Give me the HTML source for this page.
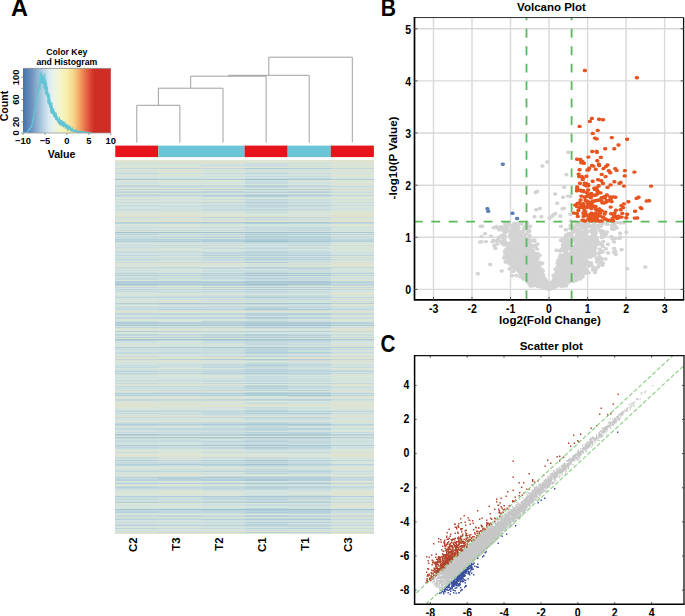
<!DOCTYPE html>
<html><head><meta charset="utf-8"><title>Figure</title>
<style>html,body{margin:0;padding:0;background:#fff;}body{width:685px;height:616px;overflow:hidden;font-family:"Liberation Sans",sans-serif;}svg{display:block;}</style>
</head><body>
<svg width="685" height="616" viewBox="0 0 685 616"><text x="10.9" y="15.9" font-size="23.5" font-weight="bold" font-family="Liberation Sans, sans-serif">A</text>
<text x="66.8" y="55" font-size="8.7" font-weight="bold" text-anchor="middle" font-family="Liberation Sans, sans-serif">Color Key</text>
<text x="66.8" y="64.6" font-size="8.7" font-weight="bold" text-anchor="middle" font-family="Liberation Sans, sans-serif">and Histogram</text>
<defs><linearGradient id="ck" x1="0" x2="1" y1="0" y2="0"><stop offset="0.000" stop-color="#4672ac"/><stop offset="0.100" stop-color="#6d93bf"/><stop offset="0.175" stop-color="#97b8d5"/><stop offset="0.250" stop-color="#c2d9e8"/><stop offset="0.300" stop-color="#dcebf2"/><stop offset="0.350" stop-color="#e9f3ea"/><stop offset="0.425" stop-color="#f4f5c8"/><stop offset="0.500" stop-color="#f8eeac"/><stop offset="0.575" stop-color="#f7d58b"/><stop offset="0.625" stop-color="#f4b26e"/><stop offset="0.675" stop-color="#ee8a56"/><stop offset="0.725" stop-color="#e46443"/><stop offset="0.775" stop-color="#d8412f"/><stop offset="0.815" stop-color="#cf2e27"/><stop offset="1.000" stop-color="#cf2e27"/></linearGradient></defs>
<rect x="23.0" y="68.4" width="87.8" height="64.6" fill="url(#ck)"/>
<polyline points="23.00,133.00 23.23,132.91 23.46,132.94 23.69,132.98 23.92,132.88 24.15,132.92 24.37,132.70 24.60,132.43 24.83,132.70 25.06,132.68 25.29,132.42 25.52,132.40 25.75,132.40 25.98,132.57 26.21,132.33 26.44,132.12 26.66,132.53 26.89,132.28 27.12,132.58 27.35,132.27 27.58,132.17 27.81,131.43 28.04,131.49 28.27,130.68 28.50,130.42 28.73,130.26 28.96,130.94 29.18,129.84 29.41,129.34 29.64,128.98 29.87,129.47 30.10,128.68 30.33,128.65 30.56,128.29 30.79,127.01 31.02,127.73 31.25,127.01 31.47,126.20 31.70,126.76 31.93,125.56 32.16,124.18 32.39,122.97 32.62,122.71 32.85,120.48 33.08,118.17 33.31,119.42 33.54,116.05 33.77,115.49 33.99,114.99 34.22,111.11 34.45,111.10 34.68,111.93 34.91,109.33 35.14,107.53 35.37,107.16 35.60,104.90 35.83,104.55 36.06,102.35 36.28,100.03 36.51,101.37 36.74,98.90 36.97,98.45 37.20,96.33 37.43,96.81 37.66,94.65 37.89,92.78 38.12,89.86 38.35,88.14 38.57,90.48 38.80,88.74 39.03,85.61 39.26,88.74 39.49,85.45 39.72,84.17 39.95,77.86 40.18,79.15 40.41,82.30 40.64,81.55 40.87,80.14 41.09,71.84 41.32,79.12 41.55,78.98 41.78,76.64 42.01,78.99 42.24,79.69 42.47,83.85 42.70,79.70 42.93,81.85 43.16,75.68 43.38,78.17 43.61,81.30 43.84,78.90 44.07,83.34 44.30,78.16 44.53,82.78 44.76,81.19 44.99,89.45 45.22,83.95 45.45,92.68 45.68,94.83 45.90,89.13 46.13,92.24 46.36,89.18 46.59,82.48 46.82,94.59 47.05,94.71 47.28,92.65 47.51,92.55 47.74,95.78 47.97,96.77 48.19,94.60 48.42,96.13 48.65,102.16 48.88,99.92 49.11,100.44 49.34,104.78 49.57,101.54 49.80,105.88 50.03,101.16 50.26,104.01 50.49,104.81 50.71,107.30 50.94,106.39 51.17,112.32 51.40,110.27 51.63,106.48 51.86,113.99 52.09,106.12 52.32,113.79 52.55,107.39 52.78,112.23 53.00,108.35 53.23,110.57 53.46,115.43 53.69,108.66 53.92,108.69 54.15,113.03 54.38,114.04 54.61,114.23 54.84,116.70 55.07,112.17 55.30,116.59 55.52,115.91 55.75,118.11 55.98,118.19 56.21,120.11 56.44,114.96 56.67,118.56 56.90,116.65 57.13,119.17 57.36,121.12 57.59,120.83 57.81,121.46 58.04,120.47 58.27,121.39 58.50,121.39 58.73,123.66 58.96,122.67 59.19,118.04 59.42,122.70 59.65,123.58 59.88,121.06 60.11,119.20 60.33,124.74 60.56,122.55 60.79,123.49 61.02,125.71 61.25,121.28 61.48,122.82 61.71,122.80 61.94,124.42 62.17,122.42 62.40,124.33 62.62,123.78 62.85,125.61 63.08,125.93 63.31,121.71 63.54,125.00 63.77,123.81 64.00,124.51 64.23,125.33 64.46,125.58 64.69,123.89 64.91,125.54 65.14,125.45 65.37,125.33 65.60,123.68 65.83,124.62 66.06,125.24 66.29,126.83 66.52,128.19 66.75,124.87 66.98,125.01 67.21,126.79 67.43,125.96 67.66,125.78 67.89,125.88 68.12,125.92 68.35,127.96 68.58,125.44 68.81,129.27 69.04,126.60 69.27,127.21 69.50,126.86 69.72,125.72 69.95,126.37 70.18,129.78 70.41,130.55 70.64,127.62 70.87,129.94 71.10,128.87 71.33,128.01 71.56,130.99 71.79,131.61 72.02,129.07 72.24,129.43 72.47,129.87 72.70,129.69 72.93,130.75 73.16,131.52 73.39,130.27 73.62,131.18 73.85,131.93 74.08,130.01 74.31,130.66 74.53,130.37 74.76,131.72 74.99,131.54 75.22,131.86 75.45,131.80 75.68,130.93 75.91,131.77 76.14,130.88 76.37,130.93 76.60,129.62 76.83,132.38 77.05,130.61 77.28,131.41 77.51,131.39 77.74,132.52 77.97,131.80 78.20,130.92 78.43,131.58 78.66,131.49 78.89,131.80 79.12,130.79 79.34,131.67 79.57,133.00 79.80,132.21 80.03,133.00 80.26,133.00 80.49,132.19 80.72,130.98 80.95,131.87 81.18,132.70 81.41,132.58 81.64,131.30 81.86,131.95 82.09,132.05 82.32,132.15 82.55,132.13 82.78,131.71 83.01,131.90 83.24,132.13 83.47,132.87 83.70,132.05 83.93,132.73 84.15,131.82 84.38,133.00 84.61,132.53 84.84,132.48 85.07,133.00 85.30,131.66 85.53,131.82 85.76,132.77 85.99,132.20 86.22,132.41 86.45,133.00 86.67,132.50 86.90,132.66 87.13,132.62 87.36,133.00 87.59,132.81 87.82,132.78 88.05,132.23 88.28,132.61 88.51,132.77 88.74,132.18 88.96,133.00 89.19,132.97 89.42,133.00 89.65,132.28 89.88,132.53 90.11,132.57 90.34,132.68 90.57,132.89 90.80,132.88 91.03,133.00 91.25,133.00 91.48,132.98" fill="none" stroke="#62c4d4" stroke-width="0.85" stroke-opacity="0.85"/>
<polyline points="23.00,132.82 23.23,132.88 23.46,132.91 23.69,132.94 23.92,132.90 24.15,132.50 24.37,132.62 24.60,132.65 24.83,132.68 25.06,132.77 25.29,132.53 25.52,132.29 25.75,132.50 25.98,132.42 26.21,132.37 26.44,132.25 26.66,132.59 26.89,132.23 27.12,132.33 27.35,131.70 27.58,131.86 27.81,131.17 28.04,130.55 28.27,130.88 28.50,130.71 28.73,130.12 28.96,129.90 29.18,130.04 29.41,129.11 29.64,128.10 29.87,128.86 30.10,128.55 30.33,128.69 30.56,127.70 30.79,128.24 31.02,127.89 31.25,126.28 31.47,127.22 31.70,125.78 31.93,124.54 32.16,124.08 32.39,122.62 32.62,120.30 32.85,120.70 33.08,119.80 33.31,119.25 33.54,116.80 33.77,114.21 33.99,113.43 34.22,114.07 34.45,112.77 34.68,111.19 34.91,109.10 35.14,108.41 35.37,106.70 35.60,105.36 35.83,104.83 36.06,103.22 36.28,101.58 36.51,100.61 36.74,98.51 36.97,95.34 37.20,95.70 37.43,95.09 37.66,96.20 37.89,91.94 38.12,93.99 38.35,91.91 38.57,87.22 38.80,86.47 39.03,86.83 39.26,88.31 39.49,85.31 39.72,86.46 39.95,80.32 40.18,72.86 40.41,80.10 40.64,83.22 40.87,83.93 41.09,78.40 41.32,78.07 41.55,82.52 41.78,77.62 42.01,83.26 42.24,74.29 42.47,74.90 42.70,75.21 42.93,81.98 43.16,78.34 43.38,81.35 43.61,82.77 43.84,82.96 44.07,87.19 44.30,88.13 44.53,79.59 44.76,84.25 44.99,83.55 45.22,81.41 45.45,92.85 45.68,90.07 45.90,87.33 46.13,87.42 46.36,91.18 46.59,86.92 46.82,90.82 47.05,96.81 47.28,96.67 47.51,91.46 47.74,93.57 47.97,102.55 48.19,92.42 48.42,95.87 48.65,94.34 48.88,100.90 49.11,101.50 49.34,105.01 49.57,94.46 49.80,103.79 50.03,99.30 50.26,106.52 50.49,104.58 50.71,110.48 50.94,107.16 51.17,103.68 51.40,110.61 51.63,104.46 51.86,107.04 52.09,111.39 52.32,110.35 52.55,110.71 52.78,110.08 53.00,111.86 53.23,113.11 53.46,112.20 53.69,114.55 53.92,115.68 54.15,112.99 54.38,111.15 54.61,117.61 54.84,114.32 55.07,116.38 55.30,117.62 55.52,113.79 55.75,117.47 55.98,113.35 56.21,119.00 56.44,116.88 56.67,118.72 56.90,120.32 57.13,117.96 57.36,120.01 57.59,118.95 57.81,120.43 58.04,122.66 58.27,120.84 58.50,120.69 58.73,119.06 58.96,122.87 59.19,121.33 59.42,124.72 59.65,120.31 59.88,123.77 60.11,125.28 60.33,122.12 60.56,120.10 60.79,125.14 61.02,124.47 61.25,123.98 61.48,124.82 61.71,122.24 61.94,124.52 62.17,124.51 62.40,122.36 62.62,124.86 62.85,122.94 63.08,125.51 63.31,126.06 63.54,127.25 63.77,121.17 64.00,124.98 64.23,124.20 64.46,124.80 64.69,124.65 64.91,124.98 65.14,122.18 65.37,127.00 65.60,127.94 65.83,127.23 66.06,127.86 66.29,124.84 66.52,124.90 66.75,127.70 66.98,128.47 67.21,127.10 67.43,124.74 67.66,130.88 67.89,126.30 68.12,128.68 68.35,125.93 68.58,128.94 68.81,127.99 69.04,129.72 69.27,129.13 69.50,126.20 69.72,127.06 69.95,128.74 70.18,129.44 70.41,130.80 70.64,129.08 70.87,128.77 71.10,128.96 71.33,129.09 71.56,130.39 71.79,129.31 72.02,129.40 72.24,128.07 72.47,127.60 72.70,129.88 72.93,130.65 73.16,130.05 73.39,130.71 73.62,130.96 73.85,130.41 74.08,131.46 74.31,130.05 74.53,130.82 74.76,130.64 74.99,131.13 75.22,131.64 75.45,131.85 75.68,131.29 75.91,131.58 76.14,130.98 76.37,131.20 76.60,132.33 76.83,131.22 77.05,132.36 77.28,131.82 77.51,131.60 77.74,133.00 77.97,131.38 78.20,131.37 78.43,131.63 78.66,131.86 78.89,131.86 79.12,132.33 79.34,131.85 79.57,132.08 79.80,131.66 80.03,132.59 80.26,131.64 80.49,131.74 80.72,131.96 80.95,132.19 81.18,131.58 81.41,133.00 81.64,131.72 81.86,131.89 82.09,131.91 82.32,131.88 82.55,132.54 82.78,132.34 83.01,131.85 83.24,132.01 83.47,132.18 83.70,133.00 83.93,132.07 84.15,131.78 84.38,131.91 84.61,132.34 84.84,133.00 85.07,132.02 85.30,132.58 85.53,133.00 85.76,132.37 85.99,133.00 86.22,133.00 86.45,132.89 86.67,132.04 86.90,132.80 87.13,132.54 87.36,131.91 87.59,132.01 87.82,132.75 88.05,132.83 88.28,133.00 88.51,133.00 88.74,132.61 88.96,132.65 89.19,132.78 89.42,132.47 89.65,133.00 89.88,132.89 90.11,132.64 90.34,132.71 90.57,132.57 90.80,132.82 91.03,133.00 91.25,132.87 91.48,133.00" fill="none" stroke="#62c4d4" stroke-width="0.85" stroke-opacity="0.85"/>
<polyline points="23.00,133.00 23.23,132.88 23.46,132.91 23.69,132.81 23.92,133.00 24.15,132.82 24.37,132.81 24.60,132.81 24.83,133.00 25.06,132.63 25.29,132.34 25.52,132.39 25.75,132.54 25.98,132.37 26.21,132.16 26.44,132.89 26.66,132.25 26.89,132.05 27.12,131.96 27.35,131.49 27.58,131.32 27.81,131.26 28.04,130.96 28.27,130.49 28.50,130.68 28.73,130.21 28.96,129.53 29.18,128.77 29.41,129.39 29.64,129.05 29.87,128.64 30.10,127.79 30.33,128.17 30.56,127.10 30.79,128.09 31.02,127.39 31.25,127.11 31.47,126.25 31.70,125.80 31.93,126.43 32.16,124.87 32.39,122.78 32.62,122.28 32.85,121.76 33.08,118.44 33.31,117.64 33.54,116.39 33.77,116.05 33.99,113.36 34.22,113.37 34.45,110.75 34.68,111.62 34.91,110.35 35.14,107.95 35.37,107.75 35.60,104.91 35.83,104.16 36.06,104.30 36.28,101.74 36.51,100.95 36.74,97.97 36.97,98.68 37.20,97.10 37.43,93.49 37.66,90.68 37.89,89.64 38.12,91.07 38.35,89.51 38.57,86.20 38.80,87.73 39.03,88.10 39.26,85.49 39.49,84.02 39.72,87.06 39.95,89.40 40.18,87.68 40.41,78.29 40.64,83.14 40.87,79.69 41.09,77.28 41.32,74.74 41.55,79.11 41.78,76.03 42.01,82.18 42.24,80.37 42.47,83.48 42.70,75.01 42.93,80.15 43.16,83.44 43.38,82.24 43.61,82.10 43.84,78.77 44.07,88.38 44.30,86.51 44.53,84.26 44.76,73.50 44.99,80.66 45.22,85.73 45.45,83.46 45.68,79.26 45.90,88.87 46.13,90.25 46.36,85.31 46.59,88.88 46.82,89.15 47.05,94.29 47.28,86.57 47.51,88.30 47.74,93.21 47.97,93.73 48.19,103.80 48.42,95.74 48.65,99.40 48.88,98.25 49.11,98.37 49.34,102.53 49.57,107.61 49.80,102.12 50.03,106.34 50.26,105.57 50.49,106.87 50.71,106.56 50.94,112.79 51.17,103.01 51.40,106.29 51.63,104.35 51.86,102.42 52.09,108.42 52.32,113.94 52.55,111.90 52.78,113.21 53.00,111.77 53.23,110.71 53.46,116.65 53.69,111.00 53.92,116.24 54.15,112.11 54.38,113.63 54.61,114.61 54.84,114.50 55.07,116.11 55.30,116.75 55.52,119.73 55.75,116.34 55.98,112.56 56.21,112.81 56.44,114.82 56.67,116.69 56.90,120.16 57.13,116.17 57.36,119.80 57.59,120.31 57.81,120.92 58.04,120.30 58.27,121.51 58.50,120.96 58.73,123.08 58.96,121.83 59.19,116.82 59.42,121.54 59.65,122.01 59.88,120.69 60.11,120.52 60.33,124.10 60.56,122.55 60.79,120.61 61.02,121.97 61.25,122.40 61.48,119.95 61.71,124.15 61.94,122.93 62.17,124.15 62.40,120.76 62.62,126.95 62.85,124.85 63.08,124.75 63.31,122.86 63.54,123.12 63.77,121.96 64.00,127.07 64.23,123.36 64.46,125.23 64.69,125.98 64.91,124.19 65.14,126.67 65.37,128.63 65.60,126.09 65.83,127.98 66.06,126.81 66.29,125.41 66.52,125.66 66.75,123.93 66.98,126.72 67.21,128.80 67.43,127.82 67.66,128.19 67.89,128.74 68.12,126.59 68.35,128.22 68.58,130.15 68.81,126.68 69.04,127.88 69.27,127.39 69.50,127.85 69.72,127.30 69.95,128.19 70.18,126.82 70.41,127.96 70.64,128.13 70.87,128.24 71.10,130.57 71.33,129.17 71.56,129.40 71.79,129.00 72.02,130.86 72.24,127.70 72.47,129.49 72.70,131.01 72.93,131.63 73.16,130.27 73.39,130.19 73.62,130.93 73.85,130.27 74.08,131.08 74.31,130.10 74.53,131.38 74.76,130.89 74.99,130.15 75.22,128.86 75.45,131.90 75.68,131.48 75.91,131.82 76.14,130.53 76.37,132.13 76.60,131.62 76.83,131.30 77.05,132.08 77.28,132.09 77.51,131.74 77.74,133.00 77.97,132.54 78.20,131.79 78.43,131.41 78.66,131.69 78.89,132.88 79.12,131.96 79.34,131.09 79.57,131.30 79.80,131.78 80.03,132.37 80.26,131.37 80.49,132.22 80.72,132.65 80.95,132.43 81.18,131.00 81.41,131.83 81.64,131.28 81.86,132.34 82.09,131.50 82.32,132.48 82.55,132.24 82.78,130.73 83.01,131.78 83.24,132.54 83.47,132.34 83.70,132.15 83.93,131.71 84.15,132.65 84.38,133.00 84.61,132.60 84.84,132.47 85.07,132.44 85.30,131.86 85.53,132.37 85.76,132.16 85.99,133.00 86.22,132.18 86.45,131.63 86.67,132.27 86.90,132.52 87.13,132.59 87.36,131.89 87.59,133.00 87.82,132.76 88.05,132.54 88.28,132.44 88.51,132.94 88.74,132.66 88.96,132.91 89.19,132.77 89.42,132.89 89.65,133.00 89.88,132.88 90.11,132.59 90.34,133.00 90.57,133.00 90.80,132.73 91.03,133.00 91.25,132.93 91.48,133.00" fill="none" stroke="#62c4d4" stroke-width="0.85" stroke-opacity="0.85"/>
<line x1="23.0" y1="68.4" x2="110.8" y2="68.4" stroke="#888" stroke-width="0.8"/>
<line x1="23.0" y1="133.0" x2="110.8" y2="133.0" stroke="#999" stroke-width="0.8"/>
<line x1="21.0" y1="133.0" x2="23.0" y2="133.0" stroke="#888" stroke-width="0.8"/>
<line x1="21.0" y1="121.9" x2="23.0" y2="121.9" stroke="#888" stroke-width="0.8"/>
<line x1="21.0" y1="110.7" x2="23.0" y2="110.7" stroke="#888" stroke-width="0.8"/>
<line x1="21.0" y1="99.6" x2="23.0" y2="99.6" stroke="#888" stroke-width="0.8"/>
<line x1="21.0" y1="88.4" x2="23.0" y2="88.4" stroke="#888" stroke-width="0.8"/>
<line x1="21.0" y1="77.3" x2="23.0" y2="77.3" stroke="#888" stroke-width="0.8"/>
<text transform="translate(19.3 133.0) rotate(-90)" font-size="9.4" font-weight="bold" text-anchor="middle" font-family="Liberation Sans, sans-serif">0</text>
<text transform="translate(19.3 121.9) rotate(-90)" font-size="9.4" font-weight="bold" text-anchor="middle" font-family="Liberation Sans, sans-serif">20</text>
<text transform="translate(19.3 99.6) rotate(-90)" font-size="9.4" font-weight="bold" text-anchor="middle" font-family="Liberation Sans, sans-serif">60</text>
<text transform="translate(19.3 77.3) rotate(-90)" font-size="9.4" font-weight="bold" text-anchor="middle" font-family="Liberation Sans, sans-serif">100</text>
<text transform="translate(7.8 106) rotate(-90)" font-size="10.6" font-weight="bold" text-anchor="middle" font-family="Liberation Sans, sans-serif">Count</text>
<line x1="23.0" y1="133.0" x2="23.0" y2="135.0" stroke="#888" stroke-width="0.8"/>
<text x="23.0" y="144.2" font-size="9.4" font-weight="bold" text-anchor="middle" font-family="Liberation Sans, sans-serif">−10</text>
<line x1="45.0" y1="133.0" x2="45.0" y2="135.0" stroke="#888" stroke-width="0.8"/>
<text x="45.0" y="144.2" font-size="9.4" font-weight="bold" text-anchor="middle" font-family="Liberation Sans, sans-serif">−5</text>
<line x1="66.9" y1="133.0" x2="66.9" y2="135.0" stroke="#888" stroke-width="0.8"/>
<text x="66.9" y="144.2" font-size="9.4" font-weight="bold" text-anchor="middle" font-family="Liberation Sans, sans-serif">0</text>
<line x1="88.8" y1="133.0" x2="88.8" y2="135.0" stroke="#888" stroke-width="0.8"/>
<text x="88.8" y="144.2" font-size="9.4" font-weight="bold" text-anchor="middle" font-family="Liberation Sans, sans-serif">5</text>
<line x1="110.8" y1="133.0" x2="110.8" y2="135.0" stroke="#888" stroke-width="0.8"/>
<text x="110.8" y="144.2" font-size="9.4" font-weight="bold" text-anchor="middle" font-family="Liberation Sans, sans-serif">10</text>
<text x="61.5" y="157.6" font-size="10.6" font-weight="bold" text-anchor="middle" font-family="Liberation Sans, sans-serif">Value</text>
<path d="M136.8 142.5V105.3M179.9 142.5V105.3M136.8 105.3H179.9M158.4 105.3V88.2M223.0 142.5V88.2M158.4 88.2H223.0M190.7 88.2V76.2M266.1 142.5V76.2M190.7 76.2H266.1M228.4 76.2V75.3M309.2 142.5V75.3M228.4 75.3H309.2M268.8 75.3V57.2M352.3 142.5V57.2M268.8 57.2H352.3" stroke="#a0a0a0" stroke-width="1" fill="none"/>
<rect x="115.25" y="145.6" width="43.11" height="11.5" fill="#e8141b"/>
<rect x="158.36" y="145.6" width="86.22" height="11.5" fill="#6cc5d6"/>
<rect x="244.57" y="145.6" width="43.11" height="11.5" fill="#e8141b"/>
<rect x="287.68" y="145.6" width="43.11" height="11.5" fill="#6cc5d6"/>
<rect x="330.79" y="145.6" width="43.11" height="11.5" fill="#e8141b"/>
<filter id="hb" x="0" y="0" width="1" height="1"><feGaussianBlur stdDeviation="0.2 0.35"/></filter><g filter="url(#hb)" shape-rendering="crispEdges">
<path fill="#dde5d3" d="M115.2 160.10h43.1v1.02h-43.1zM115.2 221.05h43.1v1.02h-43.1zM115.2 231.04h43.1v1.02h-43.1zM115.2 381.92h43.1v1.02h-43.1zM115.2 396.91h43.1v1.02h-43.1zM115.2 450.87h43.1v1.02h-43.1zM115.2 455.86h43.1v1.02h-43.1zM115.2 467.85h43.1v1.02h-43.1zM158.4 190.08h43.1v1.02h-43.1zM158.4 249.03h43.1v1.02h-43.1zM158.4 266.01h43.1v1.02h-43.1zM158.4 276.01h43.1v1.02h-43.1zM158.4 299.99h43.1v1.02h-43.1zM158.4 367.93h43.1v1.02h-43.1zM158.4 420.89h43.1v1.02h-43.1zM158.4 453.86h43.1v1.02h-43.1zM158.4 484.84h43.1v1.02h-43.1zM158.4 490.83h43.1v1.02h-43.1zM158.4 491.83h43.1v1.02h-43.1zM158.4 493.83h43.1v1.02h-43.1zM158.4 502.82h43.1v1.02h-43.1zM201.5 188.08h43.1v1.02h-43.1zM201.5 246.03h43.1v1.02h-43.1zM201.5 328.96h43.1v1.02h-43.1zM201.5 337.96h43.1v1.02h-43.1zM201.5 420.89h43.1v1.02h-43.1zM201.5 435.88h43.1v1.02h-43.1zM201.5 453.86h43.1v1.02h-43.1zM201.5 474.85h43.1v1.02h-43.1zM244.6 221.05h43.1v1.02h-43.1zM244.6 474.85h43.1v1.02h-43.1zM287.7 167.09h43.1v1.02h-43.1zM287.7 286.00h43.1v1.02h-43.1zM287.7 390.91h43.1v1.02h-43.1zM330.8 181.08h43.1v1.02h-43.1zM330.8 280.00h43.1v1.02h-43.1zM330.8 319.97h43.1v1.02h-43.1zM330.8 325.97h43.1v1.02h-43.1zM330.8 332.96h43.1v1.02h-43.1zM330.8 408.90h43.1v1.02h-43.1zM330.8 490.83h43.1v1.02h-43.1z"/>
<path fill="#e2e1cd" d="M115.2 161.10h43.1v1.02h-43.1zM115.2 310.98h43.1v1.02h-43.1zM115.2 357.94h43.1v1.02h-43.1zM115.2 404.90h43.1v1.02h-43.1zM115.2 415.89h43.1v1.02h-43.1zM115.2 530.80h43.1v1.02h-43.1zM158.4 161.10h43.1v1.02h-43.1zM158.4 167.09h43.1v1.02h-43.1zM158.4 216.06h43.1v1.02h-43.1zM158.4 220.05h43.1v1.02h-43.1zM158.4 310.98h43.1v1.02h-43.1zM158.4 328.96h43.1v1.02h-43.1zM158.4 360.94h43.1v1.02h-43.1zM158.4 404.90h43.1v1.02h-43.1zM158.4 415.89h43.1v1.02h-43.1zM158.4 530.80h43.1v1.02h-43.1zM201.5 161.10h43.1v1.02h-43.1zM201.5 216.06h43.1v1.02h-43.1zM201.5 263.02h43.1v1.02h-43.1zM201.5 310.98h43.1v1.02h-43.1zM201.5 357.94h43.1v1.02h-43.1zM201.5 360.94h43.1v1.02h-43.1zM201.5 400.91h43.1v1.02h-43.1zM201.5 404.90h43.1v1.02h-43.1zM201.5 415.89h43.1v1.02h-43.1zM201.5 530.80h43.1v1.02h-43.1zM244.6 216.06h43.1v1.02h-43.1zM244.6 530.80h43.1v1.02h-43.1zM287.7 404.90h43.1v1.02h-43.1zM287.7 530.80h43.1v1.02h-43.1zM330.8 161.10h43.1v1.02h-43.1zM330.8 162.10h43.1v1.02h-43.1zM330.8 216.06h43.1v1.02h-43.1zM330.8 220.05h43.1v1.02h-43.1zM330.8 221.05h43.1v1.02h-43.1zM330.8 263.02h43.1v1.02h-43.1zM330.8 265.02h43.1v1.02h-43.1zM330.8 286.00h43.1v1.02h-43.1zM330.8 293.99h43.1v1.02h-43.1zM330.8 301.99h43.1v1.02h-43.1zM330.8 310.98h43.1v1.02h-43.1zM330.8 328.96h43.1v1.02h-43.1zM330.8 357.94h43.1v1.02h-43.1zM330.8 360.94h43.1v1.02h-43.1zM330.8 383.92h43.1v1.02h-43.1zM330.8 400.91h43.1v1.02h-43.1zM330.8 404.90h43.1v1.02h-43.1zM330.8 415.89h43.1v1.02h-43.1zM330.8 435.88h43.1v1.02h-43.1zM330.8 453.86h43.1v1.02h-43.1zM330.8 455.86h43.1v1.02h-43.1zM330.8 516.81h43.1v1.02h-43.1zM330.8 530.80h43.1v1.02h-43.1z"/>
<path fill="#e1e2ce" d="M115.2 162.10h43.1v1.02h-43.1zM115.2 216.06h43.1v1.02h-43.1zM115.2 220.05h43.1v1.02h-43.1zM115.2 360.94h43.1v1.02h-43.1zM115.2 400.91h43.1v1.02h-43.1zM158.4 162.10h43.1v1.02h-43.1zM158.4 214.06h43.1v1.02h-43.1zM158.4 221.05h43.1v1.02h-43.1zM158.4 357.94h43.1v1.02h-43.1zM158.4 474.85h43.1v1.02h-43.1zM287.7 310.98h43.1v1.02h-43.1zM287.7 360.94h43.1v1.02h-43.1zM330.8 215.06h43.1v1.02h-43.1zM330.8 337.96h43.1v1.02h-43.1zM330.8 420.89h43.1v1.02h-43.1z"/>
<path fill="#ccdfdf" d="M115.2 163.10h43.1v1.02h-43.1zM115.2 178.09h43.1v1.02h-43.1zM115.2 199.07h43.1v1.02h-43.1zM115.2 206.06h43.1v1.02h-43.1zM115.2 238.04h43.1v1.02h-43.1zM115.2 242.03h43.1v1.02h-43.1zM115.2 268.01h43.1v1.02h-43.1zM115.2 277.01h43.1v1.02h-43.1zM115.2 295.99h43.1v1.02h-43.1zM115.2 368.93h43.1v1.02h-43.1zM115.2 379.92h43.1v1.02h-43.1zM115.2 429.88h43.1v1.02h-43.1zM115.2 481.84h43.1v1.02h-43.1zM158.4 178.09h43.1v1.02h-43.1zM158.4 196.07h43.1v1.02h-43.1zM158.4 257.02h43.1v1.02h-43.1zM158.4 291.99h43.1v1.02h-43.1zM158.4 298.99h43.1v1.02h-43.1zM158.4 307.98h43.1v1.02h-43.1zM158.4 350.95h43.1v1.02h-43.1zM158.4 355.94h43.1v1.02h-43.1zM158.4 364.94h43.1v1.02h-43.1zM158.4 368.93h43.1v1.02h-43.1zM158.4 369.93h43.1v1.02h-43.1zM158.4 386.92h43.1v1.02h-43.1zM158.4 447.87h43.1v1.02h-43.1zM158.4 457.86h43.1v1.02h-43.1zM158.4 485.84h43.1v1.02h-43.1zM201.5 170.09h43.1v1.02h-43.1zM201.5 187.08h43.1v1.02h-43.1zM201.5 207.06h43.1v1.02h-43.1zM201.5 208.06h43.1v1.02h-43.1zM201.5 247.03h43.1v1.02h-43.1zM201.5 251.03h43.1v1.02h-43.1zM201.5 270.01h43.1v1.02h-43.1zM201.5 274.01h43.1v1.02h-43.1zM201.5 291.99h43.1v1.02h-43.1zM201.5 294.99h43.1v1.02h-43.1zM201.5 347.95h43.1v1.02h-43.1zM201.5 349.95h43.1v1.02h-43.1zM201.5 426.89h43.1v1.02h-43.1zM201.5 460.86h43.1v1.02h-43.1zM201.5 504.82h43.1v1.02h-43.1zM201.5 517.81h43.1v1.02h-43.1zM201.5 525.81h43.1v1.02h-43.1zM244.6 180.08h43.1v1.02h-43.1zM244.6 201.07h43.1v1.02h-43.1zM244.6 208.06h43.1v1.02h-43.1zM244.6 226.05h43.1v1.02h-43.1zM244.6 233.04h43.1v1.02h-43.1zM244.6 235.04h43.1v1.02h-43.1zM244.6 280.00h43.1v1.02h-43.1zM244.6 292.99h43.1v1.02h-43.1zM244.6 309.98h43.1v1.02h-43.1zM244.6 318.97h43.1v1.02h-43.1zM244.6 327.97h43.1v1.02h-43.1zM244.6 407.90h43.1v1.02h-43.1zM244.6 408.90h43.1v1.02h-43.1zM244.6 413.90h43.1v1.02h-43.1zM244.6 467.85h43.1v1.02h-43.1zM244.6 471.85h43.1v1.02h-43.1zM244.6 481.84h43.1v1.02h-43.1zM244.6 483.84h43.1v1.02h-43.1zM244.6 522.81h43.1v1.02h-43.1zM287.7 163.10h43.1v1.02h-43.1zM287.7 166.10h43.1v1.02h-43.1zM287.7 170.09h43.1v1.02h-43.1zM287.7 187.08h43.1v1.02h-43.1zM287.7 199.07h43.1v1.02h-43.1zM287.7 204.06h43.1v1.02h-43.1zM287.7 208.06h43.1v1.02h-43.1zM287.7 258.02h43.1v1.02h-43.1zM287.7 260.02h43.1v1.02h-43.1zM287.7 261.02h43.1v1.02h-43.1zM287.7 264.02h43.1v1.02h-43.1zM287.7 269.01h43.1v1.02h-43.1zM287.7 270.01h43.1v1.02h-43.1zM287.7 271.01h43.1v1.02h-43.1zM287.7 272.01h43.1v1.02h-43.1zM287.7 274.01h43.1v1.02h-43.1zM287.7 300.99h43.1v1.02h-43.1zM287.7 309.98h43.1v1.02h-43.1zM287.7 349.95h43.1v1.02h-43.1zM287.7 350.95h43.1v1.02h-43.1zM287.7 365.93h43.1v1.02h-43.1zM287.7 377.93h43.1v1.02h-43.1zM287.7 378.92h43.1v1.02h-43.1zM287.7 411.90h43.1v1.02h-43.1zM287.7 429.88h43.1v1.02h-43.1zM287.7 456.86h43.1v1.02h-43.1zM287.7 483.84h43.1v1.02h-43.1zM287.7 489.84h43.1v1.02h-43.1zM287.7 505.82h43.1v1.02h-43.1zM287.7 507.82h43.1v1.02h-43.1zM287.7 519.81h43.1v1.02h-43.1zM287.7 529.80h43.1v1.02h-43.1zM330.8 205.06h43.1v1.02h-43.1zM330.8 217.05h43.1v1.02h-43.1zM330.8 227.05h43.1v1.02h-43.1zM330.8 238.04h43.1v1.02h-43.1zM330.8 245.03h43.1v1.02h-43.1zM330.8 257.02h43.1v1.02h-43.1zM330.8 277.01h43.1v1.02h-43.1zM330.8 306.98h43.1v1.02h-43.1zM330.8 307.98h43.1v1.02h-43.1zM330.8 323.97h43.1v1.02h-43.1zM330.8 333.96h43.1v1.02h-43.1zM330.8 334.96h43.1v1.02h-43.1zM330.8 386.92h43.1v1.02h-43.1zM330.8 409.90h43.1v1.02h-43.1zM330.8 446.87h43.1v1.02h-43.1zM330.8 487.84h43.1v1.02h-43.1zM330.8 523.81h43.1v1.02h-43.1z"/>
<path fill="#d9e5d9" d="M115.2 164.10h43.1v1.02h-43.1zM115.2 175.09h43.1v1.02h-43.1zM115.2 224.05h43.1v1.02h-43.1zM115.2 226.05h43.1v1.02h-43.1zM115.2 304.98h43.1v1.02h-43.1zM115.2 315.97h43.1v1.02h-43.1zM115.2 318.97h43.1v1.02h-43.1zM115.2 329.96h43.1v1.02h-43.1zM115.2 402.91h43.1v1.02h-43.1zM115.2 452.86h43.1v1.02h-43.1zM115.2 505.82h43.1v1.02h-43.1zM158.4 175.09h43.1v1.02h-43.1zM158.4 181.08h43.1v1.02h-43.1zM158.4 200.07h43.1v1.02h-43.1zM158.4 203.07h43.1v1.02h-43.1zM158.4 211.06h43.1v1.02h-43.1zM158.4 224.05h43.1v1.02h-43.1zM158.4 235.04h43.1v1.02h-43.1zM158.4 331.96h43.1v1.02h-43.1zM158.4 408.90h43.1v1.02h-43.1zM158.4 425.89h43.1v1.02h-43.1zM158.4 467.85h43.1v1.02h-43.1zM158.4 471.85h43.1v1.02h-43.1zM158.4 489.84h43.1v1.02h-43.1zM158.4 492.83h43.1v1.02h-43.1zM158.4 505.82h43.1v1.02h-43.1zM201.5 177.09h43.1v1.02h-43.1zM201.5 315.97h43.1v1.02h-43.1zM201.5 329.96h43.1v1.02h-43.1zM201.5 345.95h43.1v1.02h-43.1zM201.5 375.93h43.1v1.02h-43.1zM201.5 408.90h43.1v1.02h-43.1zM201.5 419.89h43.1v1.02h-43.1zM201.5 491.83h43.1v1.02h-43.1zM244.6 169.09h43.1v1.02h-43.1zM244.6 286.00h43.1v1.02h-43.1zM244.6 390.91h43.1v1.02h-43.1zM244.6 396.91h43.1v1.02h-43.1zM244.6 403.90h43.1v1.02h-43.1zM244.6 532.80h43.1v1.02h-43.1zM287.7 160.10h43.1v1.02h-43.1zM287.7 188.08h43.1v1.02h-43.1zM287.7 246.03h43.1v1.02h-43.1zM287.7 311.98h43.1v1.02h-43.1zM287.7 419.89h43.1v1.02h-43.1zM287.7 454.86h43.1v1.02h-43.1zM287.7 467.85h43.1v1.02h-43.1zM287.7 493.83h43.1v1.02h-43.1zM287.7 532.80h43.1v1.02h-43.1zM330.8 231.04h43.1v1.02h-43.1zM330.8 233.04h43.1v1.02h-43.1zM330.8 260.02h43.1v1.02h-43.1zM330.8 269.01h43.1v1.02h-43.1zM330.8 297.99h43.1v1.02h-43.1zM330.8 331.96h43.1v1.02h-43.1zM330.8 349.95h43.1v1.02h-43.1zM330.8 365.93h43.1v1.02h-43.1zM330.8 388.92h43.1v1.02h-43.1zM330.8 397.91h43.1v1.02h-43.1zM330.8 411.90h43.1v1.02h-43.1zM330.8 414.90h43.1v1.02h-43.1zM330.8 419.89h43.1v1.02h-43.1zM330.8 458.86h43.1v1.02h-43.1z"/>
<path fill="#d5e4de" d="M115.2 165.10h43.1v1.02h-43.1zM115.2 200.07h43.1v1.02h-43.1zM115.2 235.04h43.1v1.02h-43.1zM115.2 243.03h43.1v1.02h-43.1zM115.2 244.03h43.1v1.02h-43.1zM115.2 294.99h43.1v1.02h-43.1zM115.2 343.95h43.1v1.02h-43.1zM115.2 388.92h43.1v1.02h-43.1zM115.2 395.91h43.1v1.02h-43.1zM115.2 401.91h43.1v1.02h-43.1zM115.2 407.90h43.1v1.02h-43.1zM115.2 499.83h43.1v1.02h-43.1zM115.2 507.82h43.1v1.02h-43.1zM158.4 177.09h43.1v1.02h-43.1zM158.4 201.07h43.1v1.02h-43.1zM158.4 207.06h43.1v1.02h-43.1zM158.4 212.06h43.1v1.02h-43.1zM158.4 264.02h43.1v1.02h-43.1zM158.4 271.01h43.1v1.02h-43.1zM158.4 274.01h43.1v1.02h-43.1zM158.4 280.00h43.1v1.02h-43.1zM158.4 292.99h43.1v1.02h-43.1zM158.4 340.95h43.1v1.02h-43.1zM158.4 371.93h43.1v1.02h-43.1zM158.4 377.93h43.1v1.02h-43.1zM158.4 407.90h43.1v1.02h-43.1zM158.4 411.90h43.1v1.02h-43.1zM158.4 417.89h43.1v1.02h-43.1zM158.4 460.86h43.1v1.02h-43.1zM158.4 481.84h43.1v1.02h-43.1zM158.4 494.83h43.1v1.02h-43.1zM158.4 503.82h43.1v1.02h-43.1zM201.5 174.09h43.1v1.02h-43.1zM201.5 175.09h43.1v1.02h-43.1zM201.5 183.08h43.1v1.02h-43.1zM201.5 233.04h43.1v1.02h-43.1zM201.5 261.02h43.1v1.02h-43.1zM201.5 264.02h43.1v1.02h-43.1zM201.5 269.01h43.1v1.02h-43.1zM201.5 309.98h43.1v1.02h-43.1zM201.5 327.97h43.1v1.02h-43.1zM201.5 343.95h43.1v1.02h-43.1zM201.5 376.93h43.1v1.02h-43.1zM201.5 448.87h43.1v1.02h-43.1zM201.5 526.81h43.1v1.02h-43.1zM201.5 528.80h43.1v1.02h-43.1zM244.6 193.07h43.1v1.02h-43.1zM244.6 311.98h43.1v1.02h-43.1zM244.6 332.96h43.1v1.02h-43.1zM244.6 450.87h43.1v1.02h-43.1zM244.6 452.86h43.1v1.02h-43.1zM287.7 172.09h43.1v1.02h-43.1zM287.7 201.07h43.1v1.02h-43.1zM287.7 215.06h43.1v1.02h-43.1zM287.7 218.05h43.1v1.02h-43.1zM287.7 249.03h43.1v1.02h-43.1zM287.7 250.03h43.1v1.02h-43.1zM287.7 288.00h43.1v1.02h-43.1zM287.7 315.97h43.1v1.02h-43.1zM287.7 318.97h43.1v1.02h-43.1zM287.7 319.97h43.1v1.02h-43.1zM287.7 408.90h43.1v1.02h-43.1zM287.7 430.88h43.1v1.02h-43.1zM287.7 466.85h43.1v1.02h-43.1zM287.7 491.83h43.1v1.02h-43.1zM287.7 522.81h43.1v1.02h-43.1zM330.8 163.10h43.1v1.02h-43.1zM330.8 170.09h43.1v1.02h-43.1zM330.8 176.09h43.1v1.02h-43.1zM330.8 219.05h43.1v1.02h-43.1zM330.8 228.05h43.1v1.02h-43.1zM330.8 243.03h43.1v1.02h-43.1zM330.8 278.01h43.1v1.02h-43.1zM330.8 290.00h43.1v1.02h-43.1zM330.8 342.95h43.1v1.02h-43.1zM330.8 359.94h43.1v1.02h-43.1zM330.8 371.93h43.1v1.02h-43.1zM330.8 380.92h43.1v1.02h-43.1zM330.8 417.89h43.1v1.02h-43.1zM330.8 418.89h43.1v1.02h-43.1zM330.8 432.88h43.1v1.02h-43.1zM330.8 461.86h43.1v1.02h-43.1zM330.8 465.85h43.1v1.02h-43.1zM330.8 471.85h43.1v1.02h-43.1zM330.8 507.82h43.1v1.02h-43.1zM330.8 529.80h43.1v1.02h-43.1z"/>
<path fill="#d8e5db" d="M115.2 166.10h43.1v1.02h-43.1zM115.2 184.08h43.1v1.02h-43.1zM115.2 197.07h43.1v1.02h-43.1zM115.2 203.07h43.1v1.02h-43.1zM115.2 280.00h43.1v1.02h-43.1zM115.2 299.99h43.1v1.02h-43.1zM115.2 325.97h43.1v1.02h-43.1zM115.2 408.90h43.1v1.02h-43.1zM115.2 419.89h43.1v1.02h-43.1zM115.2 425.89h43.1v1.02h-43.1zM115.2 458.86h43.1v1.02h-43.1zM115.2 490.83h43.1v1.02h-43.1zM115.2 526.81h43.1v1.02h-43.1zM115.2 528.80h43.1v1.02h-43.1zM158.4 225.05h43.1v1.02h-43.1zM158.4 231.04h43.1v1.02h-43.1zM158.4 256.02h43.1v1.02h-43.1zM158.4 269.01h43.1v1.02h-43.1zM158.4 315.97h43.1v1.02h-43.1zM158.4 325.97h43.1v1.02h-43.1zM158.4 329.96h43.1v1.02h-43.1zM158.4 342.95h43.1v1.02h-43.1zM158.4 359.94h43.1v1.02h-43.1zM158.4 384.92h43.1v1.02h-43.1zM158.4 395.91h43.1v1.02h-43.1zM158.4 414.90h43.1v1.02h-43.1zM158.4 449.87h43.1v1.02h-43.1zM158.4 483.84h43.1v1.02h-43.1zM158.4 513.82h43.1v1.02h-43.1zM158.4 520.81h43.1v1.02h-43.1zM201.5 193.07h43.1v1.02h-43.1zM201.5 213.06h43.1v1.02h-43.1zM201.5 215.06h43.1v1.02h-43.1zM201.5 218.05h43.1v1.02h-43.1zM201.5 225.05h43.1v1.02h-43.1zM201.5 226.05h43.1v1.02h-43.1zM201.5 231.04h43.1v1.02h-43.1zM201.5 250.03h43.1v1.02h-43.1zM201.5 304.98h43.1v1.02h-43.1zM201.5 367.93h43.1v1.02h-43.1zM201.5 418.89h43.1v1.02h-43.1zM201.5 452.86h43.1v1.02h-43.1zM201.5 466.85h43.1v1.02h-43.1zM201.5 471.85h43.1v1.02h-43.1zM201.5 490.83h43.1v1.02h-43.1zM201.5 502.82h43.1v1.02h-43.1zM201.5 522.81h43.1v1.02h-43.1zM244.6 265.02h43.1v1.02h-43.1zM244.6 299.99h43.1v1.02h-43.1zM244.6 345.95h43.1v1.02h-43.1zM244.6 420.89h43.1v1.02h-43.1zM244.6 454.86h43.1v1.02h-43.1zM244.6 513.82h43.1v1.02h-43.1zM287.7 169.09h43.1v1.02h-43.1zM287.7 180.08h43.1v1.02h-43.1zM287.7 184.08h43.1v1.02h-43.1zM287.7 193.07h43.1v1.02h-43.1zM287.7 276.01h43.1v1.02h-43.1zM287.7 293.99h43.1v1.02h-43.1zM287.7 374.93h43.1v1.02h-43.1zM287.7 452.86h43.1v1.02h-43.1zM287.7 453.86h43.1v1.02h-43.1zM287.7 480.84h43.1v1.02h-43.1zM287.7 492.83h43.1v1.02h-43.1zM330.8 172.09h43.1v1.02h-43.1zM330.8 183.08h43.1v1.02h-43.1zM330.8 249.03h43.1v1.02h-43.1zM330.8 258.02h43.1v1.02h-43.1zM330.8 274.01h43.1v1.02h-43.1zM330.8 291.99h43.1v1.02h-43.1zM330.8 335.96h43.1v1.02h-43.1zM330.8 347.95h43.1v1.02h-43.1zM330.8 354.94h43.1v1.02h-43.1zM330.8 375.93h43.1v1.02h-43.1zM330.8 376.93h43.1v1.02h-43.1zM330.8 402.91h43.1v1.02h-43.1zM330.8 406.90h43.1v1.02h-43.1zM330.8 407.90h43.1v1.02h-43.1zM330.8 426.89h43.1v1.02h-43.1zM330.8 448.87h43.1v1.02h-43.1zM330.8 475.85h43.1v1.02h-43.1zM330.8 489.84h43.1v1.02h-43.1z"/>
<path fill="#dee5d2" d="M115.2 167.09h43.1v1.02h-43.1zM115.2 169.09h43.1v1.02h-43.1zM115.2 193.07h43.1v1.02h-43.1zM115.2 211.06h43.1v1.02h-43.1zM115.2 311.98h43.1v1.02h-43.1zM115.2 345.95h43.1v1.02h-43.1zM115.2 420.89h43.1v1.02h-43.1zM115.2 435.88h43.1v1.02h-43.1zM115.2 513.82h43.1v1.02h-43.1zM158.4 286.00h43.1v1.02h-43.1zM158.4 381.92h43.1v1.02h-43.1zM158.4 458.86h43.1v1.02h-43.1zM158.4 473.85h43.1v1.02h-43.1zM158.4 532.80h43.1v1.02h-43.1zM201.5 167.09h43.1v1.02h-43.1zM201.5 171.09h43.1v1.02h-43.1zM201.5 214.06h43.1v1.02h-43.1zM201.5 381.92h43.1v1.02h-43.1zM201.5 532.80h43.1v1.02h-43.1zM244.6 356.94h43.1v1.02h-43.1zM244.6 360.94h43.1v1.02h-43.1zM287.7 396.91h43.1v1.02h-43.1zM287.7 435.88h43.1v1.02h-43.1zM330.8 175.09h43.1v1.02h-43.1zM330.8 197.07h43.1v1.02h-43.1zM330.8 218.05h43.1v1.02h-43.1zM330.8 256.02h43.1v1.02h-43.1zM330.8 315.97h43.1v1.02h-43.1zM330.8 367.93h43.1v1.02h-43.1zM330.8 381.92h43.1v1.02h-43.1zM330.8 425.89h43.1v1.02h-43.1zM330.8 452.86h43.1v1.02h-43.1zM330.8 466.85h43.1v1.02h-43.1zM330.8 502.82h43.1v1.02h-43.1z"/>
<path fill="#c2d8de" d="M115.2 168.09h43.1v1.02h-43.1zM115.2 173.09h43.1v1.02h-43.1zM115.2 185.08h43.1v1.02h-43.1zM115.2 237.04h43.1v1.02h-43.1zM115.2 287.00h43.1v1.02h-43.1zM115.2 308.98h43.1v1.02h-43.1zM115.2 317.97h43.1v1.02h-43.1zM115.2 352.95h43.1v1.02h-43.1zM115.2 366.93h43.1v1.02h-43.1zM115.2 382.92h43.1v1.02h-43.1zM115.2 385.92h43.1v1.02h-43.1zM115.2 412.90h43.1v1.02h-43.1zM115.2 446.87h43.1v1.02h-43.1zM115.2 461.86h43.1v1.02h-43.1zM115.2 487.84h43.1v1.02h-43.1zM115.2 509.82h43.1v1.02h-43.1zM115.2 523.81h43.1v1.02h-43.1zM158.4 223.05h43.1v1.02h-43.1zM158.4 259.02h43.1v1.02h-43.1zM158.4 277.01h43.1v1.02h-43.1zM158.4 323.97h43.1v1.02h-43.1zM158.4 348.95h43.1v1.02h-43.1zM158.4 351.95h43.1v1.02h-43.1zM158.4 398.91h43.1v1.02h-43.1zM158.4 427.89h43.1v1.02h-43.1zM158.4 510.82h43.1v1.02h-43.1zM201.5 245.03h43.1v1.02h-43.1zM201.5 252.03h43.1v1.02h-43.1zM201.5 262.02h43.1v1.02h-43.1zM201.5 268.01h43.1v1.02h-43.1zM201.5 290.99h43.1v1.02h-43.1zM201.5 333.96h43.1v1.02h-43.1zM201.5 355.94h43.1v1.02h-43.1zM201.5 364.94h43.1v1.02h-43.1zM201.5 389.92h43.1v1.02h-43.1zM201.5 412.90h43.1v1.02h-43.1zM201.5 416.89h43.1v1.02h-43.1zM201.5 447.87h43.1v1.02h-43.1zM201.5 477.84h43.1v1.02h-43.1zM201.5 496.83h43.1v1.02h-43.1zM201.5 510.82h43.1v1.02h-43.1zM201.5 524.81h43.1v1.02h-43.1zM244.6 206.06h43.1v1.02h-43.1zM244.6 254.02h43.1v1.02h-43.1zM244.6 268.01h43.1v1.02h-43.1zM244.6 272.01h43.1v1.02h-43.1zM244.6 277.01h43.1v1.02h-43.1zM244.6 279.00h43.1v1.02h-43.1zM244.6 294.99h43.1v1.02h-43.1zM244.6 295.99h43.1v1.02h-43.1zM244.6 380.92h43.1v1.02h-43.1zM244.6 384.92h43.1v1.02h-43.1zM244.6 386.92h43.1v1.02h-43.1zM244.6 437.88h43.1v1.02h-43.1zM244.6 457.86h43.1v1.02h-43.1zM244.6 469.85h43.1v1.02h-43.1zM244.6 488.84h43.1v1.02h-43.1zM287.7 185.08h43.1v1.02h-43.1zM287.7 186.08h43.1v1.02h-43.1zM287.7 196.07h43.1v1.02h-43.1zM287.7 202.07h43.1v1.02h-43.1zM287.7 230.04h43.1v1.02h-43.1zM287.7 238.04h43.1v1.02h-43.1zM287.7 253.03h43.1v1.02h-43.1zM287.7 305.98h43.1v1.02h-43.1zM287.7 333.96h43.1v1.02h-43.1zM287.7 387.92h43.1v1.02h-43.1zM287.7 451.87h43.1v1.02h-43.1zM287.7 475.85h43.1v1.02h-43.1zM287.7 487.84h43.1v1.02h-43.1zM287.7 496.83h43.1v1.02h-43.1zM287.7 498.83h43.1v1.02h-43.1zM287.7 512.82h43.1v1.02h-43.1zM330.8 168.09h43.1v1.02h-43.1zM330.8 223.05h43.1v1.02h-43.1zM330.8 285.00h43.1v1.02h-43.1zM330.8 296.99h43.1v1.02h-43.1zM330.8 382.92h43.1v1.02h-43.1zM330.8 424.89h43.1v1.02h-43.1zM330.8 478.84h43.1v1.02h-43.1zM330.8 501.83h43.1v1.02h-43.1zM330.8 515.81h43.1v1.02h-43.1zM330.8 518.81h43.1v1.02h-43.1z"/>
<path fill="#cee0e0" d="M115.2 170.09h43.1v1.02h-43.1zM115.2 187.08h43.1v1.02h-43.1zM115.2 253.03h43.1v1.02h-43.1zM115.2 314.98h43.1v1.02h-43.1zM115.2 341.95h43.1v1.02h-43.1zM115.2 369.93h43.1v1.02h-43.1zM115.2 376.93h43.1v1.02h-43.1zM115.2 386.92h43.1v1.02h-43.1zM115.2 391.91h43.1v1.02h-43.1zM115.2 418.89h43.1v1.02h-43.1zM115.2 421.89h43.1v1.02h-43.1zM115.2 441.87h43.1v1.02h-43.1zM115.2 442.87h43.1v1.02h-43.1zM115.2 468.85h43.1v1.02h-43.1zM115.2 469.85h43.1v1.02h-43.1zM115.2 472.85h43.1v1.02h-43.1zM115.2 497.83h43.1v1.02h-43.1zM115.2 504.82h43.1v1.02h-43.1zM115.2 531.80h43.1v1.02h-43.1zM158.4 163.10h43.1v1.02h-43.1zM158.4 199.07h43.1v1.02h-43.1zM158.4 208.06h43.1v1.02h-43.1zM158.4 253.03h43.1v1.02h-43.1zM158.4 279.00h43.1v1.02h-43.1zM158.4 305.98h43.1v1.02h-43.1zM158.4 314.98h43.1v1.02h-43.1zM158.4 366.93h43.1v1.02h-43.1zM158.4 378.92h43.1v1.02h-43.1zM158.4 393.91h43.1v1.02h-43.1zM158.4 413.90h43.1v1.02h-43.1zM158.4 418.89h43.1v1.02h-43.1zM158.4 443.87h43.1v1.02h-43.1zM158.4 445.87h43.1v1.02h-43.1zM158.4 469.85h43.1v1.02h-43.1zM158.4 475.85h43.1v1.02h-43.1zM201.5 163.10h43.1v1.02h-43.1zM201.5 204.06h43.1v1.02h-43.1zM201.5 212.06h43.1v1.02h-43.1zM201.5 307.98h43.1v1.02h-43.1zM201.5 344.95h43.1v1.02h-43.1zM201.5 354.94h43.1v1.02h-43.1zM201.5 391.91h43.1v1.02h-43.1zM201.5 414.90h43.1v1.02h-43.1zM201.5 430.88h43.1v1.02h-43.1zM201.5 442.87h43.1v1.02h-43.1zM201.5 445.87h43.1v1.02h-43.1zM201.5 468.85h43.1v1.02h-43.1zM201.5 469.85h43.1v1.02h-43.1zM201.5 489.84h43.1v1.02h-43.1zM201.5 503.82h43.1v1.02h-43.1zM244.6 164.10h43.1v1.02h-43.1zM244.6 166.10h43.1v1.02h-43.1zM244.6 181.08h43.1v1.02h-43.1zM244.6 264.02h43.1v1.02h-43.1zM244.6 290.00h43.1v1.02h-43.1zM244.6 297.99h43.1v1.02h-43.1zM244.6 325.97h43.1v1.02h-43.1zM244.6 361.94h43.1v1.02h-43.1zM244.6 367.93h43.1v1.02h-43.1zM244.6 401.91h43.1v1.02h-43.1zM244.6 492.83h43.1v1.02h-43.1zM244.6 494.83h43.1v1.02h-43.1zM244.6 520.81h43.1v1.02h-43.1zM287.7 183.08h43.1v1.02h-43.1zM287.7 207.06h43.1v1.02h-43.1zM287.7 233.04h43.1v1.02h-43.1zM287.7 244.03h43.1v1.02h-43.1zM287.7 325.97h43.1v1.02h-43.1zM287.7 354.94h43.1v1.02h-43.1zM287.7 384.92h43.1v1.02h-43.1zM287.7 406.90h43.1v1.02h-43.1zM287.7 407.90h43.1v1.02h-43.1zM287.7 443.87h43.1v1.02h-43.1zM287.7 448.87h43.1v1.02h-43.1zM287.7 460.86h43.1v1.02h-43.1zM287.7 503.82h43.1v1.02h-43.1zM330.8 185.08h43.1v1.02h-43.1zM330.8 204.06h43.1v1.02h-43.1zM330.8 230.04h43.1v1.02h-43.1zM330.8 272.01h43.1v1.02h-43.1zM330.8 298.99h43.1v1.02h-43.1zM330.8 305.98h43.1v1.02h-43.1zM330.8 387.92h43.1v1.02h-43.1zM330.8 389.92h43.1v1.02h-43.1zM330.8 399.91h43.1v1.02h-43.1zM330.8 437.88h43.1v1.02h-43.1zM330.8 451.87h43.1v1.02h-43.1zM330.8 472.85h43.1v1.02h-43.1zM330.8 496.83h43.1v1.02h-43.1z"/>
<path fill="#e0e3d0" d="M115.2 171.09h43.1v1.02h-43.1zM115.2 263.02h43.1v1.02h-43.1zM115.2 383.92h43.1v1.02h-43.1zM115.2 516.81h43.1v1.02h-43.1zM158.4 171.09h43.1v1.02h-43.1zM158.4 193.07h43.1v1.02h-43.1zM158.4 265.02h43.1v1.02h-43.1zM158.4 301.99h43.1v1.02h-43.1zM158.4 337.96h43.1v1.02h-43.1zM158.4 383.92h43.1v1.02h-43.1zM158.4 454.86h43.1v1.02h-43.1zM158.4 516.81h43.1v1.02h-43.1zM201.5 356.94h43.1v1.02h-43.1zM201.5 390.91h43.1v1.02h-43.1zM201.5 455.86h43.1v1.02h-43.1zM287.7 161.10h43.1v1.02h-43.1zM287.7 220.05h43.1v1.02h-43.1zM287.7 356.94h43.1v1.02h-43.1zM287.7 415.89h43.1v1.02h-43.1zM330.8 184.08h43.1v1.02h-43.1zM330.8 214.06h43.1v1.02h-43.1zM330.8 246.03h43.1v1.02h-43.1zM330.8 311.98h43.1v1.02h-43.1zM330.8 345.95h43.1v1.02h-43.1zM330.8 356.94h43.1v1.02h-43.1zM330.8 374.93h43.1v1.02h-43.1zM330.8 390.91h43.1v1.02h-43.1zM330.8 405.90h43.1v1.02h-43.1zM330.8 454.86h43.1v1.02h-43.1zM330.8 474.85h43.1v1.02h-43.1zM330.8 492.83h43.1v1.02h-43.1zM330.8 522.81h43.1v1.02h-43.1zM330.8 532.80h43.1v1.02h-43.1z"/>
<path fill="#d0e2e0" d="M115.2 172.09h43.1v1.02h-43.1zM115.2 182.08h43.1v1.02h-43.1zM115.2 183.08h43.1v1.02h-43.1zM115.2 212.06h43.1v1.02h-43.1zM115.2 229.04h43.1v1.02h-43.1zM115.2 233.04h43.1v1.02h-43.1zM115.2 248.03h43.1v1.02h-43.1zM115.2 260.02h43.1v1.02h-43.1zM115.2 272.01h43.1v1.02h-43.1zM115.2 290.00h43.1v1.02h-43.1zM115.2 298.99h43.1v1.02h-43.1zM115.2 300.99h43.1v1.02h-43.1zM115.2 305.98h43.1v1.02h-43.1zM115.2 340.95h43.1v1.02h-43.1zM115.2 347.95h43.1v1.02h-43.1zM115.2 362.94h43.1v1.02h-43.1zM115.2 365.93h43.1v1.02h-43.1zM115.2 371.93h43.1v1.02h-43.1zM115.2 414.90h43.1v1.02h-43.1zM115.2 432.88h43.1v1.02h-43.1zM115.2 438.88h43.1v1.02h-43.1zM115.2 443.87h43.1v1.02h-43.1zM115.2 465.85h43.1v1.02h-43.1zM115.2 475.85h43.1v1.02h-43.1zM115.2 488.84h43.1v1.02h-43.1zM115.2 489.84h43.1v1.02h-43.1zM115.2 520.81h43.1v1.02h-43.1zM115.2 529.80h43.1v1.02h-43.1zM158.4 205.06h43.1v1.02h-43.1zM158.4 219.05h43.1v1.02h-43.1zM158.4 254.02h43.1v1.02h-43.1zM158.4 258.02h43.1v1.02h-43.1zM158.4 278.01h43.1v1.02h-43.1zM158.4 294.99h43.1v1.02h-43.1zM158.4 300.99h43.1v1.02h-43.1zM158.4 335.96h43.1v1.02h-43.1zM158.4 344.95h43.1v1.02h-43.1zM158.4 362.94h43.1v1.02h-43.1zM158.4 429.88h43.1v1.02h-43.1zM158.4 430.88h43.1v1.02h-43.1zM158.4 432.88h43.1v1.02h-43.1zM158.4 438.88h43.1v1.02h-43.1zM158.4 441.87h43.1v1.02h-43.1zM158.4 472.85h43.1v1.02h-43.1zM158.4 507.82h43.1v1.02h-43.1zM201.5 176.09h43.1v1.02h-43.1zM201.5 178.09h43.1v1.02h-43.1zM201.5 258.02h43.1v1.02h-43.1zM201.5 314.98h43.1v1.02h-43.1zM201.5 340.95h43.1v1.02h-43.1zM201.5 362.94h43.1v1.02h-43.1zM201.5 377.93h43.1v1.02h-43.1zM201.5 378.92h43.1v1.02h-43.1zM201.5 388.92h43.1v1.02h-43.1zM201.5 395.91h43.1v1.02h-43.1zM201.5 406.90h43.1v1.02h-43.1zM201.5 457.86h43.1v1.02h-43.1zM201.5 507.82h43.1v1.02h-43.1zM201.5 519.81h43.1v1.02h-43.1zM244.6 197.07h43.1v1.02h-43.1zM244.6 249.03h43.1v1.02h-43.1zM244.6 256.02h43.1v1.02h-43.1zM244.6 261.02h43.1v1.02h-43.1zM244.6 276.01h43.1v1.02h-43.1zM244.6 319.97h43.1v1.02h-43.1zM244.6 331.96h43.1v1.02h-43.1zM244.6 353.94h43.1v1.02h-43.1zM244.6 419.89h43.1v1.02h-43.1zM244.6 449.87h43.1v1.02h-43.1zM244.6 458.86h43.1v1.02h-43.1zM244.6 528.80h43.1v1.02h-43.1zM287.7 182.08h43.1v1.02h-43.1zM287.7 203.07h43.1v1.02h-43.1zM287.7 212.06h43.1v1.02h-43.1zM287.7 235.04h43.1v1.02h-43.1zM287.7 292.99h43.1v1.02h-43.1zM287.7 297.99h43.1v1.02h-43.1zM287.7 327.97h43.1v1.02h-43.1zM287.7 342.95h43.1v1.02h-43.1zM287.7 401.91h43.1v1.02h-43.1zM287.7 402.91h43.1v1.02h-43.1zM330.8 187.08h43.1v1.02h-43.1zM330.8 191.08h43.1v1.02h-43.1zM330.8 199.07h43.1v1.02h-43.1zM330.8 209.06h43.1v1.02h-43.1zM330.8 252.03h43.1v1.02h-43.1zM330.8 253.03h43.1v1.02h-43.1zM330.8 344.95h43.1v1.02h-43.1zM330.8 352.95h43.1v1.02h-43.1zM330.8 385.92h43.1v1.02h-43.1zM330.8 416.89h43.1v1.02h-43.1zM330.8 439.88h43.1v1.02h-43.1zM330.8 442.87h43.1v1.02h-43.1zM330.8 517.81h43.1v1.02h-43.1z"/>
<path fill="#d2e3e0" d="M115.2 174.09h43.1v1.02h-43.1zM115.2 176.09h43.1v1.02h-43.1zM115.2 207.06h43.1v1.02h-43.1zM115.2 208.06h43.1v1.02h-43.1zM115.2 291.99h43.1v1.02h-43.1zM115.2 335.96h43.1v1.02h-43.1zM115.2 344.95h43.1v1.02h-43.1zM115.2 349.95h43.1v1.02h-43.1zM115.2 350.95h43.1v1.02h-43.1zM115.2 354.94h43.1v1.02h-43.1zM115.2 359.94h43.1v1.02h-43.1zM115.2 378.92h43.1v1.02h-43.1zM115.2 426.89h43.1v1.02h-43.1zM115.2 460.86h43.1v1.02h-43.1zM115.2 494.83h43.1v1.02h-43.1zM115.2 512.82h43.1v1.02h-43.1zM115.2 525.81h43.1v1.02h-43.1zM158.4 183.08h43.1v1.02h-43.1zM158.4 204.06h43.1v1.02h-43.1zM158.4 238.04h43.1v1.02h-43.1zM158.4 248.03h43.1v1.02h-43.1zM158.4 341.95h43.1v1.02h-43.1zM158.4 343.95h43.1v1.02h-43.1zM158.4 349.95h43.1v1.02h-43.1zM158.4 354.94h43.1v1.02h-43.1zM158.4 373.93h43.1v1.02h-43.1zM158.4 451.87h43.1v1.02h-43.1zM158.4 456.86h43.1v1.02h-43.1zM158.4 497.83h43.1v1.02h-43.1zM158.4 512.82h43.1v1.02h-43.1zM158.4 529.80h43.1v1.02h-43.1zM201.5 166.10h43.1v1.02h-43.1zM201.5 229.04h43.1v1.02h-43.1zM201.5 238.04h43.1v1.02h-43.1zM201.5 272.01h43.1v1.02h-43.1zM201.5 276.01h43.1v1.02h-43.1zM201.5 290.00h43.1v1.02h-43.1zM201.5 292.99h43.1v1.02h-43.1zM201.5 342.95h43.1v1.02h-43.1zM201.5 359.94h43.1v1.02h-43.1zM201.5 384.92h43.1v1.02h-43.1zM201.5 407.90h43.1v1.02h-43.1zM201.5 417.89h43.1v1.02h-43.1zM201.5 425.89h43.1v1.02h-43.1zM201.5 465.85h43.1v1.02h-43.1zM201.5 483.84h43.1v1.02h-43.1zM201.5 499.83h43.1v1.02h-43.1zM201.5 520.81h43.1v1.02h-43.1zM201.5 529.80h43.1v1.02h-43.1zM244.6 174.09h43.1v1.02h-43.1zM244.6 175.09h43.1v1.02h-43.1zM244.6 211.06h43.1v1.02h-43.1zM244.6 224.05h43.1v1.02h-43.1zM244.6 244.03h43.1v1.02h-43.1zM244.6 269.01h43.1v1.02h-43.1zM244.6 304.98h43.1v1.02h-43.1zM244.6 315.97h43.1v1.02h-43.1zM244.6 374.93h43.1v1.02h-43.1zM244.6 473.85h43.1v1.02h-43.1zM244.6 480.84h43.1v1.02h-43.1zM244.6 491.83h43.1v1.02h-43.1zM244.6 506.82h43.1v1.02h-43.1zM287.7 225.05h43.1v1.02h-43.1zM287.7 256.02h43.1v1.02h-43.1zM287.7 332.96h43.1v1.02h-43.1zM287.7 426.89h43.1v1.02h-43.1zM287.7 449.87h43.1v1.02h-43.1zM287.7 484.84h43.1v1.02h-43.1zM287.7 502.82h43.1v1.02h-43.1zM287.7 520.81h43.1v1.02h-43.1zM287.7 526.81h43.1v1.02h-43.1zM330.8 173.09h43.1v1.02h-43.1zM330.8 178.09h43.1v1.02h-43.1zM330.8 194.07h43.1v1.02h-43.1zM330.8 196.07h43.1v1.02h-43.1zM330.8 251.03h43.1v1.02h-43.1zM330.8 262.02h43.1v1.02h-43.1zM330.8 268.01h43.1v1.02h-43.1zM330.8 279.00h43.1v1.02h-43.1zM330.8 309.98h43.1v1.02h-43.1zM330.8 340.95h43.1v1.02h-43.1zM330.8 350.95h43.1v1.02h-43.1zM330.8 363.94h43.1v1.02h-43.1zM330.8 377.93h43.1v1.02h-43.1zM330.8 379.92h43.1v1.02h-43.1zM330.8 391.91h43.1v1.02h-43.1zM330.8 393.91h43.1v1.02h-43.1zM330.8 421.89h43.1v1.02h-43.1zM330.8 422.89h43.1v1.02h-43.1zM330.8 428.88h43.1v1.02h-43.1zM330.8 438.88h43.1v1.02h-43.1zM330.8 443.87h43.1v1.02h-43.1zM330.8 447.87h43.1v1.02h-43.1zM330.8 457.86h43.1v1.02h-43.1zM330.8 500.83h43.1v1.02h-43.1zM330.8 512.82h43.1v1.02h-43.1z"/>
<path fill="#d6e5dc" d="M115.2 177.09h43.1v1.02h-43.1zM115.2 181.08h43.1v1.02h-43.1zM115.2 246.03h43.1v1.02h-43.1zM115.2 256.02h43.1v1.02h-43.1zM115.2 258.02h43.1v1.02h-43.1zM115.2 261.02h43.1v1.02h-43.1zM115.2 269.01h43.1v1.02h-43.1zM115.2 276.01h43.1v1.02h-43.1zM115.2 292.99h43.1v1.02h-43.1zM115.2 297.99h43.1v1.02h-43.1zM115.2 319.97h43.1v1.02h-43.1zM115.2 327.97h43.1v1.02h-43.1zM115.2 342.95h43.1v1.02h-43.1zM115.2 361.94h43.1v1.02h-43.1zM115.2 377.93h43.1v1.02h-43.1zM115.2 384.92h43.1v1.02h-43.1zM115.2 411.90h43.1v1.02h-43.1zM115.2 413.90h43.1v1.02h-43.1zM115.2 417.89h43.1v1.02h-43.1zM115.2 483.84h43.1v1.02h-43.1zM115.2 503.82h43.1v1.02h-43.1zM115.2 506.82h43.1v1.02h-43.1zM158.4 228.05h43.1v1.02h-43.1zM158.4 229.04h43.1v1.02h-43.1zM158.4 233.04h43.1v1.02h-43.1zM158.4 243.03h43.1v1.02h-43.1zM158.4 260.02h43.1v1.02h-43.1zM158.4 261.02h43.1v1.02h-43.1zM158.4 304.98h43.1v1.02h-43.1zM158.4 318.97h43.1v1.02h-43.1zM158.4 353.94h43.1v1.02h-43.1zM158.4 376.93h43.1v1.02h-43.1zM158.4 401.91h43.1v1.02h-43.1zM158.4 402.91h43.1v1.02h-43.1zM158.4 448.87h43.1v1.02h-43.1zM201.5 200.07h43.1v1.02h-43.1zM201.5 203.07h43.1v1.02h-43.1zM201.5 224.05h43.1v1.02h-43.1zM201.5 235.04h43.1v1.02h-43.1zM201.5 244.03h43.1v1.02h-43.1zM201.5 249.03h43.1v1.02h-43.1zM201.5 256.02h43.1v1.02h-43.1zM201.5 297.99h43.1v1.02h-43.1zM201.5 318.97h43.1v1.02h-43.1zM201.5 319.97h43.1v1.02h-43.1zM201.5 331.96h43.1v1.02h-43.1zM201.5 332.96h43.1v1.02h-43.1zM201.5 353.94h43.1v1.02h-43.1zM201.5 401.91h43.1v1.02h-43.1zM201.5 438.88h43.1v1.02h-43.1zM201.5 505.82h43.1v1.02h-43.1zM201.5 506.82h43.1v1.02h-43.1zM244.6 184.08h43.1v1.02h-43.1zM244.6 188.08h43.1v1.02h-43.1zM244.6 190.08h43.1v1.02h-43.1zM244.6 213.06h43.1v1.02h-43.1zM244.6 337.96h43.1v1.02h-43.1zM244.6 381.92h43.1v1.02h-43.1zM244.6 466.85h43.1v1.02h-43.1zM244.6 526.81h43.1v1.02h-43.1zM287.7 164.10h43.1v1.02h-43.1zM287.7 165.10h43.1v1.02h-43.1zM287.7 175.09h43.1v1.02h-43.1zM287.7 197.07h43.1v1.02h-43.1zM287.7 226.05h43.1v1.02h-43.1zM287.7 231.04h43.1v1.02h-43.1zM287.7 381.92h43.1v1.02h-43.1zM287.7 450.87h43.1v1.02h-43.1zM287.7 490.83h43.1v1.02h-43.1zM287.7 499.83h43.1v1.02h-43.1zM287.7 506.82h43.1v1.02h-43.1zM287.7 513.82h43.1v1.02h-43.1zM330.8 166.10h43.1v1.02h-43.1zM330.8 200.07h43.1v1.02h-43.1zM330.8 206.06h43.1v1.02h-43.1zM330.8 207.06h43.1v1.02h-43.1zM330.8 210.06h43.1v1.02h-43.1zM330.8 229.04h43.1v1.02h-43.1zM330.8 247.03h43.1v1.02h-43.1zM330.8 248.03h43.1v1.02h-43.1zM330.8 261.02h43.1v1.02h-43.1zM330.8 270.01h43.1v1.02h-43.1zM330.8 271.01h43.1v1.02h-43.1zM330.8 294.99h43.1v1.02h-43.1zM330.8 378.92h43.1v1.02h-43.1zM330.8 413.90h43.1v1.02h-43.1zM330.8 429.88h43.1v1.02h-43.1zM330.8 469.85h43.1v1.02h-43.1zM330.8 473.85h43.1v1.02h-43.1zM330.8 488.84h43.1v1.02h-43.1zM330.8 497.83h43.1v1.02h-43.1z"/>
<path fill="#a6c5d2" d="M115.2 179.08h43.1v1.02h-43.1zM115.2 284.00h43.1v1.02h-43.1zM115.2 324.97h43.1v1.02h-43.1zM115.2 338.96h43.1v1.02h-43.1zM115.2 433.88h43.1v1.02h-43.1zM115.2 508.82h43.1v1.02h-43.1zM244.6 322.97h43.1v1.02h-43.1zM244.6 433.88h43.1v1.02h-43.1zM287.7 273.01h43.1v1.02h-43.1zM287.7 275.01h43.1v1.02h-43.1zM287.7 444.87h43.1v1.02h-43.1zM330.8 508.82h43.1v1.02h-43.1z"/>
<path fill="#dce6d4" d="M115.2 180.08h43.1v1.02h-43.1zM115.2 198.07h43.1v1.02h-43.1zM115.2 213.06h43.1v1.02h-43.1zM115.2 218.05h43.1v1.02h-43.1zM115.2 293.99h43.1v1.02h-43.1zM115.2 466.85h43.1v1.02h-43.1zM115.2 480.84h43.1v1.02h-43.1zM115.2 502.82h43.1v1.02h-43.1zM158.4 160.10h43.1v1.02h-43.1zM158.4 164.10h43.1v1.02h-43.1zM158.4 311.98h43.1v1.02h-43.1zM158.4 405.90h43.1v1.02h-43.1zM201.5 160.10h43.1v1.02h-43.1zM201.5 184.08h43.1v1.02h-43.1zM201.5 198.07h43.1v1.02h-43.1zM201.5 311.98h43.1v1.02h-43.1zM201.5 484.84h43.1v1.02h-43.1zM201.5 513.82h43.1v1.02h-43.1zM244.6 171.09h43.1v1.02h-43.1zM244.6 214.06h43.1v1.02h-43.1zM244.6 263.02h43.1v1.02h-43.1zM244.6 293.99h43.1v1.02h-43.1zM244.6 301.99h43.1v1.02h-43.1zM244.6 453.86h43.1v1.02h-43.1zM244.6 502.82h43.1v1.02h-43.1zM244.6 516.81h43.1v1.02h-43.1zM287.7 171.09h43.1v1.02h-43.1zM287.7 198.07h43.1v1.02h-43.1zM287.7 214.06h43.1v1.02h-43.1zM287.7 337.96h43.1v1.02h-43.1zM287.7 400.91h43.1v1.02h-43.1zM330.8 180.08h43.1v1.02h-43.1zM330.8 224.05h43.1v1.02h-43.1zM330.8 225.05h43.1v1.02h-43.1zM330.8 244.03h43.1v1.02h-43.1zM330.8 299.99h43.1v1.02h-43.1zM330.8 449.87h43.1v1.02h-43.1zM330.8 494.83h43.1v1.02h-43.1zM330.8 505.82h43.1v1.02h-43.1zM330.8 526.81h43.1v1.02h-43.1zM330.8 528.80h43.1v1.02h-43.1z"/>
<path fill="#bfd6dd" d="M115.2 186.08h43.1v1.02h-43.1zM115.2 240.04h43.1v1.02h-43.1zM115.2 334.96h43.1v1.02h-43.1zM115.2 358.94h43.1v1.02h-43.1zM115.2 372.93h43.1v1.02h-43.1zM115.2 398.91h43.1v1.02h-43.1zM115.2 410.90h43.1v1.02h-43.1zM115.2 416.89h43.1v1.02h-43.1zM115.2 422.89h43.1v1.02h-43.1zM115.2 427.89h43.1v1.02h-43.1zM115.2 464.86h43.1v1.02h-43.1zM115.2 470.85h43.1v1.02h-43.1zM115.2 515.81h43.1v1.02h-43.1zM158.4 168.09h43.1v1.02h-43.1zM158.4 195.07h43.1v1.02h-43.1zM158.4 240.04h43.1v1.02h-43.1zM158.4 267.01h43.1v1.02h-43.1zM158.4 306.98h43.1v1.02h-43.1zM158.4 313.98h43.1v1.02h-43.1zM158.4 370.93h43.1v1.02h-43.1zM158.4 470.85h43.1v1.02h-43.1zM158.4 524.81h43.1v1.02h-43.1zM201.5 168.09h43.1v1.02h-43.1zM201.5 277.01h43.1v1.02h-43.1zM201.5 312.98h43.1v1.02h-43.1zM201.5 313.98h43.1v1.02h-43.1zM201.5 323.97h43.1v1.02h-43.1zM201.5 326.97h43.1v1.02h-43.1zM201.5 382.92h43.1v1.02h-43.1zM201.5 398.91h43.1v1.02h-43.1zM201.5 422.89h43.1v1.02h-43.1zM201.5 437.88h43.1v1.02h-43.1zM201.5 487.84h43.1v1.02h-43.1zM201.5 498.83h43.1v1.02h-43.1zM201.5 500.83h43.1v1.02h-43.1zM201.5 511.82h43.1v1.02h-43.1zM201.5 515.81h43.1v1.02h-43.1zM244.6 199.07h43.1v1.02h-43.1zM244.6 209.06h43.1v1.02h-43.1zM244.6 210.06h43.1v1.02h-43.1zM244.6 219.05h43.1v1.02h-43.1zM244.6 248.03h43.1v1.02h-43.1zM244.6 253.03h43.1v1.02h-43.1zM244.6 365.93h43.1v1.02h-43.1zM244.6 421.89h43.1v1.02h-43.1zM244.6 424.89h43.1v1.02h-43.1zM244.6 443.87h43.1v1.02h-43.1zM244.6 464.86h43.1v1.02h-43.1zM244.6 500.83h43.1v1.02h-43.1zM244.6 507.82h43.1v1.02h-43.1zM287.7 178.09h43.1v1.02h-43.1zM287.7 191.08h43.1v1.02h-43.1zM287.7 194.07h43.1v1.02h-43.1zM287.7 205.06h43.1v1.02h-43.1zM287.7 227.05h43.1v1.02h-43.1zM287.7 245.03h43.1v1.02h-43.1zM287.7 267.01h43.1v1.02h-43.1zM287.7 277.01h43.1v1.02h-43.1zM287.7 285.00h43.1v1.02h-43.1zM287.7 298.99h43.1v1.02h-43.1zM287.7 340.95h43.1v1.02h-43.1zM287.7 352.95h43.1v1.02h-43.1zM287.7 355.94h43.1v1.02h-43.1zM287.7 369.93h43.1v1.02h-43.1zM287.7 422.89h43.1v1.02h-43.1zM287.7 437.88h43.1v1.02h-43.1zM287.7 440.87h43.1v1.02h-43.1zM287.7 445.87h43.1v1.02h-43.1zM287.7 447.87h43.1v1.02h-43.1zM287.7 464.86h43.1v1.02h-43.1zM287.7 485.84h43.1v1.02h-43.1zM287.7 517.81h43.1v1.02h-43.1zM330.8 195.07h43.1v1.02h-43.1zM330.8 239.04h43.1v1.02h-43.1zM330.8 267.01h43.1v1.02h-43.1zM330.8 281.00h43.1v1.02h-43.1zM330.8 289.00h43.1v1.02h-43.1zM330.8 312.98h43.1v1.02h-43.1zM330.8 358.94h43.1v1.02h-43.1zM330.8 410.90h43.1v1.02h-43.1zM330.8 459.86h43.1v1.02h-43.1z"/>
<path fill="#dee4d1" d="M115.2 188.08h43.1v1.02h-43.1zM115.2 214.06h43.1v1.02h-43.1zM115.2 250.03h43.1v1.02h-43.1zM115.2 265.02h43.1v1.02h-43.1zM115.2 286.00h43.1v1.02h-43.1zM115.2 301.99h43.1v1.02h-43.1zM115.2 390.91h43.1v1.02h-43.1zM115.2 405.90h43.1v1.02h-43.1zM115.2 532.80h43.1v1.02h-43.1zM158.4 169.09h43.1v1.02h-43.1zM158.4 180.08h43.1v1.02h-43.1zM158.4 188.08h43.1v1.02h-43.1zM158.4 218.05h43.1v1.02h-43.1zM158.4 396.91h43.1v1.02h-43.1zM158.4 403.90h43.1v1.02h-43.1zM158.4 435.88h43.1v1.02h-43.1zM158.4 480.84h43.1v1.02h-43.1zM201.5 221.05h43.1v1.02h-43.1zM201.5 265.02h43.1v1.02h-43.1zM201.5 286.00h43.1v1.02h-43.1zM201.5 301.99h43.1v1.02h-43.1zM201.5 383.92h43.1v1.02h-43.1zM201.5 516.81h43.1v1.02h-43.1zM244.6 161.10h43.1v1.02h-43.1zM244.6 162.10h43.1v1.02h-43.1zM244.6 415.89h43.1v1.02h-43.1zM287.7 190.08h43.1v1.02h-43.1zM287.7 263.02h43.1v1.02h-43.1zM287.7 474.85h43.1v1.02h-43.1zM330.8 213.06h43.1v1.02h-43.1zM330.8 266.01h43.1v1.02h-43.1zM330.8 292.99h43.1v1.02h-43.1zM330.8 304.98h43.1v1.02h-43.1zM330.8 403.90h43.1v1.02h-43.1zM330.8 450.87h43.1v1.02h-43.1zM330.8 480.84h43.1v1.02h-43.1zM330.8 484.84h43.1v1.02h-43.1zM330.8 506.82h43.1v1.02h-43.1z"/>
<path fill="#bbd4dc" d="M115.2 189.08h43.1v1.02h-43.1zM115.2 192.07h43.1v1.02h-43.1zM115.2 195.07h43.1v1.02h-43.1zM115.2 285.00h43.1v1.02h-43.1zM115.2 478.84h43.1v1.02h-43.1zM115.2 527.80h43.1v1.02h-43.1zM158.4 189.08h43.1v1.02h-43.1zM158.4 237.04h43.1v1.02h-43.1zM158.4 289.00h43.1v1.02h-43.1zM158.4 330.96h43.1v1.02h-43.1zM158.4 372.93h43.1v1.02h-43.1zM158.4 428.88h43.1v1.02h-43.1zM158.4 459.86h43.1v1.02h-43.1zM158.4 479.84h43.1v1.02h-43.1zM158.4 501.83h43.1v1.02h-43.1zM158.4 515.81h43.1v1.02h-43.1zM201.5 191.08h43.1v1.02h-43.1zM201.5 217.05h43.1v1.02h-43.1zM201.5 281.00h43.1v1.02h-43.1zM201.5 283.00h43.1v1.02h-43.1zM201.5 321.97h43.1v1.02h-43.1zM201.5 330.96h43.1v1.02h-43.1zM201.5 334.96h43.1v1.02h-43.1zM201.5 434.88h43.1v1.02h-43.1zM244.6 185.08h43.1v1.02h-43.1zM244.6 205.06h43.1v1.02h-43.1zM244.6 306.98h43.1v1.02h-43.1zM244.6 307.98h43.1v1.02h-43.1zM244.6 320.97h43.1v1.02h-43.1zM244.6 352.95h43.1v1.02h-43.1zM244.6 428.88h43.1v1.02h-43.1zM244.6 461.86h43.1v1.02h-43.1zM244.6 470.85h43.1v1.02h-43.1zM244.6 472.85h43.1v1.02h-43.1zM244.6 477.84h43.1v1.02h-43.1zM244.6 510.82h43.1v1.02h-43.1zM244.6 514.82h43.1v1.02h-43.1zM244.6 527.80h43.1v1.02h-43.1zM287.7 223.05h43.1v1.02h-43.1zM287.7 236.04h43.1v1.02h-43.1zM287.7 317.97h43.1v1.02h-43.1zM287.7 348.95h43.1v1.02h-43.1zM287.7 364.94h43.1v1.02h-43.1zM287.7 393.91h43.1v1.02h-43.1zM287.7 431.88h43.1v1.02h-43.1zM287.7 524.81h43.1v1.02h-43.1zM287.7 531.80h43.1v1.02h-43.1zM330.8 234.04h43.1v1.02h-43.1zM330.8 240.04h43.1v1.02h-43.1zM330.8 284.00h43.1v1.02h-43.1zM330.8 370.93h43.1v1.02h-43.1zM330.8 423.89h43.1v1.02h-43.1zM330.8 463.86h43.1v1.02h-43.1zM330.8 476.85h43.1v1.02h-43.1zM330.8 482.84h43.1v1.02h-43.1z"/>
<path fill="#dbe6d6" d="M115.2 190.08h43.1v1.02h-43.1zM115.2 266.01h43.1v1.02h-43.1zM115.2 332.96h43.1v1.02h-43.1zM115.2 353.94h43.1v1.02h-43.1zM115.2 374.93h43.1v1.02h-43.1zM115.2 492.83h43.1v1.02h-43.1zM115.2 493.83h43.1v1.02h-43.1zM115.2 522.81h43.1v1.02h-43.1zM158.4 174.09h43.1v1.02h-43.1zM158.4 213.06h43.1v1.02h-43.1zM158.4 226.05h43.1v1.02h-43.1zM158.4 288.00h43.1v1.02h-43.1zM158.4 319.97h43.1v1.02h-43.1zM158.4 345.95h43.1v1.02h-43.1zM158.4 374.93h43.1v1.02h-43.1zM158.4 397.91h43.1v1.02h-43.1zM158.4 419.89h43.1v1.02h-43.1zM158.4 452.86h43.1v1.02h-43.1zM158.4 466.85h43.1v1.02h-43.1zM158.4 506.82h43.1v1.02h-43.1zM201.5 169.09h43.1v1.02h-43.1zM201.5 180.08h43.1v1.02h-43.1zM201.5 181.08h43.1v1.02h-43.1zM201.5 190.08h43.1v1.02h-43.1zM201.5 211.06h43.1v1.02h-43.1zM201.5 266.01h43.1v1.02h-43.1zM201.5 288.00h43.1v1.02h-43.1zM201.5 374.93h43.1v1.02h-43.1zM201.5 397.91h43.1v1.02h-43.1zM201.5 493.83h43.1v1.02h-43.1zM244.6 160.10h43.1v1.02h-43.1zM244.6 328.96h43.1v1.02h-43.1zM244.6 357.94h43.1v1.02h-43.1zM244.6 383.92h43.1v1.02h-43.1zM244.6 400.91h43.1v1.02h-43.1zM244.6 405.90h43.1v1.02h-43.1zM244.6 435.88h43.1v1.02h-43.1zM287.7 211.06h43.1v1.02h-43.1zM287.7 213.06h43.1v1.02h-43.1zM287.7 301.99h43.1v1.02h-43.1zM287.7 328.96h43.1v1.02h-43.1zM287.7 405.90h43.1v1.02h-43.1zM287.7 455.86h43.1v1.02h-43.1zM330.8 177.09h43.1v1.02h-43.1zM330.8 182.08h43.1v1.02h-43.1zM330.8 201.07h43.1v1.02h-43.1zM330.8 203.07h43.1v1.02h-43.1zM330.8 212.06h43.1v1.02h-43.1zM330.8 226.05h43.1v1.02h-43.1zM330.8 250.03h43.1v1.02h-43.1zM330.8 264.02h43.1v1.02h-43.1zM330.8 276.01h43.1v1.02h-43.1zM330.8 318.97h43.1v1.02h-43.1zM330.8 327.97h43.1v1.02h-43.1zM330.8 343.95h43.1v1.02h-43.1zM330.8 395.91h43.1v1.02h-43.1zM330.8 430.88h43.1v1.02h-43.1z"/>
<path fill="#c4dade" d="M115.2 191.08h43.1v1.02h-43.1zM115.2 194.07h43.1v1.02h-43.1zM115.2 267.01h43.1v1.02h-43.1zM115.2 278.01h43.1v1.02h-43.1zM115.2 306.98h43.1v1.02h-43.1zM115.2 348.95h43.1v1.02h-43.1zM115.2 399.91h43.1v1.02h-43.1zM115.2 437.88h43.1v1.02h-43.1zM115.2 439.88h43.1v1.02h-43.1zM115.2 440.87h43.1v1.02h-43.1zM115.2 462.86h43.1v1.02h-43.1zM158.4 185.08h43.1v1.02h-43.1zM158.4 191.08h43.1v1.02h-43.1zM158.4 255.02h43.1v1.02h-43.1zM158.4 262.02h43.1v1.02h-43.1zM158.4 285.00h43.1v1.02h-43.1zM158.4 326.97h43.1v1.02h-43.1zM158.4 333.96h43.1v1.02h-43.1zM158.4 334.96h43.1v1.02h-43.1zM158.4 339.96h43.1v1.02h-43.1zM158.4 385.92h43.1v1.02h-43.1zM158.4 412.90h43.1v1.02h-43.1zM158.4 416.89h43.1v1.02h-43.1zM158.4 422.89h43.1v1.02h-43.1zM158.4 446.87h43.1v1.02h-43.1zM158.4 462.86h43.1v1.02h-43.1zM158.4 498.83h43.1v1.02h-43.1zM158.4 514.82h43.1v1.02h-43.1zM158.4 517.81h43.1v1.02h-43.1zM158.4 521.81h43.1v1.02h-43.1zM201.5 173.09h43.1v1.02h-43.1zM201.5 185.08h43.1v1.02h-43.1zM201.5 186.08h43.1v1.02h-43.1zM201.5 209.06h43.1v1.02h-43.1zM201.5 248.03h43.1v1.02h-43.1zM201.5 259.02h43.1v1.02h-43.1zM201.5 267.01h43.1v1.02h-43.1zM201.5 278.01h43.1v1.02h-43.1zM201.5 317.97h43.1v1.02h-43.1zM201.5 341.95h43.1v1.02h-43.1zM201.5 348.95h43.1v1.02h-43.1zM201.5 351.95h43.1v1.02h-43.1zM201.5 380.92h43.1v1.02h-43.1zM201.5 421.89h43.1v1.02h-43.1zM201.5 428.88h43.1v1.02h-43.1zM201.5 431.88h43.1v1.02h-43.1zM201.5 443.87h43.1v1.02h-43.1zM201.5 475.85h43.1v1.02h-43.1zM201.5 485.84h43.1v1.02h-43.1zM201.5 497.83h43.1v1.02h-43.1zM201.5 521.81h43.1v1.02h-43.1zM201.5 523.81h43.1v1.02h-43.1zM244.6 163.10h43.1v1.02h-43.1zM244.6 182.08h43.1v1.02h-43.1zM244.6 187.08h43.1v1.02h-43.1zM244.6 204.06h43.1v1.02h-43.1zM244.6 207.06h43.1v1.02h-43.1zM244.6 230.04h43.1v1.02h-43.1zM244.6 298.99h43.1v1.02h-43.1zM244.6 303.98h43.1v1.02h-43.1zM244.6 305.98h43.1v1.02h-43.1zM244.6 340.95h43.1v1.02h-43.1zM244.6 341.95h43.1v1.02h-43.1zM244.6 342.95h43.1v1.02h-43.1zM244.6 366.93h43.1v1.02h-43.1zM244.6 371.93h43.1v1.02h-43.1zM244.6 399.91h43.1v1.02h-43.1zM244.6 417.89h43.1v1.02h-43.1zM244.6 445.87h43.1v1.02h-43.1zM244.6 451.87h43.1v1.02h-43.1zM244.6 465.85h43.1v1.02h-43.1zM244.6 504.82h43.1v1.02h-43.1zM287.7 173.09h43.1v1.02h-43.1zM287.7 242.03h43.1v1.02h-43.1zM287.7 248.03h43.1v1.02h-43.1zM287.7 252.03h43.1v1.02h-43.1zM287.7 279.00h43.1v1.02h-43.1zM287.7 295.99h43.1v1.02h-43.1zM287.7 347.95h43.1v1.02h-43.1zM287.7 363.94h43.1v1.02h-43.1zM287.7 368.93h43.1v1.02h-43.1zM287.7 373.93h43.1v1.02h-43.1zM287.7 386.92h43.1v1.02h-43.1zM287.7 421.89h43.1v1.02h-43.1zM287.7 442.87h43.1v1.02h-43.1zM287.7 461.86h43.1v1.02h-43.1zM287.7 462.86h43.1v1.02h-43.1zM287.7 525.81h43.1v1.02h-43.1zM330.8 259.02h43.1v1.02h-43.1zM330.8 330.96h43.1v1.02h-43.1zM330.8 372.93h43.1v1.02h-43.1zM330.8 398.91h43.1v1.02h-43.1zM330.8 431.88h43.1v1.02h-43.1zM330.8 486.84h43.1v1.02h-43.1zM330.8 509.82h43.1v1.02h-43.1z"/>
<path fill="#c6dbdf" d="M115.2 196.07h43.1v1.02h-43.1zM115.2 202.07h43.1v1.02h-43.1zM115.2 205.06h43.1v1.02h-43.1zM115.2 209.06h43.1v1.02h-43.1zM115.2 217.05h43.1v1.02h-43.1zM115.2 230.04h43.1v1.02h-43.1zM115.2 251.03h43.1v1.02h-43.1zM115.2 252.03h43.1v1.02h-43.1zM115.2 257.02h43.1v1.02h-43.1zM115.2 279.00h43.1v1.02h-43.1zM115.2 290.99h43.1v1.02h-43.1zM115.2 313.98h43.1v1.02h-43.1zM115.2 351.95h43.1v1.02h-43.1zM115.2 355.94h43.1v1.02h-43.1zM115.2 364.94h43.1v1.02h-43.1zM115.2 431.88h43.1v1.02h-43.1zM115.2 445.87h43.1v1.02h-43.1zM115.2 451.87h43.1v1.02h-43.1zM115.2 485.84h43.1v1.02h-43.1zM115.2 496.83h43.1v1.02h-43.1zM115.2 514.82h43.1v1.02h-43.1zM115.2 517.81h43.1v1.02h-43.1zM115.2 521.81h43.1v1.02h-43.1zM158.4 186.08h43.1v1.02h-43.1zM158.4 202.07h43.1v1.02h-43.1zM158.4 206.06h43.1v1.02h-43.1zM158.4 227.05h43.1v1.02h-43.1zM158.4 352.95h43.1v1.02h-43.1zM158.4 389.92h43.1v1.02h-43.1zM158.4 424.89h43.1v1.02h-43.1zM158.4 431.88h43.1v1.02h-43.1zM158.4 439.88h43.1v1.02h-43.1zM158.4 440.87h43.1v1.02h-43.1zM158.4 464.86h43.1v1.02h-43.1zM158.4 487.84h43.1v1.02h-43.1zM158.4 509.82h43.1v1.02h-43.1zM158.4 523.81h43.1v1.02h-43.1zM158.4 527.80h43.1v1.02h-43.1zM158.4 531.80h43.1v1.02h-43.1zM201.5 199.07h43.1v1.02h-43.1zM201.5 205.06h43.1v1.02h-43.1zM201.5 210.06h43.1v1.02h-43.1zM201.5 227.05h43.1v1.02h-43.1zM201.5 230.04h43.1v1.02h-43.1zM201.5 236.04h43.1v1.02h-43.1zM201.5 298.99h43.1v1.02h-43.1zM201.5 303.98h43.1v1.02h-43.1zM201.5 305.98h43.1v1.02h-43.1zM201.5 306.98h43.1v1.02h-43.1zM201.5 352.95h43.1v1.02h-43.1zM201.5 369.93h43.1v1.02h-43.1zM201.5 371.93h43.1v1.02h-43.1zM201.5 399.91h43.1v1.02h-43.1zM201.5 429.88h43.1v1.02h-43.1zM201.5 441.87h43.1v1.02h-43.1zM201.5 451.87h43.1v1.02h-43.1zM201.5 488.84h43.1v1.02h-43.1zM201.5 527.80h43.1v1.02h-43.1zM244.6 176.09h43.1v1.02h-43.1zM244.6 178.09h43.1v1.02h-43.1zM244.6 183.08h43.1v1.02h-43.1zM244.6 191.08h43.1v1.02h-43.1zM244.6 203.07h43.1v1.02h-43.1zM244.6 212.06h43.1v1.02h-43.1zM244.6 227.05h43.1v1.02h-43.1zM244.6 245.03h43.1v1.02h-43.1zM244.6 247.03h43.1v1.02h-43.1zM244.6 260.02h43.1v1.02h-43.1zM244.6 271.01h43.1v1.02h-43.1zM244.6 335.96h43.1v1.02h-43.1zM244.6 343.95h43.1v1.02h-43.1zM244.6 347.95h43.1v1.02h-43.1zM244.6 359.94h43.1v1.02h-43.1zM244.6 362.94h43.1v1.02h-43.1zM244.6 373.93h43.1v1.02h-43.1zM244.6 375.93h43.1v1.02h-43.1zM244.6 379.92h43.1v1.02h-43.1zM244.6 411.90h43.1v1.02h-43.1zM244.6 425.89h43.1v1.02h-43.1zM244.6 448.87h43.1v1.02h-43.1zM244.6 462.86h43.1v1.02h-43.1zM244.6 468.85h43.1v1.02h-43.1zM244.6 475.85h43.1v1.02h-43.1zM244.6 497.83h43.1v1.02h-43.1zM287.7 176.09h43.1v1.02h-43.1zM287.7 228.05h43.1v1.02h-43.1zM287.7 251.03h43.1v1.02h-43.1zM287.7 262.02h43.1v1.02h-43.1zM287.7 278.01h43.1v1.02h-43.1zM287.7 290.99h43.1v1.02h-43.1zM287.7 294.99h43.1v1.02h-43.1zM287.7 303.98h43.1v1.02h-43.1zM287.7 314.98h43.1v1.02h-43.1zM287.7 320.97h43.1v1.02h-43.1zM287.7 335.96h43.1v1.02h-43.1zM287.7 341.95h43.1v1.02h-43.1zM287.7 413.90h43.1v1.02h-43.1zM287.7 457.86h43.1v1.02h-43.1zM287.7 469.85h43.1v1.02h-43.1zM287.7 472.85h43.1v1.02h-43.1zM287.7 504.82h43.1v1.02h-43.1zM287.7 514.82h43.1v1.02h-43.1zM287.7 523.81h43.1v1.02h-43.1zM330.8 237.04h43.1v1.02h-43.1zM330.8 287.00h43.1v1.02h-43.1zM330.8 317.97h43.1v1.02h-43.1zM330.8 336.96h43.1v1.02h-43.1zM330.8 348.95h43.1v1.02h-43.1zM330.8 366.93h43.1v1.02h-43.1zM330.8 369.93h43.1v1.02h-43.1zM330.8 412.90h43.1v1.02h-43.1zM330.8 470.85h43.1v1.02h-43.1zM330.8 485.84h43.1v1.02h-43.1zM330.8 521.81h43.1v1.02h-43.1zM330.8 524.81h43.1v1.02h-43.1z"/>
<path fill="#dae5d7" d="M115.2 201.07h43.1v1.02h-43.1zM115.2 215.06h43.1v1.02h-43.1zM115.2 367.93h43.1v1.02h-43.1zM115.2 397.91h43.1v1.02h-43.1zM115.2 406.90h43.1v1.02h-43.1zM115.2 449.87h43.1v1.02h-43.1zM115.2 471.85h43.1v1.02h-43.1zM115.2 491.83h43.1v1.02h-43.1zM158.4 172.09h43.1v1.02h-43.1zM158.4 184.08h43.1v1.02h-43.1zM158.4 197.07h43.1v1.02h-43.1zM158.4 198.07h43.1v1.02h-43.1zM158.4 215.06h43.1v1.02h-43.1zM158.4 244.03h43.1v1.02h-43.1zM158.4 246.03h43.1v1.02h-43.1zM158.4 250.03h43.1v1.02h-43.1zM158.4 332.96h43.1v1.02h-43.1zM158.4 361.94h43.1v1.02h-43.1zM158.4 450.87h43.1v1.02h-43.1zM158.4 499.83h43.1v1.02h-43.1zM158.4 522.81h43.1v1.02h-43.1zM158.4 526.81h43.1v1.02h-43.1zM201.5 164.10h43.1v1.02h-43.1zM201.5 197.07h43.1v1.02h-43.1zM201.5 201.07h43.1v1.02h-43.1zM201.5 299.99h43.1v1.02h-43.1zM201.5 325.97h43.1v1.02h-43.1zM201.5 403.90h43.1v1.02h-43.1zM201.5 450.87h43.1v1.02h-43.1zM201.5 454.86h43.1v1.02h-43.1zM201.5 467.85h43.1v1.02h-43.1zM201.5 480.84h43.1v1.02h-43.1zM201.5 492.83h43.1v1.02h-43.1zM244.6 167.09h43.1v1.02h-43.1zM244.6 266.01h43.1v1.02h-43.1zM287.7 181.08h43.1v1.02h-43.1zM287.7 221.05h43.1v1.02h-43.1zM287.7 266.01h43.1v1.02h-43.1zM287.7 345.95h43.1v1.02h-43.1zM287.7 383.92h43.1v1.02h-43.1zM287.7 403.90h43.1v1.02h-43.1zM330.8 165.10h43.1v1.02h-43.1zM330.8 174.09h43.1v1.02h-43.1zM330.8 235.04h43.1v1.02h-43.1zM330.8 303.98h43.1v1.02h-43.1zM330.8 353.94h43.1v1.02h-43.1zM330.8 361.94h43.1v1.02h-43.1zM330.8 384.92h43.1v1.02h-43.1zM330.8 401.91h43.1v1.02h-43.1zM330.8 460.86h43.1v1.02h-43.1zM330.8 481.84h43.1v1.02h-43.1zM330.8 483.84h43.1v1.02h-43.1zM330.8 499.83h43.1v1.02h-43.1zM330.8 503.82h43.1v1.02h-43.1zM330.8 504.82h43.1v1.02h-43.1zM330.8 520.81h43.1v1.02h-43.1z"/>
<path fill="#d4e4e0" d="M115.2 204.06h43.1v1.02h-43.1zM115.2 225.05h43.1v1.02h-43.1zM115.2 228.05h43.1v1.02h-43.1zM115.2 249.03h43.1v1.02h-43.1zM115.2 254.02h43.1v1.02h-43.1zM115.2 264.02h43.1v1.02h-43.1zM115.2 271.01h43.1v1.02h-43.1zM115.2 274.01h43.1v1.02h-43.1zM115.2 288.00h43.1v1.02h-43.1zM115.2 309.98h43.1v1.02h-43.1zM115.2 331.96h43.1v1.02h-43.1zM115.2 363.94h43.1v1.02h-43.1zM115.2 375.93h43.1v1.02h-43.1zM115.2 430.88h43.1v1.02h-43.1zM115.2 448.87h43.1v1.02h-43.1zM115.2 473.85h43.1v1.02h-43.1zM115.2 519.81h43.1v1.02h-43.1zM158.4 165.10h43.1v1.02h-43.1zM158.4 166.10h43.1v1.02h-43.1zM158.4 170.09h43.1v1.02h-43.1zM158.4 176.09h43.1v1.02h-43.1zM158.4 182.08h43.1v1.02h-43.1zM158.4 209.06h43.1v1.02h-43.1zM158.4 270.01h43.1v1.02h-43.1zM158.4 272.01h43.1v1.02h-43.1zM158.4 290.00h43.1v1.02h-43.1zM158.4 297.99h43.1v1.02h-43.1zM158.4 309.98h43.1v1.02h-43.1zM158.4 320.97h43.1v1.02h-43.1zM158.4 327.97h43.1v1.02h-43.1zM158.4 347.95h43.1v1.02h-43.1zM158.4 375.93h43.1v1.02h-43.1zM158.4 388.92h43.1v1.02h-43.1zM158.4 406.90h43.1v1.02h-43.1zM158.4 426.89h43.1v1.02h-43.1zM158.4 442.87h43.1v1.02h-43.1zM158.4 465.85h43.1v1.02h-43.1zM158.4 504.82h43.1v1.02h-43.1zM158.4 519.81h43.1v1.02h-43.1zM158.4 525.81h43.1v1.02h-43.1zM158.4 528.80h43.1v1.02h-43.1zM201.5 172.09h43.1v1.02h-43.1zM201.5 182.08h43.1v1.02h-43.1zM201.5 228.05h43.1v1.02h-43.1zM201.5 280.00h43.1v1.02h-43.1zM201.5 361.94h43.1v1.02h-43.1zM201.5 402.91h43.1v1.02h-43.1zM201.5 449.87h43.1v1.02h-43.1zM201.5 458.86h43.1v1.02h-43.1zM201.5 473.85h43.1v1.02h-43.1zM201.5 481.84h43.1v1.02h-43.1zM201.5 494.83h43.1v1.02h-43.1zM244.6 177.09h43.1v1.02h-43.1zM244.6 198.07h43.1v1.02h-43.1zM244.6 215.06h43.1v1.02h-43.1zM244.6 218.05h43.1v1.02h-43.1zM244.6 225.05h43.1v1.02h-43.1zM244.6 231.04h43.1v1.02h-43.1zM244.6 246.03h43.1v1.02h-43.1zM244.6 250.03h43.1v1.02h-43.1zM244.6 288.00h43.1v1.02h-43.1zM244.6 329.96h43.1v1.02h-43.1zM244.6 395.91h43.1v1.02h-43.1zM244.6 397.91h43.1v1.02h-43.1zM244.6 430.88h43.1v1.02h-43.1zM244.6 484.84h43.1v1.02h-43.1zM244.6 489.84h43.1v1.02h-43.1zM244.6 490.83h43.1v1.02h-43.1zM244.6 493.83h43.1v1.02h-43.1zM244.6 505.82h43.1v1.02h-43.1zM287.7 174.09h43.1v1.02h-43.1zM287.7 177.09h43.1v1.02h-43.1zM287.7 224.05h43.1v1.02h-43.1zM287.7 290.00h43.1v1.02h-43.1zM287.7 299.99h43.1v1.02h-43.1zM287.7 304.98h43.1v1.02h-43.1zM287.7 329.96h43.1v1.02h-43.1zM287.7 331.96h43.1v1.02h-43.1zM287.7 353.94h43.1v1.02h-43.1zM287.7 361.94h43.1v1.02h-43.1zM287.7 367.93h43.1v1.02h-43.1zM287.7 376.93h43.1v1.02h-43.1zM287.7 388.92h43.1v1.02h-43.1zM287.7 397.91h43.1v1.02h-43.1zM287.7 414.90h43.1v1.02h-43.1zM287.7 420.89h43.1v1.02h-43.1zM287.7 425.89h43.1v1.02h-43.1zM287.7 458.86h43.1v1.02h-43.1zM287.7 473.85h43.1v1.02h-43.1zM287.7 528.80h43.1v1.02h-43.1zM330.8 208.06h43.1v1.02h-43.1zM330.8 242.03h43.1v1.02h-43.1zM330.8 254.02h43.1v1.02h-43.1zM330.8 290.99h43.1v1.02h-43.1zM330.8 295.99h43.1v1.02h-43.1zM330.8 314.98h43.1v1.02h-43.1zM330.8 320.97h43.1v1.02h-43.1zM330.8 341.95h43.1v1.02h-43.1zM330.8 362.94h43.1v1.02h-43.1zM330.8 368.93h43.1v1.02h-43.1zM330.8 373.93h43.1v1.02h-43.1zM330.8 441.87h43.1v1.02h-43.1zM330.8 445.87h43.1v1.02h-43.1zM330.8 456.86h43.1v1.02h-43.1zM330.8 462.86h43.1v1.02h-43.1zM330.8 468.85h43.1v1.02h-43.1zM330.8 519.81h43.1v1.02h-43.1zM330.8 525.81h43.1v1.02h-43.1z"/>
<path fill="#cadedf" d="M115.2 210.06h43.1v1.02h-43.1zM115.2 219.05h43.1v1.02h-43.1zM115.2 227.05h43.1v1.02h-43.1zM115.2 236.04h43.1v1.02h-43.1zM115.2 270.01h43.1v1.02h-43.1zM115.2 303.98h43.1v1.02h-43.1zM115.2 307.98h43.1v1.02h-43.1zM115.2 320.97h43.1v1.02h-43.1zM115.2 393.91h43.1v1.02h-43.1zM158.4 173.09h43.1v1.02h-43.1zM158.4 210.06h43.1v1.02h-43.1zM158.4 217.05h43.1v1.02h-43.1zM158.4 236.04h43.1v1.02h-43.1zM158.4 242.03h43.1v1.02h-43.1zM158.4 252.03h43.1v1.02h-43.1zM158.4 268.01h43.1v1.02h-43.1zM158.4 290.99h43.1v1.02h-43.1zM158.4 295.99h43.1v1.02h-43.1zM158.4 363.94h43.1v1.02h-43.1zM158.4 365.93h43.1v1.02h-43.1zM158.4 379.92h43.1v1.02h-43.1zM158.4 380.92h43.1v1.02h-43.1zM158.4 382.92h43.1v1.02h-43.1zM158.4 387.92h43.1v1.02h-43.1zM158.4 391.91h43.1v1.02h-43.1zM158.4 468.85h43.1v1.02h-43.1zM158.4 488.84h43.1v1.02h-43.1zM158.4 496.83h43.1v1.02h-43.1zM201.5 194.07h43.1v1.02h-43.1zM201.5 219.05h43.1v1.02h-43.1zM201.5 243.03h43.1v1.02h-43.1zM201.5 254.02h43.1v1.02h-43.1zM201.5 279.00h43.1v1.02h-43.1zM201.5 300.99h43.1v1.02h-43.1zM201.5 350.95h43.1v1.02h-43.1zM201.5 365.93h43.1v1.02h-43.1zM201.5 368.93h43.1v1.02h-43.1zM201.5 373.93h43.1v1.02h-43.1zM201.5 385.92h43.1v1.02h-43.1zM201.5 387.92h43.1v1.02h-43.1zM201.5 409.90h43.1v1.02h-43.1zM201.5 439.88h43.1v1.02h-43.1zM201.5 472.85h43.1v1.02h-43.1zM201.5 512.82h43.1v1.02h-43.1zM244.6 170.09h43.1v1.02h-43.1zM244.6 229.04h43.1v1.02h-43.1zM244.6 258.02h43.1v1.02h-43.1zM244.6 270.01h43.1v1.02h-43.1zM244.6 274.01h43.1v1.02h-43.1zM244.6 344.95h43.1v1.02h-43.1zM244.6 376.93h43.1v1.02h-43.1zM244.6 377.93h43.1v1.02h-43.1zM244.6 388.92h43.1v1.02h-43.1zM244.6 414.90h43.1v1.02h-43.1zM244.6 499.83h43.1v1.02h-43.1zM244.6 519.81h43.1v1.02h-43.1zM244.6 529.80h43.1v1.02h-43.1zM287.7 200.07h43.1v1.02h-43.1zM287.7 247.03h43.1v1.02h-43.1zM287.7 254.02h43.1v1.02h-43.1zM287.7 280.00h43.1v1.02h-43.1zM287.7 291.99h43.1v1.02h-43.1zM287.7 307.98h43.1v1.02h-43.1zM287.7 343.95h43.1v1.02h-43.1zM287.7 375.93h43.1v1.02h-43.1zM287.7 380.92h43.1v1.02h-43.1zM287.7 417.89h43.1v1.02h-43.1zM287.7 438.88h43.1v1.02h-43.1zM287.7 465.85h43.1v1.02h-43.1zM287.7 468.85h43.1v1.02h-43.1zM287.7 488.84h43.1v1.02h-43.1zM287.7 494.83h43.1v1.02h-43.1zM330.8 186.08h43.1v1.02h-43.1zM330.8 236.04h43.1v1.02h-43.1zM330.8 300.99h43.1v1.02h-43.1zM330.8 316.97h43.1v1.02h-43.1zM330.8 326.97h43.1v1.02h-43.1zM330.8 364.94h43.1v1.02h-43.1zM330.8 427.89h43.1v1.02h-43.1zM330.8 440.87h43.1v1.02h-43.1zM330.8 464.86h43.1v1.02h-43.1zM330.8 477.84h43.1v1.02h-43.1zM330.8 498.83h43.1v1.02h-43.1zM330.8 510.82h43.1v1.02h-43.1zM330.8 511.82h43.1v1.02h-43.1zM330.8 531.80h43.1v1.02h-43.1z"/>
<path fill="#b2ced9" d="M115.2 222.05h43.1v1.02h-43.1zM115.2 239.04h43.1v1.02h-43.1zM115.2 241.04h43.1v1.02h-43.1zM115.2 330.96h43.1v1.02h-43.1zM115.2 394.91h43.1v1.02h-43.1zM115.2 482.84h43.1v1.02h-43.1zM115.2 495.83h43.1v1.02h-43.1zM158.4 179.08h43.1v1.02h-43.1zM158.4 433.88h43.1v1.02h-43.1zM158.4 476.85h43.1v1.02h-43.1zM158.4 495.83h43.1v1.02h-43.1zM201.5 241.04h43.1v1.02h-43.1zM201.5 336.96h43.1v1.02h-43.1zM201.5 394.91h43.1v1.02h-43.1zM201.5 463.86h43.1v1.02h-43.1zM201.5 478.84h43.1v1.02h-43.1zM201.5 479.84h43.1v1.02h-43.1zM244.6 223.05h43.1v1.02h-43.1zM244.6 255.02h43.1v1.02h-43.1zM244.6 283.00h43.1v1.02h-43.1zM244.6 321.97h43.1v1.02h-43.1zM244.6 334.96h43.1v1.02h-43.1zM244.6 339.96h43.1v1.02h-43.1zM244.6 370.93h43.1v1.02h-43.1zM244.6 385.92h43.1v1.02h-43.1zM244.6 410.90h43.1v1.02h-43.1zM244.6 446.87h43.1v1.02h-43.1zM287.7 168.09h43.1v1.02h-43.1zM287.7 237.04h43.1v1.02h-43.1zM287.7 239.04h43.1v1.02h-43.1zM287.7 321.97h43.1v1.02h-43.1zM287.7 330.96h43.1v1.02h-43.1zM287.7 336.96h43.1v1.02h-43.1zM287.7 459.86h43.1v1.02h-43.1zM287.7 463.86h43.1v1.02h-43.1zM287.7 476.85h43.1v1.02h-43.1zM287.7 501.83h43.1v1.02h-43.1zM330.8 179.08h43.1v1.02h-43.1zM330.8 322.97h43.1v1.02h-43.1z"/>
<path fill="#bdd5dc" d="M115.2 223.05h43.1v1.02h-43.1zM115.2 255.02h43.1v1.02h-43.1zM115.2 259.02h43.1v1.02h-43.1zM115.2 289.00h43.1v1.02h-43.1zM115.2 296.99h43.1v1.02h-43.1zM115.2 316.97h43.1v1.02h-43.1zM115.2 323.97h43.1v1.02h-43.1zM115.2 326.97h43.1v1.02h-43.1zM115.2 333.96h43.1v1.02h-43.1zM115.2 424.89h43.1v1.02h-43.1zM115.2 498.83h43.1v1.02h-43.1zM115.2 510.82h43.1v1.02h-43.1zM158.4 234.04h43.1v1.02h-43.1zM158.4 245.03h43.1v1.02h-43.1zM158.4 283.00h43.1v1.02h-43.1zM158.4 296.99h43.1v1.02h-43.1zM158.4 312.98h43.1v1.02h-43.1zM158.4 316.97h43.1v1.02h-43.1zM158.4 317.97h43.1v1.02h-43.1zM158.4 410.90h43.1v1.02h-43.1zM158.4 486.84h43.1v1.02h-43.1zM158.4 511.82h43.1v1.02h-43.1zM158.4 518.81h43.1v1.02h-43.1zM201.5 196.07h43.1v1.02h-43.1zM201.5 202.07h43.1v1.02h-43.1zM201.5 223.05h43.1v1.02h-43.1zM201.5 253.03h43.1v1.02h-43.1zM201.5 296.99h43.1v1.02h-43.1zM201.5 366.93h43.1v1.02h-43.1zM201.5 370.93h43.1v1.02h-43.1zM201.5 410.90h43.1v1.02h-43.1zM201.5 424.89h43.1v1.02h-43.1zM201.5 427.89h43.1v1.02h-43.1zM201.5 440.87h43.1v1.02h-43.1zM201.5 446.87h43.1v1.02h-43.1zM201.5 461.86h43.1v1.02h-43.1zM201.5 486.84h43.1v1.02h-43.1zM244.6 173.09h43.1v1.02h-43.1zM244.6 194.07h43.1v1.02h-43.1zM244.6 238.04h43.1v1.02h-43.1zM244.6 242.03h43.1v1.02h-43.1zM244.6 252.03h43.1v1.02h-43.1zM244.6 290.99h43.1v1.02h-43.1zM244.6 314.98h43.1v1.02h-43.1zM244.6 349.95h43.1v1.02h-43.1zM244.6 350.95h43.1v1.02h-43.1zM244.6 363.94h43.1v1.02h-43.1zM244.6 369.93h43.1v1.02h-43.1zM244.6 389.92h43.1v1.02h-43.1zM244.6 391.91h43.1v1.02h-43.1zM244.6 416.89h43.1v1.02h-43.1zM244.6 429.88h43.1v1.02h-43.1zM244.6 439.88h43.1v1.02h-43.1zM244.6 496.83h43.1v1.02h-43.1zM244.6 517.81h43.1v1.02h-43.1zM287.7 217.05h43.1v1.02h-43.1zM287.7 306.98h43.1v1.02h-43.1zM287.7 339.96h43.1v1.02h-43.1zM287.7 382.92h43.1v1.02h-43.1zM287.7 385.92h43.1v1.02h-43.1zM287.7 391.91h43.1v1.02h-43.1zM287.7 399.91h43.1v1.02h-43.1zM287.7 428.88h43.1v1.02h-43.1zM287.7 441.87h43.1v1.02h-43.1zM287.7 500.83h43.1v1.02h-43.1zM330.8 255.02h43.1v1.02h-43.1zM330.8 275.01h43.1v1.02h-43.1zM330.8 308.98h43.1v1.02h-43.1zM330.8 321.97h43.1v1.02h-43.1zM330.8 434.88h43.1v1.02h-43.1z"/>
<path fill="#a0c1cf" d="M115.2 232.04h43.1v1.02h-43.1zM158.4 338.96h43.1v1.02h-43.1zM158.4 508.82h43.1v1.02h-43.1zM201.5 338.96h43.1v1.02h-43.1zM201.5 508.82h43.1v1.02h-43.1zM244.6 179.08h43.1v1.02h-43.1zM244.6 232.04h43.1v1.02h-43.1zM244.6 241.04h43.1v1.02h-43.1zM244.6 275.01h43.1v1.02h-43.1zM244.6 284.00h43.1v1.02h-43.1zM244.6 324.97h43.1v1.02h-43.1zM244.6 338.96h43.1v1.02h-43.1zM244.6 346.95h43.1v1.02h-43.1zM244.6 436.88h43.1v1.02h-43.1zM244.6 463.86h43.1v1.02h-43.1zM244.6 508.82h43.1v1.02h-43.1zM287.7 324.97h43.1v1.02h-43.1zM287.7 338.96h43.1v1.02h-43.1zM287.7 508.82h43.1v1.02h-43.1z"/>
<path fill="#b6d0db" d="M115.2 234.04h43.1v1.02h-43.1zM115.2 283.00h43.1v1.02h-43.1zM115.2 339.96h43.1v1.02h-43.1zM115.2 370.93h43.1v1.02h-43.1zM115.2 476.85h43.1v1.02h-43.1zM115.2 486.84h43.1v1.02h-43.1zM158.4 273.01h43.1v1.02h-43.1zM158.4 281.00h43.1v1.02h-43.1zM158.4 308.98h43.1v1.02h-43.1zM158.4 321.97h43.1v1.02h-43.1zM158.4 322.97h43.1v1.02h-43.1zM158.4 336.96h43.1v1.02h-43.1zM158.4 482.84h43.1v1.02h-43.1zM201.5 189.08h43.1v1.02h-43.1zM201.5 239.04h43.1v1.02h-43.1zM201.5 255.02h43.1v1.02h-43.1zM201.5 372.93h43.1v1.02h-43.1zM201.5 459.86h43.1v1.02h-43.1zM201.5 501.83h43.1v1.02h-43.1zM201.5 518.81h43.1v1.02h-43.1zM244.6 186.08h43.1v1.02h-43.1zM244.6 192.07h43.1v1.02h-43.1zM244.6 257.02h43.1v1.02h-43.1zM244.6 312.98h43.1v1.02h-43.1zM244.6 330.96h43.1v1.02h-43.1zM244.6 333.96h43.1v1.02h-43.1zM244.6 348.95h43.1v1.02h-43.1zM244.6 355.94h43.1v1.02h-43.1zM244.6 368.93h43.1v1.02h-43.1zM244.6 387.92h43.1v1.02h-43.1zM244.6 398.91h43.1v1.02h-43.1zM244.6 422.89h43.1v1.02h-43.1zM244.6 431.88h43.1v1.02h-43.1zM244.6 498.83h43.1v1.02h-43.1zM244.6 521.81h43.1v1.02h-43.1zM244.6 523.81h43.1v1.02h-43.1zM244.6 524.81h43.1v1.02h-43.1zM244.6 531.80h43.1v1.02h-43.1zM287.7 192.07h43.1v1.02h-43.1zM287.7 257.02h43.1v1.02h-43.1zM287.7 259.02h43.1v1.02h-43.1zM287.7 296.99h43.1v1.02h-43.1zM287.7 326.97h43.1v1.02h-43.1zM287.7 334.96h43.1v1.02h-43.1zM287.7 412.90h43.1v1.02h-43.1zM287.7 427.89h43.1v1.02h-43.1zM287.7 470.85h43.1v1.02h-43.1zM287.7 477.84h43.1v1.02h-43.1zM287.7 509.82h43.1v1.02h-43.1zM287.7 511.82h43.1v1.02h-43.1zM287.7 521.81h43.1v1.02h-43.1zM287.7 527.80h43.1v1.02h-43.1zM330.8 222.05h43.1v1.02h-43.1zM330.8 302.99h43.1v1.02h-43.1zM330.8 495.83h43.1v1.02h-43.1z"/>
<path fill="#c8dcdf" d="M115.2 245.03h43.1v1.02h-43.1zM115.2 247.03h43.1v1.02h-43.1zM115.2 262.02h43.1v1.02h-43.1zM115.2 373.93h43.1v1.02h-43.1zM115.2 380.92h43.1v1.02h-43.1zM115.2 387.92h43.1v1.02h-43.1zM115.2 389.92h43.1v1.02h-43.1zM115.2 409.90h43.1v1.02h-43.1zM115.2 428.88h43.1v1.02h-43.1zM115.2 447.87h43.1v1.02h-43.1zM115.2 456.86h43.1v1.02h-43.1zM115.2 457.86h43.1v1.02h-43.1zM115.2 477.84h43.1v1.02h-43.1zM115.2 500.83h43.1v1.02h-43.1zM158.4 187.08h43.1v1.02h-43.1zM158.4 194.07h43.1v1.02h-43.1zM158.4 230.04h43.1v1.02h-43.1zM158.4 247.03h43.1v1.02h-43.1zM158.4 251.03h43.1v1.02h-43.1zM158.4 287.00h43.1v1.02h-43.1zM158.4 303.98h43.1v1.02h-43.1zM158.4 399.91h43.1v1.02h-43.1zM158.4 409.90h43.1v1.02h-43.1zM158.4 421.89h43.1v1.02h-43.1zM158.4 437.88h43.1v1.02h-43.1zM158.4 461.86h43.1v1.02h-43.1zM158.4 500.83h43.1v1.02h-43.1zM201.5 165.10h43.1v1.02h-43.1zM201.5 206.06h43.1v1.02h-43.1zM201.5 242.03h43.1v1.02h-43.1zM201.5 260.02h43.1v1.02h-43.1zM201.5 271.01h43.1v1.02h-43.1zM201.5 295.99h43.1v1.02h-43.1zM201.5 335.96h43.1v1.02h-43.1zM201.5 363.94h43.1v1.02h-43.1zM201.5 379.92h43.1v1.02h-43.1zM201.5 386.92h43.1v1.02h-43.1zM201.5 393.91h43.1v1.02h-43.1zM201.5 411.90h43.1v1.02h-43.1zM201.5 413.90h43.1v1.02h-43.1zM201.5 432.88h43.1v1.02h-43.1zM201.5 456.86h43.1v1.02h-43.1zM201.5 462.86h43.1v1.02h-43.1zM201.5 514.82h43.1v1.02h-43.1zM201.5 531.80h43.1v1.02h-43.1zM244.6 165.10h43.1v1.02h-43.1zM244.6 172.09h43.1v1.02h-43.1zM244.6 200.07h43.1v1.02h-43.1zM244.6 228.05h43.1v1.02h-43.1zM244.6 243.03h43.1v1.02h-43.1zM244.6 291.99h43.1v1.02h-43.1zM244.6 300.99h43.1v1.02h-43.1zM244.6 354.94h43.1v1.02h-43.1zM244.6 378.92h43.1v1.02h-43.1zM244.6 402.91h43.1v1.02h-43.1zM244.6 406.90h43.1v1.02h-43.1zM244.6 418.89h43.1v1.02h-43.1zM244.6 426.89h43.1v1.02h-43.1zM244.6 432.88h43.1v1.02h-43.1zM244.6 438.88h43.1v1.02h-43.1zM244.6 441.87h43.1v1.02h-43.1zM244.6 442.87h43.1v1.02h-43.1zM244.6 456.86h43.1v1.02h-43.1zM244.6 460.86h43.1v1.02h-43.1zM244.6 503.82h43.1v1.02h-43.1zM244.6 512.82h43.1v1.02h-43.1zM244.6 525.81h43.1v1.02h-43.1zM287.7 206.06h43.1v1.02h-43.1zM287.7 209.06h43.1v1.02h-43.1zM287.7 210.06h43.1v1.02h-43.1zM287.7 219.05h43.1v1.02h-43.1zM287.7 229.04h43.1v1.02h-43.1zM287.7 243.03h43.1v1.02h-43.1zM287.7 344.95h43.1v1.02h-43.1zM287.7 359.94h43.1v1.02h-43.1zM287.7 362.94h43.1v1.02h-43.1zM287.7 366.93h43.1v1.02h-43.1zM287.7 371.93h43.1v1.02h-43.1zM287.7 379.92h43.1v1.02h-43.1zM287.7 395.91h43.1v1.02h-43.1zM287.7 409.90h43.1v1.02h-43.1zM287.7 418.89h43.1v1.02h-43.1zM287.7 439.88h43.1v1.02h-43.1zM287.7 471.85h43.1v1.02h-43.1zM287.7 481.84h43.1v1.02h-43.1zM287.7 497.83h43.1v1.02h-43.1zM330.8 189.08h43.1v1.02h-43.1zM330.8 192.07h43.1v1.02h-43.1zM330.8 202.07h43.1v1.02h-43.1zM330.8 283.00h43.1v1.02h-43.1zM330.8 313.98h43.1v1.02h-43.1zM330.8 339.96h43.1v1.02h-43.1zM330.8 351.95h43.1v1.02h-43.1zM330.8 355.94h43.1v1.02h-43.1zM330.8 479.84h43.1v1.02h-43.1zM330.8 514.82h43.1v1.02h-43.1zM330.8 527.80h43.1v1.02h-43.1z"/>
<path fill="#b4cfda" d="M115.2 273.01h43.1v1.02h-43.1zM115.2 281.00h43.1v1.02h-43.1zM115.2 302.99h43.1v1.02h-43.1zM115.2 423.89h43.1v1.02h-43.1zM115.2 463.86h43.1v1.02h-43.1zM115.2 501.83h43.1v1.02h-43.1zM115.2 511.82h43.1v1.02h-43.1zM158.4 239.04h43.1v1.02h-43.1zM158.4 275.01h43.1v1.02h-43.1zM158.4 358.94h43.1v1.02h-43.1zM158.4 394.91h43.1v1.02h-43.1zM158.4 423.89h43.1v1.02h-43.1zM158.4 477.84h43.1v1.02h-43.1zM158.4 478.84h43.1v1.02h-43.1zM201.5 195.07h43.1v1.02h-43.1zM201.5 308.98h43.1v1.02h-43.1zM201.5 339.96h43.1v1.02h-43.1zM244.6 196.07h43.1v1.02h-43.1zM244.6 202.07h43.1v1.02h-43.1zM244.6 237.04h43.1v1.02h-43.1zM244.6 285.00h43.1v1.02h-43.1zM244.6 313.98h43.1v1.02h-43.1zM244.6 323.97h43.1v1.02h-43.1zM244.6 364.94h43.1v1.02h-43.1zM244.6 382.92h43.1v1.02h-43.1zM244.6 393.91h43.1v1.02h-43.1zM244.6 440.87h43.1v1.02h-43.1zM244.6 486.84h43.1v1.02h-43.1zM244.6 509.82h43.1v1.02h-43.1zM287.7 189.08h43.1v1.02h-43.1zM287.7 195.07h43.1v1.02h-43.1zM287.7 240.04h43.1v1.02h-43.1zM287.7 287.00h43.1v1.02h-43.1zM287.7 312.98h43.1v1.02h-43.1zM287.7 351.95h43.1v1.02h-43.1zM287.7 479.84h43.1v1.02h-43.1zM287.7 515.81h43.1v1.02h-43.1zM330.8 241.04h43.1v1.02h-43.1zM330.8 282.00h43.1v1.02h-43.1zM330.8 433.88h43.1v1.02h-43.1zM330.8 436.88h43.1v1.02h-43.1z"/>
<path fill="#aecbd7" d="M115.2 275.01h43.1v1.02h-43.1zM115.2 322.97h43.1v1.02h-43.1zM115.2 444.87h43.1v1.02h-43.1zM158.4 392.91h43.1v1.02h-43.1zM158.4 463.86h43.1v1.02h-43.1zM201.5 179.08h43.1v1.02h-43.1zM201.5 240.04h43.1v1.02h-43.1zM201.5 275.01h43.1v1.02h-43.1zM201.5 302.99h43.1v1.02h-43.1zM201.5 358.94h43.1v1.02h-43.1zM201.5 423.89h43.1v1.02h-43.1zM201.5 482.84h43.1v1.02h-43.1zM201.5 495.83h43.1v1.02h-43.1zM244.6 189.08h43.1v1.02h-43.1zM244.6 267.01h43.1v1.02h-43.1zM244.6 336.96h43.1v1.02h-43.1zM244.6 372.93h43.1v1.02h-43.1zM244.6 434.88h43.1v1.02h-43.1zM244.6 476.85h43.1v1.02h-43.1zM244.6 511.82h43.1v1.02h-43.1zM287.7 392.91h43.1v1.02h-43.1zM287.7 433.88h43.1v1.02h-43.1zM330.8 338.96h43.1v1.02h-43.1zM330.8 346.95h43.1v1.02h-43.1z"/>
<path fill="#b0ccd8" d="M115.2 282.00h43.1v1.02h-43.1zM115.2 321.97h43.1v1.02h-43.1zM115.2 346.95h43.1v1.02h-43.1zM115.2 392.91h43.1v1.02h-43.1zM115.2 459.86h43.1v1.02h-43.1zM158.4 222.05h43.1v1.02h-43.1zM158.4 241.04h43.1v1.02h-43.1zM158.4 444.87h43.1v1.02h-43.1zM201.5 222.05h43.1v1.02h-43.1zM201.5 273.01h43.1v1.02h-43.1zM201.5 322.97h43.1v1.02h-43.1zM201.5 392.91h43.1v1.02h-43.1zM201.5 433.88h43.1v1.02h-43.1zM244.6 236.04h43.1v1.02h-43.1zM244.6 239.04h43.1v1.02h-43.1zM244.6 262.02h43.1v1.02h-43.1zM244.6 287.00h43.1v1.02h-43.1zM244.6 326.97h43.1v1.02h-43.1zM244.6 351.95h43.1v1.02h-43.1zM244.6 412.90h43.1v1.02h-43.1zM244.6 501.83h43.1v1.02h-43.1zM244.6 515.81h43.1v1.02h-43.1zM244.6 518.81h43.1v1.02h-43.1zM287.7 255.02h43.1v1.02h-43.1zM287.7 283.00h43.1v1.02h-43.1zM287.7 289.00h43.1v1.02h-43.1zM287.7 346.95h43.1v1.02h-43.1zM287.7 358.94h43.1v1.02h-43.1zM287.7 434.88h43.1v1.02h-43.1zM287.7 478.84h43.1v1.02h-43.1zM330.8 444.87h43.1v1.02h-43.1z"/>
<path fill="#b8d2db" d="M115.2 312.98h43.1v1.02h-43.1zM115.2 336.96h43.1v1.02h-43.1zM115.2 434.88h43.1v1.02h-43.1zM115.2 479.84h43.1v1.02h-43.1zM115.2 518.81h43.1v1.02h-43.1zM115.2 524.81h43.1v1.02h-43.1zM158.4 192.07h43.1v1.02h-43.1zM158.4 434.88h43.1v1.02h-43.1zM201.5 192.07h43.1v1.02h-43.1zM201.5 234.04h43.1v1.02h-43.1zM201.5 237.04h43.1v1.02h-43.1zM201.5 257.02h43.1v1.02h-43.1zM201.5 285.00h43.1v1.02h-43.1zM201.5 287.00h43.1v1.02h-43.1zM201.5 289.00h43.1v1.02h-43.1zM201.5 316.97h43.1v1.02h-43.1zM201.5 320.97h43.1v1.02h-43.1zM201.5 464.86h43.1v1.02h-43.1zM201.5 470.85h43.1v1.02h-43.1zM201.5 509.82h43.1v1.02h-43.1zM244.6 217.05h43.1v1.02h-43.1zM244.6 251.03h43.1v1.02h-43.1zM244.6 278.01h43.1v1.02h-43.1zM244.6 317.97h43.1v1.02h-43.1zM244.6 409.90h43.1v1.02h-43.1zM244.6 427.89h43.1v1.02h-43.1zM244.6 447.87h43.1v1.02h-43.1zM244.6 485.84h43.1v1.02h-43.1zM244.6 487.84h43.1v1.02h-43.1zM287.7 268.01h43.1v1.02h-43.1zM287.7 313.98h43.1v1.02h-43.1zM287.7 316.97h43.1v1.02h-43.1zM287.7 323.97h43.1v1.02h-43.1zM287.7 370.93h43.1v1.02h-43.1zM287.7 372.93h43.1v1.02h-43.1zM287.7 389.92h43.1v1.02h-43.1zM287.7 398.91h43.1v1.02h-43.1zM287.7 410.90h43.1v1.02h-43.1zM287.7 416.89h43.1v1.02h-43.1zM287.7 424.89h43.1v1.02h-43.1zM287.7 432.88h43.1v1.02h-43.1zM287.7 446.87h43.1v1.02h-43.1zM287.7 486.84h43.1v1.02h-43.1zM287.7 510.82h43.1v1.02h-43.1zM330.8 273.01h43.1v1.02h-43.1zM330.8 392.91h43.1v1.02h-43.1zM330.8 394.91h43.1v1.02h-43.1z"/>
<path fill="#dfe4d0" d="M115.2 328.96h43.1v1.02h-43.1zM115.2 403.90h43.1v1.02h-43.1zM115.2 453.86h43.1v1.02h-43.1zM115.2 454.86h43.1v1.02h-43.1zM115.2 474.85h43.1v1.02h-43.1zM115.2 484.84h43.1v1.02h-43.1zM158.4 293.99h43.1v1.02h-43.1zM158.4 356.94h43.1v1.02h-43.1zM158.4 390.91h43.1v1.02h-43.1zM201.5 293.99h43.1v1.02h-43.1zM201.5 396.91h43.1v1.02h-43.1zM244.6 220.05h43.1v1.02h-43.1zM244.6 455.86h43.1v1.02h-43.1zM287.7 265.02h43.1v1.02h-43.1zM287.7 516.81h43.1v1.02h-43.1zM330.8 160.10h43.1v1.02h-43.1zM330.8 164.10h43.1v1.02h-43.1zM330.8 167.09h43.1v1.02h-43.1zM330.8 169.09h43.1v1.02h-43.1zM330.8 188.08h43.1v1.02h-43.1zM330.8 193.07h43.1v1.02h-43.1zM330.8 198.07h43.1v1.02h-43.1zM330.8 211.06h43.1v1.02h-43.1zM330.8 288.00h43.1v1.02h-43.1zM330.8 329.96h43.1v1.02h-43.1zM330.8 467.85h43.1v1.02h-43.1zM330.8 491.83h43.1v1.02h-43.1zM330.8 493.83h43.1v1.02h-43.1z"/>
<path fill="#e0e2cf" d="M115.2 337.96h43.1v1.02h-43.1zM115.2 356.94h43.1v1.02h-43.1zM158.4 263.02h43.1v1.02h-43.1zM158.4 400.91h43.1v1.02h-43.1zM158.4 455.86h43.1v1.02h-43.1zM201.5 162.10h43.1v1.02h-43.1zM201.5 220.05h43.1v1.02h-43.1zM201.5 405.90h43.1v1.02h-43.1zM244.6 310.98h43.1v1.02h-43.1zM244.6 404.90h43.1v1.02h-43.1zM287.7 162.10h43.1v1.02h-43.1zM287.7 216.06h43.1v1.02h-43.1zM287.7 357.94h43.1v1.02h-43.1zM330.8 171.09h43.1v1.02h-43.1zM330.8 190.08h43.1v1.02h-43.1zM330.8 396.91h43.1v1.02h-43.1zM330.8 513.82h43.1v1.02h-43.1z"/>
<path fill="#aac8d4" d="M115.2 436.88h43.1v1.02h-43.1zM158.4 284.00h43.1v1.02h-43.1zM158.4 302.99h43.1v1.02h-43.1zM158.4 436.88h43.1v1.02h-43.1zM244.6 195.07h43.1v1.02h-43.1zM244.6 240.04h43.1v1.02h-43.1zM244.6 308.98h43.1v1.02h-43.1zM244.6 358.94h43.1v1.02h-43.1zM244.6 423.89h43.1v1.02h-43.1zM244.6 478.84h43.1v1.02h-43.1zM244.6 479.84h43.1v1.02h-43.1zM244.6 482.84h43.1v1.02h-43.1zM287.7 284.00h43.1v1.02h-43.1zM287.7 308.98h43.1v1.02h-43.1zM287.7 322.97h43.1v1.02h-43.1zM287.7 423.89h43.1v1.02h-43.1zM287.7 495.83h43.1v1.02h-43.1zM330.8 232.04h43.1v1.02h-43.1zM330.8 324.97h43.1v1.02h-43.1z"/>
<path fill="#a4c4d1" d="M158.4 232.04h43.1v1.02h-43.1zM158.4 324.97h43.1v1.02h-43.1zM244.6 222.05h43.1v1.02h-43.1zM244.6 273.01h43.1v1.02h-43.1zM244.6 302.99h43.1v1.02h-43.1zM287.7 302.99h43.1v1.02h-43.1zM287.7 482.84h43.1v1.02h-43.1z"/>
<path fill="#acc9d6" d="M158.4 282.00h43.1v1.02h-43.1zM158.4 346.95h43.1v1.02h-43.1zM201.5 282.00h43.1v1.02h-43.1zM201.5 284.00h43.1v1.02h-43.1zM201.5 476.85h43.1v1.02h-43.1zM244.6 168.09h43.1v1.02h-43.1zM244.6 259.02h43.1v1.02h-43.1zM244.6 282.00h43.1v1.02h-43.1zM244.6 289.00h43.1v1.02h-43.1zM244.6 296.99h43.1v1.02h-43.1zM244.6 316.97h43.1v1.02h-43.1zM244.6 392.91h43.1v1.02h-43.1zM244.6 394.91h43.1v1.02h-43.1zM287.7 179.08h43.1v1.02h-43.1zM287.7 234.04h43.1v1.02h-43.1zM287.7 281.00h43.1v1.02h-43.1zM287.7 518.81h43.1v1.02h-43.1z"/>
<path fill="#a2c2d0" d="M201.5 232.04h43.1v1.02h-43.1zM244.6 444.87h43.1v1.02h-43.1zM244.6 459.86h43.1v1.02h-43.1zM287.7 232.04h43.1v1.02h-43.1zM287.7 436.88h43.1v1.02h-43.1z"/>
<path fill="#a8c7d3" d="M201.5 324.97h43.1v1.02h-43.1zM201.5 346.95h43.1v1.02h-43.1zM201.5 436.88h43.1v1.02h-43.1zM201.5 444.87h43.1v1.02h-43.1zM244.6 234.04h43.1v1.02h-43.1zM244.6 281.00h43.1v1.02h-43.1zM244.6 495.83h43.1v1.02h-43.1zM287.7 222.05h43.1v1.02h-43.1zM287.7 241.04h43.1v1.02h-43.1zM287.7 282.00h43.1v1.02h-43.1zM287.7 394.91h43.1v1.02h-43.1z"/>
</g>
<text transform="translate(136.9 537.5) rotate(-90)" font-size="11.4" font-weight="bold" text-anchor="end" font-family="Liberation Sans, sans-serif">C2</text>
<text transform="translate(180.0 537.5) rotate(-90)" font-size="11.4" font-weight="bold" text-anchor="end" font-family="Liberation Sans, sans-serif">T3</text>
<text transform="translate(223.1 537.5) rotate(-90)" font-size="11.4" font-weight="bold" text-anchor="end" font-family="Liberation Sans, sans-serif">T2</text>
<text transform="translate(266.2 537.5) rotate(-90)" font-size="11.4" font-weight="bold" text-anchor="end" font-family="Liberation Sans, sans-serif">C1</text>
<text transform="translate(309.3 537.5) rotate(-90)" font-size="11.4" font-weight="bold" text-anchor="end" font-family="Liberation Sans, sans-serif">T1</text>
<text transform="translate(352.4 537.5) rotate(-90)" font-size="11.4" font-weight="bold" text-anchor="end" font-family="Liberation Sans, sans-serif">C3</text>
<text transform="translate(380.65 15.9) scale(0.9 1)" font-size="23.5" font-weight="bold" font-family="Liberation Sans, sans-serif">B</text>
<text x="551.5" y="11" font-size="11.5" font-weight="bold" text-anchor="middle" font-family="Liberation Sans, sans-serif">Volcano Plot</text>
<path d="M433.5 17.55V299.9M472.0 17.55V299.9M510.5 17.55V299.9M549.0 17.55V299.9M587.6 17.55V299.9M626.1 17.55V299.9M664.6 17.55V299.9M414.5 289.4H683.6M414.5 237.3H683.6M414.5 185.2H683.6M414.5 133.0H683.6M414.5 80.9H683.6M414.5 28.8H683.6" stroke="#d9d9d9" stroke-width="1.4" fill="none"/>
<path d="M573.9 266.5h1.0M526.0 250.6h1.0M508.5 253.0h1.0M555.2 278.6h1.0M522.4 241.6h1.0M537.3 277.5h1.0M565.9 250.8h1.0M529.3 267.0h1.0M565.2 274.6h1.0M532.2 255.6h1.0M578.2 265.2h1.0M574.7 248.4h1.0M536.6 279.4h1.0M542.1 283.6h1.0M529.0 261.3h1.0M550.9 286.7h1.0M571.0 233.2h1.0M516.0 234.6h1.0M566.1 260.9h1.0M518.6 271.8h1.0M528.4 274.6h1.0M591.2 250.6h1.0M547.9 288.8h1.0M551.8 285.8h1.0M532.3 274.6h1.0M569.2 272.5h1.0M547.2 288.0h1.0M593.4 235.9h1.0M538.5 273.0h1.0M547.0 288.1h1.0M560.9 275.6h1.0M529.4 259.2h1.0M547.1 287.6h1.0M567.0 271.0h1.0M550.7 288.0h1.0M554.5 284.3h1.0M539.2 275.2h1.0M553.3 286.1h1.0M547.8 288.8h1.0M577.5 262.1h1.0M562.0 280.7h1.0M541.5 278.8h1.0M561.8 270.5h1.0M562.6 266.3h1.0M527.2 279.3h1.0M504.3 251.4h1.0M566.2 272.8h1.0M524.1 251.6h1.0M536.9 281.9h1.0M551.3 286.9h1.0M572.6 258.2h1.0M546.2 287.4h1.0M544.5 286.1h1.0M535.0 274.8h1.0M581.2 244.6h1.0M569.2 263.6h1.0M544.6 286.4h1.0M517.0 226.9h1.0M529.9 267.9h1.0M558.9 278.0h1.0M531.3 265.0h1.0M565.5 275.7h1.0M554.3 279.5h1.0M552.8 284.6h1.0M560.5 270.6h1.0M557.2 282.4h1.0M528.5 260.5h1.0M539.7 280.5h1.0M596.2 237.4h1.0M521.0 224.0h1.0M536.6 278.9h1.0M569.2 255.5h1.0M543.2 283.7h1.0M529.4 266.1h1.0M518.6 263.6h1.0M558.0 282.4h1.0M568.2 279.2h1.0M576.3 258.0h1.0M547.8 288.5h1.0M568.8 259.8h1.0M524.7 268.3h1.0M550.2 288.6h1.0M532.3 273.7h1.0M550.3 287.4h1.0M562.5 275.9h1.0M569.3 267.8h1.0M525.7 262.6h1.0M573.5 247.7h1.0M536.6 249.0h1.0M524.9 253.4h1.0M543.0 285.9h1.0M515.6 251.9h1.0M546.7 285.2h1.0M552.8 285.4h1.0M542.4 275.6h1.0M558.0 285.3h1.0M540.0 281.3h1.0M546.7 286.7h1.0M516.1 261.0h1.0M547.5 288.1h1.0M528.6 271.5h1.0M537.1 277.3h1.0M544.6 283.3h1.0M550.7 287.9h1.0M513.5 265.2h1.0M540.2 281.2h1.0M556.7 276.4h1.0M554.3 277.0h1.0M565.5 280.1h1.0M574.2 273.4h1.0M557.1 274.0h1.0M546.2 288.3h1.0M524.8 263.0h1.0M526.6 260.7h1.0M536.7 276.3h1.0M552.3 285.4h1.0M551.3 288.0h1.0M546.7 287.8h1.0M543.4 278.2h1.0M560.0 284.5h1.0M551.0 287.8h1.0M552.9 282.7h1.0M553.2 284.3h1.0M535.1 267.1h1.0M524.8 261.6h1.0M557.0 282.1h1.0M555.5 283.2h1.0M542.0 280.9h1.0M537.8 273.2h1.0M594.9 247.8h1.0M530.5 267.8h1.0M542.0 286.9h1.0M552.2 284.5h1.0M522.2 267.0h1.0M549.1 288.9h1.0M584.7 227.4h1.0M566.4 278.4h1.0M560.0 277.9h1.0M559.2 272.7h1.0M549.0 289.0h1.0M566.9 276.1h1.0M543.3 280.8h1.0M537.7 283.1h1.0M548.8 289.2h1.0M565.8 267.1h1.0M553.6 286.6h1.0M560.9 283.3h1.0M503.7 244.9h1.0M571.9 263.6h1.0M596.2 261.9h1.0M574.9 273.2h1.0M539.9 276.0h1.0M528.6 264.0h1.0M552.5 285.3h1.0M525.7 256.7h1.0M562.0 260.3h1.0M535.5 280.0h1.0M567.0 269.1h1.0M575.5 258.0h1.0M503.6 258.1h1.0M552.8 284.2h1.0M531.8 270.0h1.0M516.8 254.3h1.0M533.5 269.1h1.0M542.0 282.6h1.0M568.5 273.1h1.0M514.4 246.4h1.0M568.9 276.5h1.0M559.3 279.1h1.0M558.2 270.3h1.0M546.3 287.3h1.0M521.7 244.9h1.0M558.0 284.1h1.0M554.8 285.0h1.0M562.1 277.7h1.0M601.0 258.8h1.0M562.0 281.7h1.0M555.6 284.2h1.0M579.7 237.5h1.0M522.4 257.3h1.0M538.7 277.3h1.0M532.7 265.6h1.0M561.3 273.6h1.0M539.9 270.6h1.0M583.5 267.0h1.0M578.8 228.9h1.0M562.9 267.8h1.0M538.4 281.2h1.0M559.7 264.5h1.0M563.8 278.3h1.0M524.0 270.3h1.0M554.0 283.3h1.0M561.6 266.2h1.0M551.2 286.4h1.0M572.3 274.4h1.0M529.1 267.5h1.0M549.3 288.5h1.0M528.9 254.9h1.0M558.9 281.0h1.0M528.3 277.6h1.0M566.2 253.4h1.0M554.8 281.4h1.0M567.2 242.1h1.0M543.6 285.8h1.0M515.8 251.2h1.0M584.0 273.4h1.0M543.0 283.7h1.0M575.8 249.0h1.0M555.7 279.5h1.0M560.9 280.4h1.0M553.8 285.7h1.0M576.3 259.1h1.0M515.2 237.6h1.0M565.1 261.1h1.0M541.5 285.0h1.0M543.8 287.3h1.0M546.8 287.5h1.0M554.0 285.2h1.0M581.7 270.7h1.0M547.6 288.4h1.0M531.4 255.4h1.0M571.3 260.4h1.0M537.7 277.5h1.0M556.3 280.0h1.0M538.2 274.2h1.0M560.8 262.1h1.0M568.1 247.5h1.0M538.2 272.4h1.0M547.7 288.8h1.0M516.5 239.7h1.0M553.1 283.1h1.0M564.8 276.0h1.0M534.9 277.9h1.0M570.4 253.1h1.0M507.4 250.1h1.0M517.2 256.4h1.0M536.4 270.1h1.0M547.0 288.1h1.0M545.0 286.0h1.0M545.2 287.4h1.0M562.0 267.5h1.0M536.6 280.9h1.0M519.9 260.4h1.0M520.3 235.6h1.0M591.4 255.0h1.0M496.8 244.1h1.0M542.9 279.5h1.0M577.5 275.2h1.0M556.9 275.1h1.0M529.0 254.9h1.0M546.7 287.4h1.0M564.9 276.5h1.0M572.2 267.8h1.0M527.6 263.7h1.0M562.7 281.1h1.0M552.0 286.7h1.0M570.0 276.2h1.0M576.1 280.3h1.0M539.4 280.7h1.0M555.0 281.6h1.0M561.1 276.4h1.0M551.5 286.8h1.0M524.6 241.2h1.0M565.8 267.3h1.0M534.5 272.6h1.0M547.7 287.1h1.0M548.5 289.4h1.0M578.7 252.6h1.0M526.8 263.6h1.0M535.3 276.8h1.0M556.9 280.6h1.0M536.9 281.7h1.0M555.6 285.1h1.0M523.9 265.5h1.0M539.0 278.2h1.0M568.6 255.1h1.0M542.9 286.3h1.0M559.9 280.0h1.0M557.8 277.8h1.0M539.1 262.4h1.0M513.6 226.0h1.0M567.5 236.6h1.0M550.2 288.5h1.0M567.5 269.5h1.0M511.6 236.8h1.0M501.2 271.0h1.0M528.0 276.0h1.0M568.7 245.6h1.0M558.6 278.2h1.0M545.9 285.2h1.0M549.4 287.8h1.0M562.7 275.0h1.0M540.2 286.5h1.0M555.0 286.2h1.0M549.6 288.5h1.0M538.5 279.8h1.0M575.4 269.4h1.0M538.2 267.7h1.0M543.6 278.1h1.0M533.8 282.6h1.0M536.4 277.9h1.0M570.4 277.4h1.0M540.9 282.5h1.0M525.0 275.5h1.0M534.5 277.2h1.0M505.0 262.1h1.0M508.0 257.0h1.0M563.5 268.8h1.0M561.6 280.1h1.0M564.7 253.6h1.0M556.4 283.2h1.0M530.0 278.5h1.0M562.2 279.5h1.0M521.1 267.3h1.0M516.1 260.0h1.0M523.1 251.2h1.0M565.2 229.7h1.0M518.4 266.4h1.0M522.2 268.5h1.0M526.5 268.9h1.0M550.8 285.0h1.0M539.4 270.2h1.0M564.9 278.1h1.0M531.6 276.3h1.0M519.3 260.9h1.0M535.9 274.1h1.0M547.4 288.5h1.0M526.8 256.2h1.0M552.4 285.2h1.0M585.0 223.0h1.0M534.2 275.4h1.0M547.4 288.2h1.0M575.1 269.0h1.0M532.7 276.9h1.0M528.4 254.8h1.0M523.2 276.8h1.0M554.8 279.0h1.0M557.2 282.2h1.0M543.2 286.2h1.0M547.2 288.7h1.0M564.6 278.3h1.0M516.5 267.2h1.0M546.0 288.1h1.0M548.4 289.1h1.0M561.4 270.1h1.0M541.4 281.9h1.0M532.4 266.9h1.0M536.4 282.5h1.0M545.5 287.7h1.0M533.4 276.6h1.0M555.9 274.6h1.0M524.3 243.0h1.0M536.8 273.6h1.0M525.2 262.9h1.0M523.4 270.7h1.0M560.8 275.1h1.0M536.1 280.7h1.0M555.3 275.2h1.0M547.9 288.8h1.0M510.1 249.9h1.0M535.7 272.8h1.0M535.2 265.5h1.0M558.1 281.3h1.0M549.6 289.0h1.0M542.1 282.7h1.0M563.5 265.7h1.0M549.8 287.8h1.0M557.1 285.8h1.0M562.0 274.5h1.0M544.3 286.3h1.0M539.5 284.1h1.0M552.6 287.0h1.0M536.9 269.9h1.0M553.9 286.0h1.0M569.1 273.5h1.0M563.8 276.1h1.0M537.6 282.2h1.0M518.5 241.3h1.0M544.5 285.4h1.0M543.0 282.5h1.0M569.1 272.9h1.0M537.6 273.5h1.0M541.2 283.3h1.0M561.2 266.1h1.0M535.5 274.4h1.0M542.3 282.1h1.0M581.9 245.5h1.0M577.1 256.4h1.0M558.9 277.5h1.0M551.3 286.6h1.0M557.4 284.0h1.0M546.9 287.4h1.0M550.3 287.6h1.0M534.7 266.6h1.0M545.4 287.5h1.0M541.7 279.0h1.0M552.3 286.6h1.0M575.8 270.7h1.0M553.3 287.2h1.0M510.6 261.9h1.0M525.1 268.7h1.0M528.8 277.2h1.0M557.4 284.2h1.0M554.1 285.7h1.0M532.9 277.6h1.0M551.2 287.0h1.0M529.6 261.4h1.0M515.6 264.9h1.0M515.9 267.3h1.0M527.4 248.8h1.0M575.6 268.3h1.0M517.3 254.9h1.0M571.9 271.4h1.0M573.7 263.0h1.0M541.7 285.3h1.0M544.5 287.0h1.0M532.6 277.9h1.0M545.1 283.3h1.0M559.5 281.6h1.0M545.8 286.9h1.0M566.6 253.9h1.0M570.6 271.0h1.0M552.8 281.9h1.0M552.5 286.9h1.0M544.2 287.5h1.0M552.9 284.3h1.0M522.0 268.9h1.0M554.1 285.0h1.0M549.9 288.5h1.0M527.3 242.6h1.0M591.0 248.6h1.0M525.0 263.2h1.0M527.2 272.0h1.0M551.4 286.8h1.0M504.6 255.6h1.0M528.8 269.5h1.0M513.3 257.4h1.0M525.1 275.1h1.0M542.7 284.2h1.0M552.3 287.2h1.0M568.8 268.5h1.0M562.5 277.6h1.0M570.5 256.4h1.0M557.9 282.7h1.0M535.6 281.6h1.0M569.1 264.8h1.0M535.2 279.6h1.0M532.5 275.0h1.0M577.8 231.2h1.0M562.1 277.1h1.0M550.1 288.6h1.0M561.4 272.1h1.0M564.1 249.5h1.0M516.6 253.8h1.0M543.5 282.9h1.0M520.5 275.8h1.0M548.0 289.0h1.0M531.3 270.0h1.0M574.2 248.4h1.0M556.4 282.4h1.0M528.3 258.9h1.0M545.1 284.6h1.0M519.8 253.6h1.0M546.3 286.5h1.0M557.0 284.7h1.0M551.0 285.7h1.0M504.6 232.6h1.0M538.3 274.9h1.0M556.2 274.9h1.0M551.9 287.9h1.0M570.0 225.5h1.0M518.2 270.9h1.0M556.5 274.0h1.0M531.6 271.4h1.0M549.6 289.1h1.0M554.0 275.4h1.0M560.0 266.4h1.0M533.2 280.4h1.0M549.3 288.8h1.0M520.7 246.3h1.0M515.5 248.2h1.0M557.2 275.8h1.0M544.3 285.6h1.0M511.1 266.2h1.0M527.4 260.1h1.0M545.8 287.0h1.0M578.3 269.0h1.0M567.5 281.0h1.0M562.3 269.8h1.0M507.6 244.5h1.0M543.3 283.0h1.0M555.5 280.2h1.0M553.7 283.5h1.0M554.2 282.2h1.0M540.5 271.1h1.0M576.7 242.2h1.0M543.4 284.8h1.0M524.6 273.7h1.0M588.9 226.5h1.0M533.7 271.9h1.0M570.7 270.6h1.0M585.8 256.4h1.0M525.4 260.8h1.0M551.5 286.6h1.0M538.0 284.8h1.0M556.3 280.4h1.0M552.2 285.2h1.0M557.9 281.6h1.0M545.2 285.9h1.0M569.2 279.8h1.0M539.6 278.9h1.0M537.6 281.6h1.0M592.8 252.7h1.0M528.0 278.6h1.0M535.0 262.2h1.0M546.3 288.4h1.0M523.0 259.2h1.0M500.7 226.8h1.0M567.7 264.1h1.0M528.8 262.1h1.0M533.9 270.7h1.0M537.5 254.5h1.0M524.6 267.3h1.0M522.6 259.4h1.0M548.8 289.1h1.0M596.2 228.1h1.0M561.0 284.8h1.0M561.2 278.2h1.0M513.5 238.0h1.0M544.9 287.8h1.0M520.3 240.6h1.0M561.7 274.3h1.0M540.5 279.1h1.0M546.2 287.0h1.0M543.5 285.9h1.0M533.0 276.5h1.0M513.1 229.5h1.0M557.7 279.6h1.0M516.1 251.1h1.0M520.4 248.4h1.0M539.1 279.6h1.0M530.4 260.6h1.0M550.9 286.4h1.0M566.8 269.3h1.0M550.6 286.4h1.0M549.6 288.7h1.0M545.9 286.7h1.0M563.6 264.0h1.0M553.2 284.0h1.0M525.6 260.4h1.0M519.3 255.7h1.0M545.5 286.3h1.0M537.2 271.4h1.0M557.7 284.5h1.0M568.7 274.4h1.0M496.1 226.5h1.0M543.8 286.5h1.0M586.9 248.0h1.0M563.8 270.6h1.0M576.0 257.6h1.0M547.5 289.1h1.0M515.0 263.3h1.0M521.5 269.6h1.0M560.5 274.3h1.0M565.7 275.0h1.0M529.9 282.0h1.0M539.7 282.0h1.0M550.9 288.0h1.0M508.3 260.9h1.0M538.0 281.3h1.0M579.7 271.3h1.0M591.7 240.3h1.0M543.1 285.2h1.0M584.2 231.6h1.0M534.3 284.8h1.0M528.2 269.2h1.0M498.0 228.6h1.0M565.7 279.5h1.0M537.5 274.9h1.0M595.0 230.9h1.0M552.4 284.3h1.0M549.4 288.7h1.0M507.1 228.4h1.0M577.2 262.5h1.0M537.7 277.4h1.0M542.0 281.0h1.0M565.0 270.0h1.0M566.3 263.9h1.0M532.6 278.0h1.0M547.4 288.6h1.0M553.7 284.8h1.0M565.8 255.5h1.0M547.6 288.7h1.0M540.3 281.8h1.0M532.6 272.1h1.0M535.5 271.0h1.0M528.3 257.2h1.0M566.8 281.5h1.0M551.0 286.8h1.0M528.1 263.4h1.0M552.9 286.7h1.0M502.7 241.0h1.0M539.4 283.6h1.0M556.6 275.2h1.0M560.2 268.8h1.0M529.1 284.6h1.0M564.8 271.0h1.0M585.1 237.9h1.0M536.4 277.5h1.0M561.2 280.9h1.0M503.9 239.5h1.0M558.5 279.1h1.0M546.4 287.9h1.0M549.7 288.4h1.0M533.1 267.6h1.0M539.3 275.3h1.0M562.7 242.0h1.0M581.9 263.1h1.0M540.9 274.5h1.0M510.5 233.1h1.0M572.5 276.4h1.0M558.3 277.3h1.0M560.0 280.4h1.0M549.4 288.6h1.0M594.8 246.2h1.0M547.1 288.1h1.0M556.4 279.5h1.0M506.3 260.3h1.0M533.3 270.4h1.0M531.0 252.5h1.0M544.9 285.5h1.0M552.9 286.1h1.0M529.7 253.3h1.0M582.2 260.3h1.0M523.0 268.1h1.0M536.0 284.3h1.0M550.6 287.0h1.0M519.0 262.9h1.0M557.6 269.3h1.0M559.0 276.3h1.0M539.3 280.5h1.0M586.0 250.3h1.0M547.3 288.2h1.0M551.5 286.6h1.0M525.2 252.9h1.0M510.0 231.4h1.0M532.2 273.6h1.0M538.7 281.6h1.0M535.9 279.4h1.0M561.8 280.4h1.0M494.9 248.4h1.0M506.8 224.7h1.0M574.0 256.7h1.0M533.6 267.2h1.0M534.6 280.1h1.0M522.2 267.1h1.0M564.6 270.7h1.0M536.8 277.7h1.0M550.3 288.5h1.0M570.4 259.9h1.0M553.9 285.9h1.0M557.3 282.3h1.0M571.8 275.4h1.0M541.5 283.5h1.0M542.0 284.8h1.0M560.8 272.7h1.0M554.6 280.4h1.0M540.4 281.2h1.0M546.5 283.6h1.0M534.9 277.2h1.0M560.7 281.1h1.0M565.4 271.3h1.0M545.7 286.5h1.0M585.4 261.3h1.0M512.9 244.3h1.0M540.6 284.3h1.0M581.9 274.5h1.0M536.6 280.4h1.0M511.6 259.2h1.0M575.2 263.9h1.0M557.2 281.6h1.0M520.3 259.2h1.0M562.1 275.3h1.0M523.9 271.8h1.0M542.4 282.6h1.0M535.4 279.0h1.0M522.3 243.5h1.0M537.8 277.7h1.0M524.3 249.9h1.0M546.9 288.2h1.0M545.1 287.2h1.0M561.4 282.3h1.0M536.0 278.8h1.0M517.3 237.1h1.0M517.6 255.6h1.0M540.4 283.1h1.0M578.2 270.6h1.0M563.6 245.0h1.0M532.0 273.9h1.0M565.6 245.2h1.0M521.0 265.5h1.0M567.1 272.3h1.0M537.5 280.2h1.0M562.0 279.8h1.0M558.8 280.5h1.0M539.7 277.4h1.0M552.6 286.1h1.0M523.0 271.9h1.0M544.1 284.9h1.0M568.6 266.6h1.0M560.6 281.9h1.0M547.5 288.3h1.0M524.1 248.8h1.0M568.1 261.8h1.0M528.6 263.6h1.0M553.2 286.8h1.0M520.0 265.4h1.0M578.4 270.6h1.0M568.9 277.7h1.0M533.6 264.5h1.0M533.8 276.6h1.0M517.6 270.5h1.0M515.9 275.5h1.0M555.1 277.4h1.0M558.9 268.7h1.0M553.1 285.9h1.0M551.3 286.5h1.0M533.7 263.6h1.0M553.3 285.6h1.0M514.4 230.4h1.0M545.8 282.7h1.0M577.0 254.5h1.0M573.8 261.0h1.0M535.8 279.2h1.0M538.5 282.6h1.0M574.9 260.3h1.0M583.7 241.1h1.0M513.8 232.3h1.0M536.6 262.1h1.0M550.6 287.1h1.0M571.6 272.4h1.0M527.8 271.7h1.0M559.3 284.9h1.0M539.3 279.2h1.0M554.8 285.1h1.0M542.8 285.8h1.0M538.5 271.7h1.0M568.1 242.7h1.0M560.1 278.1h1.0M522.6 267.1h1.0M550.3 286.9h1.0M517.2 244.6h1.0M529.6 258.3h1.0M518.1 227.8h1.0M531.1 270.9h1.0M524.8 256.0h1.0M556.9 278.0h1.0M562.6 239.1h1.0M540.6 285.7h1.0M521.9 240.5h1.0M562.8 272.9h1.0M504.6 242.0h1.0M561.1 262.2h1.0M559.6 278.3h1.0M566.4 267.3h1.0M541.1 284.4h1.0M518.8 231.1h1.0M534.8 269.3h1.0M557.7 278.9h1.0M529.4 281.0h1.0M530.7 249.6h1.0M516.0 254.0h1.0M520.9 244.4h1.0M563.6 275.0h1.0M555.3 284.4h1.0M521.0 258.0h1.0M522.7 261.8h1.0M533.7 275.1h1.0M557.3 277.7h1.0M520.8 252.2h1.0M542.1 275.9h1.0M518.9 238.5h1.0M554.6 282.7h1.0M564.8 276.5h1.0M521.1 261.4h1.0M529.2 271.5h1.0M562.7 280.1h1.0M537.4 253.8h1.0M534.2 276.5h1.0M556.7 281.0h1.0M549.9 288.2h1.0M569.3 245.5h1.0M562.6 277.5h1.0M533.4 279.6h1.0M543.2 286.0h1.0M544.4 285.3h1.0M516.8 260.0h1.0M525.0 271.2h1.0M566.4 280.7h1.0M511.9 262.9h1.0M566.9 269.8h1.0M551.8 286.5h1.0M542.8 284.1h1.0M557.2 281.5h1.0M555.8 280.3h1.0M571.4 270.5h1.0M537.2 272.8h1.0M540.9 278.3h1.0M540.5 282.4h1.0M585.8 229.9h1.0M565.8 267.4h1.0M526.1 223.9h1.0M538.6 282.2h1.0M530.7 269.0h1.0M546.0 286.9h1.0M550.3 288.1h1.0M594.5 235.8h1.0M567.6 280.7h1.0M555.0 281.6h1.0M530.8 276.6h1.0M542.6 286.7h1.0M535.2 270.1h1.0M546.8 287.9h1.0M567.2 258.1h1.0M513.5 262.1h1.0M573.7 254.1h1.0M537.9 270.7h1.0M577.7 269.9h1.0M554.6 285.4h1.0M572.0 247.5h1.0M557.9 283.7h1.0M568.9 267.8h1.0M547.0 288.9h1.0M528.2 278.7h1.0M560.1 273.5h1.0M561.0 274.3h1.0M503.3 234.9h1.0M541.7 282.7h1.0M568.4 273.0h1.0M519.3 254.7h1.0M541.1 274.7h1.0M576.0 272.0h1.0M527.2 274.8h1.0M576.2 253.0h1.0M571.1 261.0h1.0M562.4 273.0h1.0M554.0 284.1h1.0M551.0 284.8h1.0M527.5 273.1h1.0M535.0 269.3h1.0M561.5 276.3h1.0M549.0 288.4h1.0M585.2 247.6h1.0M538.9 283.9h1.0M538.9 284.3h1.0M551.9 286.8h1.0M554.1 281.9h1.0M547.4 287.5h1.0M528.6 275.9h1.0M577.7 257.5h1.0M531.9 275.2h1.0M561.1 274.0h1.0M539.9 276.7h1.0M520.6 266.5h1.0M576.0 238.3h1.0M492.8 240.2h1.0M528.0 238.4h1.0M555.2 279.3h1.0M538.5 268.8h1.0M562.0 281.4h1.0M544.0 279.9h1.0M536.5 267.4h1.0M591.9 247.8h1.0M541.4 283.0h1.0M542.8 287.2h1.0M523.2 276.4h1.0M530.3 273.7h1.0M559.9 280.6h1.0M558.1 266.3h1.0M546.2 286.2h1.0M531.3 266.6h1.0M560.7 275.2h1.0M538.9 274.1h1.0M540.8 278.0h1.0M528.3 275.0h1.0M549.5 288.7h1.0M532.1 267.7h1.0M529.2 263.9h1.0M584.5 249.6h1.0M562.0 269.1h1.0M571.7 258.2h1.0M547.4 287.3h1.0M566.8 274.2h1.0M562.9 279.3h1.0M572.0 265.7h1.0M596.5 239.2h1.0M541.6 283.5h1.0M551.9 288.1h1.0M545.3 286.6h1.0M516.8 227.9h1.0M546.8 288.2h1.0M559.9 282.0h1.0M534.2 278.4h1.0M570.5 271.9h1.0M573.7 261.6h1.0M537.7 266.5h1.0M576.7 242.2h1.0M556.3 280.0h1.0M525.7 239.3h1.0M577.6 255.1h1.0M543.1 283.6h1.0M538.6 263.5h1.0M549.0 289.1h1.0M535.2 279.1h1.0M569.3 243.6h1.0M563.1 274.4h1.0M572.4 268.9h1.0M558.9 277.0h1.0M529.8 274.9h1.0M543.2 284.6h1.0M565.2 278.0h1.0M538.0 279.2h1.0M541.5 283.8h1.0M534.2 278.4h1.0M571.0 265.7h1.0M562.5 270.5h1.0M546.0 286.1h1.0M541.7 281.4h1.0M555.7 280.2h1.0M564.3 273.3h1.0M562.8 274.9h1.0M540.2 280.6h1.0M555.8 282.1h1.0M564.5 272.8h1.0M562.8 281.7h1.0M481.2 236.6h1.0M527.8 257.3h1.0M530.2 272.0h1.0M541.7 281.5h1.0M550.4 287.6h1.0M566.1 266.8h1.0M559.7 273.5h1.0M543.9 281.2h1.0M547.1 285.7h1.0M583.9 248.5h1.0M533.6 279.8h1.0M553.1 282.9h1.0M579.8 258.4h1.0M554.0 283.1h1.0M503.3 237.8h1.0M554.6 280.8h1.0M538.4 277.5h1.0M544.2 285.0h1.0M556.6 282.0h1.0M541.0 281.3h1.0M565.5 229.9h1.0M555.8 283.9h1.0M548.9 289.1h1.0M553.0 285.5h1.0M552.0 286.6h1.0M539.4 277.9h1.0M536.9 268.6h1.0M547.2 287.9h1.0M526.4 257.1h1.0M520.0 276.9h1.0M574.2 276.3h1.0M541.5 280.6h1.0M546.1 286.7h1.0M543.8 285.4h1.0M547.1 288.4h1.0M547.1 287.6h1.0M548.0 288.7h1.0M529.6 280.5h1.0M566.4 276.9h1.0M532.0 250.2h1.0M568.5 236.8h1.0M524.1 262.6h1.0M567.6 272.2h1.0M543.5 283.6h1.0M532.4 250.2h1.0M554.6 284.0h1.0M524.5 267.4h1.0M548.3 289.1h1.0M537.0 279.9h1.0M532.9 271.1h1.0M558.1 272.5h1.0M565.2 271.2h1.0M528.5 246.3h1.0M580.7 263.4h1.0M534.1 276.4h1.0M496.2 227.6h1.0M579.2 268.0h1.0M544.8 279.9h1.0M532.9 270.5h1.0M530.8 279.9h1.0M523.5 228.5h1.0M575.3 253.7h1.0M544.8 282.7h1.0M584.6 242.1h1.0M542.4 270.7h1.0M564.5 265.9h1.0M538.8 279.8h1.0M541.6 283.5h1.0M579.8 257.0h1.0M541.0 284.8h1.0M571.2 269.8h1.0M546.5 288.0h1.0M530.7 256.5h1.0M557.4 279.5h1.0M533.9 285.6h1.0M572.6 279.4h1.0M567.0 275.0h1.0M548.0 289.0h1.0M559.5 282.0h1.0M558.6 276.6h1.0M540.8 286.1h1.0M565.6 265.9h1.0M541.8 282.4h1.0M559.7 285.0h1.0M526.5 222.7h1.0M548.8 289.2h1.0M555.4 273.8h1.0M529.9 259.7h1.0M537.8 277.5h1.0M535.4 272.2h1.0M562.1 275.6h1.0M531.4 260.9h1.0M556.0 281.5h1.0M579.0 225.4h1.0M554.3 282.6h1.0M549.4 288.8h1.0M568.8 245.4h1.0M540.7 283.5h1.0M570.3 257.7h1.0M559.9 275.3h1.0M555.7 285.2h1.0M541.2 282.3h1.0M535.9 255.1h1.0M541.4 283.6h1.0M548.1 288.1h1.0M557.9 280.8h1.0M555.7 280.6h1.0M540.5 273.2h1.0M548.2 289.1h1.0M555.1 281.9h1.0M512.4 271.6h1.0M530.6 263.6h1.0M529.9 280.8h1.0M542.6 286.2h1.0M541.0 279.2h1.0M541.4 278.8h1.0M528.4 276.8h1.0M561.2 274.7h1.0M552.8 285.6h1.0M512.1 237.3h1.0M547.2 287.3h1.0M523.1 252.1h1.0M583.0 223.4h1.0M537.3 264.0h1.0M538.6 277.3h1.0M548.7 289.3h1.0M542.7 286.6h1.0M545.7 286.7h1.0M579.7 252.5h1.0M551.8 287.0h1.0M564.7 279.9h1.0M570.9 266.4h1.0M526.3 255.9h1.0M582.8 237.6h1.0M561.6 281.1h1.0M567.3 283.1h1.0M528.7 257.7h1.0M564.3 241.9h1.0M555.8 284.4h1.0M535.6 274.7h1.0M595.4 232.5h1.0M559.0 283.2h1.0M541.9 283.0h1.0M551.1 285.1h1.0M566.3 237.6h1.0M571.0 261.8h1.0M559.3 269.2h1.0M572.8 263.7h1.0M578.2 224.5h1.0M520.9 248.9h1.0M536.7 263.2h1.0M527.1 258.9h1.0M549.1 288.8h1.0M577.6 262.1h1.0M560.9 282.3h1.0M524.9 258.1h1.0M540.8 277.5h1.0M568.8 280.1h1.0M535.8 277.7h1.0M545.0 286.8h1.0M553.5 285.7h1.0M508.5 263.3h1.0M563.6 279.0h1.0M554.3 285.2h1.0M559.1 281.6h1.0M526.3 249.2h1.0M530.8 261.8h1.0M534.4 272.8h1.0M552.4 285.9h1.0M548.5 289.4h1.0M549.8 288.4h1.0M585.0 243.5h1.0M574.7 250.1h1.0M531.8 247.6h1.0M533.2 277.9h1.0M583.4 255.7h1.0M540.3 276.6h1.0M576.3 262.4h1.0M580.9 255.5h1.0M535.6 275.6h1.0M541.3 271.8h1.0M548.8 289.0h1.0M528.7 258.2h1.0M526.3 277.3h1.0M538.5 273.4h1.0M565.1 267.0h1.0M537.6 269.2h1.0M542.7 282.1h1.0M537.2 279.0h1.0M497.4 239.8h1.0M533.2 272.4h1.0M558.9 274.7h1.0M517.5 264.9h1.0M559.9 281.7h1.0M528.8 264.2h1.0M551.5 287.7h1.0M523.5 247.5h1.0M557.8 278.2h1.0M548.9 289.2h1.0M551.6 286.2h1.0M576.0 231.1h1.0M557.0 277.3h1.0M575.6 228.8h1.0M560.5 279.5h1.0M552.6 286.9h1.0M557.4 269.0h1.0M516.4 249.7h1.0M575.3 225.8h1.0M548.5 289.3h1.0M554.8 285.5h1.0M528.0 275.4h1.0M548.6 289.4h1.0M553.4 284.5h1.0M540.1 281.1h1.0M548.7 289.2h1.0M502.1 243.7h1.0M575.9 248.6h1.0M523.4 271.5h1.0M500.8 235.9h1.0M526.7 274.5h1.0M529.3 271.6h1.0M558.5 281.7h1.0M527.7 254.1h1.0M553.0 284.1h1.0M526.7 241.3h1.0M593.8 223.6h1.0M558.6 277.9h1.0M588.5 254.5h1.0M525.5 239.3h1.0M561.1 286.4h1.0M526.7 261.7h1.0M559.3 283.1h1.0M561.4 280.9h1.0M522.9 253.8h1.0M522.3 273.7h1.0M531.5 275.9h1.0M526.6 248.8h1.0M516.3 239.2h1.0M549.0 289.0h1.0M558.5 263.3h1.0M519.1 255.9h1.0M535.1 269.1h1.0M547.1 287.6h1.0M542.0 284.6h1.0M532.1 285.8h1.0M564.1 274.6h1.0M564.8 275.2h1.0M561.3 275.1h1.0M542.5 280.9h1.0M589.0 243.1h1.0M583.8 267.7h1.0M538.4 279.5h1.0M544.3 286.7h1.0M572.0 257.7h1.0M529.9 282.9h1.0M555.3 274.5h1.0M547.8 288.9h1.0M532.0 274.8h1.0M541.9 283.5h1.0M535.3 264.0h1.0M504.6 226.8h1.0M595.1 231.8h1.0M578.7 224.7h1.0M572.9 240.6h1.0M553.2 285.9h1.0M568.0 275.6h1.0M573.8 249.1h1.0M568.3 256.6h1.0M566.2 260.1h1.0M527.5 281.8h1.0M555.9 283.5h1.0M535.4 274.5h1.0M521.8 269.1h1.0M522.6 278.9h1.0M555.8 285.1h1.0M569.1 241.5h1.0M517.8 249.0h1.0M583.7 235.6h1.0M577.9 246.3h1.0M538.7 270.5h1.0M536.9 274.1h1.0M545.2 284.1h1.0M567.5 270.6h1.0M538.6 279.1h1.0M523.3 230.1h1.0M554.0 277.4h1.0M549.7 288.6h1.0M571.2 267.9h1.0M553.1 284.8h1.0M557.1 278.1h1.0M562.1 267.8h1.0M549.7 288.2h1.0M529.1 248.0h1.0M541.9 281.1h1.0M545.1 284.9h1.0M573.3 281.3h1.0M581.1 259.8h1.0M555.5 281.6h1.0M530.7 268.1h1.0M531.2 268.0h1.0M542.7 284.0h1.0M576.0 247.9h1.0M553.7 284.3h1.0M545.5 287.5h1.0M530.4 275.3h1.0M565.3 272.8h1.0M552.8 287.1h1.0M545.5 286.8h1.0M548.8 289.0h1.0M543.2 282.1h1.0M582.4 245.0h1.0M572.9 264.8h1.0M547.7 288.9h1.0M565.3 263.7h1.0M544.0 283.0h1.0M529.1 273.6h1.0M540.9 284.9h1.0M527.4 257.5h1.0M557.5 281.5h1.0M546.9 288.6h1.0M558.7 280.2h1.0M564.1 271.2h1.0M553.2 286.9h1.0M508.5 250.8h1.0M550.2 288.0h1.0M528.0 258.7h1.0M548.8 289.0h1.0M575.6 254.2h1.0M510.4 238.0h1.0M550.7 288.2h1.0M545.0 283.4h1.0M506.5 261.6h1.0M560.4 276.8h1.0M547.3 288.7h1.0M535.8 266.9h1.0M531.3 272.6h1.0M614.7 238.4h1.0M538.3 279.0h1.0M526.9 258.8h1.0M538.9 281.4h1.0M538.5 268.2h1.0M545.0 282.7h1.0M524.4 263.1h1.0M558.1 273.4h1.0M536.4 279.8h1.0M517.8 224.2h1.0M529.3 235.6h1.0M538.5 273.8h1.0M564.6 280.5h1.0M556.9 276.3h1.0M539.5 279.8h1.0M547.0 288.1h1.0M551.2 285.6h1.0M589.8 257.2h1.0M533.5 273.8h1.0M556.5 282.7h1.0M562.0 255.4h1.0M526.4 229.6h1.0M550.6 282.7h1.0M550.1 287.9h1.0M536.7 274.9h1.0M558.6 281.8h1.0M568.4 278.0h1.0M570.6 259.4h1.0M542.6 282.6h1.0M550.6 287.8h1.0M596.4 258.5h1.0M523.2 243.6h1.0M551.3 287.4h1.0M565.5 267.4h1.0M549.8 288.1h1.0M560.5 280.6h1.0M550.3 287.1h1.0M562.6 262.9h1.0M573.8 267.0h1.0M541.9 282.7h1.0M550.8 287.0h1.0M545.5 286.3h1.0M538.1 280.6h1.0M546.2 286.8h1.0M522.6 267.4h1.0M562.4 276.8h1.0M582.7 268.0h1.0M582.7 265.6h1.0M573.7 269.1h1.0M526.2 259.7h1.0M578.8 253.4h1.0M531.5 263.1h1.0M545.5 288.6h1.0M585.7 236.8h1.0M523.9 266.4h1.0M564.4 280.0h1.0M552.6 282.1h1.0M543.4 282.0h1.0M528.1 259.9h1.0M555.6 278.0h1.0M536.8 265.7h1.0M568.8 258.6h1.0M572.6 273.9h1.0M517.4 261.6h1.0M535.9 275.8h1.0M539.9 280.5h1.0M522.9 267.0h1.0M548.5 289.4h1.0M542.2 278.8h1.0M511.6 246.4h1.0M535.2 273.2h1.0M557.6 277.3h1.0M521.1 235.8h1.0M527.1 253.8h1.0M580.3 228.6h1.0M574.5 263.8h1.0M512.3 250.2h1.0M518.0 256.4h1.0M554.6 282.8h1.0M521.4 248.6h1.0M541.3 286.5h1.0M537.1 258.6h1.0M558.5 283.4h1.0M493.1 227.8h1.0M500.0 228.6h1.0M520.6 245.4h1.0M568.1 263.8h1.0M543.4 280.5h1.0M557.1 280.1h1.0M561.6 257.1h1.0M541.4 284.5h1.0M539.6 283.9h1.0M555.9 250.2h1.0M572.2 230.8h1.0M549.9 288.3h1.0M557.9 280.5h1.0M545.6 286.8h1.0M538.5 280.8h1.0M527.2 271.8h1.0M552.1 287.1h1.0M540.3 285.7h1.0M541.5 282.3h1.0M566.3 275.9h1.0M557.0 270.4h1.0M565.1 269.3h1.0M558.5 284.0h1.0M534.1 284.1h1.0M529.5 272.3h1.0M528.6 245.6h1.0M572.3 259.0h1.0M564.2 272.0h1.0M531.4 271.6h1.0M522.5 270.6h1.0M546.9 288.4h1.0M536.9 244.3h1.0M581.8 267.6h1.0M515.7 237.4h1.0M507.9 223.4h1.0M541.2 285.5h1.0M546.9 287.6h1.0M549.4 288.0h1.0M562.6 259.6h1.0M590.5 236.8h1.0M539.4 283.2h1.0M535.1 282.2h1.0M509.4 235.3h1.0M551.8 285.6h1.0M564.7 281.0h1.0M541.1 280.0h1.0M571.6 275.8h1.0M547.3 288.3h1.0M578.7 255.7h1.0M553.7 283.8h1.0M524.2 263.8h1.0M533.1 267.6h1.0M514.1 230.6h1.0M509.8 236.8h1.0M552.3 284.6h1.0M565.0 273.2h1.0M588.0 240.7h1.0M545.5 286.1h1.0M541.6 281.7h1.0M523.1 254.7h1.0M567.5 279.9h1.0M554.9 283.1h1.0M534.0 267.7h1.0M561.2 273.4h1.0M558.5 281.7h1.0M507.0 231.3h1.0M562.4 273.0h1.0M549.5 288.4h1.0M538.3 279.4h1.0M537.8 279.9h1.0M583.7 253.1h1.0M532.8 277.3h1.0M565.8 277.8h1.0M521.0 271.3h1.0M531.4 271.0h1.0M508.4 259.2h1.0M585.9 241.0h1.0M569.1 263.6h1.0M556.3 272.7h1.0M551.3 285.8h1.0M537.8 274.1h1.0M538.2 282.3h1.0M559.7 283.9h1.0M531.5 264.9h1.0M572.6 265.0h1.0M536.2 277.6h1.0M528.1 254.3h1.0M574.1 221.9h1.0M543.6 282.5h1.0M558.4 268.6h1.0M537.8 276.1h1.0M558.2 278.3h1.0M518.1 248.1h1.0M569.6 269.7h1.0M513.8 223.4h1.0M507.1 253.9h1.0M553.1 279.7h1.0M555.6 282.4h1.0M548.9 289.1h1.0M520.9 240.1h1.0M565.4 247.7h1.0M515.6 258.6h1.0M536.8 271.8h1.0M529.9 274.6h1.0M538.6 282.1h1.0M564.7 271.0h1.0M533.2 272.1h1.0M558.6 282.7h1.0M561.3 277.7h1.0M521.9 259.1h1.0M538.5 281.2h1.0M534.1 274.8h1.0M553.1 285.3h1.0M505.7 230.7h1.0M561.9 273.8h1.0M562.4 265.1h1.0M543.1 278.8h1.0M517.3 266.5h1.0M546.7 287.2h1.0M535.2 276.2h1.0M558.6 267.3h1.0M544.8 286.1h1.0M562.1 267.1h1.0M537.4 286.4h1.0M577.2 233.0h1.0M525.1 271.5h1.0M557.0 284.2h1.0M562.2 276.0h1.0M520.8 266.9h1.0M548.6 289.3h1.0M527.2 271.2h1.0M537.3 273.8h1.0M550.3 286.9h1.0M544.4 284.7h1.0M538.5 276.2h1.0M546.8 288.8h1.0M526.1 255.8h1.0M566.3 259.9h1.0M564.0 277.8h1.0M572.5 259.2h1.0M584.5 265.0h1.0M526.7 259.7h1.0M569.1 268.9h1.0M570.8 263.9h1.0M546.6 287.7h1.0M551.8 286.0h1.0M534.5 282.3h1.0M584.5 227.9h1.0M508.8 225.1h1.0M535.3 272.1h1.0M552.7 286.3h1.0M558.8 280.4h1.0M581.2 262.9h1.0M547.5 288.6h1.0M564.8 269.2h1.0M518.8 246.9h1.0M545.8 287.0h1.0M574.5 261.4h1.0M558.1 280.1h1.0M543.9 284.6h1.0M554.8 286.3h1.0M540.1 278.9h1.0M545.2 287.0h1.0M542.1 279.9h1.0M526.1 247.7h1.0M551.8 285.8h1.0M539.9 284.5h1.0M540.1 283.4h1.0M544.8 284.4h1.0M563.0 279.4h1.0M551.7 286.3h1.0M521.2 242.8h1.0M543.8 285.6h1.0M556.7 276.5h1.0M536.7 262.0h1.0M571.0 275.0h1.0M563.1 250.3h1.0M525.6 268.1h1.0M553.4 279.9h1.0M588.7 237.3h1.0M579.7 246.5h1.0M545.4 285.8h1.0M565.6 234.9h1.0M538.1 277.7h1.0M520.8 254.4h1.0M565.6 259.3h1.0M558.7 278.3h1.0M564.7 278.0h1.0M552.6 284.0h1.0M560.5 278.0h1.0M541.7 277.6h1.0M563.7 275.2h1.0M571.8 268.8h1.0M551.9 288.3h1.0M571.4 271.7h1.0M513.6 253.0h1.0M535.6 282.1h1.0M592.5 254.4h1.0M558.8 275.4h1.0M550.9 286.6h1.0M524.8 272.5h1.0M561.3 276.9h1.0M570.6 275.5h1.0M565.7 272.2h1.0M564.1 266.7h1.0M563.0 271.0h1.0M528.0 231.2h1.0M565.3 277.2h1.0M519.7 256.9h1.0M556.2 274.7h1.0M527.2 251.1h1.0M583.2 266.6h1.0M579.0 249.6h1.0M538.6 277.2h1.0M602.4 233.1h1.0M530.7 269.0h1.0M560.2 278.2h1.0M579.6 262.0h1.0M502.4 238.0h1.0M575.5 267.6h1.0M551.7 284.3h1.0M552.8 285.4h1.0M529.1 262.5h1.0M560.6 277.1h1.0M528.4 265.3h1.0M531.5 263.1h1.0M543.2 283.2h1.0M525.8 272.1h1.0M588.3 225.6h1.0M523.5 235.9h1.0M536.3 279.4h1.0M546.1 287.9h1.0M553.3 284.3h1.0M570.9 264.4h1.0M571.5 248.9h1.0M546.4 287.2h1.0M544.6 287.1h1.0M554.0 285.7h1.0M571.5 263.8h1.0M568.8 262.5h1.0M541.6 274.6h1.0M507.2 243.5h1.0M601.1 234.0h1.0M574.4 270.4h1.0M559.1 285.0h1.0M560.8 278.4h1.0M541.5 284.8h1.0M530.8 254.9h1.0M545.7 287.8h1.0M548.2 289.2h1.0M539.2 284.2h1.0M520.6 264.5h1.0M546.2 287.6h1.0M566.1 279.5h1.0M542.1 280.8h1.0M553.7 285.7h1.0M506.9 256.9h1.0M548.5 289.4h1.0M550.4 286.6h1.0M525.8 267.4h1.0M514.5 249.2h1.0M562.4 278.1h1.0M535.1 278.6h1.0M564.1 264.5h1.0M543.8 285.5h1.0M567.1 277.0h1.0M545.6 286.2h1.0M519.5 248.8h1.0M551.2 285.3h1.0M545.8 287.6h1.0M567.9 280.6h1.0M543.1 279.6h1.0M544.4 286.6h1.0M572.4 271.0h1.0M579.2 240.8h1.0M570.1 259.2h1.0M576.4 235.5h1.0M563.3 265.8h1.0M570.4 265.7h1.0M572.8 268.2h1.0M562.2 275.4h1.0M554.6 285.4h1.0M556.3 282.3h1.0M553.5 286.9h1.0M547.9 289.0h1.0M545.0 284.9h1.0M552.4 287.7h1.0M558.6 281.0h1.0M527.9 266.9h1.0M508.9 268.9h1.0M559.8 251.0h1.0M559.0 281.6h1.0M556.3 280.7h1.0M578.9 232.9h1.0M590.5 262.8h1.0M561.4 278.5h1.0M540.8 275.4h1.0M526.9 255.0h1.0M535.5 280.0h1.0M554.1 287.0h1.0M554.9 283.9h1.0M552.9 284.5h1.0M567.6 240.7h1.0M545.7 286.6h1.0M555.5 275.1h1.0M536.7 273.3h1.0M542.8 286.7h1.0M513.6 255.1h1.0M555.9 284.3h1.0M587.8 251.9h1.0M556.8 282.4h1.0M561.3 280.7h1.0M531.2 255.7h1.0M585.1 236.2h1.0M536.0 280.5h1.0M571.1 252.4h1.0M555.6 281.0h1.0M531.7 278.8h1.0M576.1 273.4h1.0M553.5 283.2h1.0M557.2 276.7h1.0M563.3 277.3h1.0M552.7 286.0h1.0M544.7 284.6h1.0M563.6 277.0h1.0M544.1 286.1h1.0M554.6 283.7h1.0M538.3 286.6h1.0M519.9 271.3h1.0M538.1 282.0h1.0M542.1 285.4h1.0M553.5 288.1h1.0M579.6 266.8h1.0M515.4 233.8h1.0M556.0 283.0h1.0M503.8 235.1h1.0M529.8 261.7h1.0M541.8 283.6h1.0M502.8 238.0h1.0M511.7 242.6h1.0M556.6 279.4h1.0M554.9 285.1h1.0M550.6 285.7h1.0M535.2 279.7h1.0M601.3 223.8h1.0M549.6 288.6h1.0M533.9 241.2h1.0M590.7 265.1h1.0M566.9 243.1h1.0M544.9 284.4h1.0M579.8 261.2h1.0M556.7 278.7h1.0M567.5 263.3h1.0M558.4 260.3h1.0M530.2 264.0h1.0M574.9 261.1h1.0M556.8 283.4h1.0M530.6 266.4h1.0M536.1 277.6h1.0M574.5 264.4h1.0M544.9 284.9h1.0M554.2 281.8h1.0M567.8 280.8h1.0M556.0 278.5h1.0M519.1 269.6h1.0M567.4 268.8h1.0M574.1 274.4h1.0M572.5 251.5h1.0M589.3 249.1h1.0M561.3 277.9h1.0M570.5 261.1h1.0M588.7 245.9h1.0M546.7 287.1h1.0M592.0 233.4h1.0M591.9 225.6h1.0M570.7 271.6h1.0M594.3 230.1h1.0M572.2 237.1h1.0M533.5 269.9h1.0M578.6 251.4h1.0M560.5 270.2h1.0M562.4 281.5h1.0M556.6 282.7h1.0M583.5 260.3h1.0M565.5 262.3h1.0M537.6 275.8h1.0M564.0 278.9h1.0M569.5 242.7h1.0M537.0 279.2h1.0M543.5 284.8h1.0M544.6 284.8h1.0M539.6 280.8h1.0M561.0 267.5h1.0M575.9 260.0h1.0M579.9 223.4h1.0M576.0 272.6h1.0M578.7 239.3h1.0M544.8 287.1h1.0M568.7 256.3h1.0M560.4 226.4h1.0M550.3 287.8h1.0M543.0 285.9h1.0M541.9 283.9h1.0M547.2 288.8h1.0M525.6 261.0h1.0M564.8 276.0h1.0M552.7 283.4h1.0M555.5 283.1h1.0M560.7 283.1h1.0M569.4 270.7h1.0M540.0 281.4h1.0M550.8 284.6h1.0M517.2 244.2h1.0M509.8 255.7h1.0M587.5 223.6h1.0M512.4 251.5h1.0M563.7 262.7h1.0M586.2 270.2h1.0M542.9 280.2h1.0M589.6 241.3h1.0M594.4 272.5h1.0M574.3 261.9h1.0M567.1 273.9h1.0M536.9 281.8h1.0M564.9 277.6h1.0M543.3 277.1h1.0M524.1 263.5h1.0M604.9 259.0h1.0M541.2 282.4h1.0M552.8 284.6h1.0M538.5 281.9h1.0M556.4 283.2h1.0M548.0 288.6h1.0M544.2 287.4h1.0M526.3 260.5h1.0M536.8 283.0h1.0M560.0 283.6h1.0M599.8 252.5h1.0M577.0 263.1h1.0M564.3 278.4h1.0M551.6 288.2h1.0M523.9 269.9h1.0M553.6 287.1h1.0M546.8 288.4h1.0M589.9 255.8h1.0M560.9 262.7h1.0M545.1 285.0h1.0M522.9 260.2h1.0M542.9 285.0h1.0M544.8 285.5h1.0M580.6 249.3h1.0M597.8 225.2h1.0M537.1 278.0h1.0M545.6 287.4h1.0M550.4 288.0h1.0M545.9 286.9h1.0M525.9 266.3h1.0M555.8 280.7h1.0M561.8 279.8h1.0M562.3 270.6h1.0M526.8 278.1h1.0M551.2 287.0h1.0M514.9 253.2h1.0M574.2 246.3h1.0M531.0 266.3h1.0M547.6 288.6h1.0M543.7 284.9h1.0M540.7 279.1h1.0M530.1 253.4h1.0M514.3 248.3h1.0M592.5 238.2h1.0M559.5 280.7h1.0M559.8 283.0h1.0M551.6 282.6h1.0M566.2 268.4h1.0M554.3 276.4h1.0M580.4 221.9h1.0M565.1 278.4h1.0M560.9 279.5h1.0M548.2 289.0h1.0M560.1 273.1h1.0M579.9 249.9h1.0M551.0 287.6h1.0M544.5 285.1h1.0M547.2 288.8h1.0M570.2 274.1h1.0M535.0 269.4h1.0M548.8 289.2h1.0M542.6 280.5h1.0M516.6 262.0h1.0M543.9 284.1h1.0M512.8 226.6h1.0M532.8 271.0h1.0M546.9 288.2h1.0M553.8 285.3h1.0M555.1 286.3h1.0M550.8 288.0h1.0M563.6 269.6h1.0M526.6 226.7h1.0M540.2 279.5h1.0M539.2 282.4h1.0M549.9 287.2h1.0M540.4 275.3h1.0M534.8 275.8h1.0M590.8 230.2h1.0M554.9 286.4h1.0M546.4 287.7h1.0M548.3 289.2h1.0M549.1 289.2h1.0M585.0 233.5h1.0M564.6 271.9h1.0M579.0 232.1h1.0M561.2 281.3h1.0M577.6 271.5h1.0M598.0 227.0h1.0M554.6 281.4h1.0M515.6 233.0h1.0M567.1 248.9h1.0M540.6 282.0h1.0M513.9 267.3h1.0M540.1 263.2h1.0M580.8 269.5h1.0M570.1 237.1h1.0M530.6 272.4h1.0M527.9 273.4h1.0M552.2 287.0h1.0M521.7 260.1h1.0M583.4 260.6h1.0M564.0 273.1h1.0M573.8 266.9h1.0M556.0 286.2h1.0M552.5 287.2h1.0M557.9 276.5h1.0M511.8 225.8h1.0M576.2 252.6h1.0M574.5 255.4h1.0M545.3 286.5h1.0M553.8 282.9h1.0M560.8 280.1h1.0M589.2 240.2h1.0M563.7 275.7h1.0M555.0 283.2h1.0M542.7 285.2h1.0M520.5 232.1h1.0M540.8 285.7h1.0M555.7 283.5h1.0M548.5 289.4h1.0M555.8 284.1h1.0M570.8 274.4h1.0M563.9 277.9h1.0M560.3 278.6h1.0M568.8 264.4h1.0M558.3 267.6h1.0M553.5 285.2h1.0M564.7 269.0h1.0M515.6 243.4h1.0M582.2 276.7h1.0M525.4 227.1h1.0M572.9 261.9h1.0M554.5 286.1h1.0M579.0 266.5h1.0M555.0 285.9h1.0M533.1 258.7h1.0M578.2 234.7h1.0M558.4 282.0h1.0M556.9 280.0h1.0M556.1 286.1h1.0M576.7 259.7h1.0M572.6 264.2h1.0M559.4 280.4h1.0M519.7 250.5h1.0M545.3 286.6h1.0M556.7 278.5h1.0M594.4 232.1h1.0M562.9 270.1h1.0M552.3 286.4h1.0M551.9 283.5h1.0M553.7 285.5h1.0M557.9 281.1h1.0M520.9 238.7h1.0M575.8 253.8h1.0M563.9 262.0h1.0M548.1 289.2h1.0M528.9 243.2h1.0M559.2 284.6h1.0M585.7 225.1h1.0M540.1 282.6h1.0M530.7 267.2h1.0M563.8 269.8h1.0M518.7 266.9h1.0M504.8 252.4h1.0M544.5 285.2h1.0M539.0 274.7h1.0M548.2 289.3h1.0M542.1 286.2h1.0M561.9 276.4h1.0M549.5 288.5h1.0M541.1 283.1h1.0M544.2 285.6h1.0M568.6 277.0h1.0M575.9 239.4h1.0M574.7 259.3h1.0M570.0 254.0h1.0M480.8 241.7h1.0M532.1 281.9h1.0M547.4 288.4h1.0M559.1 281.2h1.0M518.3 271.3h1.0M586.3 237.1h1.0M561.3 268.7h1.0M540.6 284.6h1.0M558.2 281.9h1.0M546.8 287.7h1.0M537.5 283.8h1.0M565.8 272.7h1.0M544.4 280.7h1.0M523.0 264.4h1.0M540.3 281.2h1.0M552.0 288.0h1.0M530.4 269.4h1.0M582.7 244.3h1.0M530.2 273.1h1.0M593.8 239.6h1.0M574.5 231.9h1.0M533.5 274.4h1.0M557.5 279.2h1.0M581.0 269.8h1.0M550.3 288.9h1.0M527.9 249.9h1.0M557.1 276.2h1.0M521.3 246.1h1.0M567.0 261.0h1.0M554.8 283.6h1.0M552.0 287.5h1.0M545.9 285.2h1.0M547.5 287.7h1.0M568.0 276.9h1.0M532.4 280.3h1.0M525.7 234.0h1.0M569.5 267.4h1.0M558.8 283.3h1.0M581.5 265.2h1.0M562.7 275.9h1.0M578.3 264.1h1.0M554.2 284.9h1.0M576.5 247.0h1.0M562.4 283.5h1.0M602.8 223.2h1.0M539.2 273.6h1.0M581.4 240.7h1.0M565.1 251.6h1.0M558.7 279.3h1.0M542.1 285.7h1.0M564.8 257.1h1.0M521.9 271.5h1.0M524.2 279.3h1.0M570.7 268.6h1.0M520.1 232.7h1.0M586.9 222.5h1.0M548.7 289.3h1.0M560.4 266.8h1.0M556.5 275.4h1.0M564.2 270.4h1.0M548.6 289.4h1.0M546.6 288.1h1.0M552.0 284.0h1.0M578.3 275.3h1.0M580.2 266.9h1.0M583.3 262.1h1.0M563.0 268.5h1.0M550.4 288.6h1.0M517.3 245.9h1.0M569.2 279.8h1.0M573.6 272.3h1.0M545.9 285.8h1.0M572.9 254.7h1.0M583.7 272.3h1.0M557.0 284.2h1.0M578.5 251.3h1.0M561.8 277.0h1.0M516.1 254.2h1.0M544.3 283.9h1.0M545.7 286.6h1.0M566.7 262.0h1.0M535.6 272.9h1.0M545.1 286.9h1.0M533.4 263.7h1.0M554.0 285.7h1.0M556.4 282.2h1.0M576.7 266.7h1.0M572.7 271.5h1.0M558.6 283.8h1.0M560.3 280.6h1.0M557.3 283.2h1.0M557.4 279.9h1.0M589.4 251.0h1.0M551.0 287.0h1.0M561.9 279.7h1.0M580.1 250.9h1.0M530.4 273.5h1.0M562.6 264.6h1.0M574.2 274.3h1.0M544.9 285.2h1.0M512.2 253.0h1.0M546.9 287.9h1.0M528.1 274.9h1.0M569.4 261.2h1.0M535.9 268.1h1.0M558.1 278.5h1.0M536.9 268.2h1.0M543.6 285.8h1.0M530.5 279.6h1.0M563.6 242.8h1.0M550.1 288.2h1.0M575.6 272.2h1.0M533.8 276.0h1.0M561.8 277.7h1.0M606.4 232.3h1.0M523.5 267.6h1.0M582.4 271.1h1.0M581.1 260.4h1.0M522.8 252.1h1.0M533.1 274.6h1.0M576.5 241.5h1.0M545.3 286.1h1.0M551.2 286.5h1.0M570.7 254.3h1.0M557.5 283.0h1.0M559.9 275.5h1.0M547.7 288.2h1.0M580.0 237.5h1.0M537.5 278.4h1.0M592.3 269.8h1.0M547.3 288.4h1.0M537.0 283.6h1.0M569.3 271.2h1.0M564.9 240.0h1.0M510.6 250.8h1.0M559.8 272.1h1.0M524.7 237.9h1.0M536.3 268.1h1.0M572.4 278.0h1.0M535.6 260.2h1.0M562.8 269.1h1.0M546.3 288.2h1.0M598.0 244.2h1.0M552.7 281.1h1.0M528.5 265.9h1.0M530.1 263.3h1.0M534.5 273.2h1.0M557.6 283.1h1.0M554.7 281.8h1.0M576.4 251.4h1.0M558.5 284.4h1.0M557.6 267.5h1.0M561.9 272.7h1.0M551.8 287.0h1.0M561.2 265.3h1.0M572.2 252.8h1.0M572.2 239.2h1.0M542.5 284.1h1.0M515.2 236.3h1.0M536.6 281.0h1.0M560.9 281.6h1.0M499.0 229.9h1.0M544.0 284.4h1.0M564.6 274.2h1.0M542.0 283.3h1.0M529.6 251.6h1.0M593.8 255.6h1.0M585.5 249.1h1.0M548.8 289.3h1.0M583.5 261.7h1.0M529.3 281.7h1.0M614.4 227.3h1.0M533.6 257.0h1.0M548.6 289.3h1.0M530.0 268.4h1.0M556.2 282.7h1.0M525.1 259.3h1.0M554.3 285.1h1.0M578.6 245.1h1.0M559.2 279.8h1.0M548.5 289.4h1.0M588.9 242.3h1.0M534.4 280.2h1.0M576.0 248.8h1.0M547.6 288.8h1.0M559.2 272.9h1.0M555.1 282.0h1.0M557.2 279.9h1.0M553.1 287.0h1.0M536.8 272.0h1.0M541.6 285.6h1.0M564.2 255.1h1.0M551.9 286.2h1.0M528.3 275.0h1.0M538.5 282.2h1.0M538.8 273.4h1.0M553.0 282.2h1.0M558.2 283.1h1.0M556.2 275.8h1.0M539.6 282.7h1.0M554.5 282.2h1.0M523.6 260.3h1.0M489.7 264.4h1.0M552.9 287.4h1.0M517.1 264.5h1.0M532.9 256.4h1.0M527.1 268.7h1.0M568.1 268.3h1.0M527.0 263.8h1.0M560.1 283.2h1.0M543.0 277.7h1.0M526.3 267.8h1.0M518.7 256.1h1.0M564.2 265.1h1.0M562.5 283.0h1.0M571.1 242.3h1.0M594.7 233.4h1.0M559.8 278.3h1.0M560.0 255.0h1.0M550.9 285.3h1.0M556.0 277.9h1.0M545.8 287.7h1.0M533.7 279.4h1.0M598.2 242.4h1.0M512.0 249.7h1.0M559.2 257.4h1.0M563.4 275.1h1.0M556.9 278.9h1.0M532.0 279.3h1.0M549.2 289.1h1.0M543.2 287.6h1.0M529.4 274.5h1.0M552.4 287.0h1.0M544.3 283.1h1.0M541.0 282.4h1.0M568.6 248.5h1.0M529.7 276.0h1.0M563.1 261.4h1.0M539.6 279.6h1.0M562.8 266.8h1.0M554.8 282.0h1.0M558.6 281.3h1.0M531.3 264.5h1.0M535.9 277.6h1.0M534.0 264.1h1.0M557.0 285.1h1.0M569.8 256.4h1.0M577.2 268.8h1.0M541.9 287.0h1.0M555.0 269.4h1.0M517.0 230.0h1.0M503.6 228.9h1.0M533.7 280.5h1.0M538.2 276.1h1.0M518.4 259.4h1.0M513.3 230.1h1.0M564.9 276.0h1.0M535.0 263.4h1.0M515.5 262.8h1.0M556.7 269.2h1.0M545.8 288.3h1.0M567.9 269.5h1.0M535.9 268.8h1.0M588.2 272.8h1.0M518.5 268.0h1.0M523.6 272.9h1.0M549.7 288.2h1.0M535.7 279.5h1.0M584.1 255.4h1.0M536.4 280.0h1.0M557.9 279.1h1.0M565.1 279.8h1.0M574.9 273.2h1.0M560.2 272.9h1.0M542.0 283.6h1.0M556.4 283.8h1.0M571.6 257.0h1.0M545.4 286.4h1.0M545.9 287.6h1.0M542.1 284.3h1.0M538.1 283.3h1.0M527.3 267.9h1.0M540.0 276.4h1.0M560.8 280.8h1.0M516.9 244.8h1.0M590.1 231.2h1.0M547.6 288.4h1.0M539.2 255.4h1.0M579.5 244.4h1.0M556.3 277.8h1.0M564.7 282.3h1.0M536.2 279.1h1.0M575.9 253.5h1.0M534.4 275.5h1.0M554.5 285.3h1.0M513.6 229.6h1.0M537.6 276.8h1.0M563.3 270.6h1.0M542.1 287.4h1.0M542.2 283.5h1.0M569.7 228.6h1.0M550.5 288.2h1.0M579.7 279.0h1.0M564.7 286.1h1.0M563.3 273.1h1.0M517.7 266.8h1.0M523.2 250.2h1.0M571.6 259.0h1.0M528.3 247.5h1.0M537.9 270.9h1.0M565.3 237.1h1.0M544.6 287.3h1.0M562.6 262.7h1.0M532.7 275.1h1.0M558.6 280.7h1.0M576.1 244.8h1.0M559.2 278.8h1.0M503.2 230.8h1.0M566.5 263.9h1.0M553.3 285.1h1.0M531.8 271.6h1.0M583.0 223.2h1.0M537.9 279.2h1.0M587.0 265.3h1.0M551.0 288.3h1.0M522.4 263.0h1.0M554.1 286.0h1.0M559.4 279.0h1.0M564.0 279.7h1.0M575.6 259.4h1.0M532.0 274.6h1.0M562.9 271.7h1.0M568.4 267.0h1.0M545.9 288.4h1.0M531.1 254.3h1.0M530.7 269.6h1.0M568.6 258.8h1.0M569.7 274.5h1.0M533.5 282.8h1.0M522.2 253.1h1.0M517.4 261.6h1.0M555.5 284.4h1.0M534.0 253.1h1.0M512.9 240.5h1.0M554.7 283.3h1.0M547.7 287.3h1.0M583.9 258.2h1.0M602.5 234.1h1.0M547.7 288.8h1.0M574.7 238.0h1.0M575.2 244.8h1.0M540.3 278.2h1.0M532.7 275.8h1.0M543.8 287.1h1.0M551.4 287.3h1.0M545.5 281.5h1.0M549.0 289.2h1.0M538.5 279.9h1.0M568.6 259.4h1.0M579.8 253.3h1.0M543.6 278.2h1.0M521.2 259.8h1.0M553.0 275.5h1.0M518.8 231.6h1.0M537.7 283.6h1.0M579.3 269.7h1.0M560.3 269.5h1.0M528.2 275.0h1.0M569.3 265.1h1.0M502.0 236.6h1.0M536.5 280.2h1.0M568.5 274.3h1.0M514.9 269.6h1.0M570.9 234.0h1.0M550.9 286.6h1.0M538.7 275.4h1.0M561.1 280.2h1.0M539.2 282.8h1.0M509.2 248.2h1.0M569.9 270.8h1.0M537.5 280.4h1.0M529.6 267.2h1.0M557.5 260.6h1.0M534.0 240.0h1.0M565.8 269.7h1.0M546.0 286.8h1.0M575.9 254.2h1.0M543.3 284.9h1.0M537.4 276.4h1.0M527.5 238.7h1.0M567.9 233.7h1.0M619.8 237.1h1.0M524.1 271.2h1.0M528.9 245.3h1.0M559.4 276.5h1.0M562.5 277.4h1.0M536.9 283.8h1.0M553.7 282.9h1.0M516.2 253.0h1.0M545.3 287.6h1.0M572.0 226.6h1.0M548.2 289.1h1.0M546.2 286.4h1.0M562.0 284.3h1.0M576.6 267.7h1.0M562.8 275.5h1.0M535.3 266.2h1.0M559.9 281.7h1.0M573.5 268.0h1.0M536.1 272.3h1.0M522.3 250.4h1.0M563.3 255.7h1.0M560.1 276.8h1.0M573.4 270.4h1.0M553.9 286.2h1.0M537.6 280.9h1.0M542.3 285.3h1.0M529.1 259.5h1.0M530.9 264.3h1.0M539.5 284.3h1.0M541.2 283.6h1.0M576.8 239.4h1.0M524.7 267.6h1.0M550.9 287.9h1.0M538.9 282.4h1.0M585.1 246.2h1.0M557.9 277.1h1.0M543.7 285.6h1.0M570.1 278.8h1.0M553.5 285.0h1.0M541.5 279.7h1.0M586.2 249.5h1.0M567.9 248.5h1.0M590.5 242.0h1.0M577.8 248.2h1.0M569.3 274.7h1.0M555.0 283.4h1.0M528.0 275.5h1.0M567.9 282.4h1.0M553.7 283.9h1.0M567.1 257.2h1.0M552.0 286.8h1.0M536.8 276.5h1.0M529.8 269.6h1.0M567.7 259.7h1.0M580.9 259.2h1.0M545.8 286.9h1.0M562.3 245.5h1.0M582.9 241.7h1.0M533.7 275.6h1.0M544.6 287.3h1.0M527.3 256.4h1.0M578.4 236.1h1.0M558.0 283.9h1.0M542.0 280.7h1.0M515.5 250.5h1.0M548.2 289.2h1.0M574.4 268.1h1.0M545.7 286.8h1.0M542.8 279.9h1.0M566.5 277.3h1.0M524.9 254.6h1.0M553.4 283.4h1.0M565.5 282.4h1.0M535.0 280.0h1.0M533.9 261.9h1.0M557.8 277.4h1.0M550.1 287.9h1.0M547.1 287.5h1.0M556.9 267.3h1.0M557.2 283.4h1.0M531.8 276.7h1.0M537.5 279.2h1.0M562.3 271.2h1.0M577.2 258.0h1.0M582.4 258.7h1.0M533.6 261.4h1.0M576.6 249.3h1.0M569.2 257.7h1.0M551.7 287.3h1.0M563.2 275.4h1.0M570.8 240.3h1.0M529.0 280.2h1.0M565.7 257.9h1.0M549.3 288.8h1.0M547.8 288.5h1.0M577.8 270.3h1.0M570.5 262.8h1.0M529.9 262.9h1.0M546.2 285.6h1.0M557.5 279.2h1.0M521.1 267.5h1.0M571.6 270.1h1.0M550.8 285.7h1.0M556.0 285.8h1.0M559.9 275.9h1.0M553.3 285.2h1.0M544.6 284.4h1.0M541.4 279.7h1.0M540.9 281.4h1.0M521.8 248.1h1.0M558.5 281.4h1.0M562.9 268.9h1.0M556.2 285.1h1.0M549.5 288.7h1.0M535.1 278.7h1.0M535.2 276.3h1.0M562.1 281.7h1.0M555.2 281.7h1.0M535.7 277.8h1.0M541.8 263.3h1.0M530.0 263.8h1.0M583.0 250.6h1.0M525.3 255.4h1.0M569.6 276.4h1.0M584.3 257.5h1.0M549.4 288.6h1.0M568.6 261.0h1.0M505.5 257.0h1.0M544.0 283.4h1.0M515.9 240.1h1.0M556.4 283.9h1.0M552.8 286.4h1.0M535.6 284.2h1.0M573.4 256.2h1.0M560.4 256.8h1.0M541.0 283.9h1.0M541.2 285.4h1.0M520.1 251.7h1.0M548.5 289.4h1.0M599.4 261.5h1.0M536.9 272.1h1.0M561.9 271.0h1.0M540.5 274.2h1.0M570.3 269.9h1.0M562.3 278.9h1.0M547.4 288.6h1.0M541.3 278.8h1.0M547.2 286.9h1.0M566.5 249.4h1.0M542.0 275.3h1.0M511.4 238.5h1.0M562.0 277.5h1.0M559.7 280.8h1.0M539.8 280.4h1.0M544.4 284.1h1.0M559.0 278.4h1.0M539.5 282.4h1.0M560.3 274.9h1.0M548.1 289.0h1.0M549.4 288.4h1.0M539.5 280.2h1.0M534.2 261.6h1.0M561.5 281.0h1.0M541.9 275.1h1.0M564.6 275.2h1.0M576.8 224.7h1.0M555.8 285.8h1.0M518.5 265.3h1.0M536.5 270.0h1.0M572.8 253.0h1.0M547.0 287.0h1.0M534.9 274.0h1.0M550.7 287.8h1.0M563.8 284.5h1.0M558.4 269.1h1.0M566.9 278.1h1.0M534.5 268.7h1.0M546.6 287.8h1.0M547.1 288.5h1.0M552.2 286.7h1.0M506.4 245.3h1.0M547.5 288.4h1.0M523.1 258.5h1.0M583.4 248.7h1.0M587.1 262.1h1.0M570.6 256.1h1.0M542.0 277.5h1.0M573.9 240.7h1.0M548.3 289.1h1.0M566.2 277.8h1.0M532.8 283.3h1.0M539.8 284.7h1.0M563.0 260.4h1.0M591.9 236.1h1.0M552.2 283.5h1.0M602.5 232.7h1.0M613.6 241.9h1.0M524.5 267.9h1.0M552.2 287.1h1.0M531.8 269.0h1.0M549.7 286.9h1.0M541.0 269.1h1.0M551.3 286.7h1.0M574.1 266.2h1.0M573.5 273.5h1.0M558.5 277.0h1.0M552.9 285.4h1.0M555.4 283.3h1.0M555.6 285.1h1.0M565.5 269.5h1.0M552.9 282.4h1.0M563.9 279.4h1.0M523.9 265.3h1.0M570.3 268.2h1.0M556.9 280.9h1.0M545.6 286.3h1.0M548.0 289.0h1.0M566.2 279.6h1.0M561.3 275.3h1.0M580.3 273.2h1.0M566.6 261.7h1.0M555.6 284.5h1.0M528.3 267.2h1.0M556.8 279.6h1.0M567.8 264.6h1.0M530.2 273.7h1.0M539.4 265.1h1.0M563.3 274.0h1.0M509.9 243.0h1.0M547.8 288.8h1.0M558.5 277.0h1.0M542.3 282.0h1.0M553.4 285.8h1.0M523.5 247.5h1.0M567.3 272.1h1.0M550.7 285.7h1.0M558.7 283.9h1.0M567.1 254.0h1.0M541.3 285.2h1.0M571.2 255.8h1.0M580.4 259.0h1.0M561.7 274.1h1.0M582.3 259.0h1.0M539.0 279.6h1.0M573.2 273.7h1.0M558.9 281.6h1.0M531.1 275.3h1.0M551.2 288.2h1.0M541.2 279.0h1.0M540.7 285.1h1.0M554.8 283.4h1.0M576.4 222.6h1.0M545.9 287.4h1.0M555.7 281.6h1.0M520.4 274.6h1.0M555.3 280.9h1.0M578.4 253.3h1.0M570.8 265.9h1.0M563.4 247.1h1.0M541.3 283.7h1.0M531.4 257.3h1.0M550.8 288.3h1.0M523.3 276.2h1.0M525.6 262.0h1.0M573.8 225.9h1.0M532.6 273.1h1.0M592.6 237.5h1.0M521.3 266.2h1.0M562.4 271.8h1.0M527.0 244.1h1.0M556.8 280.4h1.0M529.9 255.4h1.0M553.8 287.1h1.0M549.5 288.3h1.0M542.9 281.9h1.0M564.2 271.4h1.0M539.8 278.3h1.0M572.5 258.7h1.0M554.8 281.6h1.0M552.3 285.5h1.0M601.4 250.9h1.0M504.9 243.8h1.0M537.9 267.4h1.0M512.9 234.8h1.0M546.0 287.7h1.0M547.8 288.6h1.0M560.6 276.3h1.0M592.6 245.3h1.0M581.6 244.4h1.0M543.2 283.8h1.0M563.5 263.9h1.0M589.9 244.9h1.0M556.7 276.3h1.0M557.5 285.3h1.0M564.0 272.0h1.0M519.6 249.7h1.0M534.9 279.3h1.0M560.4 276.2h1.0M565.0 271.7h1.0M532.6 271.0h1.0M545.7 285.8h1.0M550.2 287.2h1.0M549.5 288.2h1.0M568.2 276.4h1.0M555.2 280.4h1.0M556.6 279.5h1.0M521.6 248.5h1.0M529.6 274.0h1.0M560.0 284.7h1.0M517.6 230.7h1.0M558.8 281.2h1.0M538.2 279.2h1.0M534.9 272.0h1.0M567.2 272.8h1.0M537.9 268.2h1.0M533.8 278.6h1.0M537.9 279.3h1.0M554.1 280.7h1.0M613.7 248.4h1.0M505.8 252.8h1.0M552.4 287.3h1.0M547.4 287.5h1.0M573.9 254.4h1.0M544.6 284.6h1.0M498.0 240.5h1.0M582.1 267.8h1.0M528.6 231.7h1.0M551.4 286.8h1.0M522.4 255.6h1.0M528.4 275.2h1.0M541.7 282.4h1.0M571.7 238.7h1.0M571.4 259.5h1.0M539.4 273.7h1.0M563.8 264.3h1.0M544.4 285.5h1.0M555.1 281.2h1.0M556.1 282.8h1.0M566.4 246.4h1.0M539.0 286.1h1.0M549.7 288.8h1.0M557.4 282.9h1.0M554.6 278.3h1.0M534.9 246.1h1.0M542.4 282.6h1.0M569.4 281.3h1.0M557.1 284.7h1.0M579.7 240.0h1.0M504.1 257.2h1.0M598.1 253.3h1.0M547.8 288.8h1.0M525.2 274.3h1.0M555.4 283.6h1.0M563.8 259.0h1.0M525.2 259.8h1.0M542.3 285.5h1.0M548.5 289.4h1.0M546.0 281.0h1.0M600.6 260.9h1.0M546.0 286.6h1.0M581.7 260.4h1.0M537.5 284.6h1.0M534.7 258.0h1.0M574.8 237.1h1.0M566.3 282.7h1.0M514.1 240.2h1.0M566.7 267.3h1.0M566.8 270.8h1.0M538.9 283.3h1.0M557.4 284.6h1.0M558.5 279.6h1.0M541.7 281.4h1.0M539.5 279.9h1.0M537.6 279.4h1.0M546.4 288.3h1.0M523.0 260.5h1.0M551.5 288.2h1.0M519.3 235.6h1.0M554.1 285.2h1.0M550.6 288.5h1.0M529.5 277.8h1.0M571.4 266.4h1.0M581.8 231.9h1.0M522.1 254.7h1.0M580.7 254.9h1.0M557.3 279.3h1.0M551.3 284.5h1.0M539.2 275.6h1.0M552.3 286.6h1.0M583.2 260.3h1.0M564.5 253.6h1.0M543.2 283.3h1.0M537.6 262.7h1.0M543.2 282.6h1.0M565.4 285.9h1.0M593.8 233.4h1.0M529.0 262.4h1.0M552.4 284.7h1.0M543.9 281.5h1.0M535.7 254.4h1.0M561.2 275.4h1.0M564.6 268.7h1.0M521.0 273.3h1.0M529.5 240.6h1.0M578.9 259.0h1.0M559.4 283.4h1.0M564.0 244.4h1.0M541.3 284.1h1.0M544.0 280.0h1.0M562.6 277.5h1.0M541.4 285.8h1.0M527.8 265.1h1.0M552.4 286.2h1.0M572.5 249.3h1.0M529.6 270.5h1.0M575.8 270.5h1.0M567.9 264.8h1.0M533.3 271.2h1.0M552.6 286.2h1.0M551.5 287.5h1.0M566.4 243.9h1.0M567.2 268.6h1.0M523.6 247.5h1.0M522.6 264.8h1.0M575.2 270.1h1.0M554.9 284.0h1.0M561.6 281.8h1.0M559.8 269.9h1.0M586.3 232.2h1.0M525.7 245.5h1.0M576.5 256.1h1.0M534.3 274.5h1.0M568.5 263.8h1.0M521.8 255.6h1.0M561.3 272.2h1.0M546.3 287.8h1.0M546.0 286.7h1.0M553.4 286.7h1.0M529.2 269.4h1.0M531.1 240.4h1.0M566.9 266.4h1.0M571.1 236.5h1.0M539.9 283.8h1.0M520.3 272.4h1.0M576.7 261.7h1.0M560.4 263.5h1.0M529.7 226.3h1.0M539.5 277.3h1.0M557.8 278.6h1.0M531.2 247.9h1.0M587.8 241.7h1.0M555.4 283.5h1.0M561.1 279.6h1.0M529.7 279.4h1.0M532.4 277.3h1.0M535.0 271.7h1.0M558.5 279.6h1.0M546.6 288.0h1.0M546.0 285.7h1.0M559.4 283.4h1.0M557.4 283.5h1.0M585.1 238.3h1.0M548.1 288.8h1.0M530.1 286.0h1.0M552.2 287.1h1.0M584.6 260.5h1.0M540.2 285.8h1.0M553.5 286.4h1.0M544.5 286.0h1.0M561.3 279.7h1.0M558.1 274.0h1.0M534.6 278.7h1.0M547.4 287.4h1.0M573.1 265.5h1.0M576.5 263.5h1.0M572.7 229.4h1.0M571.4 279.0h1.0M545.1 283.9h1.0M544.4 287.0h1.0M572.9 251.7h1.0M526.7 267.4h1.0M551.2 286.2h1.0M511.6 275.8h1.0M544.1 286.8h1.0M536.9 284.2h1.0M526.0 271.4h1.0M565.2 276.2h1.0M536.3 277.2h1.0M544.4 285.0h1.0M546.8 288.2h1.0M536.3 277.3h1.0M583.7 242.4h1.0M541.6 276.0h1.0M556.8 279.8h1.0M523.8 267.5h1.0M542.1 281.4h1.0M545.3 286.9h1.0M545.7 286.6h1.0M539.6 274.3h1.0M555.6 278.6h1.0M586.7 223.4h1.0M549.5 288.4h1.0M549.4 288.6h1.0M543.9 286.7h1.0M564.7 276.7h1.0M567.9 261.6h1.0M536.9 276.4h1.0M549.1 289.2h1.0M557.1 285.1h1.0M555.1 284.6h1.0M533.7 279.2h1.0M535.4 276.1h1.0M563.8 279.0h1.0M559.3 274.2h1.0M554.5 282.2h1.0M580.3 271.6h1.0M538.3 284.4h1.0M557.7 276.8h1.0M520.6 270.5h1.0M570.7 261.4h1.0M528.0 275.6h1.0M525.0 257.0h1.0M545.5 287.6h1.0M539.1 278.3h1.0M524.8 261.1h1.0M562.6 275.4h1.0M557.5 277.4h1.0M524.7 277.4h1.0M517.6 243.8h1.0M545.6 283.1h1.0M560.8 249.4h1.0M560.3 240.2h1.0M576.3 244.7h1.0M519.8 271.7h1.0M534.4 254.9h1.0M549.6 288.3h1.0M570.9 227.6h1.0M562.9 280.4h1.0M543.3 285.1h1.0M530.1 271.8h1.0M571.8 275.6h1.0M573.3 276.6h1.0M611.9 238.7h1.0M548.6 289.3h1.0M526.0 245.7h1.0M540.6 270.6h1.0M537.7 284.7h1.0M542.4 282.8h1.0M533.3 273.8h1.0M540.6 282.2h1.0M551.3 288.4h1.0M542.7 282.0h1.0M567.0 277.9h1.0M550.7 287.7h1.0M552.5 285.5h1.0M559.4 282.2h1.0M555.9 279.0h1.0M552.1 285.4h1.0M553.9 284.8h1.0M565.1 272.0h1.0M535.0 281.1h1.0M577.6 241.2h1.0M586.9 245.3h1.0M577.8 258.6h1.0M541.8 282.9h1.0M517.7 262.5h1.0M543.0 283.4h1.0M555.9 285.3h1.0M570.6 253.0h1.0M548.5 289.4h1.0M545.9 286.9h1.0M585.8 263.4h1.0M537.9 275.2h1.0M575.8 245.2h1.0M572.3 256.3h1.0M523.4 262.0h1.0M558.6 278.2h1.0M540.3 282.4h1.0M531.8 245.9h1.0M512.0 267.8h1.0M518.2 261.8h1.0M561.6 268.0h1.0M544.0 287.1h1.0M558.5 281.3h1.0M529.3 278.9h1.0M545.5 284.6h1.0M546.6 288.6h1.0M518.7 254.1h1.0M562.2 279.4h1.0M555.7 281.2h1.0M532.1 259.2h1.0M550.3 287.7h1.0M567.0 236.0h1.0M592.6 247.3h1.0M533.1 270.6h1.0M566.0 267.1h1.0M598.9 256.7h1.0M554.0 284.3h1.0M584.6 229.4h1.0M584.2 244.1h1.0M552.3 287.3h1.0M511.4 229.7h1.0M569.6 249.0h1.0M575.5 269.1h1.0M579.0 253.5h1.0M578.8 252.3h1.0M551.9 288.2h1.0M536.1 265.3h1.0M542.4 284.0h1.0M551.8 282.6h1.0M561.4 273.6h1.0M542.0 284.6h1.0M553.6 286.6h1.0M571.7 239.4h1.0M559.6 281.8h1.0M602.8 241.4h1.0M599.8 222.0h1.0M527.4 282.2h1.0M540.1 280.9h1.0M523.8 244.7h1.0M527.0 269.3h1.0M564.5 245.4h1.0M530.8 280.3h1.0M529.6 276.4h1.0M546.6 287.3h1.0M570.1 271.2h1.0M544.7 286.6h1.0M544.7 287.9h1.0M572.7 251.0h1.0M562.9 259.8h1.0M562.5 248.0h1.0M573.3 255.6h1.0M530.3 245.0h1.0M557.2 279.9h1.0M538.6 281.1h1.0M575.0 250.2h1.0M570.4 249.1h1.0M529.6 277.6h1.0M581.9 244.5h1.0M526.9 267.1h1.0M578.2 267.1h1.0M557.0 273.2h1.0M533.4 263.1h1.0M528.0 282.6h1.0M545.8 286.7h1.0M552.0 284.3h1.0M536.9 275.6h1.0M564.9 265.4h1.0M521.8 232.4h1.0M552.4 285.1h1.0M552.5 285.7h1.0M511.4 243.1h1.0M559.3 280.9h1.0M524.8 226.5h1.0M539.0 282.8h1.0M547.5 288.3h1.0M572.4 274.2h1.0M541.8 283.7h1.0M584.1 255.5h1.0M576.5 235.2h1.0M581.6 253.6h1.0M560.2 282.7h1.0M540.3 286.3h1.0M566.8 268.2h1.0M573.8 268.4h1.0M557.8 281.4h1.0M547.1 288.5h1.0M567.4 263.5h1.0M560.2 278.8h1.0M523.8 266.4h1.0M554.7 280.9h1.0M568.4 274.5h1.0M550.1 288.6h1.0M569.8 265.8h1.0M569.1 263.0h1.0M520.0 248.5h1.0M545.9 287.1h1.0M563.2 280.6h1.0M572.7 276.0h1.0M583.6 235.8h1.0M551.0 286.2h1.0M568.3 275.7h1.0M579.5 255.6h1.0M589.7 244.7h1.0M531.9 274.9h1.0M544.3 286.0h1.0M529.3 266.1h1.0M570.5 247.0h1.0M523.3 249.0h1.0M578.6 255.1h1.0M573.1 265.6h1.0M563.2 270.2h1.0M504.6 223.8h1.0M537.5 283.5h1.0M569.0 259.8h1.0M521.2 260.1h1.0M547.2 288.0h1.0M550.2 287.3h1.0M572.1 232.7h1.0M558.7 275.8h1.0M558.5 274.1h1.0M542.8 285.7h1.0M552.6 282.9h1.0M549.5 288.4h1.0M568.6 273.0h1.0M548.5 289.4h1.0M575.3 264.4h1.0M515.0 262.0h1.0M548.7 289.2h1.0M577.4 235.0h1.0M554.3 286.4h1.0M571.3 261.3h1.0M585.4 253.3h1.0M540.2 285.7h1.0M554.2 283.0h1.0M548.7 289.3h1.0M557.1 282.4h1.0M516.7 245.3h1.0M548.7 289.3h1.0M547.0 288.4h1.0M535.1 280.6h1.0M548.2 289.1h1.0M518.4 246.4h1.0M583.3 239.0h1.0M562.3 271.7h1.0M533.2 275.4h1.0M526.7 272.5h1.0M558.7 279.0h1.0M515.6 238.7h1.0M557.4 280.6h1.0M536.9 278.5h1.0M545.0 286.6h1.0M558.0 285.3h1.0M553.4 282.5h1.0M593.5 241.6h1.0M566.4 275.3h1.0M523.9 261.4h1.0M574.0 255.5h1.0M522.8 239.8h1.0M554.3 282.1h1.0M524.9 269.8h1.0M534.1 281.7h1.0M581.4 235.1h1.0M540.1 282.6h1.0M538.2 281.1h1.0M540.0 284.1h1.0M545.5 286.9h1.0M584.2 253.7h1.0M526.3 272.9h1.0M525.1 241.4h1.0M565.1 271.5h1.0M544.3 279.2h1.0M577.3 238.5h1.0M552.3 282.2h1.0M541.7 284.1h1.0M536.6 281.7h1.0M532.1 268.2h1.0M539.2 279.3h1.0M555.3 282.1h1.0M579.7 246.4h1.0M573.6 261.7h1.0M539.8 281.9h1.0M536.1 272.8h1.0M567.6 257.7h1.0M512.1 232.5h1.0M542.5 285.4h1.0M545.0 285.4h1.0M527.6 277.6h1.0M530.2 266.1h1.0M559.8 283.3h1.0M531.9 263.4h1.0M537.8 280.5h1.0M553.8 285.4h1.0M521.8 254.8h1.0M576.0 277.3h1.0M545.2 286.4h1.0M546.2 287.5h1.0M543.9 283.7h1.0M537.1 283.9h1.0M530.3 275.9h1.0M577.2 261.1h1.0M556.3 272.3h1.0M549.4 288.7h1.0M573.8 251.9h1.0M536.1 278.5h1.0M565.7 277.2h1.0M552.3 284.6h1.0M532.1 273.1h1.0M568.5 274.6h1.0M518.8 255.9h1.0M566.0 266.4h1.0M532.2 259.0h1.0M560.7 271.6h1.0M564.1 278.8h1.0M538.4 279.4h1.0M551.0 285.6h1.0M543.5 284.6h1.0M525.7 240.3h1.0M552.5 287.2h1.0M563.3 280.3h1.0M549.9 287.8h1.0M562.6 275.7h1.0M553.8 283.4h1.0M529.4 256.3h1.0M574.2 250.4h1.0M524.6 257.7h1.0M565.6 264.4h1.0M586.5 246.4h1.0M506.5 231.1h1.0M557.0 277.2h1.0M558.2 279.7h1.0M556.3 272.4h1.0M534.4 281.8h1.0M544.4 280.7h1.0M520.5 254.2h1.0M554.1 284.8h1.0M563.0 276.6h1.0M536.6 278.3h1.0M530.9 278.7h1.0M540.8 276.2h1.0M551.0 287.1h1.0M552.5 286.0h1.0M548.9 289.1h1.0M552.6 284.4h1.0M522.4 272.7h1.0M564.6 266.9h1.0M582.3 242.1h1.0M520.0 251.1h1.0M536.5 277.6h1.0M557.7 279.2h1.0M572.0 266.4h1.0M565.3 272.0h1.0M579.1 259.7h1.0M549.9 288.7h1.0M560.1 271.1h1.0M560.1 283.8h1.0M541.6 280.9h1.0M577.4 264.0h1.0M564.7 272.9h1.0M572.5 256.8h1.0M542.5 274.4h1.0M573.6 275.8h1.0M527.9 255.0h1.0M559.6 272.5h1.0M493.8 245.8h1.0M528.9 267.7h1.0M567.1 281.0h1.0M541.1 286.0h1.0M554.8 285.0h1.0M515.5 253.1h1.0M584.8 257.7h1.0M564.0 257.1h1.0M550.4 287.9h1.0M560.1 278.1h1.0M558.1 277.1h1.0M581.9 252.7h1.0M555.6 275.4h1.0M518.8 265.8h1.0M545.4 287.7h1.0M579.0 223.5h1.0M563.4 274.3h1.0M541.7 286.1h1.0M564.3 275.2h1.0M553.5 281.8h1.0M564.3 261.3h1.0M516.3 262.9h1.0M531.3 281.4h1.0M565.5 257.2h1.0M546.1 287.2h1.0M558.6 274.3h1.0M593.7 225.3h1.0M544.1 285.8h1.0M556.2 281.6h1.0M538.8 275.4h1.0M537.3 285.0h1.0M549.3 288.7h1.0M519.2 250.4h1.0M505.0 256.2h1.0M580.8 249.9h1.0M548.7 289.3h1.0M575.5 268.9h1.0M553.6 281.6h1.0M554.2 285.5h1.0M565.6 277.8h1.0M566.6 274.6h1.0M524.7 258.6h1.0M577.3 254.2h1.0M529.8 241.2h1.0M555.4 282.2h1.0M606.8 224.4h1.0M552.7 286.7h1.0M587.3 243.7h1.0M543.4 283.5h1.0M564.4 263.1h1.0M552.1 286.0h1.0M560.1 278.0h1.0M532.3 279.3h1.0M530.9 269.6h1.0M558.3 276.7h1.0M516.9 248.3h1.0M532.5 266.9h1.0M565.0 268.9h1.0M537.5 256.0h1.0M531.6 248.6h1.0M526.8 244.8h1.0M554.2 285.0h1.0M543.0 283.9h1.0M554.2 284.2h1.0M546.9 288.5h1.0M541.5 285.2h1.0M508.3 246.7h1.0M553.5 282.8h1.0M551.0 288.2h1.0M554.4 278.4h1.0M516.0 223.8h1.0M575.7 253.2h1.0M550.3 288.1h1.0M550.0 287.9h1.0M561.3 273.6h1.0M549.6 288.5h1.0M580.4 277.8h1.0M541.9 285.9h1.0M524.1 261.9h1.0M553.8 281.1h1.0M531.1 272.7h1.0M560.0 268.2h1.0M527.4 267.1h1.0M548.2 289.1h1.0M546.1 286.7h1.0M550.2 288.0h1.0M539.8 279.0h1.0M533.3 267.3h1.0M549.7 288.9h1.0M538.4 281.4h1.0M554.3 283.0h1.0M545.1 284.8h1.0M502.2 235.0h1.0M549.6 288.6h1.0M581.1 262.4h1.0M557.6 284.7h1.0M564.0 275.7h1.0M560.9 266.9h1.0M540.8 286.3h1.0M522.1 271.1h1.0M568.5 274.0h1.0M573.8 273.5h1.0M563.3 256.3h1.0M560.2 274.7h1.0M559.5 274.7h1.0M550.4 288.4h1.0M556.9 274.6h1.0M551.2 286.5h1.0M558.0 284.5h1.0M530.6 274.5h1.0M537.4 275.3h1.0M563.3 282.7h1.0M543.7 280.8h1.0M498.8 237.3h1.0M553.7 283.9h1.0M501.7 241.7h1.0M592.2 227.4h1.0M566.5 258.9h1.0M565.5 272.2h1.0M536.7 265.7h1.0M526.7 269.6h1.0M546.5 287.2h1.0M551.5 287.6h1.0M534.5 270.3h1.0M554.5 281.6h1.0M565.8 273.3h1.0M564.0 279.9h1.0M528.7 230.3h1.0M504.6 236.5h1.0M551.2 287.6h1.0M536.9 265.0h1.0M560.7 269.6h1.0M586.3 254.0h1.0M586.3 222.2h1.0M557.3 277.4h1.0M574.9 275.5h1.0M552.1 284.4h1.0M557.0 263.5h1.0M569.4 248.5h1.0M550.4 286.5h1.0M540.5 285.7h1.0M535.2 281.2h1.0M551.4 284.8h1.0M537.9 284.9h1.0M568.3 273.7h1.0M544.1 284.9h1.0M582.6 260.3h1.0M577.2 260.2h1.0M524.8 248.9h1.0M574.4 221.7h1.0M542.7 280.8h1.0M580.6 249.5h1.0M562.3 271.6h1.0M550.4 287.1h1.0M565.7 277.2h1.0M539.5 274.1h1.0M558.4 282.6h1.0M559.7 274.7h1.0M548.3 289.2h1.0M559.7 269.2h1.0M530.2 268.3h1.0M563.4 265.5h1.0M525.7 229.7h1.0M564.8 271.0h1.0M561.6 275.0h1.0M566.7 275.6h1.0M539.7 281.5h1.0M546.8 287.3h1.0M554.9 269.3h1.0M535.6 265.4h1.0M582.1 266.7h1.0M541.7 286.0h1.0M572.9 269.3h1.0M531.7 273.0h1.0M558.4 281.7h1.0M543.9 285.8h1.0M571.6 229.4h1.0M545.6 285.4h1.0M533.5 279.9h1.0M561.5 281.4h1.0M526.5 266.3h1.0M531.6 267.2h1.0M568.2 262.0h1.0M512.2 231.6h1.0M568.1 254.3h1.0M543.5 277.5h1.0M532.6 272.8h1.0M557.2 278.5h1.0M565.4 268.3h1.0M539.7 285.2h1.0M548.3 289.2h1.0M569.0 256.0h1.0M568.0 272.4h1.0M551.0 285.0h1.0M535.8 281.1h1.0M532.1 273.2h1.0M539.6 279.3h1.0M566.6 273.8h1.0M564.4 280.6h1.0M558.6 276.3h1.0M581.7 226.1h1.0M545.9 288.4h1.0M544.3 285.3h1.0M544.2 287.2h1.0M508.9 247.0h1.0M558.5 275.4h1.0M561.8 278.8h1.0M553.7 283.8h1.0M577.1 272.8h1.0M568.7 269.5h1.0M533.5 245.6h1.0M563.0 271.6h1.0M544.7 283.9h1.0M553.5 281.2h1.0M556.8 278.4h1.0M542.4 281.9h1.0M565.9 270.0h1.0M586.9 221.8h1.0M557.2 278.0h1.0M512.0 258.8h1.0M575.5 228.8h1.0M575.4 265.2h1.0M548.6 289.3h1.0M542.7 282.3h1.0M554.9 213.7h1.0M567.6 196.1h1.0M562.0 208.8h1.0M552.9 214.6h1.0M569.9 196.6h1.0M540.9 216.8h1.0M534.0 216.8h1.0M569.9 214.4h1.0M559.9 216.0h1.0M570.2 220.9h1.0M563.7 187.2h1.0M562.6 197.2h1.0M556.7 203.3h1.0M554.6 194.0h1.0M563.5 208.4h1.0M549.1 218.2h1.0M535.8 209.8h1.0M546.8 162.0h1.0M551.7 216.2h1.0M539.3 208.5h1.0M541.9 166.0h1.0M535.2 192.5h1.0M574.5 270.6h1.0M575.7 266.2h1.0M481.7 226.3h1.0M599.2 249.1h1.0M568.8 269.0h1.0M479.6 242.1h1.0M517.3 257.1h1.0M507.2 260.9h1.0M490.4 236.3h1.0M529.5 275.3h1.0M564.3 275.9h1.0M597.2 241.6h1.0M601.3 237.6h1.0M496.2 240.9h1.0M613.0 229.4h1.0M505.9 249.0h1.0M601.5 236.2h1.0M501.1 242.4h1.0M507.9 256.3h1.0M485.4 241.6h1.0M531.1 275.1h1.0M565.6 277.4h1.0M562.1 278.6h1.0M625.9 232.2h1.0M492.1 241.9h1.0M526.5 272.8h1.0M592.9 248.8h1.0M582.0 266.4h1.0M518.4 258.9h1.0M582.6 266.1h1.0M588.6 252.1h1.0M600.9 243.5h1.0M595.4 244.1h1.0M575.5 264.8h1.0M522.3 270.2h1.0M594.5 253.8h1.0M582.3 261.2h1.0M567.4 273.9h1.0M596.0 241.3h1.0M601.9 245.2h1.0M590.8 255.3h1.0M590.9 256.2h1.0M586.9 261.7h1.0M621.1 249.8h1.0M605.3 234.5h1.0M588.3 266.3h1.0M596.9 244.3h1.0M588.6 246.2h1.0M612.1 222.7h1.0M593.4 249.8h1.0M619.6 233.3h1.0M607.4 244.3h1.0M614.6 226.1h1.0M615.1 222.7h1.0M616.2 227.9h1.0M594.0 250.4h1.0M623.3 222.7h1.0M588.4 249.6h1.0M584.2 271.6h1.0M599.0 264.7h1.0M610.8 236.8h1.0M599.5 230.5h1.0M598.3 258.4h1.0M595.3 269.5h1.0M613.8 225.9h1.0M600.8 230.6h1.0M597.2 260.5h1.0M584.6 269.1h1.0M602.3 252.0h1.0M602.0 265.2h1.0M584.3 253.6h1.0M600.8 232.1h1.0M619.1 238.4h1.0M602.6 231.1h1.0M588.9 244.4h1.0M598.8 258.0h1.0M603.1 236.2h1.0M618.7 222.7h1.0M584.7 269.5h1.0M597.5 266.9h1.0M602.2 246.3h1.0M605.4 248.8h1.0M593.3 248.0h1.0M585.6 273.1h1.0M614.8 251.4h1.0M590.0 263.6h1.0M607.6 253.0h1.0M611.3 228.6h1.0M600.3 226.2h1.0M615.2 254.2h1.0M592.9 267.1h1.0M613.4 252.2h1.0M602.4 263.2h1.0M620.4 222.7h1.0M611.4 225.3h1.0M598.6 260.8h1.0M584.0 262.2h1.0M477.3 273.8h1.0M626.7 268.6h1.0M644.8 267.0h1.0M536.6 191.4h1.0M567.8 152.3h1.0M565.9 174.7h1.0M480.0 226.3h1.0M484.6 233.6h1.0" stroke="#d3d3d3" stroke-width="3.4" stroke-linecap="round" fill="none"/>
<path d="M526.5 17.55V299.9M571.6 17.55V299.9" stroke="#5cb85c" stroke-width="1.8" stroke-dasharray="8.9 8.55" stroke-dashoffset="6.2" fill="none"/>
<path d="M414.5 221.6H683.6" stroke="#5cb85c" stroke-width="1.8" stroke-dasharray="8.9 8.55" stroke-dashoffset="0.7" fill="none"/>
<path d="M591.5 165.5h1.0M613.5 216.5h1.0M603.6 203.1h1.0M595.2 169.2h1.0M612.1 218.5h1.0M587.8 194.3h1.0M602.5 119.8h1.0M595.6 200.5h1.0M590.6 216.3h1.0M582.7 203.7h1.0M582.1 220.3h1.0M605.1 176.6h1.0M585.2 200.5h1.0M578.8 203.0h1.0M584.0 215.6h1.0M624.2 175.9h1.0M590.8 220.9h1.0M587.8 185.8h1.0M610.7 213.8h1.0M593.7 219.2h1.0M626.6 214.2h1.0M596.9 191.0h1.0M586.9 170.0h1.0M596.0 188.0h1.0M574.7 205.1h1.0M587.0 206.0h1.0M595.2 195.0h1.0M604.8 212.1h1.0M595.1 213.1h1.0M606.4 194.9h1.0M587.7 190.0h1.0M587.2 202.9h1.0M577.9 210.5h1.0M646.2 201.0h1.0M618.0 145.0h1.0M598.6 119.2h1.0M596.2 189.8h1.0M583.4 163.3h1.0M581.4 176.8h1.0M601.2 221.0h1.0M590.9 196.1h1.0M595.1 206.5h1.0M598.8 209.0h1.0M579.1 169.7h1.0M610.2 207.1h1.0M588.8 220.0h1.0M622.7 207.6h1.0M585.3 215.5h1.0M616.7 218.4h1.0M613.9 181.7h1.0M592.9 206.3h1.0M587.9 157.1h1.0M601.1 197.6h1.0M596.2 138.9h1.0M594.0 213.9h1.0M584.7 213.3h1.0M576.4 213.6h1.0M580.9 204.2h1.0M581.9 161.5h1.0M590.3 194.2h1.0M593.5 218.7h1.0M604.8 196.6h1.0M596.7 220.9h1.0M588.4 206.7h1.0M591.0 213.3h1.0M626.6 139.2h1.0M607.0 187.4h1.0M598.6 165.5h1.0M627.9 201.7h1.0M601.2 174.4h1.0M615.4 210.3h1.0M600.0 192.9h1.0M612.8 196.9h1.0M609.8 196.9h1.0M577.0 203.5h1.0M618.1 216.3h1.0M582.8 190.7h1.0M591.1 205.0h1.0M634.6 211.2h1.0M586.5 201.3h1.0M600.8 180.8h1.0M610.2 199.1h1.0M583.1 206.4h1.0M578.6 176.5h1.0M604.8 219.0h1.0M576.6 188.4h1.0M596.9 210.3h1.0M605.7 202.0h1.0M600.9 200.7h1.0M592.3 133.4h1.0M584.4 221.1h1.0M592.2 181.2h1.0M594.3 189.4h1.0M603.9 196.8h1.0M601.2 210.6h1.0M608.3 200.7h1.0M594.4 138.1h1.0M596.9 220.1h1.0M596.1 151.4h1.0M587.9 170.0h1.0M587.6 184.5h1.0M579.4 183.3h1.0M581.0 162.9h1.0M579.7 207.4h1.0M597.6 191.7h1.0M577.3 216.4h1.0M596.5 194.1h1.0M579.1 126.4h1.0M582.8 203.9h1.0M593.8 188.2h1.0M592.9 218.4h1.0M605.3 166.6h1.0M598.3 185.8h1.0M586.4 192.7h1.0M590.9 215.7h1.0M606.2 200.6h1.0M594.3 220.2h1.0M611.3 137.6h1.0M584.0 210.5h1.0M584.5 212.0h1.0M580.1 200.0h1.0M610.1 184.9h1.0M625.8 217.7h1.0M587.8 219.2h1.0M586.3 196.4h1.0M580.8 191.0h1.0M613.8 148.7h1.0M589.9 195.2h1.0M597.6 179.7h1.0M595.4 209.3h1.0M578.4 207.1h1.0M576.7 187.0h1.0M623.4 186.1h1.0M616.1 170.4h1.0M612.0 220.0h1.0M591.3 213.4h1.0M584.0 184.9h1.0M594.1 201.0h1.0M582.9 220.1h1.0M598.8 221.0h1.0M591.6 215.2h1.0M588.2 215.3h1.0M598.4 164.3h1.0M590.3 197.7h1.0M582.5 178.6h1.0M584.1 212.8h1.0M592.6 215.0h1.0M589.6 203.2h1.0M607.0 165.0h1.0M597.2 130.4h1.0M599.0 211.1h1.0M579.8 159.5h1.0M590.7 193.5h1.0M579.7 206.8h1.0M586.6 207.2h1.0M602.5 183.5h1.0M585.8 183.6h1.0M588.7 168.2h1.0M596.8 160.7h1.0M588.3 216.3h1.0M614.1 213.1h1.0M587.1 184.7h1.0M590.7 214.5h1.0M620.1 182.4h1.0M596.3 218.1h1.0M591.7 151.5h1.0M633.9 172.1h1.0M598.3 199.9h1.0M620.1 209.7h1.0M604.3 197.9h1.0M605.4 219.2h1.0M621.8 213.4h1.0M602.9 168.6h1.0M589.4 207.1h1.0M592.8 166.1h1.0M594.1 195.2h1.0M617.9 217.7h1.0M612.7 220.8h1.0M598.5 200.2h1.0M595.4 213.4h1.0M598.2 209.3h1.0M636.1 198.4h1.0M599.5 213.1h1.0M583.3 208.1h1.0M580.8 196.1h1.0M583.1 216.3h1.0M636.7 218.0h1.0M580.7 161.7h1.0M589.2 195.3h1.0M596.4 152.2h1.0M584.4 212.6h1.0M596.7 214.3h1.0M573.4 213.1h1.0M602.7 217.4h1.0M599.9 216.1h1.0M614.9 197.3h1.0M638.1 197.3h1.0M576.4 206.6h1.0M640.1 207.6h1.0M614.7 168.6h1.0M585.9 176.2h1.0M618.9 183.4h1.0M600.4 157.4h1.0M583.0 191.5h1.0M588.7 202.2h1.0M580.0 190.2h1.0M608.3 170.7h1.0M591.4 118.4h1.0M623.3 203.9h1.0M591.9 202.3h1.0M590.9 217.8h1.0M582.9 213.0h1.0M634.3 218.1h1.0M590.9 208.5h1.0M620.9 205.8h1.0M624.4 170.6h1.0M601.8 202.8h1.0M597.4 210.0h1.0M590.3 214.0h1.0M595.4 217.6h1.0M604.7 148.8h1.0M609.8 172.7h1.0M621.1 217.1h1.0M611.1 201.6h1.0M596.4 215.7h1.0M584.1 197.2h1.0M585.7 185.7h1.0M591.3 207.6h1.0M608.4 220.2h1.0M614.3 216.0h1.0M587.0 215.4h1.0M589.4 121.4h1.0M576.6 159.2h1.0M576.4 190.7h1.0M604.1 214.0h1.0M584.5 214.4h1.0M584.2 183.2h1.0M582.2 179.4h1.0M595.1 218.7h1.0M578.2 174.1h1.0M650.6 186.1h1.0M592.4 201.3h1.0M584.4 70.5h1.0M636.4 77.8h1.0M648.7 200.8h1.0M641.0 208.6h1.0" stroke="#e8541f" stroke-width="3.4" stroke-linecap="round" fill="none"/>
<path d="M502.3 164.3h1.0M486.9 208.6h1.0M487.7 211.2h1.0M512.0 213.3h1.0M516.6 218.5h1.0" stroke="#5a7fb5" stroke-width="3.4" stroke-linecap="round" fill="none"/>
<path d="M414.5 17.55H683.6" stroke="#333" stroke-width="1" fill="none"/>
<path d="M683.6 17.55V299.9" stroke="#111" stroke-width="1.3" fill="none"/>
<path d="M414.5 17.05V299.9H684.2" stroke="#000" stroke-width="1.7" fill="none"/>
<path d="M414.5 289.4h3M683.6 289.4h-3M414.5 237.3h3M683.6 237.3h-3M414.5 185.2h3M683.6 185.2h-3M414.5 133.0h3M683.6 133.0h-3M414.5 80.9h3M683.6 80.9h-3M414.5 28.8h3M683.6 28.8h-3M433.5 299.9v-3M472.0 299.9v-3M510.5 299.9v-3M549.0 299.9v-3M587.6 299.9v-3M626.1 299.9v-3M664.6 299.9v-3" stroke="#555" stroke-width="1" fill="none"/>
<text transform="translate(411.2 294.3) scale(0.88 1)" font-size="12" font-weight="bold" text-anchor="end" font-family="Liberation Sans, sans-serif">0</text>
<text transform="translate(411.2 242.2) scale(0.88 1)" font-size="12" font-weight="bold" text-anchor="end" font-family="Liberation Sans, sans-serif">1</text>
<text transform="translate(411.2 190.1) scale(0.88 1)" font-size="12" font-weight="bold" text-anchor="end" font-family="Liberation Sans, sans-serif">2</text>
<text transform="translate(411.2 137.9) scale(0.88 1)" font-size="12" font-weight="bold" text-anchor="end" font-family="Liberation Sans, sans-serif">3</text>
<text transform="translate(411.2 85.8) scale(0.88 1)" font-size="12" font-weight="bold" text-anchor="end" font-family="Liberation Sans, sans-serif">4</text>
<text transform="translate(411.2 33.7) scale(0.88 1)" font-size="12" font-weight="bold" text-anchor="end" font-family="Liberation Sans, sans-serif">5</text>
<text transform="translate(433.7 312.6) scale(0.88 1)" font-size="12" font-weight="bold" text-anchor="middle" font-family="Liberation Sans, sans-serif">-3</text>
<text transform="translate(472.2 312.6) scale(0.88 1)" font-size="12" font-weight="bold" text-anchor="middle" font-family="Liberation Sans, sans-serif">-2</text>
<text transform="translate(510.7 312.6) scale(0.88 1)" font-size="12" font-weight="bold" text-anchor="middle" font-family="Liberation Sans, sans-serif">-1</text>
<text transform="translate(549.0 312.6) scale(0.88 1)" font-size="12" font-weight="bold" text-anchor="middle" font-family="Liberation Sans, sans-serif">0</text>
<text transform="translate(587.6 312.6) scale(0.88 1)" font-size="12" font-weight="bold" text-anchor="middle" font-family="Liberation Sans, sans-serif">1</text>
<text transform="translate(626.1 312.6) scale(0.88 1)" font-size="12" font-weight="bold" text-anchor="middle" font-family="Liberation Sans, sans-serif">2</text>
<text transform="translate(664.6 312.6) scale(0.88 1)" font-size="12" font-weight="bold" text-anchor="middle" font-family="Liberation Sans, sans-serif">3</text>
<text x="550" y="323.6" font-size="11.6" font-weight="bold" text-anchor="middle" font-family="Liberation Sans, sans-serif">log2(Fold Change)</text>
<text transform="translate(396.5 158) rotate(-90)" font-size="11.6" font-weight="bold" text-anchor="middle" font-family="Liberation Sans, sans-serif">-log10(P Value)</text>
<text transform="translate(380.4 352.0) scale(0.88 1)" font-size="23.5" font-weight="bold" font-family="Liberation Sans, sans-serif">C</text>
<text x="551.3" y="350" font-size="11.5" font-weight="bold" text-anchor="middle" font-family="Liberation Sans, sans-serif">Scatter plot</text>
<path d="M469 562.5h1.3v1.3h-1.3zM472.5 555.5h1.3v1.3h-1.3zM458.5 563.5h1.3v1.3h-1.3zM465.5 561.5h1.3v1.3h-1.3zM499.5 531.5h1.3v1.3h-1.3zM486 545.5h1.3v1.3h-1.3zM459 563.5h1.3v1.3h-1.3zM453 559.5h1.3v1.3h-1.3zM469 564h1.3v1.3h-1.3zM495.5 531.5h1.3v1.3h-1.3zM466.5 556.5h1.3v1.3h-1.3zM481.5 547h1.3v1.3h-1.3zM445 575.5h1.3v1.3h-1.3zM487 547h1.3v1.3h-1.3zM461.5 559.5h1.3v1.3h-1.3zM456.5 573.5h1.3v1.3h-1.3zM451 566h1.3v1.3h-1.3zM454 568h1.3v1.3h-1.3zM451 563.5h1.3v1.3h-1.3zM445.5 583h1.3v1.3h-1.3zM479.5 543h1.3v1.3h-1.3zM463.5 549.5h1.3v1.3h-1.3zM478 547.5h1.3v1.3h-1.3zM462.5 567.5h1.3v1.3h-1.3zM469.5 556h1.3v1.3h-1.3zM465 556.5h1.3v1.3h-1.3zM481 545h1.3v1.3h-1.3zM473.5 547.5h1.3v1.3h-1.3zM465 551.5h1.3v1.3h-1.3zM457.5 570.5h1.3v1.3h-1.3zM451.5 580h1.3v1.3h-1.3zM455.5 573h1.3v1.3h-1.3zM459.5 572.5h1.3v1.3h-1.3zM459 569h1.3v1.3h-1.3zM447 576.5h1.3v1.3h-1.3zM492 542.5h1.3v1.3h-1.3zM467.5 556h1.3v1.3h-1.3zM435.5 586h1.3v1.3h-1.3zM453.5 578.5h1.3v1.3h-1.3zM446.5 578.5h1.3v1.3h-1.3zM472 561h1.3v1.3h-1.3zM477 544h1.3v1.3h-1.3zM451 573.5h1.3v1.3h-1.3zM471 550.5h1.3v1.3h-1.3zM455 559h1.3v1.3h-1.3zM478 543h1.3v1.3h-1.3zM483 542h1.3v1.3h-1.3zM467.5 555h1.3v1.3h-1.3zM475.5 552h1.3v1.3h-1.3zM464 560h1.3v1.3h-1.3zM450 577h1.3v1.3h-1.3zM469 556h1.3v1.3h-1.3zM462 560h1.3v1.3h-1.3zM457.5 564h1.3v1.3h-1.3zM460.5 558.5h1.3v1.3h-1.3zM465.5 566h1.3v1.3h-1.3zM451.5 575h1.3v1.3h-1.3zM457 567h1.3v1.3h-1.3zM479 544h1.3v1.3h-1.3zM458.5 561h1.3v1.3h-1.3zM482.5 540.5h1.3v1.3h-1.3zM447.5 574.5h1.3v1.3h-1.3zM448.5 580.5h1.3v1.3h-1.3zM469.5 562h1.3v1.3h-1.3zM478.5 553h1.3v1.3h-1.3zM452 566h1.3v1.3h-1.3zM468 547h1.3v1.3h-1.3zM479.5 550h1.3v1.3h-1.3zM483 550h1.3v1.3h-1.3zM464 562.5h1.3v1.3h-1.3zM462.5 560h1.3v1.3h-1.3zM443 583.5h1.3v1.3h-1.3zM465 560.5h1.3v1.3h-1.3zM466 554.5h1.3v1.3h-1.3zM483 540.5h1.3v1.3h-1.3zM448 578h1.3v1.3h-1.3zM457 575h1.3v1.3h-1.3zM450.5 573.5h1.3v1.3h-1.3zM473.5 545.5h1.3v1.3h-1.3zM453.5 578h1.3v1.3h-1.3zM489 529.5h1.3v1.3h-1.3zM472.5 551h1.3v1.3h-1.3zM440 572h1.3v1.3h-1.3zM465.5 563h1.3v1.3h-1.3zM478.5 551h1.3v1.3h-1.3zM476 557h1.3v1.3h-1.3zM460 562h1.3v1.3h-1.3zM452.5 570h1.3v1.3h-1.3zM476.5 549.5h1.3v1.3h-1.3zM463.5 560h1.3v1.3h-1.3zM474 548h1.3v1.3h-1.3zM472 557h1.3v1.3h-1.3zM454.5 563h1.3v1.3h-1.3zM488.5 545.5h1.3v1.3h-1.3zM458.5 568h1.3v1.3h-1.3zM469 553.5h1.3v1.3h-1.3zM456 569h1.3v1.3h-1.3zM460.5 562.5h1.3v1.3h-1.3zM465 567.5h1.3v1.3h-1.3zM456 569.5h1.3v1.3h-1.3zM467.5 557h1.3v1.3h-1.3zM486.5 547h1.3v1.3h-1.3zM488.5 534.5h1.3v1.3h-1.3zM487.5 544.5h1.3v1.3h-1.3zM464.5 565h1.3v1.3h-1.3zM488 544.5h1.3v1.3h-1.3zM469.5 554h1.3v1.3h-1.3zM491 538.5h1.3v1.3h-1.3zM444.5 574.5h1.3v1.3h-1.3zM482.5 538.5h1.3v1.3h-1.3zM457 569h1.3v1.3h-1.3zM478.5 543.5h1.3v1.3h-1.3zM452 560.5h1.3v1.3h-1.3zM481.5 552.5h1.3v1.3h-1.3zM464.5 568h1.3v1.3h-1.3zM432 579h1.3v1.3h-1.3zM454 575.5h1.3v1.3h-1.3zM455 557.5h1.3v1.3h-1.3zM461.5 557h1.3v1.3h-1.3zM452 579.5h1.3v1.3h-1.3zM451 566.5h1.3v1.3h-1.3zM461.5 563h1.3v1.3h-1.3zM467 557h1.3v1.3h-1.3zM449.5 568h1.3v1.3h-1.3zM445 581.5h1.3v1.3h-1.3zM469.5 557h1.3v1.3h-1.3zM459 564h1.3v1.3h-1.3zM481 552.5h1.3v1.3h-1.3zM457.5 567.5h1.3v1.3h-1.3zM472 551h1.3v1.3h-1.3zM451.5 571.5h1.3v1.3h-1.3zM465.5 559h1.3v1.3h-1.3zM475 558.5h1.3v1.3h-1.3zM454 575h1.3v1.3h-1.3zM467 565.5h1.3v1.3h-1.3zM451 570h1.3v1.3h-1.3zM458.5 559h1.3v1.3h-1.3zM472 551.5h1.3v1.3h-1.3zM510 525.5h1.3v1.3h-1.3zM465.5 560.5h1.3v1.3h-1.3zM471.5 548.5h1.3v1.3h-1.3zM464 557h1.3v1.3h-1.3zM477.5 543h1.3v1.3h-1.3zM467.5 551.5h1.3v1.3h-1.3zM481.5 549.5h1.3v1.3h-1.3zM468 554.5h1.3v1.3h-1.3zM496.5 528h1.3v1.3h-1.3zM486 544.5h1.3v1.3h-1.3zM442.5 584h1.3v1.3h-1.3zM468.5 556.5h1.3v1.3h-1.3zM459.5 553.5h1.3v1.3h-1.3zM448.5 567.5h1.3v1.3h-1.3zM457.5 565.5h1.3v1.3h-1.3zM453.5 569h1.3v1.3h-1.3zM470.5 562.5h1.3v1.3h-1.3zM439 582.5h1.3v1.3h-1.3zM471 547h1.3v1.3h-1.3zM476 551h1.3v1.3h-1.3zM467 553.5h1.3v1.3h-1.3zM454.5 559.5h1.3v1.3h-1.3zM462 570h1.3v1.3h-1.3zM480 545h1.3v1.3h-1.3zM471.5 553.5h1.3v1.3h-1.3zM486 529h1.3v1.3h-1.3zM459 564.5h1.3v1.3h-1.3zM484.5 541.5h1.3v1.3h-1.3zM452.5 564h1.3v1.3h-1.3zM464 564h1.3v1.3h-1.3zM450.5 574h1.3v1.3h-1.3zM463.5 561h1.3v1.3h-1.3zM471.5 550.5h1.3v1.3h-1.3zM484 540h1.3v1.3h-1.3zM468 565h1.3v1.3h-1.3zM465.5 551.5h1.3v1.3h-1.3zM478 549.5h1.3v1.3h-1.3zM461 558.5h1.3v1.3h-1.3zM456 566.5h1.3v1.3h-1.3zM467 553h1.3v1.3h-1.3zM466.5 549.5h1.3v1.3h-1.3zM475.5 550h1.3v1.3h-1.3zM477 550h1.3v1.3h-1.3zM453.5 567h1.3v1.3h-1.3zM470.5 554h1.3v1.3h-1.3zM475.5 539h1.3v1.3h-1.3zM458 566.5h1.3v1.3h-1.3zM471 556.5h1.3v1.3h-1.3zM450 562.5h1.3v1.3h-1.3zM468.5 559.5h1.3v1.3h-1.3zM486 535.5h1.3v1.3h-1.3zM468 559h1.3v1.3h-1.3zM448 570h1.3v1.3h-1.3zM463.5 550.5h1.3v1.3h-1.3zM462.5 552.5h1.3v1.3h-1.3zM480.5 546.5h1.3v1.3h-1.3zM443 575.5h1.3v1.3h-1.3zM447 567.5h1.3v1.3h-1.3zM437 574.5h1.3v1.3h-1.3zM475 540.5h1.3v1.3h-1.3zM430.5 580.5h1.3v1.3h-1.3zM452 570h1.3v1.3h-1.3zM442 577h1.3v1.3h-1.3zM459 572h1.3v1.3h-1.3zM477.5 551.5h1.3v1.3h-1.3zM470 550h1.3v1.3h-1.3zM478.5 549.5h1.3v1.3h-1.3zM439.5 589h1.3v1.3h-1.3zM470 557.5h1.3v1.3h-1.3zM442.5 587.5h1.3v1.3h-1.3zM455.5 565h1.3v1.3h-1.3zM461 567h1.3v1.3h-1.3zM455.5 566h1.3v1.3h-1.3zM468.5 551.5h1.3v1.3h-1.3zM453.5 571h1.3v1.3h-1.3zM487.5 537h1.3v1.3h-1.3zM466.5 547h1.3v1.3h-1.3zM478.5 542.5h1.3v1.3h-1.3zM469 545h1.3v1.3h-1.3zM471.5 543.5h1.3v1.3h-1.3zM460 557h1.3v1.3h-1.3zM489.5 533h1.3v1.3h-1.3zM454 577.5h1.3v1.3h-1.3zM468.5 552h1.3v1.3h-1.3zM467 562.5h1.3v1.3h-1.3zM465 566.5h1.3v1.3h-1.3zM468.5 555.5h1.3v1.3h-1.3zM449.5 565.5h1.3v1.3h-1.3zM474 546.5h1.3v1.3h-1.3zM472.5 547h1.3v1.3h-1.3zM462.5 555.5h1.3v1.3h-1.3zM471.5 547.5h1.3v1.3h-1.3zM453 576h1.3v1.3h-1.3zM442.5 586.5h1.3v1.3h-1.3zM455.5 566.5h1.3v1.3h-1.3zM457 559h1.3v1.3h-1.3zM498.5 527.5h1.3v1.3h-1.3zM463 564.5h1.3v1.3h-1.3zM479.5 547.5h1.3v1.3h-1.3zM494.5 534h1.3v1.3h-1.3zM469 561h1.3v1.3h-1.3zM467.5 546.5h1.3v1.3h-1.3zM460.5 561.5h1.3v1.3h-1.3zM449 571.5h1.3v1.3h-1.3zM451 567.5h1.3v1.3h-1.3zM481 539h1.3v1.3h-1.3zM471 559h1.3v1.3h-1.3zM466.5 566h1.3v1.3h-1.3zM458.5 554.5h1.3v1.3h-1.3zM460.5 571h1.3v1.3h-1.3zM468 564h1.3v1.3h-1.3zM462.5 559.5h1.3v1.3h-1.3zM469 548h1.3v1.3h-1.3zM473.5 545h1.3v1.3h-1.3zM444 583h1.3v1.3h-1.3zM467 556.5h1.3v1.3h-1.3zM485 543.5h1.3v1.3h-1.3zM449.5 572.5h1.3v1.3h-1.3zM462.5 564.5h1.3v1.3h-1.3zM461 552.5h1.3v1.3h-1.3zM475.5 542h1.3v1.3h-1.3zM472.5 552.5h1.3v1.3h-1.3zM461 562.5h1.3v1.3h-1.3zM466 549h1.3v1.3h-1.3zM480 548h1.3v1.3h-1.3zM470 555h1.3v1.3h-1.3zM490.5 536.5h1.3v1.3h-1.3zM444 568h1.3v1.3h-1.3zM455 571.5h1.3v1.3h-1.3zM466 565h1.3v1.3h-1.3zM464.5 565.5h1.3v1.3h-1.3zM474.5 553.5h1.3v1.3h-1.3zM473 559h1.3v1.3h-1.3zM491 540.5h1.3v1.3h-1.3zM483 539h1.3v1.3h-1.3zM452.5 568.5h1.3v1.3h-1.3zM459 566h1.3v1.3h-1.3zM472 549.5h1.3v1.3h-1.3zM465 558h1.3v1.3h-1.3zM473 551.5h1.3v1.3h-1.3zM470 559h1.3v1.3h-1.3zM452.5 564.5h1.3v1.3h-1.3zM487.5 537.5h1.3v1.3h-1.3zM480 545.5h1.3v1.3h-1.3zM443.5 580.5h1.3v1.3h-1.3zM455 567h1.3v1.3h-1.3zM464.5 559.5h1.3v1.3h-1.3zM477 554h1.3v1.3h-1.3zM465 562h1.3v1.3h-1.3zM449.5 581h1.3v1.3h-1.3zM480.5 553.5h1.3v1.3h-1.3zM475 539h1.3v1.3h-1.3zM473 560h1.3v1.3h-1.3zM478 547h1.3v1.3h-1.3zM473 546.5h1.3v1.3h-1.3zM476.5 548.5h1.3v1.3h-1.3zM457 566h1.3v1.3h-1.3zM481 549h1.3v1.3h-1.3zM469 559h1.3v1.3h-1.3zM449.5 577.5h1.3v1.3h-1.3zM462.5 568h1.3v1.3h-1.3zM460 564h1.3v1.3h-1.3zM470.5 548h1.3v1.3h-1.3zM443 568.5h1.3v1.3h-1.3zM472 548.5h1.3v1.3h-1.3zM457.5 555h1.3v1.3h-1.3zM448.5 572h1.3v1.3h-1.3zM479 551.5h1.3v1.3h-1.3zM458.5 573.5h1.3v1.3h-1.3zM446.5 573.5h1.3v1.3h-1.3zM471.5 547h1.3v1.3h-1.3zM454.5 567.5h1.3v1.3h-1.3zM474.5 542h1.3v1.3h-1.3zM477.5 546h1.3v1.3h-1.3zM458 567h1.3v1.3h-1.3zM492 534h1.3v1.3h-1.3zM465 554.5h1.3v1.3h-1.3zM476.5 554.5h1.3v1.3h-1.3zM459 570.5h1.3v1.3h-1.3zM466 550h1.3v1.3h-1.3zM441.5 582h1.3v1.3h-1.3zM476.5 541h1.3v1.3h-1.3zM482 538.5h1.3v1.3h-1.3zM489 534h1.3v1.3h-1.3zM468 548h1.3v1.3h-1.3zM469 555h1.3v1.3h-1.3zM451.5 566h1.3v1.3h-1.3zM460 557.5h1.3v1.3h-1.3zM480.5 538h1.3v1.3h-1.3zM456 572.5h1.3v1.3h-1.3zM458 555h1.3v1.3h-1.3zM466.5 552h1.3v1.3h-1.3zM453.5 559.5h1.3v1.3h-1.3zM471.5 543h1.3v1.3h-1.3zM479 548h1.3v1.3h-1.3zM445 576.5h1.3v1.3h-1.3zM451.5 566.5h1.3v1.3h-1.3zM463 565h1.3v1.3h-1.3zM464 556.5h1.3v1.3h-1.3zM473.5 553h1.3v1.3h-1.3zM476 550h1.3v1.3h-1.3zM469.5 548.5h1.3v1.3h-1.3zM454 563.5h1.3v1.3h-1.3zM455 574.5h1.3v1.3h-1.3zM476.5 553h1.3v1.3h-1.3zM469 554h1.3v1.3h-1.3zM461.5 561.5h1.3v1.3h-1.3zM478.5 550h1.3v1.3h-1.3zM462.5 558h1.3v1.3h-1.3zM450.5 581h1.3v1.3h-1.3zM471 558h1.3v1.3h-1.3zM471 552.5h1.3v1.3h-1.3zM475 549h1.3v1.3h-1.3zM452 570.5h1.3v1.3h-1.3zM452.5 567h1.3v1.3h-1.3zM468 554h1.3v1.3h-1.3zM459 565.5h1.3v1.3h-1.3zM477.5 547h1.3v1.3h-1.3zM464.5 549h1.3v1.3h-1.3zM494 539.5h1.3v1.3h-1.3zM465.5 552h1.3v1.3h-1.3zM491.5 540h1.3v1.3h-1.3zM484 550h1.3v1.3h-1.3zM502 528.5h1.3v1.3h-1.3zM469.5 563h1.3v1.3h-1.3zM465 561.5h1.3v1.3h-1.3zM482.5 542h1.3v1.3h-1.3zM461 568.5h1.3v1.3h-1.3zM459.5 566h1.3v1.3h-1.3zM466.5 554h1.3v1.3h-1.3zM471.5 555.5h1.3v1.3h-1.3zM441.5 573h1.3v1.3h-1.3zM470.5 557.5h1.3v1.3h-1.3zM464.5 559h1.3v1.3h-1.3zM471.5 560.5h1.3v1.3h-1.3zM459.5 558.5h1.3v1.3h-1.3zM478.5 544h1.3v1.3h-1.3zM476 556.5h1.3v1.3h-1.3zM457 556h1.3v1.3h-1.3zM467 558.5h1.3v1.3h-1.3zM477 543.5h1.3v1.3h-1.3zM470.5 543.5h1.3v1.3h-1.3zM484 544h1.3v1.3h-1.3zM465.5 562.5h1.3v1.3h-1.3zM465 555h1.3v1.3h-1.3zM497.5 537.5h1.3v1.3h-1.3zM460.5 555h1.3v1.3h-1.3zM490.5 539h1.3v1.3h-1.3zM472 543.5h1.3v1.3h-1.3zM449.5 580h1.3v1.3h-1.3zM477.5 554h1.3v1.3h-1.3zM450.5 563h1.3v1.3h-1.3zM459.5 571h1.3v1.3h-1.3zM441 580h1.3v1.3h-1.3zM479.5 541.5h1.3v1.3h-1.3zM463.5 554h1.3v1.3h-1.3zM465 557.5h1.3v1.3h-1.3zM473 555.5h1.3v1.3h-1.3zM465.5 552.5h1.3v1.3h-1.3zM464.5 555.5h1.3v1.3h-1.3zM468.5 548h1.3v1.3h-1.3zM470 544h1.3v1.3h-1.3zM469 551h1.3v1.3h-1.3zM466 558.5h1.3v1.3h-1.3zM485 536h1.3v1.3h-1.3zM446 576h1.3v1.3h-1.3zM490.5 544h1.3v1.3h-1.3zM472.5 554.5h1.3v1.3h-1.3zM441 577.5h1.3v1.3h-1.3zM458.5 562.5h1.3v1.3h-1.3zM472.5 549.5h1.3v1.3h-1.3zM451 576h1.3v1.3h-1.3zM476 554h1.3v1.3h-1.3zM495 532h1.3v1.3h-1.3zM483.5 540h1.3v1.3h-1.3zM465 559h1.3v1.3h-1.3zM468 553h1.3v1.3h-1.3zM454.5 572.5h1.3v1.3h-1.3zM468.5 558h1.3v1.3h-1.3zM462.5 564h1.3v1.3h-1.3zM452.5 571.5h1.3v1.3h-1.3zM448.5 577h1.3v1.3h-1.3zM491.5 533.5h1.3v1.3h-1.3zM467.5 558.5h1.3v1.3h-1.3zM446 566.5h1.3v1.3h-1.3zM461.5 565.5h1.3v1.3h-1.3zM488 541.5h1.3v1.3h-1.3zM486 536.5h1.3v1.3h-1.3zM451.5 561h1.3v1.3h-1.3zM468 556h1.3v1.3h-1.3zM481 550h1.3v1.3h-1.3zM457.5 560h1.3v1.3h-1.3zM452.5 576.5h1.3v1.3h-1.3zM466 559h1.3v1.3h-1.3zM458.5 572h1.3v1.3h-1.3zM444 572h1.3v1.3h-1.3zM460.5 560h1.3v1.3h-1.3zM478 546.5h1.3v1.3h-1.3zM473.5 548.5h1.3v1.3h-1.3zM492 534.5h1.3v1.3h-1.3zM453 567h1.3v1.3h-1.3zM474 547h1.3v1.3h-1.3zM467 563h1.3v1.3h-1.3zM447 584h1.3v1.3h-1.3zM450.5 566h1.3v1.3h-1.3zM486.5 532.5h1.3v1.3h-1.3zM478 552h1.3v1.3h-1.3zM476.5 547h1.3v1.3h-1.3zM440 575.5h1.3v1.3h-1.3zM448.5 564h1.3v1.3h-1.3zM442 571h1.3v1.3h-1.3zM453 568h1.3v1.3h-1.3zM463.5 566.5h1.3v1.3h-1.3zM479.5 546.5h1.3v1.3h-1.3zM480 547.5h1.3v1.3h-1.3zM501 523.5h1.3v1.3h-1.3zM456 562.5h1.3v1.3h-1.3zM458 573h1.3v1.3h-1.3zM455.5 557h1.3v1.3h-1.3zM470.5 553h1.3v1.3h-1.3zM454 571h1.3v1.3h-1.3zM476.5 557h1.3v1.3h-1.3zM481 542.5h1.3v1.3h-1.3zM444.5 567.5h1.3v1.3h-1.3zM466 557h1.3v1.3h-1.3zM448.5 569.5h1.3v1.3h-1.3zM465.5 554.5h1.3v1.3h-1.3zM455 560.5h1.3v1.3h-1.3zM471.5 556.5h1.3v1.3h-1.3zM482.5 546h1.3v1.3h-1.3zM474 546h1.3v1.3h-1.3zM456.5 559.5h1.3v1.3h-1.3zM451 575.5h1.3v1.3h-1.3zM452 567h1.3v1.3h-1.3zM462.5 554h1.3v1.3h-1.3zM454 565.5h1.3v1.3h-1.3zM458 567.5h1.3v1.3h-1.3zM437.5 574h1.3v1.3h-1.3zM436.5 574.5h1.3v1.3h-1.3zM438.5 578h1.3v1.3h-1.3zM473.5 551h1.3v1.3h-1.3zM442 588h1.3v1.3h-1.3zM475 551.5h1.3v1.3h-1.3zM451.5 570h1.3v1.3h-1.3zM474.5 554.5h1.3v1.3h-1.3zM464 552.5h1.3v1.3h-1.3zM454.5 570h1.3v1.3h-1.3zM453.5 574h1.3v1.3h-1.3zM451.5 567h1.3v1.3h-1.3zM469.5 547.5h1.3v1.3h-1.3zM466 564h1.3v1.3h-1.3zM471 555h1.3v1.3h-1.3zM462 569.5h1.3v1.3h-1.3zM482.5 548.5h1.3v1.3h-1.3zM434 578.5h1.3v1.3h-1.3zM472.5 555h1.3v1.3h-1.3zM453 569h1.3v1.3h-1.3zM449 563.5h1.3v1.3h-1.3zM458.5 563h1.3v1.3h-1.3zM436.5 583h1.3v1.3h-1.3zM450 581.5h1.3v1.3h-1.3zM480 541h1.3v1.3h-1.3zM483.5 543h1.3v1.3h-1.3zM462.5 563.5h1.3v1.3h-1.3zM470.5 552h1.3v1.3h-1.3zM448 566.5h1.3v1.3h-1.3zM462.5 569h1.3v1.3h-1.3zM453.5 568h1.3v1.3h-1.3zM458.5 558h1.3v1.3h-1.3zM466.5 561h1.3v1.3h-1.3zM475.5 557.5h1.3v1.3h-1.3zM439.5 583h1.3v1.3h-1.3zM456 575h1.3v1.3h-1.3zM460.5 553.5h1.3v1.3h-1.3zM470 560.5h1.3v1.3h-1.3zM491 534h1.3v1.3h-1.3zM477.5 556h1.3v1.3h-1.3zM472 552.5h1.3v1.3h-1.3zM458.5 567.5h1.3v1.3h-1.3zM471.5 549.5h1.3v1.3h-1.3zM472 550.5h1.3v1.3h-1.3zM458 557.5h1.3v1.3h-1.3zM455 572h1.3v1.3h-1.3zM476.5 551h1.3v1.3h-1.3zM468 545.5h1.3v1.3h-1.3zM465.5 567.5h1.3v1.3h-1.3zM455 563h1.3v1.3h-1.3zM503 526.5h1.3v1.3h-1.3zM453.5 562.5h1.3v1.3h-1.3zM449.5 578h1.3v1.3h-1.3zM456 565h1.3v1.3h-1.3zM474.5 557.5h1.3v1.3h-1.3zM460.5 567h1.3v1.3h-1.3zM472.5 560.5h1.3v1.3h-1.3zM462.5 570h1.3v1.3h-1.3zM470 563h1.3v1.3h-1.3zM460.5 558h1.3v1.3h-1.3zM453.5 577.5h1.3v1.3h-1.3zM469 563h1.3v1.3h-1.3zM450 571h1.3v1.3h-1.3zM461 563.5h1.3v1.3h-1.3zM433 578h1.3v1.3h-1.3zM461.5 569.5h1.3v1.3h-1.3zM449 578h1.3v1.3h-1.3zM460 559.5h1.3v1.3h-1.3zM465.5 548.5h1.3v1.3h-1.3zM439 582h1.3v1.3h-1.3zM443.5 572.5h1.3v1.3h-1.3zM459.5 560.5h1.3v1.3h-1.3zM439.5 572h1.3v1.3h-1.3zM481 547h1.3v1.3h-1.3zM453 560h1.3v1.3h-1.3zM465.5 558h1.3v1.3h-1.3zM466.5 555h1.3v1.3h-1.3zM459 559.5h1.3v1.3h-1.3zM470 546h1.3v1.3h-1.3zM456.5 570.5h1.3v1.3h-1.3zM482.5 547.5h1.3v1.3h-1.3zM471 562h1.3v1.3h-1.3zM458 563.5h1.3v1.3h-1.3zM464 559h1.3v1.3h-1.3zM475 553.5h1.3v1.3h-1.3zM460.5 563.5h1.3v1.3h-1.3zM439 580h1.3v1.3h-1.3zM461 554h1.3v1.3h-1.3zM460 560.5h1.3v1.3h-1.3zM467.5 563h1.3v1.3h-1.3zM486.5 541.5h1.3v1.3h-1.3zM447 575h1.3v1.3h-1.3zM455 577h1.3v1.3h-1.3zM474 553h1.3v1.3h-1.3zM449 572.5h1.3v1.3h-1.3zM462.5 551h1.3v1.3h-1.3zM468 564.5h1.3v1.3h-1.3zM441.5 589.5h1.3v1.3h-1.3zM469.5 549h1.3v1.3h-1.3zM443.5 577h1.3v1.3h-1.3zM447 571h1.3v1.3h-1.3zM456 573h1.3v1.3h-1.3zM441 582h1.3v1.3h-1.3zM461 561.5h1.3v1.3h-1.3zM462 559.5h1.3v1.3h-1.3zM448.5 568h1.3v1.3h-1.3zM452.5 569.5h1.3v1.3h-1.3zM469.5 547h1.3v1.3h-1.3zM461 560h1.3v1.3h-1.3zM459 567.5h1.3v1.3h-1.3zM453.5 566h1.3v1.3h-1.3zM467 559h1.3v1.3h-1.3zM461.5 556h1.3v1.3h-1.3zM462 563.5h1.3v1.3h-1.3zM445.5 578.5h1.3v1.3h-1.3zM454.5 561.5h1.3v1.3h-1.3zM462.5 557.5h1.3v1.3h-1.3zM480.5 547h1.3v1.3h-1.3zM473.5 546h1.3v1.3h-1.3zM469.5 550h1.3v1.3h-1.3zM468 561.5h1.3v1.3h-1.3zM457 562.5h1.3v1.3h-1.3zM456 561.5h1.3v1.3h-1.3zM446.5 565.5h1.3v1.3h-1.3zM467.5 565.5h1.3v1.3h-1.3zM463 561.5h1.3v1.3h-1.3zM482.5 532h1.3v1.3h-1.3zM471 553.5h1.3v1.3h-1.3zM458.5 565h1.3v1.3h-1.3zM477 553.5h1.3v1.3h-1.3zM462 570.5h1.3v1.3h-1.3zM474.5 545h1.3v1.3h-1.3zM499 521h1.3v1.3h-1.3zM446.5 571.5h1.3v1.3h-1.3zM465.5 564h1.3v1.3h-1.3zM466 555.5h1.3v1.3h-1.3zM468 546.5h1.3v1.3h-1.3zM448.5 570.5h1.3v1.3h-1.3zM462 551.5h1.3v1.3h-1.3zM477.5 549.5h1.3v1.3h-1.3zM448.5 574.5h1.3v1.3h-1.3zM438.5 576h1.3v1.3h-1.3zM480 547h1.3v1.3h-1.3zM477 551.5h1.3v1.3h-1.3zM479 547.5h1.3v1.3h-1.3zM447.5 569.5h1.3v1.3h-1.3zM467.5 558h1.3v1.3h-1.3zM468 553.5h1.3v1.3h-1.3zM464.5 564.5h1.3v1.3h-1.3zM464.5 562.5h1.3v1.3h-1.3zM476 547h1.3v1.3h-1.3zM456.5 564.5h1.3v1.3h-1.3zM458.5 569.5h1.3v1.3h-1.3zM459.5 567h1.3v1.3h-1.3zM453 563h1.3v1.3h-1.3zM466.5 560h1.3v1.3h-1.3zM458 566h1.3v1.3h-1.3zM464.5 554h1.3v1.3h-1.3zM459.5 565h1.3v1.3h-1.3zM485 549h1.3v1.3h-1.3zM450.5 562h1.3v1.3h-1.3zM464 561h1.3v1.3h-1.3zM461.5 560.5h1.3v1.3h-1.3zM454.5 566h1.3v1.3h-1.3zM468 562.5h1.3v1.3h-1.3zM447.5 581h1.3v1.3h-1.3zM460 567h1.3v1.3h-1.3zM464 555h1.3v1.3h-1.3zM468 557.5h1.3v1.3h-1.3zM465.5 555h1.3v1.3h-1.3zM499 536h1.3v1.3h-1.3zM475.5 555h1.3v1.3h-1.3zM465.5 565h1.3v1.3h-1.3zM460.5 557.5h1.3v1.3h-1.3zM469.5 555.5h1.3v1.3h-1.3zM460.5 564.5h1.3v1.3h-1.3zM449.5 574h1.3v1.3h-1.3zM467 551h1.3v1.3h-1.3zM447 573h1.3v1.3h-1.3zM472.5 553.5h1.3v1.3h-1.3zM474 556.5h1.3v1.3h-1.3zM453 566.5h1.3v1.3h-1.3zM496 534h1.3v1.3h-1.3zM469 548.5h1.3v1.3h-1.3zM456.5 562h1.3v1.3h-1.3zM459.5 568.5h1.3v1.3h-1.3zM454 570h1.3v1.3h-1.3zM461 552h1.3v1.3h-1.3zM462 557.5h1.3v1.3h-1.3zM441 574h1.3v1.3h-1.3zM451.5 574.5h1.3v1.3h-1.3zM451 565h1.3v1.3h-1.3zM472.5 553h1.3v1.3h-1.3zM474.5 547h1.3v1.3h-1.3zM462 563h1.3v1.3h-1.3zM469.5 552.5h1.3v1.3h-1.3zM460.5 559.5h1.3v1.3h-1.3zM466 556.5h1.3v1.3h-1.3zM463 557.5h1.3v1.3h-1.3zM447.5 582h1.3v1.3h-1.3zM454.5 565h1.3v1.3h-1.3zM473.5 559.5h1.3v1.3h-1.3zM464 568.5h1.3v1.3h-1.3zM465.5 566.5h1.3v1.3h-1.3zM479 541.5h1.3v1.3h-1.3zM445 572.5h1.3v1.3h-1.3zM450 574.5h1.3v1.3h-1.3zM470 554.5h1.3v1.3h-1.3zM461.5 555h1.3v1.3h-1.3zM448.5 580h1.3v1.3h-1.3zM469 559.5h1.3v1.3h-1.3zM474.5 548.5h1.3v1.3h-1.3zM490 533h1.3v1.3h-1.3zM468 551h1.3v1.3h-1.3zM447 570h1.3v1.3h-1.3zM456.5 566.5h1.3v1.3h-1.3zM467 562h1.3v1.3h-1.3zM477 547.5h1.3v1.3h-1.3zM452 578h1.3v1.3h-1.3zM480 553.5h1.3v1.3h-1.3zM448 567.5h1.3v1.3h-1.3zM475.5 557h1.3v1.3h-1.3zM449 565.5h1.3v1.3h-1.3zM463.5 560.5h1.3v1.3h-1.3zM460.5 565h1.3v1.3h-1.3zM442.5 569.5h1.3v1.3h-1.3zM475 558h1.3v1.3h-1.3zM456.5 563.5h1.3v1.3h-1.3zM457.5 568.5h1.3v1.3h-1.3zM487 544h1.3v1.3h-1.3zM460 569h1.3v1.3h-1.3zM455 574h1.3v1.3h-1.3zM463.5 559.5h1.3v1.3h-1.3zM452 565h1.3v1.3h-1.3zM491.5 532h1.3v1.3h-1.3zM465 560h1.3v1.3h-1.3zM471.5 542.5h1.3v1.3h-1.3zM484 540.5h1.3v1.3h-1.3zM457 568h1.3v1.3h-1.3zM475.5 545h1.3v1.3h-1.3zM464 556h1.3v1.3h-1.3zM478.5 546h1.3v1.3h-1.3zM461.5 558h1.3v1.3h-1.3zM452.5 568h1.3v1.3h-1.3zM472.5 546h1.3v1.3h-1.3zM472 555h1.3v1.3h-1.3zM465.5 562h1.3v1.3h-1.3zM466.5 552.5h1.3v1.3h-1.3zM467.5 559h1.3v1.3h-1.3zM455.5 567h1.3v1.3h-1.3zM483.5 531.5h1.3v1.3h-1.3zM463.5 554.5h1.3v1.3h-1.3zM446 579.5h1.3v1.3h-1.3zM451.5 564.5h1.3v1.3h-1.3zM462 558.5h1.3v1.3h-1.3zM464 565h1.3v1.3h-1.3zM454.5 563.5h1.3v1.3h-1.3zM443.5 569h1.3v1.3h-1.3zM459 556h1.3v1.3h-1.3zM456.5 574.5h1.3v1.3h-1.3zM451 567h1.3v1.3h-1.3zM469 544.5h1.3v1.3h-1.3zM468 552.5h1.3v1.3h-1.3zM443 569.5h1.3v1.3h-1.3zM462.5 569.5h1.3v1.3h-1.3zM474 550.5h1.3v1.3h-1.3zM478 543.5h1.3v1.3h-1.3zM445.5 579.5h1.3v1.3h-1.3zM457 565h1.3v1.3h-1.3zM461.5 555.5h1.3v1.3h-1.3zM465 553h1.3v1.3h-1.3zM475.5 555.5h1.3v1.3h-1.3zM449 582h1.3v1.3h-1.3zM486 543.5h1.3v1.3h-1.3zM450 575.5h1.3v1.3h-1.3zM466.5 561.5h1.3v1.3h-1.3zM464.5 548.5h1.3v1.3h-1.3zM479 546.5h1.3v1.3h-1.3zM475.5 549.5h1.3v1.3h-1.3zM472.5 547.5h1.3v1.3h-1.3zM484 548h1.3v1.3h-1.3zM463 563.5h1.3v1.3h-1.3zM471 549h1.3v1.3h-1.3zM485.5 543h1.3v1.3h-1.3zM449.5 566h1.3v1.3h-1.3zM447 579h1.3v1.3h-1.3zM477.5 538.5h1.3v1.3h-1.3zM476 541.5h1.3v1.3h-1.3zM467 552h1.3v1.3h-1.3zM478 548h1.3v1.3h-1.3zM452.5 563.5h1.3v1.3h-1.3zM456 559.5h1.3v1.3h-1.3zM465 559.5h1.3v1.3h-1.3zM463 567h1.3v1.3h-1.3zM469 558h1.3v1.3h-1.3zM504.5 523h1.3v1.3h-1.3zM473 549h1.3v1.3h-1.3zM472 546.5h1.3v1.3h-1.3zM467.5 553.5h1.3v1.3h-1.3zM494 538h1.3v1.3h-1.3zM487 537h1.3v1.3h-1.3zM449.5 577h1.3v1.3h-1.3zM457 561h1.3v1.3h-1.3zM470 545h1.3v1.3h-1.3zM443.5 573h1.3v1.3h-1.3zM477 546.5h1.3v1.3h-1.3zM443 571h1.3v1.3h-1.3zM462 567h1.3v1.3h-1.3zM454 558.5h1.3v1.3h-1.3zM450 562h1.3v1.3h-1.3zM468.5 559h1.3v1.3h-1.3zM457.5 567h1.3v1.3h-1.3zM459 561.5h1.3v1.3h-1.3zM473.5 554h1.3v1.3h-1.3zM455.5 572h1.3v1.3h-1.3zM455.5 564h1.3v1.3h-1.3zM458 565h1.3v1.3h-1.3zM464 551h1.3v1.3h-1.3zM466 553h1.3v1.3h-1.3zM456 557.5h1.3v1.3h-1.3zM482 550h1.3v1.3h-1.3zM468.5 558.5h1.3v1.3h-1.3zM487.5 534.5h1.3v1.3h-1.3zM470.5 548.5h1.3v1.3h-1.3zM458 562.5h1.3v1.3h-1.3zM450 572h1.3v1.3h-1.3zM461 565.5h1.3v1.3h-1.3zM474.5 558.5h1.3v1.3h-1.3zM481.5 550h1.3v1.3h-1.3zM480.5 544.5h1.3v1.3h-1.3zM471.5 551h1.3v1.3h-1.3zM457.5 565h1.3v1.3h-1.3zM461.5 560h1.3v1.3h-1.3zM471 554h1.3v1.3h-1.3zM451.5 575.5h1.3v1.3h-1.3zM453 569.5h1.3v1.3h-1.3zM466 557.5h1.3v1.3h-1.3zM442 573h1.3v1.3h-1.3zM446 580.5h1.3v1.3h-1.3zM463 555h1.3v1.3h-1.3zM464 559.5h1.3v1.3h-1.3zM453 564h1.3v1.3h-1.3zM445.5 566.5h1.3v1.3h-1.3zM462.5 568.5h1.3v1.3h-1.3zM468 561h1.3v1.3h-1.3zM477.5 543.5h1.3v1.3h-1.3zM461.5 570.5h1.3v1.3h-1.3zM481 542h1.3v1.3h-1.3zM487.5 539.5h1.3v1.3h-1.3zM460 568.5h1.3v1.3h-1.3zM480 546.5h1.3v1.3h-1.3zM448.5 570h1.3v1.3h-1.3zM453 573.5h1.3v1.3h-1.3zM491 528h1.3v1.3h-1.3zM458 559h1.3v1.3h-1.3zM489 537h1.3v1.3h-1.3zM446 574h1.3v1.3h-1.3zM454.5 566.5h1.3v1.3h-1.3zM487 544.5h1.3v1.3h-1.3zM467 549.5h1.3v1.3h-1.3zM466.5 563h1.3v1.3h-1.3zM452.5 565h1.3v1.3h-1.3zM496.5 529h1.3v1.3h-1.3zM449.5 575.5h1.3v1.3h-1.3zM439 581.5h1.3v1.3h-1.3zM481 540.5h1.3v1.3h-1.3zM452 561.5h1.3v1.3h-1.3zM461 559h1.3v1.3h-1.3zM452 574.5h1.3v1.3h-1.3zM460.5 559h1.3v1.3h-1.3zM447 569.5h1.3v1.3h-1.3zM450.5 572.5h1.3v1.3h-1.3zM447 581h1.3v1.3h-1.3zM458.5 569h1.3v1.3h-1.3zM486.5 535.5h1.3v1.3h-1.3zM460.5 552.5h1.3v1.3h-1.3zM491 530.5h1.3v1.3h-1.3zM460 572h1.3v1.3h-1.3zM470 553h1.3v1.3h-1.3zM451.5 579h1.3v1.3h-1.3zM476 543h1.3v1.3h-1.3zM446.5 571h1.3v1.3h-1.3zM460 569.5h1.3v1.3h-1.3zM483.5 537h1.3v1.3h-1.3zM445.5 569.5h1.3v1.3h-1.3zM464.5 555h1.3v1.3h-1.3zM481 537h1.3v1.3h-1.3zM451.5 563h1.3v1.3h-1.3zM470.5 558.5h1.3v1.3h-1.3zM463 569.5h1.3v1.3h-1.3zM447 578.5h1.3v1.3h-1.3zM462 569h1.3v1.3h-1.3zM444 570.5h1.3v1.3h-1.3zM456.5 565h1.3v1.3h-1.3zM467 551.5h1.3v1.3h-1.3zM463.5 557.5h1.3v1.3h-1.3zM451 564.5h1.3v1.3h-1.3zM463.5 563h1.3v1.3h-1.3zM448 577.5h1.3v1.3h-1.3zM482 544h1.3v1.3h-1.3zM478.5 552h1.3v1.3h-1.3zM471.5 546.5h1.3v1.3h-1.3zM458.5 566h1.3v1.3h-1.3zM465 563.5h1.3v1.3h-1.3zM462 561h1.3v1.3h-1.3zM466 551h1.3v1.3h-1.3zM452 573h1.3v1.3h-1.3zM469.5 548h1.3v1.3h-1.3zM470 554h1.3v1.3h-1.3zM436 578h1.3v1.3h-1.3zM454.5 568h1.3v1.3h-1.3zM462 559h1.3v1.3h-1.3zM457 569.5h1.3v1.3h-1.3zM483 541.5h1.3v1.3h-1.3zM436.5 581.5h1.3v1.3h-1.3zM450 581h1.3v1.3h-1.3zM452 573.5h1.3v1.3h-1.3zM447 578h1.3v1.3h-1.3zM452 563.5h1.3v1.3h-1.3zM445.5 576.5h1.3v1.3h-1.3zM479.5 542.5h1.3v1.3h-1.3zM478.5 547h1.3v1.3h-1.3zM487.5 532.5h1.3v1.3h-1.3zM463 560h1.3v1.3h-1.3zM485.5 536h1.3v1.3h-1.3zM471 549.5h1.3v1.3h-1.3zM492.5 540.5h1.3v1.3h-1.3zM460 561.5h1.3v1.3h-1.3zM435.5 585.5h1.3v1.3h-1.3zM453 579h1.3v1.3h-1.3zM470 561h1.3v1.3h-1.3zM467.5 550h1.3v1.3h-1.3zM459.5 561h1.3v1.3h-1.3zM478 548.5h1.3v1.3h-1.3zM444.5 570.5h1.3v1.3h-1.3zM459 573h1.3v1.3h-1.3zM472.5 543.5h1.3v1.3h-1.3zM466 560.5h1.3v1.3h-1.3zM483.5 543.5h1.3v1.3h-1.3zM452 568.5h1.3v1.3h-1.3zM467 558h1.3v1.3h-1.3zM437 577h1.3v1.3h-1.3zM460.5 557h1.3v1.3h-1.3zM441 581.5h1.3v1.3h-1.3zM485.5 530.5h1.3v1.3h-1.3zM470 553.5h1.3v1.3h-1.3zM472.5 545h1.3v1.3h-1.3zM483.5 541h1.3v1.3h-1.3zM482.5 551.5h1.3v1.3h-1.3zM441.5 576.5h1.3v1.3h-1.3zM450.5 570h1.3v1.3h-1.3zM451.5 562.5h1.3v1.3h-1.3zM475.5 544h1.3v1.3h-1.3zM474.5 545.5h1.3v1.3h-1.3zM460.5 568h1.3v1.3h-1.3zM442.5 571.5h1.3v1.3h-1.3zM494 536.5h1.3v1.3h-1.3zM500 526h1.3v1.3h-1.3zM473 558.5h1.3v1.3h-1.3zM457.5 559h1.3v1.3h-1.3zM475 541h1.3v1.3h-1.3zM447 579.5h1.3v1.3h-1.3zM448.5 583h1.3v1.3h-1.3zM457.5 574.5h1.3v1.3h-1.3zM479.5 543.5h1.3v1.3h-1.3zM480.5 544h1.3v1.3h-1.3zM451.5 569.5h1.3v1.3h-1.3zM458 565.5h1.3v1.3h-1.3zM459.5 562h1.3v1.3h-1.3zM469.5 546h1.3v1.3h-1.3zM438.5 587h1.3v1.3h-1.3zM473.5 550.5h1.3v1.3h-1.3zM469 547.5h1.3v1.3h-1.3zM462.5 556.5h1.3v1.3h-1.3zM465.5 567h1.3v1.3h-1.3zM478 555.5h1.3v1.3h-1.3zM469.5 563.5h1.3v1.3h-1.3zM453 570.5h1.3v1.3h-1.3zM466 558h1.3v1.3h-1.3zM463.5 550h1.3v1.3h-1.3zM458.5 554h1.3v1.3h-1.3zM462 553h1.3v1.3h-1.3zM456 563.5h1.3v1.3h-1.3zM441.5 585h1.3v1.3h-1.3zM479 549.5h1.3v1.3h-1.3zM457.5 563.5h1.3v1.3h-1.3zM453.5 572.5h1.3v1.3h-1.3zM466.5 559h1.3v1.3h-1.3zM468 552h1.3v1.3h-1.3zM464.5 561.5h1.3v1.3h-1.3zM483.5 535h1.3v1.3h-1.3zM480.5 546h1.3v1.3h-1.3zM486 548h1.3v1.3h-1.3zM464 563.5h1.3v1.3h-1.3zM491.5 536.5h1.3v1.3h-1.3zM471 550h1.3v1.3h-1.3zM464.5 563h1.3v1.3h-1.3zM480 544h1.3v1.3h-1.3zM478.5 542h1.3v1.3h-1.3zM453.5 559h1.3v1.3h-1.3zM463.5 553.5h1.3v1.3h-1.3zM434.5 584.5h1.3v1.3h-1.3zM474.5 555h1.3v1.3h-1.3zM460.5 565.5h1.3v1.3h-1.3zM446.5 567h1.3v1.3h-1.3zM437.5 578h1.3v1.3h-1.3zM466.5 554.5h1.3v1.3h-1.3zM474.5 550h1.3v1.3h-1.3zM469.5 546.5h1.3v1.3h-1.3zM481 545.5h1.3v1.3h-1.3zM477.5 549h1.3v1.3h-1.3zM470.5 556h1.3v1.3h-1.3zM453.5 568.5h1.3v1.3h-1.3zM472.5 552h1.3v1.3h-1.3zM492 537.5h1.3v1.3h-1.3zM437 583.5h1.3v1.3h-1.3zM449 569h1.3v1.3h-1.3zM450.5 569h1.3v1.3h-1.3zM472.5 559h1.3v1.3h-1.3zM466.5 558.5h1.3v1.3h-1.3zM473.5 557h1.3v1.3h-1.3zM477.5 541h1.3v1.3h-1.3zM478.5 543h1.3v1.3h-1.3zM463.5 562h1.3v1.3h-1.3zM467 552.5h1.3v1.3h-1.3zM462 565.5h1.3v1.3h-1.3zM457.5 570h1.3v1.3h-1.3zM472 550h1.3v1.3h-1.3zM447 572h1.3v1.3h-1.3zM472.5 550h1.3v1.3h-1.3zM446.5 575.5h1.3v1.3h-1.3zM477.5 550.5h1.3v1.3h-1.3zM448 574h1.3v1.3h-1.3zM461 556h1.3v1.3h-1.3zM479 539h1.3v1.3h-1.3zM492.5 534h1.3v1.3h-1.3zM494 533.5h1.3v1.3h-1.3zM459.5 557h1.3v1.3h-1.3zM465 558.5h1.3v1.3h-1.3zM465 549h1.3v1.3h-1.3zM461 571h1.3v1.3h-1.3zM460 558.5h1.3v1.3h-1.3zM490 537.5h1.3v1.3h-1.3zM484.5 539.5h1.3v1.3h-1.3zM472 556h1.3v1.3h-1.3zM469 557.5h1.3v1.3h-1.3zM455.5 557.5h1.3v1.3h-1.3zM474 544h1.3v1.3h-1.3zM468 560h1.3v1.3h-1.3zM457.5 569h1.3v1.3h-1.3zM462 557h1.3v1.3h-1.3zM460 555.5h1.3v1.3h-1.3zM461.5 558.5h1.3v1.3h-1.3zM464.5 563.5h1.3v1.3h-1.3zM475.5 553h1.3v1.3h-1.3zM462 564h1.3v1.3h-1.3zM492.5 539.5h1.3v1.3h-1.3zM472 544.5h1.3v1.3h-1.3zM446.5 566.5h1.3v1.3h-1.3zM462.5 567h1.3v1.3h-1.3zM442.5 580.5h1.3v1.3h-1.3zM465.5 560h1.3v1.3h-1.3zM449 578.5h1.3v1.3h-1.3zM452.5 563h1.3v1.3h-1.3zM482.5 539.5h1.3v1.3h-1.3zM450.5 572h1.3v1.3h-1.3zM453 571.5h1.3v1.3h-1.3zM444 587h1.3v1.3h-1.3zM468.5 545.5h1.3v1.3h-1.3zM491.5 542.5h1.3v1.3h-1.3zM468.5 546.5h1.3v1.3h-1.3zM491 539.5h1.3v1.3h-1.3zM484.5 546.5h1.3v1.3h-1.3zM449.5 563h1.3v1.3h-1.3zM453.5 560.5h1.3v1.3h-1.3zM443 575h1.3v1.3h-1.3zM488 535.5h1.3v1.3h-1.3zM451 578.5h1.3v1.3h-1.3zM473.5 556.5h1.3v1.3h-1.3zM475 543.5h1.3v1.3h-1.3zM463.5 566h1.3v1.3h-1.3zM479 542.5h1.3v1.3h-1.3zM478.5 550.5h1.3v1.3h-1.3zM467.5 562.5h1.3v1.3h-1.3zM476 550.5h1.3v1.3h-1.3zM475 554.5h1.3v1.3h-1.3zM479 554h1.3v1.3h-1.3zM445.5 567h1.3v1.3h-1.3zM494 541h1.3v1.3h-1.3zM459 558.5h1.3v1.3h-1.3zM488 538.5h1.3v1.3h-1.3zM458 568.5h1.3v1.3h-1.3zM464.5 566.5h1.3v1.3h-1.3zM463.5 565.5h1.3v1.3h-1.3zM463 569h1.3v1.3h-1.3zM442.5 578h1.3v1.3h-1.3zM458.5 557h1.3v1.3h-1.3zM453.5 573.5h1.3v1.3h-1.3zM485 531h1.3v1.3h-1.3zM463.5 563.5h1.3v1.3h-1.3zM496.5 534h1.3v1.3h-1.3zM475 553h1.3v1.3h-1.3zM461 559.5h1.3v1.3h-1.3zM442 587h1.3v1.3h-1.3zM479.5 549h1.3v1.3h-1.3zM456 558.5h1.3v1.3h-1.3zM473 556.5h1.3v1.3h-1.3zM474 550h1.3v1.3h-1.3zM471.5 559.5h1.3v1.3h-1.3zM467.5 554.5h1.3v1.3h-1.3zM462 566.5h1.3v1.3h-1.3zM477.5 542h1.3v1.3h-1.3zM460 566h1.3v1.3h-1.3zM468 550.5h1.3v1.3h-1.3zM463 564h1.3v1.3h-1.3zM471.5 561h1.3v1.3h-1.3zM493 526.5h1.3v1.3h-1.3zM462 568h1.3v1.3h-1.3zM487 538.5h1.3v1.3h-1.3zM483 550.5h1.3v1.3h-1.3zM434.5 582.5h1.3v1.3h-1.3zM466 555h1.3v1.3h-1.3zM477 546h1.3v1.3h-1.3zM469.5 558h1.3v1.3h-1.3zM448.5 575h1.3v1.3h-1.3zM452.5 574.5h1.3v1.3h-1.3zM471.5 557.5h1.3v1.3h-1.3zM475.5 543.5h1.3v1.3h-1.3zM450.5 575.5h1.3v1.3h-1.3zM483.5 534h1.3v1.3h-1.3zM451 580.5h1.3v1.3h-1.3zM443 580.5h1.3v1.3h-1.3zM461 563h1.3v1.3h-1.3zM446.5 577h1.3v1.3h-1.3zM478 536.5h1.3v1.3h-1.3zM454 566.5h1.3v1.3h-1.3zM448.5 573h1.3v1.3h-1.3zM456.5 572h1.3v1.3h-1.3zM475 548h1.3v1.3h-1.3zM432 582h1.3v1.3h-1.3zM473 554h1.3v1.3h-1.3zM467 549h1.3v1.3h-1.3zM483 546.5h1.3v1.3h-1.3zM448 582h1.3v1.3h-1.3zM451 570.5h1.3v1.3h-1.3zM476 542.5h1.3v1.3h-1.3zM461 564.5h1.3v1.3h-1.3zM458.5 564.5h1.3v1.3h-1.3zM456 567h1.3v1.3h-1.3zM464 565.5h1.3v1.3h-1.3zM443.5 579.5h1.3v1.3h-1.3zM459 570h1.3v1.3h-1.3zM476 545.5h1.3v1.3h-1.3zM482.5 543h1.3v1.3h-1.3zM450.5 576.5h1.3v1.3h-1.3zM477 554.5h1.3v1.3h-1.3zM482.5 538h1.3v1.3h-1.3zM470 552h1.3v1.3h-1.3zM474.5 541h1.3v1.3h-1.3zM468 557h1.3v1.3h-1.3zM467 556h1.3v1.3h-1.3zM456 560h1.3v1.3h-1.3zM466.5 562.5h1.3v1.3h-1.3zM458.5 560h1.3v1.3h-1.3zM469 563.5h1.3v1.3h-1.3zM468.5 557.5h1.3v1.3h-1.3zM444.5 574h1.3v1.3h-1.3zM464.5 557.5h1.3v1.3h-1.3zM459 554h1.3v1.3h-1.3zM448.5 582.5h1.3v1.3h-1.3zM468.5 555h1.3v1.3h-1.3zM483 544.5h1.3v1.3h-1.3zM476 549h1.3v1.3h-1.3zM459 568.5h1.3v1.3h-1.3zM451 561.5h1.3v1.3h-1.3zM463 550h1.3v1.3h-1.3zM455.5 568.5h1.3v1.3h-1.3zM456 566h1.3v1.3h-1.3zM454.5 570.5h1.3v1.3h-1.3zM479 543h1.3v1.3h-1.3zM440.5 571h1.3v1.3h-1.3zM451 572.5h1.3v1.3h-1.3zM465 565h1.3v1.3h-1.3zM464 555.5h1.3v1.3h-1.3zM461 556.5h1.3v1.3h-1.3zM476 548h1.3v1.3h-1.3zM463 565.5h1.3v1.3h-1.3zM464 564.5h1.3v1.3h-1.3zM445 567h1.3v1.3h-1.3zM480 554h1.3v1.3h-1.3zM453.5 575h1.3v1.3h-1.3zM453.5 566.5h1.3v1.3h-1.3zM472 553.5h1.3v1.3h-1.3zM481 551h1.3v1.3h-1.3zM473 545h1.3v1.3h-1.3zM480.5 553h1.3v1.3h-1.3zM475 555.5h1.3v1.3h-1.3zM474 545h1.3v1.3h-1.3zM451.5 569h1.3v1.3h-1.3zM476.5 549h1.3v1.3h-1.3zM451 576.5h1.3v1.3h-1.3zM476 539.5h1.3v1.3h-1.3zM473.5 558.5h1.3v1.3h-1.3zM472.5 558.5h1.3v1.3h-1.3zM458 560.5h1.3v1.3h-1.3zM459.5 556.5h1.3v1.3h-1.3zM473.5 547h1.3v1.3h-1.3zM471 545h1.3v1.3h-1.3zM447 565h1.3v1.3h-1.3zM476 549.5h1.3v1.3h-1.3zM478.5 545.5h1.3v1.3h-1.3zM486.5 539.5h1.3v1.3h-1.3zM474.5 550.5h1.3v1.3h-1.3zM438.5 572.5h1.3v1.3h-1.3zM469.5 553.5h1.3v1.3h-1.3zM463.5 562.5h1.3v1.3h-1.3zM455 558h1.3v1.3h-1.3zM472 558.5h1.3v1.3h-1.3zM459.5 563.5h1.3v1.3h-1.3zM484 537.5h1.3v1.3h-1.3zM465 554h1.3v1.3h-1.3zM468.5 563h1.3v1.3h-1.3zM478.5 553.5h1.3v1.3h-1.3zM482 547h1.3v1.3h-1.3zM464.5 556.5h1.3v1.3h-1.3zM447.5 580.5h1.3v1.3h-1.3zM479.5 548h1.3v1.3h-1.3zM457 561.5h1.3v1.3h-1.3zM487 536h1.3v1.3h-1.3zM489 537.5h1.3v1.3h-1.3zM443.5 571.5h1.3v1.3h-1.3zM504 525h1.3v1.3h-1.3zM455 570.5h1.3v1.3h-1.3zM458 559.5h1.3v1.3h-1.3zM458.5 561.5h1.3v1.3h-1.3zM468.5 564h1.3v1.3h-1.3zM479 554.5h1.3v1.3h-1.3zM469.5 552h1.3v1.3h-1.3zM455 568.5h1.3v1.3h-1.3zM476 557.5h1.3v1.3h-1.3zM464 552h1.3v1.3h-1.3zM468.5 560.5h1.3v1.3h-1.3zM449.5 564h1.3v1.3h-1.3zM454.5 572h1.3v1.3h-1.3zM479.5 544.5h1.3v1.3h-1.3zM442.5 584.5h1.3v1.3h-1.3zM474.5 555.5h1.3v1.3h-1.3zM478 555h1.3v1.3h-1.3zM457 567.5h1.3v1.3h-1.3zM476.5 544h1.3v1.3h-1.3zM477 549h1.3v1.3h-1.3zM444.5 573.5h1.3v1.3h-1.3zM450.5 565h1.3v1.3h-1.3zM471.5 552h1.3v1.3h-1.3zM454.5 568.5h1.3v1.3h-1.3zM440.5 587h1.3v1.3h-1.3zM473 558h1.3v1.3h-1.3zM448.5 563.5h1.3v1.3h-1.3zM444 584h1.3v1.3h-1.3zM456.5 562.5h1.3v1.3h-1.3zM454 559h1.3v1.3h-1.3zM472 555.5h1.3v1.3h-1.3zM450 569.5h1.3v1.3h-1.3zM475 554h1.3v1.3h-1.3zM465.5 561h1.3v1.3h-1.3zM450.5 566.5h1.3v1.3h-1.3zM460 566.5h1.3v1.3h-1.3zM479 544.5h1.3v1.3h-1.3zM444 571.5h1.3v1.3h-1.3zM473.5 557.5h1.3v1.3h-1.3zM469 555.5h1.3v1.3h-1.3zM435.5 582.5h1.3v1.3h-1.3zM476.5 543.5h1.3v1.3h-1.3zM461 557.5h1.3v1.3h-1.3zM497.5 535h1.3v1.3h-1.3zM487.5 538h1.3v1.3h-1.3zM461 560.5h1.3v1.3h-1.3zM474 548.5h1.3v1.3h-1.3zM458 558.5h1.3v1.3h-1.3zM473 550.5h1.3v1.3h-1.3zM466 561h1.3v1.3h-1.3zM466.5 566.5h1.3v1.3h-1.3zM494 535.5h1.3v1.3h-1.3zM441 590h1.3v1.3h-1.3zM452 577.5h1.3v1.3h-1.3zM471.5 554.5h1.3v1.3h-1.3zM489 533h1.3v1.3h-1.3zM457 573h1.3v1.3h-1.3zM470 549.5h1.3v1.3h-1.3zM467 557.5h1.3v1.3h-1.3zM455.5 564.5h1.3v1.3h-1.3zM452 574h1.3v1.3h-1.3zM437 583h1.3v1.3h-1.3zM463 562h1.3v1.3h-1.3zM478 546h1.3v1.3h-1.3zM482 545.5h1.3v1.3h-1.3zM483.5 538.5h1.3v1.3h-1.3zM475.5 551.5h1.3v1.3h-1.3zM454 562.5h1.3v1.3h-1.3zM466.5 556h1.3v1.3h-1.3zM482.5 547h1.3v1.3h-1.3zM461.5 561h1.3v1.3h-1.3zM452 575.5h1.3v1.3h-1.3zM447 577.5h1.3v1.3h-1.3zM449.5 581.5h1.3v1.3h-1.3zM475.5 554h1.3v1.3h-1.3zM458.5 568.5h1.3v1.3h-1.3zM457 564.5h1.3v1.3h-1.3zM471 551.5h1.3v1.3h-1.3zM460.5 556h1.3v1.3h-1.3zM443.5 574.5h1.3v1.3h-1.3zM445 586h1.3v1.3h-1.3zM489 535.5h1.3v1.3h-1.3zM455.5 576.5h1.3v1.3h-1.3zM440 576.5h1.3v1.3h-1.3zM475.5 541.5h1.3v1.3h-1.3zM438.5 573.5h1.3v1.3h-1.3zM476.5 547.5h1.3v1.3h-1.3zM472 560.5h1.3v1.3h-1.3zM444 576h1.3v1.3h-1.3zM448.5 575.5h1.3v1.3h-1.3zM466 566h1.3v1.3h-1.3zM468.5 563.5h1.3v1.3h-1.3zM464.5 562h1.3v1.3h-1.3zM467.5 551h1.3v1.3h-1.3zM454 568.5h1.3v1.3h-1.3zM472.5 557h1.3v1.3h-1.3zM471.5 546h1.3v1.3h-1.3zM491.5 532.5h1.3v1.3h-1.3zM471 551h1.3v1.3h-1.3zM452 571h1.3v1.3h-1.3zM474.5 546h1.3v1.3h-1.3zM463 552.5h1.3v1.3h-1.3zM476 547.5h1.3v1.3h-1.3zM443.5 568.5h1.3v1.3h-1.3zM473 556h1.3v1.3h-1.3zM489.5 543h1.3v1.3h-1.3zM461.5 559h1.3v1.3h-1.3zM495 533h1.3v1.3h-1.3zM498 528h1.3v1.3h-1.3zM469.5 561.5h1.3v1.3h-1.3zM461 566.5h1.3v1.3h-1.3zM466.5 557h1.3v1.3h-1.3zM475.5 558h1.3v1.3h-1.3zM447 574h1.3v1.3h-1.3zM466.5 555.5h1.3v1.3h-1.3zM450.5 561.5h1.3v1.3h-1.3zM473.5 560h1.3v1.3h-1.3zM463 556.5h1.3v1.3h-1.3zM474 549h1.3v1.3h-1.3zM479 547h1.3v1.3h-1.3zM454.5 558.5h1.3v1.3h-1.3zM460 560h1.3v1.3h-1.3zM475.5 548h1.3v1.3h-1.3zM469.5 560.5h1.3v1.3h-1.3zM462.5 560.5h1.3v1.3h-1.3zM453.5 577h1.3v1.3h-1.3zM467.5 559.5h1.3v1.3h-1.3zM452 571.5h1.3v1.3h-1.3zM473 559.5h1.3v1.3h-1.3zM468.5 548.5h1.3v1.3h-1.3zM465.5 549h1.3v1.3h-1.3zM484 539h1.3v1.3h-1.3zM468 558.5h1.3v1.3h-1.3zM477.5 552.5h1.3v1.3h-1.3zM459.5 571.5h1.3v1.3h-1.3zM461.5 566h1.3v1.3h-1.3zM439 583.5h1.3v1.3h-1.3zM465.5 564.5h1.3v1.3h-1.3zM449.5 574.5h1.3v1.3h-1.3zM460 553h1.3v1.3h-1.3zM464.5 558h1.3v1.3h-1.3zM440 579h1.3v1.3h-1.3zM499.5 528h1.3v1.3h-1.3zM475 550h1.3v1.3h-1.3zM469 560h1.3v1.3h-1.3zM454 573h1.3v1.3h-1.3zM470.5 552.5h1.3v1.3h-1.3zM469.5 553h1.3v1.3h-1.3zM469 562h1.3v1.3h-1.3zM437.5 580h1.3v1.3h-1.3zM495.5 526h1.3v1.3h-1.3zM459 562.5h1.3v1.3h-1.3zM481 538h1.3v1.3h-1.3zM467.5 547.5h1.3v1.3h-1.3zM453.5 565.5h1.3v1.3h-1.3zM464.5 553h1.3v1.3h-1.3zM448.5 573.5h1.3v1.3h-1.3zM463.5 565h1.3v1.3h-1.3zM462 565h1.3v1.3h-1.3zM450 564.5h1.3v1.3h-1.3zM445 573.5h1.3v1.3h-1.3zM457.5 555.5h1.3v1.3h-1.3zM454 567.5h1.3v1.3h-1.3zM497 533h1.3v1.3h-1.3zM481 536h1.3v1.3h-1.3zM447 566.5h1.3v1.3h-1.3zM447.5 579.5h1.3v1.3h-1.3zM450 569h1.3v1.3h-1.3zM463.5 556.5h1.3v1.3h-1.3zM454.5 561h1.3v1.3h-1.3zM480 543h1.3v1.3h-1.3zM455.5 575.5h1.3v1.3h-1.3zM468 551.5h1.3v1.3h-1.3zM442 572.5h1.3v1.3h-1.3zM466 566.5h1.3v1.3h-1.3zM459 571.5h1.3v1.3h-1.3zM467 554.5h1.3v1.3h-1.3zM455 566.5h1.3v1.3h-1.3zM443 573.5h1.3v1.3h-1.3zM453 570h1.3v1.3h-1.3zM454 561h1.3v1.3h-1.3zM481 548.5h1.3v1.3h-1.3zM460.5 563h1.3v1.3h-1.3zM457 565.5h1.3v1.3h-1.3zM465 561h1.3v1.3h-1.3zM438 576.5h1.3v1.3h-1.3zM457 564h1.3v1.3h-1.3zM433.5 578.5h1.3v1.3h-1.3zM474 552h1.3v1.3h-1.3zM460.5 572h1.3v1.3h-1.3zM456.5 570h1.3v1.3h-1.3zM489.5 534h1.3v1.3h-1.3zM473 546h1.3v1.3h-1.3zM459.5 566.5h1.3v1.3h-1.3zM464.5 550h1.3v1.3h-1.3zM469 553h1.3v1.3h-1.3zM453 572h1.3v1.3h-1.3zM454 560h1.3v1.3h-1.3zM447.5 580h1.3v1.3h-1.3zM483 535h1.3v1.3h-1.3zM453.5 570h1.3v1.3h-1.3zM439.5 573.5h1.3v1.3h-1.3zM456 570.5h1.3v1.3h-1.3zM452 569.5h1.3v1.3h-1.3zM451 563h1.3v1.3h-1.3zM442 577.5h1.3v1.3h-1.3zM457 574h1.3v1.3h-1.3zM466.5 560.5h1.3v1.3h-1.3zM468.5 553.5h1.3v1.3h-1.3zM439.5 586.5h1.3v1.3h-1.3zM463.5 559h1.3v1.3h-1.3zM451.5 574h1.3v1.3h-1.3zM463.5 567.5h1.3v1.3h-1.3zM468 546h1.3v1.3h-1.3zM458 561.5h1.3v1.3h-1.3zM452.5 565.5h1.3v1.3h-1.3zM492 539h1.3v1.3h-1.3zM459.5 559.5h1.3v1.3h-1.3zM482 540h1.3v1.3h-1.3zM475 542.5h1.3v1.3h-1.3zM464 558h1.3v1.3h-1.3zM474.5 544h1.3v1.3h-1.3zM468 550h1.3v1.3h-1.3zM456 564h1.3v1.3h-1.3zM495 537h1.3v1.3h-1.3zM445 579h1.3v1.3h-1.3zM497 526h1.3v1.3h-1.3zM455.5 569h1.3v1.3h-1.3zM490 543h1.3v1.3h-1.3zM465.5 548h1.3v1.3h-1.3zM444.5 577.5h1.3v1.3h-1.3zM466 560h1.3v1.3h-1.3zM482 551.5h1.3v1.3h-1.3zM482 548.5h1.3v1.3h-1.3zM483 540h1.3v1.3h-1.3zM447.5 568.5h1.3v1.3h-1.3zM480.5 550h1.3v1.3h-1.3zM438 580h1.3v1.3h-1.3zM443.5 568h1.3v1.3h-1.3zM436.5 579.5h1.3v1.3h-1.3zM475.5 545.5h1.3v1.3h-1.3zM442.5 580h1.3v1.3h-1.3zM461 555h1.3v1.3h-1.3zM458.5 570.5h1.3v1.3h-1.3zM445 571.5h1.3v1.3h-1.3zM480.5 543h1.3v1.3h-1.3zM471.5 561.5h1.3v1.3h-1.3zM454 560.5h1.3v1.3h-1.3zM465 564.5h1.3v1.3h-1.3zM444 581h1.3v1.3h-1.3zM447.5 575.5h1.3v1.3h-1.3zM469 557h1.3v1.3h-1.3zM481 544.5h1.3v1.3h-1.3zM459.5 562.5h1.3v1.3h-1.3zM482 548h1.3v1.3h-1.3zM470.5 554.5h1.3v1.3h-1.3zM441 572h1.3v1.3h-1.3zM468.5 556h1.3v1.3h-1.3zM442.5 569h1.3v1.3h-1.3zM444 573.5h1.3v1.3h-1.3zM483 542.5h1.3v1.3h-1.3zM488.5 529h1.3v1.3h-1.3zM485.5 540h1.3v1.3h-1.3zM445.5 577h1.3v1.3h-1.3zM480 539h1.3v1.3h-1.3zM490 533.5h1.3v1.3h-1.3zM487.5 540.5h1.3v1.3h-1.3zM455.5 576h1.3v1.3h-1.3zM476 543.5h1.3v1.3h-1.3zM454 565h1.3v1.3h-1.3zM462.5 561h1.3v1.3h-1.3zM479.5 553.5h1.3v1.3h-1.3zM464 549.5h1.3v1.3h-1.3zM466 562.5h1.3v1.3h-1.3zM464 561.5h1.3v1.3h-1.3zM451.5 565h1.3v1.3h-1.3zM436 582h1.3v1.3h-1.3zM473 553.5h1.3v1.3h-1.3zM468.5 550h1.3v1.3h-1.3zM491 536h1.3v1.3h-1.3zM443.5 570.5h1.3v1.3h-1.3zM472 542h1.3v1.3h-1.3zM469.5 558.5h1.3v1.3h-1.3zM471.5 558.5h1.3v1.3h-1.3zM478.5 544.5h1.3v1.3h-1.3zM475.5 547h1.3v1.3h-1.3zM461.5 556.5h1.3v1.3h-1.3zM441.5 570h1.3v1.3h-1.3zM483.5 537.5h1.3v1.3h-1.3zM464 560.5h1.3v1.3h-1.3zM484 534h1.3v1.3h-1.3zM472.5 549h1.3v1.3h-1.3zM467 555.5h1.3v1.3h-1.3zM469.5 556.5h1.3v1.3h-1.3zM466.5 559.5h1.3v1.3h-1.3zM449 566h1.3v1.3h-1.3zM460 559h1.3v1.3h-1.3zM456 576h1.3v1.3h-1.3zM458 563h1.3v1.3h-1.3zM490 540.5h1.3v1.3h-1.3zM470.5 550h1.3v1.3h-1.3zM456 575.5h1.3v1.3h-1.3zM448 570.5h1.3v1.3h-1.3zM459 566.5h1.3v1.3h-1.3zM484.5 539h1.3v1.3h-1.3zM469.5 559h1.3v1.3h-1.3zM483.5 545h1.3v1.3h-1.3zM434 581h1.3v1.3h-1.3zM463.5 551h1.3v1.3h-1.3zM471.5 555h1.3v1.3h-1.3zM441 576h1.3v1.3h-1.3zM481 538.5h1.3v1.3h-1.3zM490.5 535h1.3v1.3h-1.3zM462 568.5h1.3v1.3h-1.3zM437.5 583h1.3v1.3h-1.3zM443 581.5h1.3v1.3h-1.3zM479.5 545h1.3v1.3h-1.3zM472 559h1.3v1.3h-1.3zM444.5 577h1.3v1.3h-1.3zM466.5 547.5h1.3v1.3h-1.3zM434.5 576.5h1.3v1.3h-1.3zM463 557h1.3v1.3h-1.3zM443 569h1.3v1.3h-1.3zM462 560.5h1.3v1.3h-1.3zM457.5 558.5h1.3v1.3h-1.3zM462 556.5h1.3v1.3h-1.3zM483.5 539.5h1.3v1.3h-1.3zM489 540h1.3v1.3h-1.3zM484.5 538h1.3v1.3h-1.3zM449.5 562.5h1.3v1.3h-1.3zM452 567.5h1.3v1.3h-1.3zM464.5 560h1.3v1.3h-1.3zM468.5 553h1.3v1.3h-1.3zM436 586.5h1.3v1.3h-1.3zM490.5 538.5h1.3v1.3h-1.3zM454.5 569.5h1.3v1.3h-1.3zM474 553.5h1.3v1.3h-1.3zM447.5 571h1.3v1.3h-1.3zM456 574.5h1.3v1.3h-1.3zM464 568h1.3v1.3h-1.3zM477.5 546.5h1.3v1.3h-1.3zM466 564.5h1.3v1.3h-1.3zM481 535h1.3v1.3h-1.3zM460.5 569.5h1.3v1.3h-1.3zM453.5 571.5h1.3v1.3h-1.3zM472.5 558h1.3v1.3h-1.3zM451 579h1.3v1.3h-1.3zM461.5 567h1.3v1.3h-1.3zM440.5 581h1.3v1.3h-1.3zM461 557h1.3v1.3h-1.3zM481 534h1.3v1.3h-1.3zM471.5 558h1.3v1.3h-1.3zM435.5 584.5h1.3v1.3h-1.3zM465 552.5h1.3v1.3h-1.3zM470 546.5h1.3v1.3h-1.3zM448.5 576.5h1.3v1.3h-1.3zM486 531.5h1.3v1.3h-1.3zM498 528.5h1.3v1.3h-1.3zM462 551h1.3v1.3h-1.3zM480 549h1.3v1.3h-1.3zM454 571.5h1.3v1.3h-1.3zM438 586h1.3v1.3h-1.3zM468 549.5h1.3v1.3h-1.3zM471.5 551.5h1.3v1.3h-1.3zM440.5 572.5h1.3v1.3h-1.3zM476.5 553.5h1.3v1.3h-1.3zM466 549.5h1.3v1.3h-1.3zM468 563.5h1.3v1.3h-1.3zM450 572.5h1.3v1.3h-1.3zM450.5 578h1.3v1.3h-1.3zM448 565h1.3v1.3h-1.3zM472.5 541.5h1.3v1.3h-1.3zM454.5 569h1.3v1.3h-1.3zM461 562h1.3v1.3h-1.3zM445 568.5h1.3v1.3h-1.3zM477 550.5h1.3v1.3h-1.3zM450.5 564.5h1.3v1.3h-1.3zM476.5 552.5h1.3v1.3h-1.3zM463 553h1.3v1.3h-1.3zM439.5 572.5h1.3v1.3h-1.3zM455 568h1.3v1.3h-1.3zM462 564.5h1.3v1.3h-1.3zM460.5 564h1.3v1.3h-1.3zM472.5 546.5h1.3v1.3h-1.3zM451.5 576.5h1.3v1.3h-1.3zM486.5 547.5h1.3v1.3h-1.3zM479.5 549.5h1.3v1.3h-1.3zM447 572.5h1.3v1.3h-1.3zM438 586.5h1.3v1.3h-1.3zM457.5 557.5h1.3v1.3h-1.3zM457.5 566h1.3v1.3h-1.3zM456.5 556h1.3v1.3h-1.3zM483.5 533h1.3v1.3h-1.3zM480.5 552.5h1.3v1.3h-1.3zM480 538.5h1.3v1.3h-1.3zM483.5 547.5h1.3v1.3h-1.3zM443 583h1.3v1.3h-1.3zM452.5 570.5h1.3v1.3h-1.3zM441 581h1.3v1.3h-1.3zM491.5 528.5h1.3v1.3h-1.3zM462 553.5h1.3v1.3h-1.3zM458 574h1.3v1.3h-1.3zM452 575h1.3v1.3h-1.3zM493.5 530h1.3v1.3h-1.3zM459.5 554h1.3v1.3h-1.3zM439 573h1.3v1.3h-1.3zM458.5 556.5h1.3v1.3h-1.3zM472 558h1.3v1.3h-1.3zM457.5 556h1.3v1.3h-1.3zM474.5 554h1.3v1.3h-1.3zM464.5 552h1.3v1.3h-1.3zM454.5 576.5h1.3v1.3h-1.3zM455.5 562.5h1.3v1.3h-1.3zM448 569.5h1.3v1.3h-1.3zM437 576.5h1.3v1.3h-1.3zM478 553h1.3v1.3h-1.3zM473 544h1.3v1.3h-1.3zM459 565h1.3v1.3h-1.3zM457 555.5h1.3v1.3h-1.3zM451 568h1.3v1.3h-1.3zM470.5 555h1.3v1.3h-1.3zM469 560.5h1.3v1.3h-1.3zM467.5 560.5h1.3v1.3h-1.3zM479 545.5h1.3v1.3h-1.3zM472.5 560h1.3v1.3h-1.3zM493.5 537.5h1.3v1.3h-1.3zM462.5 565.5h1.3v1.3h-1.3zM473 557h1.3v1.3h-1.3zM450.5 567.5h1.3v1.3h-1.3zM448 583.5h1.3v1.3h-1.3zM451 577h1.3v1.3h-1.3zM458.5 571h1.3v1.3h-1.3zM461.5 551.5h1.3v1.3h-1.3zM450 574h1.3v1.3h-1.3zM455 565.5h1.3v1.3h-1.3zM483.5 542.5h1.3v1.3h-1.3zM464 567.5h1.3v1.3h-1.3zM468.5 561h1.3v1.3h-1.3zM456 562h1.3v1.3h-1.3zM444 586.5h1.3v1.3h-1.3zM475.5 546h1.3v1.3h-1.3zM477 552.5h1.3v1.3h-1.3zM438.5 584.5h1.3v1.3h-1.3zM454 567h1.3v1.3h-1.3zM459 560.5h1.3v1.3h-1.3zM476 548.5h1.3v1.3h-1.3zM433 581h1.3v1.3h-1.3zM460.5 562h1.3v1.3h-1.3zM485 541h1.3v1.3h-1.3zM456.5 566h1.3v1.3h-1.3zM481.5 549h1.3v1.3h-1.3zM485.5 542.5h1.3v1.3h-1.3zM450 575h1.3v1.3h-1.3zM457 557h1.3v1.3h-1.3zM481.5 544h1.3v1.3h-1.3zM451 564h1.3v1.3h-1.3zM462.5 558.5h1.3v1.3h-1.3zM448 576h1.3v1.3h-1.3zM478 552.5h1.3v1.3h-1.3zM467 564h1.3v1.3h-1.3zM490 535.5h1.3v1.3h-1.3zM491.5 534h1.3v1.3h-1.3zM455 573h1.3v1.3h-1.3zM493 535.5h1.3v1.3h-1.3zM446 566h1.3v1.3h-1.3zM476.5 544.5h1.3v1.3h-1.3zM446.5 572.5h1.3v1.3h-1.3zM469.5 544.5h1.3v1.3h-1.3zM496 528.5h1.3v1.3h-1.3zM457.5 562h1.3v1.3h-1.3zM488.5 542.5h1.3v1.3h-1.3zM451 574h1.3v1.3h-1.3zM452.5 575.5h1.3v1.3h-1.3zM459 569.5h1.3v1.3h-1.3zM450 571.5h1.3v1.3h-1.3zM484 544.5h1.3v1.3h-1.3zM461.5 568h1.3v1.3h-1.3zM469.5 549.5h1.3v1.3h-1.3zM469.5 551.5h1.3v1.3h-1.3zM447.5 583.5h1.3v1.3h-1.3zM447.5 577h1.3v1.3h-1.3zM452.5 573.5h1.3v1.3h-1.3zM465 564h1.3v1.3h-1.3zM458 562h1.3v1.3h-1.3zM472.5 556h1.3v1.3h-1.3zM482.5 541.5h1.3v1.3h-1.3zM445.5 567.5h1.3v1.3h-1.3zM452 572.5h1.3v1.3h-1.3zM442.5 583.5h1.3v1.3h-1.3zM451.5 570.5h1.3v1.3h-1.3zM450 567.5h1.3v1.3h-1.3zM470.5 556.5h1.3v1.3h-1.3zM455.5 565.5h1.3v1.3h-1.3zM474 554h1.3v1.3h-1.3zM465 557h1.3v1.3h-1.3zM485 544h1.3v1.3h-1.3zM458 564h1.3v1.3h-1.3zM444.5 568.5h1.3v1.3h-1.3zM440 571.5h1.3v1.3h-1.3zM477 545h1.3v1.3h-1.3zM446 575h1.3v1.3h-1.3zM449 582.5h1.3v1.3h-1.3zM490 542.5h1.3v1.3h-1.3zM459 562h1.3v1.3h-1.3zM470.5 559h1.3v1.3h-1.3zM442 570h1.3v1.3h-1.3zM491 533.5h1.3v1.3h-1.3zM456 572h1.3v1.3h-1.3zM475.5 540h1.3v1.3h-1.3zM450 568.5h1.3v1.3h-1.3zM449 570.5h1.3v1.3h-1.3zM456.5 561.5h1.3v1.3h-1.3zM435.5 578h1.3v1.3h-1.3zM447 576h1.3v1.3h-1.3zM451.5 573h1.3v1.3h-1.3zM453.5 562h1.3v1.3h-1.3zM493.5 526h1.3v1.3h-1.3zM456.5 560h1.3v1.3h-1.3zM444.5 569.5h1.3v1.3h-1.3zM478 539h1.3v1.3h-1.3zM489 536h1.3v1.3h-1.3zM452 562h1.3v1.3h-1.3zM462.5 557h1.3v1.3h-1.3zM437 585h1.3v1.3h-1.3zM461.5 564.5h1.3v1.3h-1.3zM436 583.5h1.3v1.3h-1.3zM460 565h1.3v1.3h-1.3zM470.5 551.5h1.3v1.3h-1.3zM481 543.5h1.3v1.3h-1.3zM458 556.5h1.3v1.3h-1.3zM466 550.5h1.3v1.3h-1.3zM458 570h1.3v1.3h-1.3zM476 545h1.3v1.3h-1.3zM464 566h1.3v1.3h-1.3zM448 583h1.3v1.3h-1.3zM484.5 534.5h1.3v1.3h-1.3zM480 543.5h1.3v1.3h-1.3zM484.5 540.5h1.3v1.3h-1.3zM464.5 564h1.3v1.3h-1.3zM463 555.5h1.3v1.3h-1.3zM470.5 545h1.3v1.3h-1.3zM482 533.5h1.3v1.3h-1.3zM478 537h1.3v1.3h-1.3zM467 564.5h1.3v1.3h-1.3zM458.5 559.5h1.3v1.3h-1.3zM458.5 564h1.3v1.3h-1.3zM467.5 562h1.3v1.3h-1.3zM478 551.5h1.3v1.3h-1.3zM459 558h1.3v1.3h-1.3zM465 562.5h1.3v1.3h-1.3zM478.5 549h1.3v1.3h-1.3zM450 580h1.3v1.3h-1.3zM449.5 575h1.3v1.3h-1.3zM479.5 545.5h1.3v1.3h-1.3zM445 567.5h1.3v1.3h-1.3zM466 553.5h1.3v1.3h-1.3zM448.5 567h1.3v1.3h-1.3zM482.5 537h1.3v1.3h-1.3zM449.5 570.5h1.3v1.3h-1.3zM460 556.5h1.3v1.3h-1.3zM486 546h1.3v1.3h-1.3zM468.5 546h1.3v1.3h-1.3zM460 554.5h1.3v1.3h-1.3zM443.5 571h1.3v1.3h-1.3zM490 536h1.3v1.3h-1.3zM459.5 563h1.3v1.3h-1.3zM471.5 544h1.3v1.3h-1.3zM465.5 549.5h1.3v1.3h-1.3zM478.5 555h1.3v1.3h-1.3zM487 541h1.3v1.3h-1.3zM465 548.5h1.3v1.3h-1.3zM478.5 541.5h1.3v1.3h-1.3zM460.5 567.5h1.3v1.3h-1.3zM496 539h1.3v1.3h-1.3zM465.5 553h1.3v1.3h-1.3zM469 561.5h1.3v1.3h-1.3zM463 566.5h1.3v1.3h-1.3zM470 562.5h1.3v1.3h-1.3zM463.5 564.5h1.3v1.3h-1.3zM460.5 571.5h1.3v1.3h-1.3zM434 577h1.3v1.3h-1.3zM459.5 560h1.3v1.3h-1.3zM492.5 542h1.3v1.3h-1.3zM473.5 546.5h1.3v1.3h-1.3zM473 541h1.3v1.3h-1.3zM462.5 559h1.3v1.3h-1.3zM452.5 566h1.3v1.3h-1.3zM443 576.5h1.3v1.3h-1.3zM449 569.5h1.3v1.3h-1.3zM477 542.5h1.3v1.3h-1.3zM473.5 555.5h1.3v1.3h-1.3zM499.5 530h1.3v1.3h-1.3zM469 550.5h1.3v1.3h-1.3zM447.5 576h1.3v1.3h-1.3zM461.5 562.5h1.3v1.3h-1.3zM482.5 536.5h1.3v1.3h-1.3zM448 568h1.3v1.3h-1.3zM473.5 543.5h1.3v1.3h-1.3zM457.5 574h1.3v1.3h-1.3zM463.5 557h1.3v1.3h-1.3zM441 589.5h1.3v1.3h-1.3zM463.5 569h1.3v1.3h-1.3zM485 535.5h1.3v1.3h-1.3zM469.5 554.5h1.3v1.3h-1.3zM464 558.5h1.3v1.3h-1.3zM468.5 560h1.3v1.3h-1.3zM495 534h1.3v1.3h-1.3zM475 556h1.3v1.3h-1.3zM449.5 573h1.3v1.3h-1.3zM462 562.5h1.3v1.3h-1.3zM475 545h1.3v1.3h-1.3zM452.5 562.5h1.3v1.3h-1.3zM470.5 558h1.3v1.3h-1.3zM470.5 551h1.3v1.3h-1.3zM456.5 567h1.3v1.3h-1.3zM463.5 552h1.3v1.3h-1.3zM475.5 546.5h1.3v1.3h-1.3zM460 561h1.3v1.3h-1.3zM477.5 542.5h1.3v1.3h-1.3zM453.5 564h1.3v1.3h-1.3zM459.5 564.5h1.3v1.3h-1.3zM456.5 569.5h1.3v1.3h-1.3zM475 545.5h1.3v1.3h-1.3zM493 530.5h1.3v1.3h-1.3zM478.5 539.5h1.3v1.3h-1.3zM471.5 554h1.3v1.3h-1.3zM451.5 578h1.3v1.3h-1.3zM479.5 537.5h1.3v1.3h-1.3zM460 564.5h1.3v1.3h-1.3zM449 564h1.3v1.3h-1.3zM470.5 561h1.3v1.3h-1.3zM464.5 552.5h1.3v1.3h-1.3zM458.5 565.5h1.3v1.3h-1.3zM491 543.5h1.3v1.3h-1.3zM459.5 556h1.3v1.3h-1.3zM483 549h1.3v1.3h-1.3zM469 552h1.3v1.3h-1.3zM456.5 558h1.3v1.3h-1.3zM463 558.5h1.3v1.3h-1.3zM460.5 560.5h1.3v1.3h-1.3zM449.5 573.5h1.3v1.3h-1.3zM477.5 548.5h1.3v1.3h-1.3zM448 575h1.3v1.3h-1.3zM463.5 561.5h1.3v1.3h-1.3zM481 550.5h1.3v1.3h-1.3zM468.5 549h1.3v1.3h-1.3zM481 547.5h1.3v1.3h-1.3zM455.5 570.5h1.3v1.3h-1.3zM471.5 545.5h1.3v1.3h-1.3zM473 542h1.3v1.3h-1.3zM459.5 564h1.3v1.3h-1.3zM484 546.5h1.3v1.3h-1.3zM470 559.5h1.3v1.3h-1.3zM466.5 551h1.3v1.3h-1.3zM451 571.5h1.3v1.3h-1.3zM488 537.5h1.3v1.3h-1.3zM466.5 557.5h1.3v1.3h-1.3zM457.5 568h1.3v1.3h-1.3zM476 553h1.3v1.3h-1.3zM472 549h1.3v1.3h-1.3zM490 540h1.3v1.3h-1.3zM461 561h1.3v1.3h-1.3zM466 551.5h1.3v1.3h-1.3zM444.5 576.5h1.3v1.3h-1.3zM441 587h1.3v1.3h-1.3zM474.5 547.5h1.3v1.3h-1.3zM471 545.5h1.3v1.3h-1.3zM470 551h1.3v1.3h-1.3zM467 566h1.3v1.3h-1.3zM479 540h1.3v1.3h-1.3zM481.5 543.5h1.3v1.3h-1.3zM480 539.5h1.3v1.3h-1.3zM449 567h1.3v1.3h-1.3zM465.5 555.5h1.3v1.3h-1.3zM474 542.5h1.3v1.3h-1.3zM459 573.5h1.3v1.3h-1.3zM493.5 527.5h1.3v1.3h-1.3zM489.5 533.5h1.3v1.3h-1.3zM480.5 543.5h1.3v1.3h-1.3zM464.5 561h1.3v1.3h-1.3zM457 574.5h1.3v1.3h-1.3zM458.5 556h1.3v1.3h-1.3zM467.5 564h1.3v1.3h-1.3zM481.5 537.5h1.3v1.3h-1.3zM451 565.5h1.3v1.3h-1.3zM449 573.5h1.3v1.3h-1.3zM466 559.5h1.3v1.3h-1.3zM495 524h1.3v1.3h-1.3zM471.5 560h1.3v1.3h-1.3zM446 568h1.3v1.3h-1.3zM442 575.5h1.3v1.3h-1.3zM441 585.5h1.3v1.3h-1.3zM496.5 525h1.3v1.3h-1.3zM487 540h1.3v1.3h-1.3zM492 538h1.3v1.3h-1.3zM474 551h1.3v1.3h-1.3zM452.5 571h1.3v1.3h-1.3zM459.5 554.5h1.3v1.3h-1.3zM480 541.5h1.3v1.3h-1.3zM474.5 559h1.3v1.3h-1.3zM476.5 543h1.3v1.3h-1.3zM437.5 580.5h1.3v1.3h-1.3zM488 531h1.3v1.3h-1.3zM460.5 566h1.3v1.3h-1.3zM460 572.5h1.3v1.3h-1.3zM465.5 553.5h1.3v1.3h-1.3zM482 544.5h1.3v1.3h-1.3zM454.5 577.5h1.3v1.3h-1.3zM479 536.5h1.3v1.3h-1.3zM482.5 545h1.3v1.3h-1.3zM470.5 547.5h1.3v1.3h-1.3zM448.5 571h1.3v1.3h-1.3zM495 528.5h1.3v1.3h-1.3zM453 574.5h1.3v1.3h-1.3zM444 572.5h1.3v1.3h-1.3zM489.5 539h1.3v1.3h-1.3zM457 571.5h1.3v1.3h-1.3zM467.5 565h1.3v1.3h-1.3zM448.5 578.5h1.3v1.3h-1.3zM473 560.5h1.3v1.3h-1.3zM459 563h1.3v1.3h-1.3zM455.5 558h1.3v1.3h-1.3zM488.5 545h1.3v1.3h-1.3zM484.5 537h1.3v1.3h-1.3zM478 545h1.3v1.3h-1.3zM488.5 542h1.3v1.3h-1.3zM455.5 559h1.3v1.3h-1.3zM486.5 545h1.3v1.3h-1.3zM468.5 557h1.3v1.3h-1.3zM448 579h1.3v1.3h-1.3zM452 564.5h1.3v1.3h-1.3zM457.5 558h1.3v1.3h-1.3zM457.5 557h1.3v1.3h-1.3zM451 569.5h1.3v1.3h-1.3zM452 578.5h1.3v1.3h-1.3zM449 576h1.3v1.3h-1.3zM465 556h1.3v1.3h-1.3zM441 584.5h1.3v1.3h-1.3zM465.5 554h1.3v1.3h-1.3zM452.5 560h1.3v1.3h-1.3zM475.5 547.5h1.3v1.3h-1.3zM451.5 576h1.3v1.3h-1.3zM436 580h1.3v1.3h-1.3zM503.5 526h1.3v1.3h-1.3zM461 554.5h1.3v1.3h-1.3zM451 569h1.3v1.3h-1.3zM433.5 579.5h1.3v1.3h-1.3zM461.5 554.5h1.3v1.3h-1.3zM465.5 551h1.3v1.3h-1.3zM457 572.5h1.3v1.3h-1.3zM441.5 581h1.3v1.3h-1.3zM444 575h1.3v1.3h-1.3zM438 580.5h1.3v1.3h-1.3zM469 550h1.3v1.3h-1.3zM446 571.5h1.3v1.3h-1.3zM459.5 565.5h1.3v1.3h-1.3zM467 559.5h1.3v1.3h-1.3zM489 532h1.3v1.3h-1.3zM439.5 588.5h1.3v1.3h-1.3zM480 537h1.3v1.3h-1.3zM454 573.5h1.3v1.3h-1.3zM500.5 526h1.3v1.3h-1.3zM451 574.5h1.3v1.3h-1.3zM485.5 541.5h1.3v1.3h-1.3zM468 556.5h1.3v1.3h-1.3zM482.5 544.5h1.3v1.3h-1.3zM488.5 530h1.3v1.3h-1.3zM474 558.5h1.3v1.3h-1.3zM469.5 557.5h1.3v1.3h-1.3zM445.5 569h1.3v1.3h-1.3zM457.5 564.5h1.3v1.3h-1.3zM473.5 559h1.3v1.3h-1.3zM503 532.5h1.3v1.3h-1.3zM481.5 550.5h1.3v1.3h-1.3zM454 564h1.3v1.3h-1.3zM480.5 539.5h1.3v1.3h-1.3zM483.5 550.5h1.3v1.3h-1.3zM445.5 579h1.3v1.3h-1.3zM454.5 564h1.3v1.3h-1.3zM469 551.5h1.3v1.3h-1.3zM443.5 572h1.3v1.3h-1.3zM455.5 569.5h1.3v1.3h-1.3zM498.5 526h1.3v1.3h-1.3zM481 543h1.3v1.3h-1.3zM487 535.5h1.3v1.3h-1.3zM483.5 542h1.3v1.3h-1.3zM477 549.5h1.3v1.3h-1.3zM485 541.5h1.3v1.3h-1.3zM458 561h1.3v1.3h-1.3zM447 566h1.3v1.3h-1.3zM476.5 556.5h1.3v1.3h-1.3zM467 554h1.3v1.3h-1.3zM446.5 569h1.3v1.3h-1.3zM478.5 537.5h1.3v1.3h-1.3zM456 570h1.3v1.3h-1.3zM450.5 571h1.3v1.3h-1.3zM468 558h1.3v1.3h-1.3zM453 568.5h1.3v1.3h-1.3zM465.5 556.5h1.3v1.3h-1.3zM462.5 565h1.3v1.3h-1.3zM476.5 542h1.3v1.3h-1.3zM449.5 566.5h1.3v1.3h-1.3zM488 530h1.3v1.3h-1.3zM480.5 536.5h1.3v1.3h-1.3zM470 548h1.3v1.3h-1.3zM469 556.5h1.3v1.3h-1.3zM436 581h1.3v1.3h-1.3zM461 567.5h1.3v1.3h-1.3zM455 566h1.3v1.3h-1.3zM471 546.5h1.3v1.3h-1.3zM441.5 578h1.3v1.3h-1.3zM469 554.5h1.3v1.3h-1.3zM463 558h1.3v1.3h-1.3zM450.5 576h1.3v1.3h-1.3zM448.5 569h1.3v1.3h-1.3zM462 552.5h1.3v1.3h-1.3zM464.5 560.5h1.3v1.3h-1.3zM479 548.5h1.3v1.3h-1.3zM462.5 553h1.3v1.3h-1.3zM456 561h1.3v1.3h-1.3zM446 569.5h1.3v1.3h-1.3zM456.5 559h1.3v1.3h-1.3zM484.5 549.5h1.3v1.3h-1.3zM450.5 562.5h1.3v1.3h-1.3zM455.5 558.5h1.3v1.3h-1.3zM474.5 541.5h1.3v1.3h-1.3zM447.5 579h1.3v1.3h-1.3zM478 544h1.3v1.3h-1.3zM443 573h1.3v1.3h-1.3zM467.5 553h1.3v1.3h-1.3zM460 567.5h1.3v1.3h-1.3zM447.5 565.5h1.3v1.3h-1.3zM484.5 544h1.3v1.3h-1.3zM471 557h1.3v1.3h-1.3zM470 551.5h1.3v1.3h-1.3zM458.5 562h1.3v1.3h-1.3zM471.5 553h1.3v1.3h-1.3zM467 563.5h1.3v1.3h-1.3zM478.5 536.5h1.3v1.3h-1.3zM498.5 528h1.3v1.3h-1.3zM465 565.5h1.3v1.3h-1.3zM451.5 577.5h1.3v1.3h-1.3zM441 583h1.3v1.3h-1.3zM476.5 555.5h1.3v1.3h-1.3zM481.5 541h1.3v1.3h-1.3zM460 568h1.3v1.3h-1.3zM481.5 543h1.3v1.3h-1.3zM434 583.5h1.3v1.3h-1.3zM440.5 580.5h1.3v1.3h-1.3zM447.5 576.5h1.3v1.3h-1.3zM501 527h1.3v1.3h-1.3zM504 520.5h1.3v1.3h-1.3zM478.5 552.5h1.3v1.3h-1.3zM474.5 546.5h1.3v1.3h-1.3zM446.5 581.5h1.3v1.3h-1.3zM456 557h1.3v1.3h-1.3zM448.5 566h1.3v1.3h-1.3zM487 537.5h1.3v1.3h-1.3zM470.5 559.5h1.3v1.3h-1.3zM461 568h1.3v1.3h-1.3zM478 554.5h1.3v1.3h-1.3zM475 544h1.3v1.3h-1.3zM467.5 548h1.3v1.3h-1.3zM447 575.5h1.3v1.3h-1.3zM476 555h1.3v1.3h-1.3zM449 563h1.3v1.3h-1.3zM454.5 559h1.3v1.3h-1.3zM446.5 568h1.3v1.3h-1.3zM441 578h1.3v1.3h-1.3zM482.5 546.5h1.3v1.3h-1.3zM473.5 541h1.3v1.3h-1.3zM451.5 565.5h1.3v1.3h-1.3zM486.5 542.5h1.3v1.3h-1.3zM459 556.5h1.3v1.3h-1.3zM477.5 539.5h1.3v1.3h-1.3zM461 569h1.3v1.3h-1.3zM442 584h1.3v1.3h-1.3zM475.5 554.5h1.3v1.3h-1.3zM448 571h1.3v1.3h-1.3zM488.5 538h1.3v1.3h-1.3zM475 546.5h1.3v1.3h-1.3zM461.5 562h1.3v1.3h-1.3zM492.5 536h1.3v1.3h-1.3zM467 561.5h1.3v1.3h-1.3zM464.5 554.5h1.3v1.3h-1.3zM439 577h1.3v1.3h-1.3zM456.5 565.5h1.3v1.3h-1.3zM443.5 573.5h1.3v1.3h-1.3zM446.5 572h1.3v1.3h-1.3zM435 584.5h1.3v1.3h-1.3zM456.5 556.5h1.3v1.3h-1.3zM501.5 517.5h1.3v1.3h-1.3zM456.5 563h1.3v1.3h-1.3zM446 570.5h1.3v1.3h-1.3zM467.5 556.5h1.3v1.3h-1.3zM452 577h1.3v1.3h-1.3zM462.5 552h1.3v1.3h-1.3zM451.5 568.5h1.3v1.3h-1.3zM464.5 556h1.3v1.3h-1.3zM479 552h1.3v1.3h-1.3zM492 535.5h1.3v1.3h-1.3zM489 540.5h1.3v1.3h-1.3zM484 541h1.3v1.3h-1.3zM465.5 558.5h1.3v1.3h-1.3zM474 551.5h1.3v1.3h-1.3zM487.5 536.5h1.3v1.3h-1.3zM493.5 532.5h1.3v1.3h-1.3zM494.5 533h1.3v1.3h-1.3zM462 562h1.3v1.3h-1.3zM445 582.5h1.3v1.3h-1.3zM499 529h1.3v1.3h-1.3zM446.5 582.5h1.3v1.3h-1.3zM439 583h1.3v1.3h-1.3zM463 559.5h1.3v1.3h-1.3zM443 578.5h1.3v1.3h-1.3zM475.5 540.5h1.3v1.3h-1.3zM457 571h1.3v1.3h-1.3zM439.5 578h1.3v1.3h-1.3zM480.5 552h1.3v1.3h-1.3zM447.5 567.5h1.3v1.3h-1.3zM472 554.5h1.3v1.3h-1.3zM481 553h1.3v1.3h-1.3zM484.5 538.5h1.3v1.3h-1.3zM463.5 553h1.3v1.3h-1.3zM487 546.5h1.3v1.3h-1.3zM484 543h1.3v1.3h-1.3zM450 573h1.3v1.3h-1.3zM459 567h1.3v1.3h-1.3zM450.5 573h1.3v1.3h-1.3zM482 552h1.3v1.3h-1.3zM467.5 552.5h1.3v1.3h-1.3zM456 560.5h1.3v1.3h-1.3zM463.5 555h1.3v1.3h-1.3zM489.5 537.5h1.3v1.3h-1.3zM450.5 580.5h1.3v1.3h-1.3zM473 551h1.3v1.3h-1.3zM475 544.5h1.3v1.3h-1.3zM494.5 522.5h1.3v1.3h-1.3zM440.5 578.5h1.3v1.3h-1.3zM483.5 536.5h1.3v1.3h-1.3zM458 558h1.3v1.3h-1.3zM456 556.5h1.3v1.3h-1.3zM473.5 549.5h1.3v1.3h-1.3zM472 547.5h1.3v1.3h-1.3zM483 548.5h1.3v1.3h-1.3zM453 565.5h1.3v1.3h-1.3zM452 565.5h1.3v1.3h-1.3zM456.5 564h1.3v1.3h-1.3zM448 573.5h1.3v1.3h-1.3zM452 579h1.3v1.3h-1.3zM495.5 534.5h1.3v1.3h-1.3zM447.5 573.5h1.3v1.3h-1.3zM507.5 518.5h1.3v1.3h-1.3zM441 583.5h1.3v1.3h-1.3zM460 571.5h1.3v1.3h-1.3zM478 544.5h1.3v1.3h-1.3zM474 559h1.3v1.3h-1.3zM440 576h1.3v1.3h-1.3zM471 547.5h1.3v1.3h-1.3zM482.5 543.5h1.3v1.3h-1.3zM473 555h1.3v1.3h-1.3zM461 566h1.3v1.3h-1.3zM504 527h1.3v1.3h-1.3zM450.5 568h1.3v1.3h-1.3zM452 568h1.3v1.3h-1.3zM476 539h1.3v1.3h-1.3zM467 560.5h1.3v1.3h-1.3zM485 537h1.3v1.3h-1.3zM455 569.5h1.3v1.3h-1.3zM482.5 542.5h1.3v1.3h-1.3zM466 552h1.3v1.3h-1.3zM456.5 560.5h1.3v1.3h-1.3zM453.5 570.5h1.3v1.3h-1.3zM450.5 570.5h1.3v1.3h-1.3zM494 528h1.3v1.3h-1.3zM473 553h1.3v1.3h-1.3zM480.5 545h1.3v1.3h-1.3zM438.5 576.5h1.3v1.3h-1.3zM455 563.5h1.3v1.3h-1.3zM480.5 540h1.3v1.3h-1.3zM475 539.5h1.3v1.3h-1.3zM455.5 563h1.3v1.3h-1.3zM448.5 565h1.3v1.3h-1.3zM483 547.5h1.3v1.3h-1.3zM510.5 518h1.3v1.3h-1.3zM447 584.5h1.3v1.3h-1.3zM461.5 563.5h1.3v1.3h-1.3zM468.5 550.5h1.3v1.3h-1.3zM454 561.5h1.3v1.3h-1.3zM443.5 579h1.3v1.3h-1.3zM450.5 567h1.3v1.3h-1.3zM443.5 569.5h1.3v1.3h-1.3zM482 546h1.3v1.3h-1.3zM476.5 546h1.3v1.3h-1.3zM455 564.5h1.3v1.3h-1.3zM447.5 570h1.3v1.3h-1.3zM471.5 545h1.3v1.3h-1.3zM447.5 572h1.3v1.3h-1.3zM455 564h1.3v1.3h-1.3zM439.5 580.5h1.3v1.3h-1.3zM473.5 553.5h1.3v1.3h-1.3zM448.5 582h1.3v1.3h-1.3zM451.5 567.5h1.3v1.3h-1.3zM490 542h1.3v1.3h-1.3zM439 589h1.3v1.3h-1.3zM475 552.5h1.3v1.3h-1.3zM442 588.5h1.3v1.3h-1.3zM443.5 574h1.3v1.3h-1.3zM454.5 575h1.3v1.3h-1.3zM438.5 575h1.3v1.3h-1.3zM448 569h1.3v1.3h-1.3zM455.5 570h1.3v1.3h-1.3zM481.5 546h1.3v1.3h-1.3zM459.5 569.5h1.3v1.3h-1.3zM450 566h1.3v1.3h-1.3zM444 577.5h1.3v1.3h-1.3zM435.5 575.5h1.3v1.3h-1.3zM481.5 552h1.3v1.3h-1.3zM436.5 578h1.3v1.3h-1.3zM477 556.5h1.3v1.3h-1.3zM481.5 548.5h1.3v1.3h-1.3zM459.5 572h1.3v1.3h-1.3zM454.5 560.5h1.3v1.3h-1.3zM433.5 583.5h1.3v1.3h-1.3zM471.5 550h1.3v1.3h-1.3zM457 568.5h1.3v1.3h-1.3zM476.5 550h1.3v1.3h-1.3zM477 553h1.3v1.3h-1.3zM486 539.5h1.3v1.3h-1.3zM458.5 571.5h1.3v1.3h-1.3zM497 534.5h1.3v1.3h-1.3zM479 550h1.3v1.3h-1.3zM449 565h1.3v1.3h-1.3zM463.5 564h1.3v1.3h-1.3zM474.5 552.5h1.3v1.3h-1.3zM474 555.5h1.3v1.3h-1.3zM491 534.5h1.3v1.3h-1.3zM447.5 567h1.3v1.3h-1.3zM471.5 548h1.3v1.3h-1.3zM444.5 581h1.3v1.3h-1.3zM462.5 562.5h1.3v1.3h-1.3zM451.5 561.5h1.3v1.3h-1.3zM488 543h1.3v1.3h-1.3zM486 542.5h1.3v1.3h-1.3zM472.5 554h1.3v1.3h-1.3zM474 541h1.3v1.3h-1.3zM478.5 551.5h1.3v1.3h-1.3zM453 575.5h1.3v1.3h-1.3zM470.5 560.5h1.3v1.3h-1.3zM454 566h1.3v1.3h-1.3zM448 566h1.3v1.3h-1.3zM455 575.5h1.3v1.3h-1.3zM473.5 556h1.3v1.3h-1.3zM446.5 584.5h1.3v1.3h-1.3zM461.5 564h1.3v1.3h-1.3zM474 557.5h1.3v1.3h-1.3zM476.5 545.5h1.3v1.3h-1.3zM485 544.5h1.3v1.3h-1.3zM474 558h1.3v1.3h-1.3zM453 566h1.3v1.3h-1.3zM467.5 552h1.3v1.3h-1.3zM450.5 577h1.3v1.3h-1.3zM483 546h1.3v1.3h-1.3zM462.5 550.5h1.3v1.3h-1.3zM455.5 562h1.3v1.3h-1.3zM438 573.5h1.3v1.3h-1.3zM482 541.5h1.3v1.3h-1.3zM441 573.5h1.3v1.3h-1.3zM488 529h1.3v1.3h-1.3zM456.5 568h1.3v1.3h-1.3zM465 566h1.3v1.3h-1.3zM473 548h1.3v1.3h-1.3zM447 571.5h1.3v1.3h-1.3zM481 535.5h1.3v1.3h-1.3zM453 574h1.3v1.3h-1.3zM474 544.5h1.3v1.3h-1.3zM438.5 573h1.3v1.3h-1.3zM453.5 575.5h1.3v1.3h-1.3zM495.5 523h1.3v1.3h-1.3zM453.5 572h1.3v1.3h-1.3zM453 577h1.3v1.3h-1.3zM445 578.5h1.3v1.3h-1.3zM436.5 582.5h1.3v1.3h-1.3zM485 546h1.3v1.3h-1.3zM470.5 560h1.3v1.3h-1.3zM463 563h1.3v1.3h-1.3zM457 570.5h1.3v1.3h-1.3zM470 543.5h1.3v1.3h-1.3zM453.5 563.5h1.3v1.3h-1.3zM448.5 571.5h1.3v1.3h-1.3zM465 567h1.3v1.3h-1.3zM450 565h1.3v1.3h-1.3zM448 571.5h1.3v1.3h-1.3zM455 570h1.3v1.3h-1.3zM439.5 582h1.3v1.3h-1.3zM468 549h1.3v1.3h-1.3zM489.5 536h1.3v1.3h-1.3zM461.5 567.5h1.3v1.3h-1.3zM453.5 574.5h1.3v1.3h-1.3zM462 566h1.3v1.3h-1.3zM457.5 563h1.3v1.3h-1.3zM445.5 573.5h1.3v1.3h-1.3zM484.5 542.5h1.3v1.3h-1.3zM483.5 547h1.3v1.3h-1.3zM457 563.5h1.3v1.3h-1.3zM477.5 555.5h1.3v1.3h-1.3zM494 527h1.3v1.3h-1.3zM442.5 574h1.3v1.3h-1.3zM475.5 549h1.3v1.3h-1.3zM475.5 551h1.3v1.3h-1.3zM494 529.5h1.3v1.3h-1.3zM470.5 544h1.3v1.3h-1.3zM492.5 537h1.3v1.3h-1.3zM448 564h1.3v1.3h-1.3zM487.5 545h1.3v1.3h-1.3zM452.5 569h1.3v1.3h-1.3zM454 570.5h1.3v1.3h-1.3zM483 545.5h1.3v1.3h-1.3zM488.5 536h1.3v1.3h-1.3zM453.5 567.5h1.3v1.3h-1.3zM485.5 539.5h1.3v1.3h-1.3zM516.5 515h1.3v1.3h-1.3zM520.5 504.5h1.3v1.3h-1.3zM583 448h1.3v1.3h-1.3zM516.5 511.5h1.3v1.3h-1.3zM606.5 429h1.3v1.3h-1.3zM480 542h1.3v1.3h-1.3zM536 492.5h1.3v1.3h-1.3zM499 517.5h1.3v1.3h-1.3zM616.5 418h1.3v1.3h-1.3zM494.5 529.5h1.3v1.3h-1.3zM534.5 494.5h1.3v1.3h-1.3zM491.5 531.5h1.3v1.3h-1.3zM486.5 543.5h1.3v1.3h-1.3zM480 535.5h1.3v1.3h-1.3zM572.5 457h1.3v1.3h-1.3zM466.5 565h1.3v1.3h-1.3zM518 509h1.3v1.3h-1.3zM474 543h1.3v1.3h-1.3zM512 512h1.3v1.3h-1.3zM485 543h1.3v1.3h-1.3zM501.5 522.5h1.3v1.3h-1.3zM470 555.5h1.3v1.3h-1.3zM478.5 540.5h1.3v1.3h-1.3zM485.5 533.5h1.3v1.3h-1.3zM510.5 517.5h1.3v1.3h-1.3zM470.5 544.5h1.3v1.3h-1.3zM485.5 547.5h1.3v1.3h-1.3zM503.5 522.5h1.3v1.3h-1.3zM480.5 540.5h1.3v1.3h-1.3zM526.5 499.5h1.3v1.3h-1.3zM480.5 547.5h1.3v1.3h-1.3zM570.5 458h1.3v1.3h-1.3zM535.5 494.5h1.3v1.3h-1.3zM485.5 538h1.3v1.3h-1.3zM479 546h1.3v1.3h-1.3zM490 530.5h1.3v1.3h-1.3zM498.5 530h1.3v1.3h-1.3zM514.5 511.5h1.3v1.3h-1.3zM547.5 484.5h1.3v1.3h-1.3zM551.5 475.5h1.3v1.3h-1.3zM579 453.5h1.3v1.3h-1.3zM503 529h1.3v1.3h-1.3zM521.5 509.5h1.3v1.3h-1.3zM553 482.5h1.3v1.3h-1.3zM476 546h1.3v1.3h-1.3zM488 536.5h1.3v1.3h-1.3zM553.5 476h1.3v1.3h-1.3zM477 537h1.3v1.3h-1.3zM486.5 538h1.3v1.3h-1.3zM534.5 491.5h1.3v1.3h-1.3zM532 500.5h1.3v1.3h-1.3zM474.5 551.5h1.3v1.3h-1.3zM523.5 506h1.3v1.3h-1.3zM512.5 518.5h1.3v1.3h-1.3zM479.5 548.5h1.3v1.3h-1.3zM562.5 469.5h1.3v1.3h-1.3zM508 517.5h1.3v1.3h-1.3zM519.5 507h1.3v1.3h-1.3zM463.5 552.5h1.3v1.3h-1.3zM590.5 442h1.3v1.3h-1.3zM485.5 538.5h1.3v1.3h-1.3zM477.5 541.5h1.3v1.3h-1.3zM484 538h1.3v1.3h-1.3zM524.5 503h1.3v1.3h-1.3zM497 525.5h1.3v1.3h-1.3zM524 506h1.3v1.3h-1.3zM512.5 511h1.3v1.3h-1.3zM590.5 439h1.3v1.3h-1.3zM539.5 491h1.3v1.3h-1.3zM463 561h1.3v1.3h-1.3zM500 526.5h1.3v1.3h-1.3zM558 470.5h1.3v1.3h-1.3zM518.5 515.5h1.3v1.3h-1.3zM532 494h1.3v1.3h-1.3zM520.5 505.5h1.3v1.3h-1.3zM476 538h1.3v1.3h-1.3zM523.5 508h1.3v1.3h-1.3zM487.5 528h1.3v1.3h-1.3zM516 504h1.3v1.3h-1.3zM501 525h1.3v1.3h-1.3zM566.5 465h1.3v1.3h-1.3zM504 524h1.3v1.3h-1.3zM505 518.5h1.3v1.3h-1.3zM486 540.5h1.3v1.3h-1.3zM564 467h1.3v1.3h-1.3zM473.5 550h1.3v1.3h-1.3zM475.5 550.5h1.3v1.3h-1.3zM514 510.5h1.3v1.3h-1.3zM482.5 541h1.3v1.3h-1.3zM492 533h1.3v1.3h-1.3zM610 427.5h1.3v1.3h-1.3zM470 560h1.3v1.3h-1.3zM496.5 538h1.3v1.3h-1.3zM495.5 536h1.3v1.3h-1.3zM464 553.5h1.3v1.3h-1.3zM496 530.5h1.3v1.3h-1.3zM499 530.5h1.3v1.3h-1.3zM528.5 499.5h1.3v1.3h-1.3zM529 505.5h1.3v1.3h-1.3zM533.5 490.5h1.3v1.3h-1.3zM529 495.5h1.3v1.3h-1.3zM520 507.5h1.3v1.3h-1.3zM518.5 511.5h1.3v1.3h-1.3zM567 464.5h1.3v1.3h-1.3zM626.5 408h1.3v1.3h-1.3zM580 450.5h1.3v1.3h-1.3zM544 487.5h1.3v1.3h-1.3zM478.5 545h1.3v1.3h-1.3zM535.5 489h1.3v1.3h-1.3zM479 536h1.3v1.3h-1.3zM565.5 468.5h1.3v1.3h-1.3zM488 533.5h1.3v1.3h-1.3zM614 417.5h1.3v1.3h-1.3zM496 523.5h1.3v1.3h-1.3zM543 488.5h1.3v1.3h-1.3zM468 555h1.3v1.3h-1.3zM534.5 487h1.3v1.3h-1.3zM490.5 531h1.3v1.3h-1.3zM462 555h1.3v1.3h-1.3zM507 520h1.3v1.3h-1.3zM513.5 514h1.3v1.3h-1.3zM468.5 549.5h1.3v1.3h-1.3zM587 445h1.3v1.3h-1.3zM527 495.5h1.3v1.3h-1.3zM528.5 502h1.3v1.3h-1.3zM515.5 514.5h1.3v1.3h-1.3zM476.5 545h1.3v1.3h-1.3zM466.5 565.5h1.3v1.3h-1.3zM611 422h1.3v1.3h-1.3zM520.5 502h1.3v1.3h-1.3zM505 513.5h1.3v1.3h-1.3zM514.5 517h1.3v1.3h-1.3zM501 526.5h1.3v1.3h-1.3zM503.5 519h1.3v1.3h-1.3zM521 504.5h1.3v1.3h-1.3zM482.5 551h1.3v1.3h-1.3zM585 446h1.3v1.3h-1.3zM504 520h1.3v1.3h-1.3zM553.5 475.5h1.3v1.3h-1.3zM482 543.5h1.3v1.3h-1.3zM499 525h1.3v1.3h-1.3zM545 484.5h1.3v1.3h-1.3zM565.5 463.5h1.3v1.3h-1.3zM550 478h1.3v1.3h-1.3zM508 523.5h1.3v1.3h-1.3zM536.5 489h1.3v1.3h-1.3zM537 490h1.3v1.3h-1.3zM543 490h1.3v1.3h-1.3zM572 458.5h1.3v1.3h-1.3zM494 530h1.3v1.3h-1.3zM562 465.5h1.3v1.3h-1.3zM486.5 538.5h1.3v1.3h-1.3zM509 517h1.3v1.3h-1.3zM534 493h1.3v1.3h-1.3zM460 554h1.3v1.3h-1.3zM545.5 481h1.3v1.3h-1.3zM494 522.5h1.3v1.3h-1.3zM470 547h1.3v1.3h-1.3zM585.5 443.5h1.3v1.3h-1.3zM567.5 464.5h1.3v1.3h-1.3zM491.5 529.5h1.3v1.3h-1.3zM529 496.5h1.3v1.3h-1.3zM481 548h1.3v1.3h-1.3zM562.5 468h1.3v1.3h-1.3zM494 532h1.3v1.3h-1.3zM538.5 491h1.3v1.3h-1.3zM493.5 535h1.3v1.3h-1.3zM545 483h1.3v1.3h-1.3zM479.5 544h1.3v1.3h-1.3zM483.5 540.5h1.3v1.3h-1.3zM513 517h1.3v1.3h-1.3zM500 523.5h1.3v1.3h-1.3zM480 542.5h1.3v1.3h-1.3zM634 401h1.3v1.3h-1.3zM502.5 528.5h1.3v1.3h-1.3zM501 517h1.3v1.3h-1.3zM496.5 526h1.3v1.3h-1.3zM504.5 526h1.3v1.3h-1.3zM604 427.5h1.3v1.3h-1.3zM627 407.5h1.3v1.3h-1.3zM595.5 437h1.3v1.3h-1.3zM472 545h1.3v1.3h-1.3zM549 478.5h1.3v1.3h-1.3zM525.5 508h1.3v1.3h-1.3zM475 552h1.3v1.3h-1.3zM537.5 487h1.3v1.3h-1.3zM543.5 479.5h1.3v1.3h-1.3zM476 554.5h1.3v1.3h-1.3zM514.5 508h1.3v1.3h-1.3zM498 534.5h1.3v1.3h-1.3zM495.5 524h1.3v1.3h-1.3zM485.5 540.5h1.3v1.3h-1.3zM553 473.5h1.3v1.3h-1.3zM505 524h1.3v1.3h-1.3zM487 542.5h1.3v1.3h-1.3zM562.5 470.5h1.3v1.3h-1.3zM489.5 545h1.3v1.3h-1.3zM532 499h1.3v1.3h-1.3zM513 513.5h1.3v1.3h-1.3zM471 554.5h1.3v1.3h-1.3zM585.5 447.5h1.3v1.3h-1.3zM502 522h1.3v1.3h-1.3zM477.5 553.5h1.3v1.3h-1.3zM592 444.5h1.3v1.3h-1.3zM501 533.5h1.3v1.3h-1.3zM501 528h1.3v1.3h-1.3zM478.5 547.5h1.3v1.3h-1.3zM542 484h1.3v1.3h-1.3zM504.5 522.5h1.3v1.3h-1.3zM506 517h1.3v1.3h-1.3zM574 460h1.3v1.3h-1.3zM517 511.5h1.3v1.3h-1.3zM615 420h1.3v1.3h-1.3zM471 561h1.3v1.3h-1.3zM573 455.5h1.3v1.3h-1.3zM514 514h1.3v1.3h-1.3zM506.5 514.5h1.3v1.3h-1.3zM488.5 544.5h1.3v1.3h-1.3zM509.5 521h1.3v1.3h-1.3zM535.5 491h1.3v1.3h-1.3zM595.5 438h1.3v1.3h-1.3zM506 524.5h1.3v1.3h-1.3zM473.5 549h1.3v1.3h-1.3zM511 518h1.3v1.3h-1.3zM591 446.5h1.3v1.3h-1.3zM495.5 531h1.3v1.3h-1.3zM487.5 546.5h1.3v1.3h-1.3zM512 514h1.3v1.3h-1.3zM497 522.5h1.3v1.3h-1.3zM501.5 523h1.3v1.3h-1.3zM555.5 479.5h1.3v1.3h-1.3zM525 504h1.3v1.3h-1.3zM486 541.5h1.3v1.3h-1.3zM562.5 470h1.3v1.3h-1.3zM507.5 517h1.3v1.3h-1.3zM508 516h1.3v1.3h-1.3zM520.5 506h1.3v1.3h-1.3zM525.5 498.5h1.3v1.3h-1.3zM513.5 520.5h1.3v1.3h-1.3zM539.5 488h1.3v1.3h-1.3zM532 492h1.3v1.3h-1.3zM509 515.5h1.3v1.3h-1.3zM529 499.5h1.3v1.3h-1.3zM460.5 556.5h1.3v1.3h-1.3zM511 509h1.3v1.3h-1.3zM508.5 523.5h1.3v1.3h-1.3zM523 511h1.3v1.3h-1.3zM612 424h1.3v1.3h-1.3zM532.5 498.5h1.3v1.3h-1.3zM630.5 403h1.3v1.3h-1.3zM524 503.5h1.3v1.3h-1.3zM467.5 554h1.3v1.3h-1.3zM619 418.5h1.3v1.3h-1.3zM532 495h1.3v1.3h-1.3zM587 444.5h1.3v1.3h-1.3zM498 530.5h1.3v1.3h-1.3zM529.5 497.5h1.3v1.3h-1.3zM503 522h1.3v1.3h-1.3zM472 548h1.3v1.3h-1.3zM514.5 512h1.3v1.3h-1.3zM490 526.5h1.3v1.3h-1.3zM536.5 494h1.3v1.3h-1.3zM485.5 541h1.3v1.3h-1.3zM494.5 533.5h1.3v1.3h-1.3zM490.5 530.5h1.3v1.3h-1.3zM513.5 516.5h1.3v1.3h-1.3zM577.5 457h1.3v1.3h-1.3zM470 558h1.3v1.3h-1.3zM509.5 523h1.3v1.3h-1.3zM590 441.5h1.3v1.3h-1.3zM556.5 471.5h1.3v1.3h-1.3zM576.5 454h1.3v1.3h-1.3zM506 518.5h1.3v1.3h-1.3zM506.5 521h1.3v1.3h-1.3zM539.5 494h1.3v1.3h-1.3zM493.5 537h1.3v1.3h-1.3zM491 525.5h1.3v1.3h-1.3zM611.5 424.5h1.3v1.3h-1.3zM505.5 522.5h1.3v1.3h-1.3zM497 534h1.3v1.3h-1.3zM505 523h1.3v1.3h-1.3zM533 495.5h1.3v1.3h-1.3zM503.5 516.5h1.3v1.3h-1.3zM467.5 561h1.3v1.3h-1.3zM526.5 503.5h1.3v1.3h-1.3zM467.5 548.5h1.3v1.3h-1.3zM609.5 424h1.3v1.3h-1.3zM585 448h1.3v1.3h-1.3zM525.5 505.5h1.3v1.3h-1.3zM485.5 545h1.3v1.3h-1.3zM472.5 557.5h1.3v1.3h-1.3zM476 553.5h1.3v1.3h-1.3zM476.5 542.5h1.3v1.3h-1.3zM501 522.5h1.3v1.3h-1.3zM574 455.5h1.3v1.3h-1.3zM488.5 535h1.3v1.3h-1.3zM501 515.5h1.3v1.3h-1.3zM501 529.5h1.3v1.3h-1.3zM483 534.5h1.3v1.3h-1.3zM505 521.5h1.3v1.3h-1.3zM497.5 528h1.3v1.3h-1.3zM488.5 531h1.3v1.3h-1.3zM549 480h1.3v1.3h-1.3zM568.5 460h1.3v1.3h-1.3zM531 499.5h1.3v1.3h-1.3zM570 464h1.3v1.3h-1.3zM510 513h1.3v1.3h-1.3zM585.5 446h1.3v1.3h-1.3zM525 497.5h1.3v1.3h-1.3zM464.5 557h1.3v1.3h-1.3zM493.5 530.5h1.3v1.3h-1.3zM495 535.5h1.3v1.3h-1.3zM550 477h1.3v1.3h-1.3zM490 543.5h1.3v1.3h-1.3zM570 458.5h1.3v1.3h-1.3zM521.5 508h1.3v1.3h-1.3zM489.5 534.5h1.3v1.3h-1.3zM488.5 535.5h1.3v1.3h-1.3zM503 522.5h1.3v1.3h-1.3zM486 534h1.3v1.3h-1.3zM535 493h1.3v1.3h-1.3zM547 480h1.3v1.3h-1.3zM509 527h1.3v1.3h-1.3zM516.5 514h1.3v1.3h-1.3zM604 429h1.3v1.3h-1.3zM616 416.5h1.3v1.3h-1.3zM521.5 510h1.3v1.3h-1.3zM515 509.5h1.3v1.3h-1.3zM538 497h1.3v1.3h-1.3zM465.5 557.5h1.3v1.3h-1.3zM513.5 508.5h1.3v1.3h-1.3zM585.5 445h1.3v1.3h-1.3zM515 508.5h1.3v1.3h-1.3zM591 441.5h1.3v1.3h-1.3zM559 473h1.3v1.3h-1.3zM513 518.5h1.3v1.3h-1.3zM535 499.5h1.3v1.3h-1.3zM475 549.5h1.3v1.3h-1.3zM500.5 521.5h1.3v1.3h-1.3zM536.5 492.5h1.3v1.3h-1.3zM516.5 511h1.3v1.3h-1.3zM519 518h1.3v1.3h-1.3zM598.5 433.5h1.3v1.3h-1.3zM474 549.5h1.3v1.3h-1.3zM470 550.5h1.3v1.3h-1.3zM545 485.5h1.3v1.3h-1.3zM479.5 540h1.3v1.3h-1.3zM579.5 454h1.3v1.3h-1.3zM525 503h1.3v1.3h-1.3zM564 466h1.3v1.3h-1.3zM513 510h1.3v1.3h-1.3zM485 537.5h1.3v1.3h-1.3zM562.5 467.5h1.3v1.3h-1.3zM490 534h1.3v1.3h-1.3zM473 547.5h1.3v1.3h-1.3zM490 532h1.3v1.3h-1.3zM590 442.5h1.3v1.3h-1.3zM465.5 557h1.3v1.3h-1.3zM506 525.5h1.3v1.3h-1.3zM544.5 485.5h1.3v1.3h-1.3zM507.5 515h1.3v1.3h-1.3zM506.5 517h1.3v1.3h-1.3zM522 507h1.3v1.3h-1.3zM502.5 522.5h1.3v1.3h-1.3zM545 479.5h1.3v1.3h-1.3zM617 416.5h1.3v1.3h-1.3zM521.5 509h1.3v1.3h-1.3zM539 495h1.3v1.3h-1.3zM471 553h1.3v1.3h-1.3zM549 486h1.3v1.3h-1.3zM510.5 518.5h1.3v1.3h-1.3zM496 532.5h1.3v1.3h-1.3zM522.5 506h1.3v1.3h-1.3zM504 517.5h1.3v1.3h-1.3zM474 547.5h1.3v1.3h-1.3zM482 533h1.3v1.3h-1.3zM587.5 442h1.3v1.3h-1.3zM494.5 530h1.3v1.3h-1.3zM568 465h1.3v1.3h-1.3zM533 495h1.3v1.3h-1.3zM526.5 503h1.3v1.3h-1.3zM587 447h1.3v1.3h-1.3zM525.5 504h1.3v1.3h-1.3zM469 552.5h1.3v1.3h-1.3zM541 488.5h1.3v1.3h-1.3zM462.5 554.5h1.3v1.3h-1.3zM494 539h1.3v1.3h-1.3zM466.5 550h1.3v1.3h-1.3zM605.5 427h1.3v1.3h-1.3zM488.5 539.5h1.3v1.3h-1.3zM513.5 515h1.3v1.3h-1.3zM617 419h1.3v1.3h-1.3zM574 454.5h1.3v1.3h-1.3zM538.5 492h1.3v1.3h-1.3zM463 552h1.3v1.3h-1.3zM548 482.5h1.3v1.3h-1.3zM533.5 494.5h1.3v1.3h-1.3zM569.5 459h1.3v1.3h-1.3zM546 482h1.3v1.3h-1.3zM519.5 510.5h1.3v1.3h-1.3zM503.5 528h1.3v1.3h-1.3zM536.5 493.5h1.3v1.3h-1.3zM511.5 520.5h1.3v1.3h-1.3zM626 409.5h1.3v1.3h-1.3zM470 548.5h1.3v1.3h-1.3zM514 512h1.3v1.3h-1.3zM511 518.5h1.3v1.3h-1.3zM622 413h1.3v1.3h-1.3zM550.5 478h1.3v1.3h-1.3zM548 479.5h1.3v1.3h-1.3zM480.5 551.5h1.3v1.3h-1.3zM495 538.5h1.3v1.3h-1.3zM494.5 526h1.3v1.3h-1.3zM505 521h1.3v1.3h-1.3zM497.5 530h1.3v1.3h-1.3zM482.5 539h1.3v1.3h-1.3zM537.5 499h1.3v1.3h-1.3zM477.5 540.5h1.3v1.3h-1.3zM529 500h1.3v1.3h-1.3zM536 496h1.3v1.3h-1.3zM626.5 410h1.3v1.3h-1.3zM501 519h1.3v1.3h-1.3zM479.5 553h1.3v1.3h-1.3zM462 555.5h1.3v1.3h-1.3zM540 491.5h1.3v1.3h-1.3zM519.5 514.5h1.3v1.3h-1.3zM506 523.5h1.3v1.3h-1.3zM499.5 526h1.3v1.3h-1.3zM538.5 485.5h1.3v1.3h-1.3zM601.5 432h1.3v1.3h-1.3zM508.5 511.5h1.3v1.3h-1.3zM552 472.5h1.3v1.3h-1.3zM481 533.5h1.3v1.3h-1.3zM473 543h1.3v1.3h-1.3zM514 507.5h1.3v1.3h-1.3zM496.5 522.5h1.3v1.3h-1.3zM470 547.5h1.3v1.3h-1.3zM465.5 556h1.3v1.3h-1.3zM468 560.5h1.3v1.3h-1.3zM594 438h1.3v1.3h-1.3zM530.5 501.5h1.3v1.3h-1.3zM521 510.5h1.3v1.3h-1.3zM491 528.5h1.3v1.3h-1.3zM606.5 427.5h1.3v1.3h-1.3zM464 554h1.3v1.3h-1.3zM560 471.5h1.3v1.3h-1.3zM488.5 546h1.3v1.3h-1.3zM482 539.5h1.3v1.3h-1.3zM545.5 487.5h1.3v1.3h-1.3zM484.5 544.5h1.3v1.3h-1.3zM519.5 511.5h1.3v1.3h-1.3zM612.5 424.5h1.3v1.3h-1.3zM532 496.5h1.3v1.3h-1.3zM482.5 532.5h1.3v1.3h-1.3zM513 523h1.3v1.3h-1.3zM550 479h1.3v1.3h-1.3zM533.5 497h1.3v1.3h-1.3zM544 486.5h1.3v1.3h-1.3zM582 451.5h1.3v1.3h-1.3zM540 493.5h1.3v1.3h-1.3zM604.5 428.5h1.3v1.3h-1.3zM477 538.5h1.3v1.3h-1.3zM557 474.5h1.3v1.3h-1.3zM564.5 467h1.3v1.3h-1.3zM507 512.5h1.3v1.3h-1.3zM563.5 467.5h1.3v1.3h-1.3zM550 475.5h1.3v1.3h-1.3zM510 522.5h1.3v1.3h-1.3zM497 528h1.3v1.3h-1.3zM487.5 534h1.3v1.3h-1.3zM559 469h1.3v1.3h-1.3zM472 553h1.3v1.3h-1.3zM550 481h1.3v1.3h-1.3zM534.5 492h1.3v1.3h-1.3zM572.5 459h1.3v1.3h-1.3zM561 470h1.3v1.3h-1.3zM475.5 541h1.3v1.3h-1.3zM502 523.5h1.3v1.3h-1.3zM560.5 469.5h1.3v1.3h-1.3zM509 518h1.3v1.3h-1.3zM628.5 404h1.3v1.3h-1.3zM462 552h1.3v1.3h-1.3zM530 495.5h1.3v1.3h-1.3zM553.5 471h1.3v1.3h-1.3zM483.5 539h1.3v1.3h-1.3zM510.5 514.5h1.3v1.3h-1.3zM500.5 519.5h1.3v1.3h-1.3zM476 540h1.3v1.3h-1.3zM468.5 562h1.3v1.3h-1.3zM495.5 527.5h1.3v1.3h-1.3zM473 549.5h1.3v1.3h-1.3zM556 472.5h1.3v1.3h-1.3zM471 557.5h1.3v1.3h-1.3zM532.5 497h1.3v1.3h-1.3zM526 497.5h1.3v1.3h-1.3zM477.5 545h1.3v1.3h-1.3zM462.5 551.5h1.3v1.3h-1.3zM620 416.5h1.3v1.3h-1.3zM513 519h1.3v1.3h-1.3zM497 527h1.3v1.3h-1.3zM543.5 480.5h1.3v1.3h-1.3zM563 470.5h1.3v1.3h-1.3zM486 532h1.3v1.3h-1.3zM509 521.5h1.3v1.3h-1.3zM536 485.5h1.3v1.3h-1.3zM510.5 514h1.3v1.3h-1.3zM474.5 549.5h1.3v1.3h-1.3zM527 502.5h1.3v1.3h-1.3zM515 513.5h1.3v1.3h-1.3zM510.5 519h1.3v1.3h-1.3zM527.5 503h1.3v1.3h-1.3zM497.5 533.5h1.3v1.3h-1.3zM543.5 482.5h1.3v1.3h-1.3zM464 550.5h1.3v1.3h-1.3zM578 457h1.3v1.3h-1.3zM506.5 523h1.3v1.3h-1.3zM500 516.5h1.3v1.3h-1.3zM498.5 527h1.3v1.3h-1.3zM487.5 541.5h1.3v1.3h-1.3zM481 537.5h1.3v1.3h-1.3zM521.5 507h1.3v1.3h-1.3zM515.5 509.5h1.3v1.3h-1.3zM523 503.5h1.3v1.3h-1.3zM527 501h1.3v1.3h-1.3zM475 547h1.3v1.3h-1.3zM550 480.5h1.3v1.3h-1.3zM480.5 545.5h1.3v1.3h-1.3zM519.5 515h1.3v1.3h-1.3zM483 547h1.3v1.3h-1.3zM541.5 486h1.3v1.3h-1.3zM526 502h1.3v1.3h-1.3zM519 515.5h1.3v1.3h-1.3zM510 521.5h1.3v1.3h-1.3zM526 501.5h1.3v1.3h-1.3zM559.5 468h1.3v1.3h-1.3zM476 544h1.3v1.3h-1.3zM507.5 520.5h1.3v1.3h-1.3zM495 530h1.3v1.3h-1.3zM549 479h1.3v1.3h-1.3zM514.5 507h1.3v1.3h-1.3zM552 481.5h1.3v1.3h-1.3zM508 521h1.3v1.3h-1.3zM499 532h1.3v1.3h-1.3zM561.5 469.5h1.3v1.3h-1.3zM481.5 544.5h1.3v1.3h-1.3zM538.5 490h1.3v1.3h-1.3zM580.5 452.5h1.3v1.3h-1.3zM562.5 463.5h1.3v1.3h-1.3zM476 538.5h1.3v1.3h-1.3zM602 435.5h1.3v1.3h-1.3zM497 521.5h1.3v1.3h-1.3zM588.5 444.5h1.3v1.3h-1.3zM589 446h1.3v1.3h-1.3zM491 531.5h1.3v1.3h-1.3zM504.5 518.5h1.3v1.3h-1.3zM583.5 447.5h1.3v1.3h-1.3zM497.5 528.5h1.3v1.3h-1.3zM550.5 477h1.3v1.3h-1.3zM489.5 526h1.3v1.3h-1.3zM488 536h1.3v1.3h-1.3zM532.5 500.5h1.3v1.3h-1.3zM490 541h1.3v1.3h-1.3zM546.5 479.5h1.3v1.3h-1.3zM542 486h1.3v1.3h-1.3zM544 490h1.3v1.3h-1.3zM490.5 541h1.3v1.3h-1.3zM514 511.5h1.3v1.3h-1.3zM499 535.5h1.3v1.3h-1.3zM579 453h1.3v1.3h-1.3zM517 509.5h1.3v1.3h-1.3zM543 489.5h1.3v1.3h-1.3zM556 474.5h1.3v1.3h-1.3zM474.5 558h1.3v1.3h-1.3zM533.5 495.5h1.3v1.3h-1.3zM571.5 459.5h1.3v1.3h-1.3zM542 485h1.3v1.3h-1.3zM489 530h1.3v1.3h-1.3zM523 501.5h1.3v1.3h-1.3zM502.5 530h1.3v1.3h-1.3zM610.5 425h1.3v1.3h-1.3zM555.5 472h1.3v1.3h-1.3zM480 538h1.3v1.3h-1.3zM550.5 480h1.3v1.3h-1.3zM536.5 489.5h1.3v1.3h-1.3zM563.5 464.5h1.3v1.3h-1.3zM518 511h1.3v1.3h-1.3zM494.5 536h1.3v1.3h-1.3zM520 513.5h1.3v1.3h-1.3zM492.5 536.5h1.3v1.3h-1.3zM524.5 508.5h1.3v1.3h-1.3zM590 440.5h1.3v1.3h-1.3zM625 409.5h1.3v1.3h-1.3zM569 463h1.3v1.3h-1.3zM562 469.5h1.3v1.3h-1.3zM512 512.5h1.3v1.3h-1.3zM552 482.5h1.3v1.3h-1.3zM570.5 461h1.3v1.3h-1.3zM568.5 462h1.3v1.3h-1.3zM494.5 532h1.3v1.3h-1.3zM478 540h1.3v1.3h-1.3zM558.5 472.5h1.3v1.3h-1.3zM482.5 536h1.3v1.3h-1.3zM493 534.5h1.3v1.3h-1.3zM537 490.5h1.3v1.3h-1.3zM513 519.5h1.3v1.3h-1.3zM523.5 505.5h1.3v1.3h-1.3zM466.5 551.5h1.3v1.3h-1.3zM522.5 512h1.3v1.3h-1.3zM497.5 529h1.3v1.3h-1.3zM537.5 491.5h1.3v1.3h-1.3zM608 426.5h1.3v1.3h-1.3zM565.5 466.5h1.3v1.3h-1.3zM481.5 540.5h1.3v1.3h-1.3zM513 510.5h1.3v1.3h-1.3zM483 548h1.3v1.3h-1.3zM578 454h1.3v1.3h-1.3zM523.5 500h1.3v1.3h-1.3zM475 547.5h1.3v1.3h-1.3zM504.5 520.5h1.3v1.3h-1.3zM576.5 457h1.3v1.3h-1.3zM509.5 520h1.3v1.3h-1.3zM489.5 532h1.3v1.3h-1.3zM476.5 540.5h1.3v1.3h-1.3zM495.5 529h1.3v1.3h-1.3zM480 546h1.3v1.3h-1.3zM531.5 498.5h1.3v1.3h-1.3zM491.5 540.5h1.3v1.3h-1.3zM521 505.5h1.3v1.3h-1.3zM494.5 525.5h1.3v1.3h-1.3zM518 507.5h1.3v1.3h-1.3zM632 402.5h1.3v1.3h-1.3zM527 499h1.3v1.3h-1.3zM527 498.5h1.3v1.3h-1.3zM502.5 526h1.3v1.3h-1.3zM494.5 534.5h1.3v1.3h-1.3zM592 436.5h1.3v1.3h-1.3zM489.5 536.5h1.3v1.3h-1.3zM586.5 446.5h1.3v1.3h-1.3zM487.5 531.5h1.3v1.3h-1.3zM503 521h1.3v1.3h-1.3zM512 510.5h1.3v1.3h-1.3zM513 518h1.3v1.3h-1.3zM520.5 510h1.3v1.3h-1.3zM557 469.5h1.3v1.3h-1.3zM505 516.5h1.3v1.3h-1.3zM491.5 539.5h1.3v1.3h-1.3zM467.5 557.5h1.3v1.3h-1.3zM498 526.5h1.3v1.3h-1.3zM483 532h1.3v1.3h-1.3zM536 496.5h1.3v1.3h-1.3zM516.5 513h1.3v1.3h-1.3zM546.5 485h1.3v1.3h-1.3zM560 473h1.3v1.3h-1.3zM517 514.5h1.3v1.3h-1.3zM528.5 500.5h1.3v1.3h-1.3zM534.5 493.5h1.3v1.3h-1.3zM557 472h1.3v1.3h-1.3zM513.5 512h1.3v1.3h-1.3zM489.5 540.5h1.3v1.3h-1.3zM486.5 537.5h1.3v1.3h-1.3zM580.5 451h1.3v1.3h-1.3zM609.5 418h1.3v1.3h-1.3zM473.5 552.5h1.3v1.3h-1.3zM462.5 556h1.3v1.3h-1.3zM559 475h1.3v1.3h-1.3zM469 549h1.3v1.3h-1.3zM493.5 541h1.3v1.3h-1.3zM515.5 515h1.3v1.3h-1.3zM549.5 475h1.3v1.3h-1.3zM505 517.5h1.3v1.3h-1.3zM528 496.5h1.3v1.3h-1.3zM522.5 507.5h1.3v1.3h-1.3zM536 491.5h1.3v1.3h-1.3zM505 525.5h1.3v1.3h-1.3zM477 548.5h1.3v1.3h-1.3zM497 523.5h1.3v1.3h-1.3zM475 543h1.3v1.3h-1.3zM612 423.5h1.3v1.3h-1.3zM511.5 517.5h1.3v1.3h-1.3zM508 525.5h1.3v1.3h-1.3zM548.5 485.5h1.3v1.3h-1.3zM491 536.5h1.3v1.3h-1.3zM507 517.5h1.3v1.3h-1.3zM501.5 519h1.3v1.3h-1.3zM517 517h1.3v1.3h-1.3zM480 535h1.3v1.3h-1.3zM526 499.5h1.3v1.3h-1.3zM464 550h1.3v1.3h-1.3zM530.5 495h1.3v1.3h-1.3zM607.5 424.5h1.3v1.3h-1.3zM500.5 520h1.3v1.3h-1.3zM547 483.5h1.3v1.3h-1.3zM482.5 535h1.3v1.3h-1.3zM530 500h1.3v1.3h-1.3zM563 468h1.3v1.3h-1.3zM525 505.5h1.3v1.3h-1.3zM477 542h1.3v1.3h-1.3zM538.5 497h1.3v1.3h-1.3zM482 549h1.3v1.3h-1.3zM567 466.5h1.3v1.3h-1.3zM494 529h1.3v1.3h-1.3zM504 517h1.3v1.3h-1.3zM494.5 530.5h1.3v1.3h-1.3zM463 550.5h1.3v1.3h-1.3zM518.5 509h1.3v1.3h-1.3zM502 529.5h1.3v1.3h-1.3zM481 534.5h1.3v1.3h-1.3zM547.5 485h1.3v1.3h-1.3zM588.5 440.5h1.3v1.3h-1.3zM470.5 557h1.3v1.3h-1.3zM561.5 472.5h1.3v1.3h-1.3zM474.5 540.5h1.3v1.3h-1.3zM532.5 495.5h1.3v1.3h-1.3zM508.5 514.5h1.3v1.3h-1.3zM548 483h1.3v1.3h-1.3zM498 523.5h1.3v1.3h-1.3zM613 420.5h1.3v1.3h-1.3zM496.5 531.5h1.3v1.3h-1.3zM599.5 434h1.3v1.3h-1.3zM511 512.5h1.3v1.3h-1.3zM496.5 519.5h1.3v1.3h-1.3zM515.5 509h1.3v1.3h-1.3zM481.5 539.5h1.3v1.3h-1.3zM503 526h1.3v1.3h-1.3zM519 511h1.3v1.3h-1.3zM479 541h1.3v1.3h-1.3zM490 541.5h1.3v1.3h-1.3zM548.5 483h1.3v1.3h-1.3zM556.5 471h1.3v1.3h-1.3zM576.5 456.5h1.3v1.3h-1.3zM488.5 533.5h1.3v1.3h-1.3zM497.5 534h1.3v1.3h-1.3zM530 498.5h1.3v1.3h-1.3zM602 428h1.3v1.3h-1.3zM475 557.5h1.3v1.3h-1.3zM492.5 527.5h1.3v1.3h-1.3zM493 541.5h1.3v1.3h-1.3zM552 474h1.3v1.3h-1.3zM570.5 461.5h1.3v1.3h-1.3zM549.5 480.5h1.3v1.3h-1.3zM561 471h1.3v1.3h-1.3zM586 444.5h1.3v1.3h-1.3zM484 541.5h1.3v1.3h-1.3zM501 525.5h1.3v1.3h-1.3zM616.5 416h1.3v1.3h-1.3zM510.5 521h1.3v1.3h-1.3zM471.5 556h1.3v1.3h-1.3zM581.5 451.5h1.3v1.3h-1.3zM568.5 464h1.3v1.3h-1.3zM562.5 465.5h1.3v1.3h-1.3zM481.5 545h1.3v1.3h-1.3zM524.5 501.5h1.3v1.3h-1.3zM598.5 437h1.3v1.3h-1.3zM476 551.5h1.3v1.3h-1.3zM459 555h1.3v1.3h-1.3zM508 516.5h1.3v1.3h-1.3zM529 496h1.3v1.3h-1.3zM540.5 491.5h1.3v1.3h-1.3zM519.5 504.5h1.3v1.3h-1.3zM478.5 548h1.3v1.3h-1.3zM478.5 540h1.3v1.3h-1.3zM547.5 486.5h1.3v1.3h-1.3zM567.5 468h1.3v1.3h-1.3zM539 483.5h1.3v1.3h-1.3zM478.5 538.5h1.3v1.3h-1.3zM536.5 490h1.3v1.3h-1.3zM492 523.5h1.3v1.3h-1.3zM472 547h1.3v1.3h-1.3zM469.5 555h1.3v1.3h-1.3zM514 513.5h1.3v1.3h-1.3zM510.5 520.5h1.3v1.3h-1.3zM499.5 521.5h1.3v1.3h-1.3zM491 529.5h1.3v1.3h-1.3zM476 540.5h1.3v1.3h-1.3zM470 552.5h1.3v1.3h-1.3zM512 511.5h1.3v1.3h-1.3zM573.5 459h1.3v1.3h-1.3zM502 520h1.3v1.3h-1.3zM551 478.5h1.3v1.3h-1.3zM549 483h1.3v1.3h-1.3zM497.5 533h1.3v1.3h-1.3zM476.5 546.5h1.3v1.3h-1.3zM472.5 551.5h1.3v1.3h-1.3zM563 469.5h1.3v1.3h-1.3zM549 482.5h1.3v1.3h-1.3zM529.5 499h1.3v1.3h-1.3zM518 504.5h1.3v1.3h-1.3zM565 466h1.3v1.3h-1.3zM485 540.5h1.3v1.3h-1.3zM526.5 496h1.3v1.3h-1.3zM463 554.5h1.3v1.3h-1.3zM524 510h1.3v1.3h-1.3zM487.5 535h1.3v1.3h-1.3zM482 539h1.3v1.3h-1.3zM508 512h1.3v1.3h-1.3zM497.5 520.5h1.3v1.3h-1.3zM470.5 561.5h1.3v1.3h-1.3zM491 537.5h1.3v1.3h-1.3zM631 406h1.3v1.3h-1.3zM493.5 538.5h1.3v1.3h-1.3zM528.5 504.5h1.3v1.3h-1.3zM528.5 496h1.3v1.3h-1.3zM539.5 487h1.3v1.3h-1.3zM485.5 548.5h1.3v1.3h-1.3zM497.5 532.5h1.3v1.3h-1.3zM477 545.5h1.3v1.3h-1.3zM505 511.5h1.3v1.3h-1.3zM495 532.5h1.3v1.3h-1.3zM461.5 552.5h1.3v1.3h-1.3zM548 481h1.3v1.3h-1.3zM499.5 532h1.3v1.3h-1.3zM532 501.5h1.3v1.3h-1.3zM486 537.5h1.3v1.3h-1.3zM524 503h1.3v1.3h-1.3zM537.5 493.5h1.3v1.3h-1.3zM469.5 545.5h1.3v1.3h-1.3zM490 538h1.3v1.3h-1.3zM540.5 485.5h1.3v1.3h-1.3zM537 489h1.3v1.3h-1.3zM627 407h1.3v1.3h-1.3zM492 527h1.3v1.3h-1.3zM587.5 446.5h1.3v1.3h-1.3zM489.5 535h1.3v1.3h-1.3zM578 450.5h1.3v1.3h-1.3zM532 495.5h1.3v1.3h-1.3zM548 484h1.3v1.3h-1.3zM498.5 532h1.3v1.3h-1.3zM548 480.5h1.3v1.3h-1.3zM607 426h1.3v1.3h-1.3zM539 489.5h1.3v1.3h-1.3zM538.5 488.5h1.3v1.3h-1.3zM491.5 535h1.3v1.3h-1.3zM559.5 471.5h1.3v1.3h-1.3zM543.5 485h1.3v1.3h-1.3zM615 421h1.3v1.3h-1.3zM495 521.5h1.3v1.3h-1.3zM463.5 551.5h1.3v1.3h-1.3zM485.5 543.5h1.3v1.3h-1.3zM532.5 493h1.3v1.3h-1.3zM521.5 503.5h1.3v1.3h-1.3zM481.5 542h1.3v1.3h-1.3zM479.5 551h1.3v1.3h-1.3zM559 470h1.3v1.3h-1.3zM518.5 510h1.3v1.3h-1.3zM508.5 520h1.3v1.3h-1.3zM564 467.5h1.3v1.3h-1.3zM546.5 487h1.3v1.3h-1.3zM498.5 531h1.3v1.3h-1.3zM514 514.5h1.3v1.3h-1.3zM493.5 541.5h1.3v1.3h-1.3zM498 519h1.3v1.3h-1.3zM484.5 533h1.3v1.3h-1.3zM486.5 539h1.3v1.3h-1.3zM588.5 444h1.3v1.3h-1.3zM552.5 477.5h1.3v1.3h-1.3zM505 528.5h1.3v1.3h-1.3zM517.5 508.5h1.3v1.3h-1.3zM483.5 548.5h1.3v1.3h-1.3zM506.5 523.5h1.3v1.3h-1.3zM604 427h1.3v1.3h-1.3zM494 528.5h1.3v1.3h-1.3zM479.5 550.5h1.3v1.3h-1.3zM556 469.5h1.3v1.3h-1.3zM517.5 512.5h1.3v1.3h-1.3zM512 506.5h1.3v1.3h-1.3zM496 526h1.3v1.3h-1.3zM507.5 518h1.3v1.3h-1.3zM507.5 519.5h1.3v1.3h-1.3zM563.5 463.5h1.3v1.3h-1.3zM495 539h1.3v1.3h-1.3zM495 527h1.3v1.3h-1.3zM518 508h1.3v1.3h-1.3zM509.5 513.5h1.3v1.3h-1.3zM516 509h1.3v1.3h-1.3zM485.5 535.5h1.3v1.3h-1.3zM516.5 517.5h1.3v1.3h-1.3zM510.5 511.5h1.3v1.3h-1.3zM492.5 530.5h1.3v1.3h-1.3zM484 545h1.3v1.3h-1.3zM491 529h1.3v1.3h-1.3zM604 429.5h1.3v1.3h-1.3zM529 503h1.3v1.3h-1.3zM530 496.5h1.3v1.3h-1.3zM589 445h1.3v1.3h-1.3zM478.5 548.5h1.3v1.3h-1.3zM554 475h1.3v1.3h-1.3zM613.5 423h1.3v1.3h-1.3zM499.5 527h1.3v1.3h-1.3zM483 535.5h1.3v1.3h-1.3zM508 518h1.3v1.3h-1.3zM482.5 540h1.3v1.3h-1.3zM605 426h1.3v1.3h-1.3zM483 534h1.3v1.3h-1.3zM481 539.5h1.3v1.3h-1.3zM474.5 551h1.3v1.3h-1.3zM486 548.5h1.3v1.3h-1.3zM493 532.5h1.3v1.3h-1.3zM466.5 550.5h1.3v1.3h-1.3zM492.5 531.5h1.3v1.3h-1.3zM486.5 530h1.3v1.3h-1.3zM555 476.5h1.3v1.3h-1.3zM505.5 519h1.3v1.3h-1.3zM611.5 423.5h1.3v1.3h-1.3zM520.5 506.5h1.3v1.3h-1.3zM488.5 537.5h1.3v1.3h-1.3zM580 453h1.3v1.3h-1.3zM481.5 547.5h1.3v1.3h-1.3zM521 511h1.3v1.3h-1.3zM504.5 515.5h1.3v1.3h-1.3zM501.5 530.5h1.3v1.3h-1.3zM575.5 456.5h1.3v1.3h-1.3zM482 549.5h1.3v1.3h-1.3zM493 537h1.3v1.3h-1.3zM500.5 522.5h1.3v1.3h-1.3zM501 518h1.3v1.3h-1.3zM497.5 530.5h1.3v1.3h-1.3zM464 553h1.3v1.3h-1.3zM526.5 501h1.3v1.3h-1.3zM477.5 544.5h1.3v1.3h-1.3zM603 431h1.3v1.3h-1.3zM512.5 523.5h1.3v1.3h-1.3zM502 515h1.3v1.3h-1.3zM505.5 518h1.3v1.3h-1.3zM518.5 511h1.3v1.3h-1.3zM541 487.5h1.3v1.3h-1.3zM524 500.5h1.3v1.3h-1.3zM567 463h1.3v1.3h-1.3zM538.5 489.5h1.3v1.3h-1.3zM579.5 453.5h1.3v1.3h-1.3zM596 435.5h1.3v1.3h-1.3zM533.5 489h1.3v1.3h-1.3zM584.5 448.5h1.3v1.3h-1.3zM632.5 404h1.3v1.3h-1.3zM526 504h1.3v1.3h-1.3zM524.5 506.5h1.3v1.3h-1.3zM494.5 532.5h1.3v1.3h-1.3zM479 553.5h1.3v1.3h-1.3zM511.5 514.5h1.3v1.3h-1.3zM590 443.5h1.3v1.3h-1.3zM521.5 515h1.3v1.3h-1.3zM500.5 534.5h1.3v1.3h-1.3zM550.5 477.5h1.3v1.3h-1.3zM527.5 502.5h1.3v1.3h-1.3zM484.5 542h1.3v1.3h-1.3zM508.5 517.5h1.3v1.3h-1.3zM493.5 536h1.3v1.3h-1.3zM608.5 426h1.3v1.3h-1.3zM579 454h1.3v1.3h-1.3zM541.5 488.5h1.3v1.3h-1.3zM559 471.5h1.3v1.3h-1.3zM557 471h1.3v1.3h-1.3zM511.5 516.5h1.3v1.3h-1.3zM510 510.5h1.3v1.3h-1.3zM492 536.5h1.3v1.3h-1.3zM519.5 517h1.3v1.3h-1.3zM494.5 523.5h1.3v1.3h-1.3zM546.5 487.5h1.3v1.3h-1.3zM512.5 521h1.3v1.3h-1.3zM485 533.5h1.3v1.3h-1.3zM587 446h1.3v1.3h-1.3zM475 550.5h1.3v1.3h-1.3zM492 526h1.3v1.3h-1.3zM510 526h1.3v1.3h-1.3zM523 506.5h1.3v1.3h-1.3zM465.5 559.5h1.3v1.3h-1.3zM512 506h1.3v1.3h-1.3zM531.5 494h1.3v1.3h-1.3zM466.5 553.5h1.3v1.3h-1.3zM551 479.5h1.3v1.3h-1.3zM534 491h1.3v1.3h-1.3zM503 525.5h1.3v1.3h-1.3zM572 456.5h1.3v1.3h-1.3zM517.5 509h1.3v1.3h-1.3zM536.5 493h1.3v1.3h-1.3zM523.5 503h1.3v1.3h-1.3zM483 543h1.3v1.3h-1.3zM499 525.5h1.3v1.3h-1.3zM497 536.5h1.3v1.3h-1.3zM539.5 494.5h1.3v1.3h-1.3zM483 551h1.3v1.3h-1.3zM510.5 513.5h1.3v1.3h-1.3zM535 491h1.3v1.3h-1.3zM601 433.5h1.3v1.3h-1.3zM546 482.5h1.3v1.3h-1.3zM483 537h1.3v1.3h-1.3zM503.5 518h1.3v1.3h-1.3zM490.5 533.5h1.3v1.3h-1.3zM502.5 526.5h1.3v1.3h-1.3zM583.5 449h1.3v1.3h-1.3zM497.5 523.5h1.3v1.3h-1.3zM467.5 549h1.3v1.3h-1.3zM487 535h1.3v1.3h-1.3zM485 535h1.3v1.3h-1.3zM533.5 496h1.3v1.3h-1.3zM561 469.5h1.3v1.3h-1.3zM521.5 505.5h1.3v1.3h-1.3zM496 525.5h1.3v1.3h-1.3zM486 533h1.3v1.3h-1.3zM502 519h1.3v1.3h-1.3zM567.5 461h1.3v1.3h-1.3zM515.5 505.5h1.3v1.3h-1.3zM504.5 517.5h1.3v1.3h-1.3zM538 492.5h1.3v1.3h-1.3zM538.5 497.5h1.3v1.3h-1.3zM477 548h1.3v1.3h-1.3zM534 498.5h1.3v1.3h-1.3zM534 488h1.3v1.3h-1.3zM472 559.5h1.3v1.3h-1.3zM504.5 519h1.3v1.3h-1.3zM513.5 516h1.3v1.3h-1.3zM522.5 502.5h1.3v1.3h-1.3zM573 457h1.3v1.3h-1.3zM541 492h1.3v1.3h-1.3zM506 518h1.3v1.3h-1.3zM538 491h1.3v1.3h-1.3zM566 460.5h1.3v1.3h-1.3zM491.5 533h1.3v1.3h-1.3zM490.5 538h1.3v1.3h-1.3zM510.5 521.5h1.3v1.3h-1.3zM513.5 517.5h1.3v1.3h-1.3zM562 471h1.3v1.3h-1.3zM566.5 463.5h1.3v1.3h-1.3zM464 554.5h1.3v1.3h-1.3zM470 561.5h1.3v1.3h-1.3zM495.5 524.5h1.3v1.3h-1.3zM509 512h1.3v1.3h-1.3zM511 510h1.3v1.3h-1.3zM550.5 480.5h1.3v1.3h-1.3zM511.5 515h1.3v1.3h-1.3zM599 435.5h1.3v1.3h-1.3zM510.5 509h1.3v1.3h-1.3zM558 472h1.3v1.3h-1.3zM518.5 508.5h1.3v1.3h-1.3zM512.5 513.5h1.3v1.3h-1.3zM489 545.5h1.3v1.3h-1.3zM521 507h1.3v1.3h-1.3zM495 528h1.3v1.3h-1.3zM512 521h1.3v1.3h-1.3zM502.5 524h1.3v1.3h-1.3zM506.5 516h1.3v1.3h-1.3zM503 527.5h1.3v1.3h-1.3zM548 480h1.3v1.3h-1.3zM571.5 460.5h1.3v1.3h-1.3zM492.5 540h1.3v1.3h-1.3zM500.5 525h1.3v1.3h-1.3zM496.5 532.5h1.3v1.3h-1.3zM520.5 508h1.3v1.3h-1.3zM544 490.5h1.3v1.3h-1.3zM550 477.5h1.3v1.3h-1.3zM533.5 486h1.3v1.3h-1.3zM493.5 536.5h1.3v1.3h-1.3zM489 541h1.3v1.3h-1.3zM486 535h1.3v1.3h-1.3zM548 482h1.3v1.3h-1.3zM512 519h1.3v1.3h-1.3zM564 464h1.3v1.3h-1.3zM484 533h1.3v1.3h-1.3zM525 503.5h1.3v1.3h-1.3zM519.5 510h1.3v1.3h-1.3zM570.5 462.5h1.3v1.3h-1.3zM486.5 546h1.3v1.3h-1.3zM535.5 488.5h1.3v1.3h-1.3zM548.5 481h1.3v1.3h-1.3zM463.5 556h1.3v1.3h-1.3zM496.5 533h1.3v1.3h-1.3zM467.5 547h1.3v1.3h-1.3zM564 464.5h1.3v1.3h-1.3zM546 478.5h1.3v1.3h-1.3zM508.5 512.5h1.3v1.3h-1.3zM615.5 420h1.3v1.3h-1.3zM487 536.5h1.3v1.3h-1.3zM510 514h1.3v1.3h-1.3zM477.5 552h1.3v1.3h-1.3zM471 542.5h1.3v1.3h-1.3zM503.5 521h1.3v1.3h-1.3zM520 511.5h1.3v1.3h-1.3zM617.5 416h1.3v1.3h-1.3zM466 563.5h1.3v1.3h-1.3zM462.5 553.5h1.3v1.3h-1.3zM526 503h1.3v1.3h-1.3zM470.5 553.5h1.3v1.3h-1.3zM584 447h1.3v1.3h-1.3zM517.5 509.5h1.3v1.3h-1.3zM526 506h1.3v1.3h-1.3zM485.5 539h1.3v1.3h-1.3zM592.5 440.5h1.3v1.3h-1.3zM488.5 544h1.3v1.3h-1.3zM614 422.5h1.3v1.3h-1.3zM526 500h1.3v1.3h-1.3zM567.5 464h1.3v1.3h-1.3zM567 466h1.3v1.3h-1.3zM485 540h1.3v1.3h-1.3zM473 552h1.3v1.3h-1.3zM478 538.5h1.3v1.3h-1.3zM555.5 476h1.3v1.3h-1.3zM501 523h1.3v1.3h-1.3zM472 554h1.3v1.3h-1.3zM482.5 548h1.3v1.3h-1.3zM545 486h1.3v1.3h-1.3zM463 562.5h1.3v1.3h-1.3zM516.5 506h1.3v1.3h-1.3zM624.5 409.5h1.3v1.3h-1.3zM492 538.5h1.3v1.3h-1.3zM528 499h1.3v1.3h-1.3zM538 489h1.3v1.3h-1.3zM497 537h1.3v1.3h-1.3zM496.5 523.5h1.3v1.3h-1.3zM486 533.5h1.3v1.3h-1.3zM644.5 392h1.3v1.3h-1.3zM495 525.5h1.3v1.3h-1.3zM586 451.5h1.3v1.3h-1.3zM554.5 474.5h1.3v1.3h-1.3zM489 534.5h1.3v1.3h-1.3zM467.5 560h1.3v1.3h-1.3zM523 509h1.3v1.3h-1.3zM522.5 500.5h1.3v1.3h-1.3zM532.5 502h1.3v1.3h-1.3zM595 440h1.3v1.3h-1.3zM542.5 484.5h1.3v1.3h-1.3zM538.5 487.5h1.3v1.3h-1.3zM613.5 423.5h1.3v1.3h-1.3zM473 543.5h1.3v1.3h-1.3zM554 481h1.3v1.3h-1.3zM493.5 532h1.3v1.3h-1.3zM522.5 503.5h1.3v1.3h-1.3zM542 483h1.3v1.3h-1.3zM565 465h1.3v1.3h-1.3zM599.5 433h1.3v1.3h-1.3zM489.5 525.5h1.3v1.3h-1.3zM475.5 544.5h1.3v1.3h-1.3zM637 399h1.3v1.3h-1.3zM597.5 439.5h1.3v1.3h-1.3zM555.5 471.5h1.3v1.3h-1.3zM514.5 507.5h1.3v1.3h-1.3zM622 411h1.3v1.3h-1.3zM502.5 519h1.3v1.3h-1.3zM517.5 516h1.3v1.3h-1.3zM499 529.5h1.3v1.3h-1.3zM522 502h1.3v1.3h-1.3zM578.5 458.5h1.3v1.3h-1.3zM523.5 500.5h1.3v1.3h-1.3zM515.5 506h1.3v1.3h-1.3zM499 533h1.3v1.3h-1.3zM511.5 511.5h1.3v1.3h-1.3zM504 521h1.3v1.3h-1.3zM497.5 527h1.3v1.3h-1.3zM547.5 480.5h1.3v1.3h-1.3zM601 435h1.3v1.3h-1.3zM566.5 464.5h1.3v1.3h-1.3zM623 412h1.3v1.3h-1.3zM534.5 489h1.3v1.3h-1.3zM551.5 481.5h1.3v1.3h-1.3zM482 546.5h1.3v1.3h-1.3zM629.5 408.5h1.3v1.3h-1.3zM497 529.5h1.3v1.3h-1.3zM495.5 529.5h1.3v1.3h-1.3zM506.5 520h1.3v1.3h-1.3zM502.5 521.5h1.3v1.3h-1.3zM496 524h1.3v1.3h-1.3zM484 543.5h1.3v1.3h-1.3zM621 414.5h1.3v1.3h-1.3zM542.5 482h1.3v1.3h-1.3zM573.5 455h1.3v1.3h-1.3zM480.5 551h1.3v1.3h-1.3zM538.5 491.5h1.3v1.3h-1.3zM604.5 430.5h1.3v1.3h-1.3zM498 522h1.3v1.3h-1.3zM491.5 541h1.3v1.3h-1.3zM495.5 539.5h1.3v1.3h-1.3zM508.5 517h1.3v1.3h-1.3zM493.5 531.5h1.3v1.3h-1.3zM603.5 428.5h1.3v1.3h-1.3zM496.5 538.5h1.3v1.3h-1.3zM512.5 514.5h1.3v1.3h-1.3zM574 459h1.3v1.3h-1.3zM477 544.5h1.3v1.3h-1.3zM523 505h1.3v1.3h-1.3zM515 514.5h1.3v1.3h-1.3zM471.5 549h1.3v1.3h-1.3zM564.5 468h1.3v1.3h-1.3zM523.5 499h1.3v1.3h-1.3zM498.5 518.5h1.3v1.3h-1.3zM489 543h1.3v1.3h-1.3zM488.5 534h1.3v1.3h-1.3zM523.5 510h1.3v1.3h-1.3zM506.5 519h1.3v1.3h-1.3zM524 507.5h1.3v1.3h-1.3zM491.5 539h1.3v1.3h-1.3zM577.5 452h1.3v1.3h-1.3zM541 485.5h1.3v1.3h-1.3zM504.5 528h1.3v1.3h-1.3zM540 488.5h1.3v1.3h-1.3zM521 508.5h1.3v1.3h-1.3zM573.5 457.5h1.3v1.3h-1.3zM480.5 541.5h1.3v1.3h-1.3zM487.5 529.5h1.3v1.3h-1.3zM461.5 553h1.3v1.3h-1.3zM523 507h1.3v1.3h-1.3zM541 489.5h1.3v1.3h-1.3zM521 507.5h1.3v1.3h-1.3zM608 422.5h1.3v1.3h-1.3zM493 527h1.3v1.3h-1.3zM518 505h1.3v1.3h-1.3zM534.5 493h1.3v1.3h-1.3zM592 442.5h1.3v1.3h-1.3zM498 529h1.3v1.3h-1.3zM586 445.5h1.3v1.3h-1.3zM469.5 550.5h1.3v1.3h-1.3zM497 532.5h1.3v1.3h-1.3zM539.5 489h1.3v1.3h-1.3zM564.5 473.5h1.3v1.3h-1.3zM523.5 505h1.3v1.3h-1.3zM472.5 548h1.3v1.3h-1.3zM486.5 536h1.3v1.3h-1.3zM495 531.5h1.3v1.3h-1.3zM508 515.5h1.3v1.3h-1.3zM512.5 520.5h1.3v1.3h-1.3zM518 507h1.3v1.3h-1.3zM497.5 536.5h1.3v1.3h-1.3zM521 509.5h1.3v1.3h-1.3zM491.5 524h1.3v1.3h-1.3zM514 512.5h1.3v1.3h-1.3zM587 442.5h1.3v1.3h-1.3zM485.5 531.5h1.3v1.3h-1.3zM487 540.5h1.3v1.3h-1.3zM500.5 527.5h1.3v1.3h-1.3zM467 561h1.3v1.3h-1.3zM487 529.5h1.3v1.3h-1.3zM488.5 539h1.3v1.3h-1.3zM530 497.5h1.3v1.3h-1.3zM564.5 468.5h1.3v1.3h-1.3zM586 442h1.3v1.3h-1.3zM550 483h1.3v1.3h-1.3zM508.5 514h1.3v1.3h-1.3zM466 561.5h1.3v1.3h-1.3zM557 472.5h1.3v1.3h-1.3zM495 536.5h1.3v1.3h-1.3zM471 543h1.3v1.3h-1.3zM544.5 486h1.3v1.3h-1.3zM497 538h1.3v1.3h-1.3zM554.5 476.5h1.3v1.3h-1.3zM480 552h1.3v1.3h-1.3zM526.5 493.5h1.3v1.3h-1.3zM516.5 512.5h1.3v1.3h-1.3zM548.5 486.5h1.3v1.3h-1.3zM475.5 548.5h1.3v1.3h-1.3zM574.5 454.5h1.3v1.3h-1.3zM503.5 524h1.3v1.3h-1.3zM479.5 551.5h1.3v1.3h-1.3zM509 516h1.3v1.3h-1.3zM530.5 492h1.3v1.3h-1.3zM527 496.5h1.3v1.3h-1.3zM526 498.5h1.3v1.3h-1.3zM575 455h1.3v1.3h-1.3zM462 554.5h1.3v1.3h-1.3zM584 446.5h1.3v1.3h-1.3zM521 509h1.3v1.3h-1.3zM553 470h1.3v1.3h-1.3zM492.5 532.5h1.3v1.3h-1.3zM473.5 543h1.3v1.3h-1.3zM516.5 508h1.3v1.3h-1.3zM487.5 535.5h1.3v1.3h-1.3zM509 508.5h1.3v1.3h-1.3zM494 540.5h1.3v1.3h-1.3zM523 504h1.3v1.3h-1.3zM480.5 535h1.3v1.3h-1.3zM578.5 456.5h1.3v1.3h-1.3zM527 497.5h1.3v1.3h-1.3zM557.5 472.5h1.3v1.3h-1.3zM578 452.5h1.3v1.3h-1.3zM579 456.5h1.3v1.3h-1.3zM500 527h1.3v1.3h-1.3zM489.5 528h1.3v1.3h-1.3zM506.5 524h1.3v1.3h-1.3zM466.5 558h1.3v1.3h-1.3zM556.5 473.5h1.3v1.3h-1.3zM511.5 517h1.3v1.3h-1.3zM478 541h1.3v1.3h-1.3zM554.5 473.5h1.3v1.3h-1.3zM626.5 410.5h1.3v1.3h-1.3zM505.5 515.5h1.3v1.3h-1.3zM580 448h1.3v1.3h-1.3zM588.5 443.5h1.3v1.3h-1.3zM490.5 527.5h1.3v1.3h-1.3zM531 497h1.3v1.3h-1.3zM510 511.5h1.3v1.3h-1.3zM493 529h1.3v1.3h-1.3zM481.5 541.5h1.3v1.3h-1.3zM602 431.5h1.3v1.3h-1.3zM529.5 495h1.3v1.3h-1.3zM477.5 545.5h1.3v1.3h-1.3zM522.5 505.5h1.3v1.3h-1.3zM528.5 500h1.3v1.3h-1.3zM636 398.5h1.3v1.3h-1.3zM559 467.5h1.3v1.3h-1.3zM507.5 515.5h1.3v1.3h-1.3zM489 531h1.3v1.3h-1.3zM535 490h1.3v1.3h-1.3zM495.5 532.5h1.3v1.3h-1.3zM544.5 480.5h1.3v1.3h-1.3zM528 492.5h1.3v1.3h-1.3zM518.5 508h1.3v1.3h-1.3zM477.5 544h1.3v1.3h-1.3zM504.5 525h1.3v1.3h-1.3zM543.5 486h1.3v1.3h-1.3zM489.5 544.5h1.3v1.3h-1.3zM504.5 530h1.3v1.3h-1.3zM495.5 528h1.3v1.3h-1.3zM559.5 467.5h1.3v1.3h-1.3zM554 477h1.3v1.3h-1.3zM467 547h1.3v1.3h-1.3zM528 501.5h1.3v1.3h-1.3zM486.5 534.5h1.3v1.3h-1.3zM468.5 547.5h1.3v1.3h-1.3zM503.5 528.5h1.3v1.3h-1.3zM561 471.5h1.3v1.3h-1.3zM461.5 554h1.3v1.3h-1.3zM500.5 521h1.3v1.3h-1.3zM492 537h1.3v1.3h-1.3zM505 524.5h1.3v1.3h-1.3zM479 542h1.3v1.3h-1.3zM554 478h1.3v1.3h-1.3zM615.5 421.5h1.3v1.3h-1.3zM482 536.5h1.3v1.3h-1.3zM484.5 545h1.3v1.3h-1.3zM621 412h1.3v1.3h-1.3zM566.5 465.5h1.3v1.3h-1.3zM515.5 513.5h1.3v1.3h-1.3zM564.5 465h1.3v1.3h-1.3zM596 434h1.3v1.3h-1.3zM607 427h1.3v1.3h-1.3zM494.5 527h1.3v1.3h-1.3zM500 535h1.3v1.3h-1.3zM507 518h1.3v1.3h-1.3zM486.5 531.5h1.3v1.3h-1.3zM576 454h1.3v1.3h-1.3zM539.5 489.5h1.3v1.3h-1.3zM473 548.5h1.3v1.3h-1.3zM521.5 504.5h1.3v1.3h-1.3zM490 537h1.3v1.3h-1.3zM583 452.5h1.3v1.3h-1.3zM505.5 521h1.3v1.3h-1.3zM573.5 456.5h1.3v1.3h-1.3zM509.5 518.5h1.3v1.3h-1.3zM488 534.5h1.3v1.3h-1.3zM561 466h1.3v1.3h-1.3zM546.5 482.5h1.3v1.3h-1.3zM504.5 524h1.3v1.3h-1.3zM599.5 431h1.3v1.3h-1.3zM510 523h1.3v1.3h-1.3zM516.5 512h1.3v1.3h-1.3zM534 496.5h1.3v1.3h-1.3zM530.5 500.5h1.3v1.3h-1.3zM494.5 528h1.3v1.3h-1.3zM541 486.5h1.3v1.3h-1.3zM520.5 507.5h1.3v1.3h-1.3zM482 537.5h1.3v1.3h-1.3zM578 453.5h1.3v1.3h-1.3zM489 538h1.3v1.3h-1.3zM524 505.5h1.3v1.3h-1.3zM467 555h1.3v1.3h-1.3zM502 524h1.3v1.3h-1.3zM476.5 539h1.3v1.3h-1.3zM512 516h1.3v1.3h-1.3zM520 505h1.3v1.3h-1.3zM476 555.5h1.3v1.3h-1.3zM531 501h1.3v1.3h-1.3zM520 505.5h1.3v1.3h-1.3zM492.5 533h1.3v1.3h-1.3zM488.5 538.5h1.3v1.3h-1.3zM472.5 545.5h1.3v1.3h-1.3zM538 488h1.3v1.3h-1.3zM458 554.5h1.3v1.3h-1.3zM460 556h1.3v1.3h-1.3zM499.5 524h1.3v1.3h-1.3zM525.5 499.5h1.3v1.3h-1.3zM516 510.5h1.3v1.3h-1.3zM543 487h1.3v1.3h-1.3zM507.5 521h1.3v1.3h-1.3zM489 532.5h1.3v1.3h-1.3zM488.5 541h1.3v1.3h-1.3zM492.5 538.5h1.3v1.3h-1.3zM498 518.5h1.3v1.3h-1.3zM538 489.5h1.3v1.3h-1.3zM522 505h1.3v1.3h-1.3zM599 435h1.3v1.3h-1.3zM479.5 542h1.3v1.3h-1.3zM482 535h1.3v1.3h-1.3zM563 466.5h1.3v1.3h-1.3zM603 427.5h1.3v1.3h-1.3zM506.5 518.5h1.3v1.3h-1.3zM572.5 455h1.3v1.3h-1.3zM560.5 469h1.3v1.3h-1.3zM529.5 500h1.3v1.3h-1.3zM512 513.5h1.3v1.3h-1.3zM485 533h1.3v1.3h-1.3zM577.5 454.5h1.3v1.3h-1.3zM537.5 490.5h1.3v1.3h-1.3zM504 513.5h1.3v1.3h-1.3zM572.5 458.5h1.3v1.3h-1.3zM589 439h1.3v1.3h-1.3zM549 480.5h1.3v1.3h-1.3zM606.5 425.5h1.3v1.3h-1.3zM518 508.5h1.3v1.3h-1.3zM487 546h1.3v1.3h-1.3zM472 560h1.3v1.3h-1.3zM485 532.5h1.3v1.3h-1.3zM600.5 430h1.3v1.3h-1.3zM468.5 561.5h1.3v1.3h-1.3zM490 539.5h1.3v1.3h-1.3zM501 528.5h1.3v1.3h-1.3zM572 457.5h1.3v1.3h-1.3zM513.5 511h1.3v1.3h-1.3zM598.5 432h1.3v1.3h-1.3zM486.5 548h1.3v1.3h-1.3zM466.5 564h1.3v1.3h-1.3zM488 528.5h1.3v1.3h-1.3zM501.5 530h1.3v1.3h-1.3zM620 413h1.3v1.3h-1.3zM568.5 465h1.3v1.3h-1.3zM487 534h1.3v1.3h-1.3zM481.5 539h1.3v1.3h-1.3zM613.5 420h1.3v1.3h-1.3zM513.5 509h1.3v1.3h-1.3zM490 529.5h1.3v1.3h-1.3zM475.5 542.5h1.3v1.3h-1.3zM508 514.5h1.3v1.3h-1.3zM488 533h1.3v1.3h-1.3zM524.5 504.5h1.3v1.3h-1.3zM486.5 542h1.3v1.3h-1.3zM492 530h1.3v1.3h-1.3zM528 493h1.3v1.3h-1.3zM534.5 499.5h1.3v1.3h-1.3zM481 540h1.3v1.3h-1.3zM603.5 429.5h1.3v1.3h-1.3zM498.5 528.5h1.3v1.3h-1.3zM489.5 531h1.3v1.3h-1.3zM503 514.5h1.3v1.3h-1.3zM471.5 544.5h1.3v1.3h-1.3zM585.5 448.5h1.3v1.3h-1.3zM600 434.5h1.3v1.3h-1.3zM534.5 494h1.3v1.3h-1.3zM619.5 413h1.3v1.3h-1.3zM487.5 540h1.3v1.3h-1.3zM499 517h1.3v1.3h-1.3zM496.5 532h1.3v1.3h-1.3zM614 418.5h1.3v1.3h-1.3zM560 472.5h1.3v1.3h-1.3zM548 486.5h1.3v1.3h-1.3zM540.5 488h1.3v1.3h-1.3zM496.5 528.5h1.3v1.3h-1.3zM493.5 533.5h1.3v1.3h-1.3zM589.5 444h1.3v1.3h-1.3zM489.5 530.5h1.3v1.3h-1.3zM499 524h1.3v1.3h-1.3zM489.5 527.5h1.3v1.3h-1.3zM492.5 527h1.3v1.3h-1.3zM542 482h1.3v1.3h-1.3zM472.5 550.5h1.3v1.3h-1.3zM526 503.5h1.3v1.3h-1.3zM545 486.5h1.3v1.3h-1.3zM560.5 470h1.3v1.3h-1.3zM564 466.5h1.3v1.3h-1.3zM544.5 484.5h1.3v1.3h-1.3zM525 507.5h1.3v1.3h-1.3zM468.5 562.5h1.3v1.3h-1.3zM513 513h1.3v1.3h-1.3zM573 458.5h1.3v1.3h-1.3zM519 515h1.3v1.3h-1.3zM528.5 497h1.3v1.3h-1.3zM543 485.5h1.3v1.3h-1.3zM609 421.5h1.3v1.3h-1.3zM503.5 522h1.3v1.3h-1.3zM515.5 511.5h1.3v1.3h-1.3zM488.5 540h1.3v1.3h-1.3zM521.5 506.5h1.3v1.3h-1.3zM509 516.5h1.3v1.3h-1.3zM503 518.5h1.3v1.3h-1.3zM502.5 525.5h1.3v1.3h-1.3zM519.5 505h1.3v1.3h-1.3zM563 468.5h1.3v1.3h-1.3zM531 501.5h1.3v1.3h-1.3zM588.5 445.5h1.3v1.3h-1.3zM500 524h1.3v1.3h-1.3zM486.5 540.5h1.3v1.3h-1.3zM615 418h1.3v1.3h-1.3zM511 517.5h1.3v1.3h-1.3zM487 529h1.3v1.3h-1.3zM496.5 527h1.3v1.3h-1.3zM591 442.5h1.3v1.3h-1.3zM558 470h1.3v1.3h-1.3zM541 486h1.3v1.3h-1.3zM499 533.5h1.3v1.3h-1.3zM540.5 490h1.3v1.3h-1.3zM495 524.5h1.3v1.3h-1.3zM603.5 430.5h1.3v1.3h-1.3zM489.5 542h1.3v1.3h-1.3zM509.5 525.5h1.3v1.3h-1.3zM465 553.5h1.3v1.3h-1.3zM500.5 522h1.3v1.3h-1.3zM541 490.5h1.3v1.3h-1.3zM507.5 522.5h1.3v1.3h-1.3zM484.5 549h1.3v1.3h-1.3zM522 502.5h1.3v1.3h-1.3zM485 546.5h1.3v1.3h-1.3zM489 528.5h1.3v1.3h-1.3zM498 521.5h1.3v1.3h-1.3zM518.5 512h1.3v1.3h-1.3zM625.5 410.5h1.3v1.3h-1.3zM538.5 484.5h1.3v1.3h-1.3zM477 556h1.3v1.3h-1.3zM605.5 428h1.3v1.3h-1.3zM623.5 410.5h1.3v1.3h-1.3zM471 559.5h1.3v1.3h-1.3zM551 473h1.3v1.3h-1.3zM504.5 527h1.3v1.3h-1.3zM505 527h1.3v1.3h-1.3zM496.5 525.5h1.3v1.3h-1.3zM487.5 542.5h1.3v1.3h-1.3zM471 556h1.3v1.3h-1.3zM470 549h1.3v1.3h-1.3zM531.5 493.5h1.3v1.3h-1.3zM588 447h1.3v1.3h-1.3zM462.5 555h1.3v1.3h-1.3zM525 509.5h1.3v1.3h-1.3zM490 527.5h1.3v1.3h-1.3zM499.5 523.5h1.3v1.3h-1.3zM534 495.5h1.3v1.3h-1.3zM547.5 477.5h1.3v1.3h-1.3zM470.5 549.5h1.3v1.3h-1.3zM501.5 522h1.3v1.3h-1.3zM478 554h1.3v1.3h-1.3zM541.5 489.5h1.3v1.3h-1.3zM492.5 539h1.3v1.3h-1.3zM516.5 509.5h1.3v1.3h-1.3zM595.5 439h1.3v1.3h-1.3zM459.5 555h1.3v1.3h-1.3zM498 527h1.3v1.3h-1.3zM473.5 555h1.3v1.3h-1.3zM510 518h1.3v1.3h-1.3zM486 542h1.3v1.3h-1.3zM558 472.5h1.3v1.3h-1.3zM489 539h1.3v1.3h-1.3zM495 529.5h1.3v1.3h-1.3zM587 447.5h1.3v1.3h-1.3zM492 529.5h1.3v1.3h-1.3zM532 490.5h1.3v1.3h-1.3zM530.5 496h1.3v1.3h-1.3zM497.5 525.5h1.3v1.3h-1.3zM493 542h1.3v1.3h-1.3zM601 434h1.3v1.3h-1.3zM491.5 543h1.3v1.3h-1.3zM522 497h1.3v1.3h-1.3zM520 504.5h1.3v1.3h-1.3zM572 458h1.3v1.3h-1.3zM513.5 510.5h1.3v1.3h-1.3zM556 472h1.3v1.3h-1.3zM502.5 523h1.3v1.3h-1.3zM528.5 501h1.3v1.3h-1.3zM514.5 509.5h1.3v1.3h-1.3zM497 525h1.3v1.3h-1.3zM563.5 468h1.3v1.3h-1.3zM491.5 527h1.3v1.3h-1.3zM529.5 505h1.3v1.3h-1.3zM630.5 404.5h1.3v1.3h-1.3zM470.5 555.5h1.3v1.3h-1.3zM486 538h1.3v1.3h-1.3zM508.5 515h1.3v1.3h-1.3zM519.5 505.5h1.3v1.3h-1.3zM580 452.5h1.3v1.3h-1.3zM498 525h1.3v1.3h-1.3zM481 544h1.3v1.3h-1.3zM529 493h1.3v1.3h-1.3zM465 548h1.3v1.3h-1.3zM597 437h1.3v1.3h-1.3zM512.5 512h1.3v1.3h-1.3zM528 502h1.3v1.3h-1.3zM577 453h1.3v1.3h-1.3zM551.5 478.5h1.3v1.3h-1.3zM506 521.5h1.3v1.3h-1.3zM507 519.5h1.3v1.3h-1.3zM517 511h1.3v1.3h-1.3zM582.5 446.5h1.3v1.3h-1.3zM562.5 465h1.3v1.3h-1.3zM469.5 551h1.3v1.3h-1.3zM506.5 522h1.3v1.3h-1.3zM587.5 444.5h1.3v1.3h-1.3zM492.5 529.5h1.3v1.3h-1.3zM494.5 535h1.3v1.3h-1.3zM547 480.5h1.3v1.3h-1.3zM601 436h1.3v1.3h-1.3zM484.5 543h1.3v1.3h-1.3zM508.5 519h1.3v1.3h-1.3zM517.5 503.5h1.3v1.3h-1.3zM536 497h1.3v1.3h-1.3zM468 562h1.3v1.3h-1.3zM570 460.5h1.3v1.3h-1.3zM511.5 524.5h1.3v1.3h-1.3zM548 481.5h1.3v1.3h-1.3zM621.5 414.5h1.3v1.3h-1.3zM522 513.5h1.3v1.3h-1.3zM565 471.5h1.3v1.3h-1.3zM461.5 557.5h1.3v1.3h-1.3zM481.5 545.5h1.3v1.3h-1.3zM545.5 485.5h1.3v1.3h-1.3zM475 548.5h1.3v1.3h-1.3zM522.5 509.5h1.3v1.3h-1.3zM478.5 554h1.3v1.3h-1.3zM554.5 471.5h1.3v1.3h-1.3zM460 553.5h1.3v1.3h-1.3zM499 526.5h1.3v1.3h-1.3zM544 486h1.3v1.3h-1.3zM473.5 540.5h1.3v1.3h-1.3zM519.5 506.5h1.3v1.3h-1.3zM543 486h1.3v1.3h-1.3zM488 539.5h1.3v1.3h-1.3zM462.5 561.5h1.3v1.3h-1.3zM512 513h1.3v1.3h-1.3zM491 540h1.3v1.3h-1.3zM494.5 531.5h1.3v1.3h-1.3zM539 493.5h1.3v1.3h-1.3zM527.5 497h1.3v1.3h-1.3zM522 510.5h1.3v1.3h-1.3zM512.5 510.5h1.3v1.3h-1.3zM598.5 436h1.3v1.3h-1.3zM559.5 475.5h1.3v1.3h-1.3zM563 465.5h1.3v1.3h-1.3zM516.5 508.5h1.3v1.3h-1.3zM481 546.5h1.3v1.3h-1.3zM509 523h1.3v1.3h-1.3zM512.5 509h1.3v1.3h-1.3zM513 515h1.3v1.3h-1.3zM501.5 528.5h1.3v1.3h-1.3zM522 501h1.3v1.3h-1.3zM555 473.5h1.3v1.3h-1.3zM530.5 498.5h1.3v1.3h-1.3zM524 510.5h1.3v1.3h-1.3zM569 462.5h1.3v1.3h-1.3zM618 416h1.3v1.3h-1.3zM514 515.5h1.3v1.3h-1.3zM590.5 441.5h1.3v1.3h-1.3zM603.5 431.5h1.3v1.3h-1.3zM462 556h1.3v1.3h-1.3zM636.5 398h1.3v1.3h-1.3zM495.5 534h1.3v1.3h-1.3zM537.5 486.5h1.3v1.3h-1.3zM612 422h1.3v1.3h-1.3zM507.5 513h1.3v1.3h-1.3zM547.5 484h1.3v1.3h-1.3zM488 527.5h1.3v1.3h-1.3zM484.5 541h1.3v1.3h-1.3zM476 544.5h1.3v1.3h-1.3zM598.5 432.5h1.3v1.3h-1.3zM569 458.5h1.3v1.3h-1.3zM486 545h1.3v1.3h-1.3zM526.5 505.5h1.3v1.3h-1.3zM494.5 540.5h1.3v1.3h-1.3zM629.5 406.5h1.3v1.3h-1.3zM568 464h1.3v1.3h-1.3zM467 547.5h1.3v1.3h-1.3zM493.5 533h1.3v1.3h-1.3zM562 474.5h1.3v1.3h-1.3zM535 499h1.3v1.3h-1.3zM483 549.5h1.3v1.3h-1.3zM521.5 501h1.3v1.3h-1.3zM512 516.5h1.3v1.3h-1.3zM616 420h1.3v1.3h-1.3zM567.5 465h1.3v1.3h-1.3zM516 511h1.3v1.3h-1.3zM584.5 444h1.3v1.3h-1.3zM490.5 534.5h1.3v1.3h-1.3zM540.5 486.5h1.3v1.3h-1.3zM519 503.5h1.3v1.3h-1.3zM524.5 503.5h1.3v1.3h-1.3zM466.5 553h1.3v1.3h-1.3zM578 449.5h1.3v1.3h-1.3zM497.5 529.5h1.3v1.3h-1.3zM466 547.5h1.3v1.3h-1.3zM527 499.5h1.3v1.3h-1.3zM552.5 476h1.3v1.3h-1.3zM508.5 510.5h1.3v1.3h-1.3zM531.5 499h1.3v1.3h-1.3zM478 542h1.3v1.3h-1.3zM567.5 466h1.3v1.3h-1.3zM606 434h1.3v1.3h-1.3zM464 549h1.3v1.3h-1.3zM466 563h1.3v1.3h-1.3zM582 449h1.3v1.3h-1.3zM547 483h1.3v1.3h-1.3zM485 542.5h1.3v1.3h-1.3zM559.5 472h1.3v1.3h-1.3zM504 525.5h1.3v1.3h-1.3zM542 487.5h1.3v1.3h-1.3zM639.5 398.5h1.3v1.3h-1.3zM532 493.5h1.3v1.3h-1.3zM550 482h1.3v1.3h-1.3zM495.5 523.5h1.3v1.3h-1.3zM506 520.5h1.3v1.3h-1.3zM534.5 496.5h1.3v1.3h-1.3zM479.5 535h1.3v1.3h-1.3zM474.5 543.5h1.3v1.3h-1.3zM463.5 558h1.3v1.3h-1.3zM545.5 482.5h1.3v1.3h-1.3zM480 534.5h1.3v1.3h-1.3zM473.5 548h1.3v1.3h-1.3zM539 491.5h1.3v1.3h-1.3zM519 508.5h1.3v1.3h-1.3zM550 473.5h1.3v1.3h-1.3zM490.5 542.5h1.3v1.3h-1.3zM483.5 544.5h1.3v1.3h-1.3zM558.5 472h1.3v1.3h-1.3zM530.5 500h1.3v1.3h-1.3zM474.5 552h1.3v1.3h-1.3zM514 518.5h1.3v1.3h-1.3zM531 494.5h1.3v1.3h-1.3zM507 521h1.3v1.3h-1.3zM594 440h1.3v1.3h-1.3zM507 525.5h1.3v1.3h-1.3zM501.5 531h1.3v1.3h-1.3zM481 541h1.3v1.3h-1.3zM497 533.5h1.3v1.3h-1.3zM500 521.5h1.3v1.3h-1.3zM499.5 524.5h1.3v1.3h-1.3zM527 510h1.3v1.3h-1.3zM529 503.5h1.3v1.3h-1.3zM590.5 440h1.3v1.3h-1.3zM545.5 482h1.3v1.3h-1.3zM498.5 524.5h1.3v1.3h-1.3zM542.5 485.5h1.3v1.3h-1.3zM497.5 526.5h1.3v1.3h-1.3zM652 385h1.3v1.3h-1.3zM592 441h1.3v1.3h-1.3zM480.5 542.5h1.3v1.3h-1.3zM488.5 537h1.3v1.3h-1.3zM550.5 479h1.3v1.3h-1.3zM545 479h1.3v1.3h-1.3zM640.5 393.5h1.3v1.3h-1.3zM565 467.5h1.3v1.3h-1.3zM497 527.5h1.3v1.3h-1.3zM536.5 495h1.3v1.3h-1.3zM544.5 483.5h1.3v1.3h-1.3zM494 526h1.3v1.3h-1.3zM483 544h1.3v1.3h-1.3zM497.5 525h1.3v1.3h-1.3zM547.5 479.5h1.3v1.3h-1.3zM550 480h1.3v1.3h-1.3zM548.5 484.5h1.3v1.3h-1.3zM502 530h1.3v1.3h-1.3zM497 526.5h1.3v1.3h-1.3zM498.5 534.5h1.3v1.3h-1.3zM592 440.5h1.3v1.3h-1.3zM545 483.5h1.3v1.3h-1.3zM476.5 540h1.3v1.3h-1.3zM510.5 512.5h1.3v1.3h-1.3zM580.5 454h1.3v1.3h-1.3zM528.5 505.5h1.3v1.3h-1.3zM529 498.5h1.3v1.3h-1.3zM459 557.5h1.3v1.3h-1.3zM511.5 519.5h1.3v1.3h-1.3zM484 546h1.3v1.3h-1.3zM505.5 522h1.3v1.3h-1.3zM504 522.5h1.3v1.3h-1.3zM526 507.5h1.3v1.3h-1.3zM485.5 535h1.3v1.3h-1.3zM474.5 544.5h1.3v1.3h-1.3zM561.5 468h1.3v1.3h-1.3zM518.5 516h1.3v1.3h-1.3zM522 503.5h1.3v1.3h-1.3zM604.5 427.5h1.3v1.3h-1.3zM570.5 459h1.3v1.3h-1.3zM569.5 459.5h1.3v1.3h-1.3zM472.5 556.5h1.3v1.3h-1.3zM531.5 491h1.3v1.3h-1.3zM482 537h1.3v1.3h-1.3zM561.5 471.5h1.3v1.3h-1.3zM542.5 483h1.3v1.3h-1.3zM522 500.5h1.3v1.3h-1.3zM484 536h1.3v1.3h-1.3zM567 460h1.3v1.3h-1.3zM502 525h1.3v1.3h-1.3zM509 522h1.3v1.3h-1.3zM530.5 496.5h1.3v1.3h-1.3zM478 540.5h1.3v1.3h-1.3zM519.5 512.5h1.3v1.3h-1.3zM594 439.5h1.3v1.3h-1.3zM551 477h1.3v1.3h-1.3zM505 522.5h1.3v1.3h-1.3zM482.5 533.5h1.3v1.3h-1.3zM546 481.5h1.3v1.3h-1.3zM558.5 477h1.3v1.3h-1.3zM544 482h1.3v1.3h-1.3zM534 490.5h1.3v1.3h-1.3zM515.5 518h1.3v1.3h-1.3zM517.5 508h1.3v1.3h-1.3zM479.5 538h1.3v1.3h-1.3zM500 527.5h1.3v1.3h-1.3zM574 458h1.3v1.3h-1.3zM502 522.5h1.3v1.3h-1.3zM496 529.5h1.3v1.3h-1.3zM505 519.5h1.3v1.3h-1.3zM507.5 509h1.3v1.3h-1.3zM559.5 469.5h1.3v1.3h-1.3zM555.5 469h1.3v1.3h-1.3zM480 552.5h1.3v1.3h-1.3zM528.5 502.5h1.3v1.3h-1.3zM562 468h1.3v1.3h-1.3zM555.5 475h1.3v1.3h-1.3zM528.5 499h1.3v1.3h-1.3zM562 470h1.3v1.3h-1.3zM533 498.5h1.3v1.3h-1.3zM537.5 492.5h1.3v1.3h-1.3zM607.5 425h1.3v1.3h-1.3zM477.5 539h1.3v1.3h-1.3zM535.5 492h1.3v1.3h-1.3zM515 514h1.3v1.3h-1.3zM523 505.5h1.3v1.3h-1.3zM545.5 484h1.3v1.3h-1.3zM510 512h1.3v1.3h-1.3zM460.5 553h1.3v1.3h-1.3zM515 511h1.3v1.3h-1.3zM478 541.5h1.3v1.3h-1.3zM492 535h1.3v1.3h-1.3zM501.5 523.5h1.3v1.3h-1.3zM585 446.5h1.3v1.3h-1.3zM473 545.5h1.3v1.3h-1.3zM601.5 427.5h1.3v1.3h-1.3zM533.5 493.5h1.3v1.3h-1.3zM491.5 542h1.3v1.3h-1.3zM501.5 516h1.3v1.3h-1.3zM587 445.5h1.3v1.3h-1.3zM470.5 550.5h1.3v1.3h-1.3zM499.5 525.5h1.3v1.3h-1.3zM555.5 476.5h1.3v1.3h-1.3zM578.5 455.5h1.3v1.3h-1.3zM511 519h1.3v1.3h-1.3zM547.5 482h1.3v1.3h-1.3zM521.5 514h1.3v1.3h-1.3zM529.5 495.5h1.3v1.3h-1.3zM570 463h1.3v1.3h-1.3zM511 515h1.3v1.3h-1.3zM471 555.5h1.3v1.3h-1.3zM501.5 527.5h1.3v1.3h-1.3zM527.5 495h1.3v1.3h-1.3zM478 537.5h1.3v1.3h-1.3zM479.5 552h1.3v1.3h-1.3zM526.5 506.5h1.3v1.3h-1.3zM525 498.5h1.3v1.3h-1.3zM502.5 528h1.3v1.3h-1.3zM565.5 467h1.3v1.3h-1.3zM597.5 437.5h1.3v1.3h-1.3zM568 463.5h1.3v1.3h-1.3zM500.5 531.5h1.3v1.3h-1.3zM532.5 496.5h1.3v1.3h-1.3zM528 499.5h1.3v1.3h-1.3zM491 539h1.3v1.3h-1.3zM504.5 521.5h1.3v1.3h-1.3zM495 523h1.3v1.3h-1.3zM502.5 524.5h1.3v1.3h-1.3zM512 511h1.3v1.3h-1.3zM552.5 475h1.3v1.3h-1.3zM512.5 508h1.3v1.3h-1.3zM480 550h1.3v1.3h-1.3zM540 488h1.3v1.3h-1.3zM478.5 537h1.3v1.3h-1.3zM545 490.5h1.3v1.3h-1.3zM540.5 484h1.3v1.3h-1.3zM564 469h1.3v1.3h-1.3zM598.5 434.5h1.3v1.3h-1.3zM496 528h1.3v1.3h-1.3zM501.5 524.5h1.3v1.3h-1.3zM534.5 495h1.3v1.3h-1.3zM537 492.5h1.3v1.3h-1.3zM524.5 498h1.3v1.3h-1.3zM572.5 459.5h1.3v1.3h-1.3zM492 524.5h1.3v1.3h-1.3zM633 404.5h1.3v1.3h-1.3zM502 527h1.3v1.3h-1.3zM519 513.5h1.3v1.3h-1.3zM533 493h1.3v1.3h-1.3zM488 529.5h1.3v1.3h-1.3zM507.5 516.5h1.3v1.3h-1.3zM549.5 475.5h1.3v1.3h-1.3zM485 547.5h1.3v1.3h-1.3zM530 492.5h1.3v1.3h-1.3zM499.5 526.5h1.3v1.3h-1.3zM515.5 506.5h1.3v1.3h-1.3zM513.5 523h1.3v1.3h-1.3zM535 492.5h1.3v1.3h-1.3zM510 511h1.3v1.3h-1.3zM468 555.5h1.3v1.3h-1.3zM509 524h1.3v1.3h-1.3zM503 528.5h1.3v1.3h-1.3zM509 520.5h1.3v1.3h-1.3zM519.5 508h1.3v1.3h-1.3zM558.5 467h1.3v1.3h-1.3zM618.5 414h1.3v1.3h-1.3zM488 530.5h1.3v1.3h-1.3zM517 515.5h1.3v1.3h-1.3zM496.5 529.5h1.3v1.3h-1.3zM577.5 453h1.3v1.3h-1.3zM488 535h1.3v1.3h-1.3zM495 529h1.3v1.3h-1.3zM558.5 470.5h1.3v1.3h-1.3zM537 493h1.3v1.3h-1.3zM474 542h1.3v1.3h-1.3zM513 516h1.3v1.3h-1.3zM529 494h1.3v1.3h-1.3zM549.5 484h1.3v1.3h-1.3zM465 563h1.3v1.3h-1.3zM588 444.5h1.3v1.3h-1.3zM600.5 431h1.3v1.3h-1.3zM497.5 522.5h1.3v1.3h-1.3zM515 505h1.3v1.3h-1.3zM511 513h1.3v1.3h-1.3zM518 518.5h1.3v1.3h-1.3zM492.5 535.5h1.3v1.3h-1.3zM496 525h1.3v1.3h-1.3zM570 459h1.3v1.3h-1.3zM485 539h1.3v1.3h-1.3zM519 516h1.3v1.3h-1.3zM500.5 532h1.3v1.3h-1.3zM511 516.5h1.3v1.3h-1.3zM509 523.5h1.3v1.3h-1.3zM627 409.5h1.3v1.3h-1.3zM498.5 525h1.3v1.3h-1.3zM507.5 512.5h1.3v1.3h-1.3zM554.5 475.5h1.3v1.3h-1.3zM522.5 501.5h1.3v1.3h-1.3zM507 524.5h1.3v1.3h-1.3zM507 519h1.3v1.3h-1.3zM489.5 526.5h1.3v1.3h-1.3zM558.5 471.5h1.3v1.3h-1.3zM476.5 552h1.3v1.3h-1.3zM492 532.5h1.3v1.3h-1.3zM502 526.5h1.3v1.3h-1.3zM542.5 487.5h1.3v1.3h-1.3zM552.5 481.5h1.3v1.3h-1.3zM523 503h1.3v1.3h-1.3zM468.5 552.5h1.3v1.3h-1.3zM485 548h1.3v1.3h-1.3zM516 514.5h1.3v1.3h-1.3zM585 447h1.3v1.3h-1.3zM507.5 511.5h1.3v1.3h-1.3zM548 477.5h1.3v1.3h-1.3zM511 517h1.3v1.3h-1.3zM543 483.5h1.3v1.3h-1.3zM499.5 532.5h1.3v1.3h-1.3zM464.5 558.5h1.3v1.3h-1.3zM577 454h1.3v1.3h-1.3zM533 489.5h1.3v1.3h-1.3zM513.5 512.5h1.3v1.3h-1.3zM524.5 499h1.3v1.3h-1.3zM524.5 501h1.3v1.3h-1.3zM541.5 485h1.3v1.3h-1.3zM575 454h1.3v1.3h-1.3zM501 520.5h1.3v1.3h-1.3zM479 537.5h1.3v1.3h-1.3zM578 452h1.3v1.3h-1.3zM495 535h1.3v1.3h-1.3zM519 498.5h1.3v1.3h-1.3zM502.5 522h1.3v1.3h-1.3zM497 535h1.3v1.3h-1.3zM515 513h1.3v1.3h-1.3zM513.5 509.5h1.3v1.3h-1.3zM605 428.5h1.3v1.3h-1.3zM605 426.5h1.3v1.3h-1.3zM540.5 489h1.3v1.3h-1.3zM488 542.5h1.3v1.3h-1.3zM606.5 426.5h1.3v1.3h-1.3zM569 459.5h1.3v1.3h-1.3zM474 555h1.3v1.3h-1.3zM594.5 442h1.3v1.3h-1.3zM521.5 507.5h1.3v1.3h-1.3zM644.5 390.5h1.3v1.3h-1.3zM520 511h1.3v1.3h-1.3zM473 541.5h1.3v1.3h-1.3zM514.5 516.5h1.3v1.3h-1.3zM484.5 531.5h1.3v1.3h-1.3zM554.5 473h1.3v1.3h-1.3zM474 557h1.3v1.3h-1.3zM545.5 480h1.3v1.3h-1.3zM479 550.5h1.3v1.3h-1.3zM618.5 418h1.3v1.3h-1.3zM495.5 530.5h1.3v1.3h-1.3zM542.5 482.5h1.3v1.3h-1.3zM484.5 530.5h1.3v1.3h-1.3zM467.5 555.5h1.3v1.3h-1.3zM506 513.5h1.3v1.3h-1.3zM508.5 524h1.3v1.3h-1.3zM533 491h1.3v1.3h-1.3zM590 437.5h1.3v1.3h-1.3zM568 459h1.3v1.3h-1.3zM474.5 542.5h1.3v1.3h-1.3zM493 527.5h1.3v1.3h-1.3zM487 545h1.3v1.3h-1.3zM465 551h1.3v1.3h-1.3zM529 502h1.3v1.3h-1.3zM524.5 505h1.3v1.3h-1.3zM504.5 514.5h1.3v1.3h-1.3zM499 523.5h1.3v1.3h-1.3zM508.5 516h1.3v1.3h-1.3zM461 555.5h1.3v1.3h-1.3zM499 528h1.3v1.3h-1.3zM590 444.5h1.3v1.3h-1.3zM480 551h1.3v1.3h-1.3zM506 522.5h1.3v1.3h-1.3zM509.5 519h1.3v1.3h-1.3zM493.5 528h1.3v1.3h-1.3zM614.5 419h1.3v1.3h-1.3zM585 445h1.3v1.3h-1.3zM582 444.5h1.3v1.3h-1.3zM481.5 542.5h1.3v1.3h-1.3zM518.5 515h1.3v1.3h-1.3zM571 459.5h1.3v1.3h-1.3zM511.5 516h1.3v1.3h-1.3zM468.5 564.5h1.3v1.3h-1.3zM641 392h1.3v1.3h-1.3zM526 502.5h1.3v1.3h-1.3zM481.5 548h1.3v1.3h-1.3zM536 489h1.3v1.3h-1.3zM494 527.5h1.3v1.3h-1.3zM481.5 538h1.3v1.3h-1.3zM494 533h1.3v1.3h-1.3zM520.5 505h1.3v1.3h-1.3zM483.5 544h1.3v1.3h-1.3zM501 516.5h1.3v1.3h-1.3zM516.5 510h1.3v1.3h-1.3zM602.5 432h1.3v1.3h-1.3zM496.5 531h1.3v1.3h-1.3zM497.5 524.5h1.3v1.3h-1.3zM553.5 472.5h1.3v1.3h-1.3zM516 514h1.3v1.3h-1.3zM568.5 462.5h1.3v1.3h-1.3zM506.5 525.5h1.3v1.3h-1.3zM483 539.5h1.3v1.3h-1.3zM468.5 554h1.3v1.3h-1.3zM559 471h1.3v1.3h-1.3zM525.5 502.5h1.3v1.3h-1.3zM477.5 547.5h1.3v1.3h-1.3zM486 537h1.3v1.3h-1.3zM493 533h1.3v1.3h-1.3zM610 423h1.3v1.3h-1.3zM542 491.5h1.3v1.3h-1.3zM548.5 476.5h1.3v1.3h-1.3zM494 531.5h1.3v1.3h-1.3zM574 457.5h1.3v1.3h-1.3zM490.5 533h1.3v1.3h-1.3zM582.5 451h1.3v1.3h-1.3zM503 521.5h1.3v1.3h-1.3zM603 429h1.3v1.3h-1.3zM508 518.5h1.3v1.3h-1.3zM572.5 460h1.3v1.3h-1.3zM475 546h1.3v1.3h-1.3zM472 561.5h1.3v1.3h-1.3zM492.5 528h1.3v1.3h-1.3zM540 485h1.3v1.3h-1.3zM500 530h1.3v1.3h-1.3zM503 525h1.3v1.3h-1.3zM516.5 501.5h1.3v1.3h-1.3zM505 518h1.3v1.3h-1.3zM518 513h1.3v1.3h-1.3zM568 467h1.3v1.3h-1.3zM529 497.5h1.3v1.3h-1.3zM609.5 425h1.3v1.3h-1.3zM605.5 431.5h1.3v1.3h-1.3zM510 519h1.3v1.3h-1.3zM480 540h1.3v1.3h-1.3zM533 497.5h1.3v1.3h-1.3zM481.5 535.5h1.3v1.3h-1.3zM547 476h1.3v1.3h-1.3zM563.5 467h1.3v1.3h-1.3zM492 543h1.3v1.3h-1.3zM479.5 554.5h1.3v1.3h-1.3zM509.5 511.5h1.3v1.3h-1.3zM585 447.5h1.3v1.3h-1.3zM500.5 525.5h1.3v1.3h-1.3zM568 464.5h1.3v1.3h-1.3zM492 536h1.3v1.3h-1.3zM610 427h1.3v1.3h-1.3zM476.5 541.5h1.3v1.3h-1.3zM505 519h1.3v1.3h-1.3zM493.5 528.5h1.3v1.3h-1.3zM515.5 513h1.3v1.3h-1.3zM535.5 487h1.3v1.3h-1.3zM592 443.5h1.3v1.3h-1.3zM581 450.5h1.3v1.3h-1.3zM602 430h1.3v1.3h-1.3zM501.5 533h1.3v1.3h-1.3zM511.5 512.5h1.3v1.3h-1.3zM609.5 421.5h1.3v1.3h-1.3zM544.5 484h1.3v1.3h-1.3zM589 442.5h1.3v1.3h-1.3zM534.5 489.5h1.3v1.3h-1.3zM533.5 492.5h1.3v1.3h-1.3zM546.5 480h1.3v1.3h-1.3zM579.5 455h1.3v1.3h-1.3zM593 438.5h1.3v1.3h-1.3zM527 503h1.3v1.3h-1.3zM524.5 502.5h1.3v1.3h-1.3zM549.5 479h1.3v1.3h-1.3zM613 421.5h1.3v1.3h-1.3zM510.5 511h1.3v1.3h-1.3zM536.5 499.5h1.3v1.3h-1.3zM553 477.5h1.3v1.3h-1.3zM486 530h1.3v1.3h-1.3zM498 529.5h1.3v1.3h-1.3zM608.5 425h1.3v1.3h-1.3zM542 485.5h1.3v1.3h-1.3zM506 520h1.3v1.3h-1.3zM477 540h1.3v1.3h-1.3zM490.5 537h1.3v1.3h-1.3zM512.5 512.5h1.3v1.3h-1.3zM487.5 533.5h1.3v1.3h-1.3zM494 531h1.3v1.3h-1.3zM583 447h1.3v1.3h-1.3zM531.5 496.5h1.3v1.3h-1.3zM564.5 469.5h1.3v1.3h-1.3zM515.5 511h1.3v1.3h-1.3zM609.5 422.5h1.3v1.3h-1.3zM499.5 523h1.3v1.3h-1.3zM517 512h1.3v1.3h-1.3zM479.5 540.5h1.3v1.3h-1.3zM585.5 450.5h1.3v1.3h-1.3zM502 524.5h1.3v1.3h-1.3zM489 536.5h1.3v1.3h-1.3zM528.5 503h1.3v1.3h-1.3zM504 522h1.3v1.3h-1.3zM629.5 407h1.3v1.3h-1.3zM585 450h1.3v1.3h-1.3zM539 492h1.3v1.3h-1.3zM487.5 543h1.3v1.3h-1.3zM505 520.5h1.3v1.3h-1.3zM466 554h1.3v1.3h-1.3zM515.5 510h1.3v1.3h-1.3zM480 540.5h1.3v1.3h-1.3zM476 542h1.3v1.3h-1.3zM570 461.5h1.3v1.3h-1.3zM514.5 510h1.3v1.3h-1.3zM513.5 513h1.3v1.3h-1.3zM579 452.5h1.3v1.3h-1.3zM519.5 504h1.3v1.3h-1.3zM496.5 536.5h1.3v1.3h-1.3zM540 486.5h1.3v1.3h-1.3zM496 531.5h1.3v1.3h-1.3zM517 514h1.3v1.3h-1.3zM620.5 413.5h1.3v1.3h-1.3zM526 499h1.3v1.3h-1.3zM474 540.5h1.3v1.3h-1.3zM501.5 521h1.3v1.3h-1.3zM596 438h1.3v1.3h-1.3zM485 539.5h1.3v1.3h-1.3zM469 545.5h1.3v1.3h-1.3zM505 530.5h1.3v1.3h-1.3zM497 523h1.3v1.3h-1.3zM575 457h1.3v1.3h-1.3zM591 439h1.3v1.3h-1.3zM490 539h1.3v1.3h-1.3zM588 442h1.3v1.3h-1.3zM519.5 514h1.3v1.3h-1.3zM458.5 555.5h1.3v1.3h-1.3zM574 456.5h1.3v1.3h-1.3zM530.5 497.5h1.3v1.3h-1.3zM504 518h1.3v1.3h-1.3zM509 519h1.3v1.3h-1.3zM533 492.5h1.3v1.3h-1.3zM550 476h1.3v1.3h-1.3zM495.5 526.5h1.3v1.3h-1.3zM525.5 501.5h1.3v1.3h-1.3zM505 522h1.3v1.3h-1.3zM493 530h1.3v1.3h-1.3zM561.5 467h1.3v1.3h-1.3zM600 436.5h1.3v1.3h-1.3zM604 428.5h1.3v1.3h-1.3zM486 538.5h1.3v1.3h-1.3zM478.5 541h1.3v1.3h-1.3zM573.5 459.5h1.3v1.3h-1.3zM491 537h1.3v1.3h-1.3zM505.5 525h1.3v1.3h-1.3zM582 448h1.3v1.3h-1.3zM498 533h1.3v1.3h-1.3zM554 479.5h1.3v1.3h-1.3zM511.5 519h1.3v1.3h-1.3zM551.5 483.5h1.3v1.3h-1.3zM517 508.5h1.3v1.3h-1.3zM542 488.5h1.3v1.3h-1.3zM474.5 539.5h1.3v1.3h-1.3zM510.5 517h1.3v1.3h-1.3zM591 438h1.3v1.3h-1.3zM599 436h1.3v1.3h-1.3zM490.5 532.5h1.3v1.3h-1.3zM529 501h1.3v1.3h-1.3zM532 497.5h1.3v1.3h-1.3zM503.5 523h1.3v1.3h-1.3zM614 421h1.3v1.3h-1.3zM556 475h1.3v1.3h-1.3zM508 514h1.3v1.3h-1.3zM495.5 532h1.3v1.3h-1.3zM619.5 414.5h1.3v1.3h-1.3zM476.5 548h1.3v1.3h-1.3zM487.5 538.5h1.3v1.3h-1.3zM540 487.5h1.3v1.3h-1.3zM473.5 558h1.3v1.3h-1.3zM504.5 520h1.3v1.3h-1.3zM501.5 525h1.3v1.3h-1.3zM618 415h1.3v1.3h-1.3zM480.5 537.5h1.3v1.3h-1.3zM592 437.5h1.3v1.3h-1.3zM505 520h1.3v1.3h-1.3zM489 539.5h1.3v1.3h-1.3zM554 474h1.3v1.3h-1.3zM506.5 520.5h1.3v1.3h-1.3zM500 522h1.3v1.3h-1.3zM529.5 496.5h1.3v1.3h-1.3zM492.5 534.5h1.3v1.3h-1.3zM480.5 550.5h1.3v1.3h-1.3zM513.5 507.5h1.3v1.3h-1.3zM490.5 536h1.3v1.3h-1.3zM504.5 514h1.3v1.3h-1.3zM534.5 495.5h1.3v1.3h-1.3zM487.5 536h1.3v1.3h-1.3zM540.5 483.5h1.3v1.3h-1.3zM540.5 488.5h1.3v1.3h-1.3zM542 489h1.3v1.3h-1.3zM489 541.5h1.3v1.3h-1.3zM485.5 544h1.3v1.3h-1.3zM495 525h1.3v1.3h-1.3zM479 545h1.3v1.3h-1.3zM516 517h1.3v1.3h-1.3zM541.5 485.5h1.3v1.3h-1.3zM593 437h1.3v1.3h-1.3zM602.5 431h1.3v1.3h-1.3zM582 449.5h1.3v1.3h-1.3zM474 552.5h1.3v1.3h-1.3zM572.5 464h1.3v1.3h-1.3zM472.5 561h1.3v1.3h-1.3zM505.5 527.5h1.3v1.3h-1.3zM633 402.5h1.3v1.3h-1.3zM517 516h1.3v1.3h-1.3zM502 526h1.3v1.3h-1.3zM552 473h1.3v1.3h-1.3zM471 560.5h1.3v1.3h-1.3zM491.5 526.5h1.3v1.3h-1.3zM510 523.5h1.3v1.3h-1.3zM603 433.5h1.3v1.3h-1.3zM488 540.5h1.3v1.3h-1.3zM564.5 467.5h1.3v1.3h-1.3zM515 518.5h1.3v1.3h-1.3zM515.5 512.5h1.3v1.3h-1.3zM504.5 521h1.3v1.3h-1.3zM525 507h1.3v1.3h-1.3zM504.5 523.5h1.3v1.3h-1.3zM533 500h1.3v1.3h-1.3zM473 554.5h1.3v1.3h-1.3zM546.5 486.5h1.3v1.3h-1.3zM504 526h1.3v1.3h-1.3zM513 517.5h1.3v1.3h-1.3zM471 544.5h1.3v1.3h-1.3zM467.5 564.5h1.3v1.3h-1.3zM466 552.5h1.3v1.3h-1.3zM554.5 472h1.3v1.3h-1.3zM510.5 525.5h1.3v1.3h-1.3zM592.5 438h1.3v1.3h-1.3zM531 498h1.3v1.3h-1.3zM482 536h1.3v1.3h-1.3zM539.5 490h1.3v1.3h-1.3zM557 468h1.3v1.3h-1.3zM553.5 478.5h1.3v1.3h-1.3zM490.5 525h1.3v1.3h-1.3zM501 531.5h1.3v1.3h-1.3zM471 546h1.3v1.3h-1.3zM543.5 484.5h1.3v1.3h-1.3zM471.5 552.5h1.3v1.3h-1.3zM598 435h1.3v1.3h-1.3zM496.5 524h1.3v1.3h-1.3zM531 503h1.3v1.3h-1.3zM508.5 515.5h1.3v1.3h-1.3zM477 547h1.3v1.3h-1.3zM604.5 429h1.3v1.3h-1.3zM547.5 478.5h1.3v1.3h-1.3zM477.5 553h1.3v1.3h-1.3zM508.5 521h1.3v1.3h-1.3zM502 516.5h1.3v1.3h-1.3zM474.5 556.5h1.3v1.3h-1.3zM486.5 528.5h1.3v1.3h-1.3zM517 507.5h1.3v1.3h-1.3zM488 537h1.3v1.3h-1.3zM482 543h1.3v1.3h-1.3zM560 470.5h1.3v1.3h-1.3zM479 540.5h1.3v1.3h-1.3zM633.5 405.5h1.3v1.3h-1.3zM568.5 459.5h1.3v1.3h-1.3zM489 542.5h1.3v1.3h-1.3zM565 465.5h1.3v1.3h-1.3zM483 538.5h1.3v1.3h-1.3zM514 511h1.3v1.3h-1.3zM500 523h1.3v1.3h-1.3zM610.5 422h1.3v1.3h-1.3zM498.5 535h1.3v1.3h-1.3zM485 538.5h1.3v1.3h-1.3zM474 541.5h1.3v1.3h-1.3zM471 548h1.3v1.3h-1.3zM531.5 489.5h1.3v1.3h-1.3zM483.5 546h1.3v1.3h-1.3zM459.5 558h1.3v1.3h-1.3zM483.5 545.5h1.3v1.3h-1.3zM498 527.5h1.3v1.3h-1.3zM478 553.5h1.3v1.3h-1.3zM544 480.5h1.3v1.3h-1.3zM498 535h1.3v1.3h-1.3zM491 538h1.3v1.3h-1.3zM509.5 518h1.3v1.3h-1.3zM503 530h1.3v1.3h-1.3zM534 495h1.3v1.3h-1.3zM509 513h1.3v1.3h-1.3zM530.5 498h1.3v1.3h-1.3zM536.5 496.5h1.3v1.3h-1.3zM519 506.5h1.3v1.3h-1.3zM465 555.5h1.3v1.3h-1.3zM498.5 522.5h1.3v1.3h-1.3zM542.5 491.5h1.3v1.3h-1.3zM540 483.5h1.3v1.3h-1.3zM473 550h1.3v1.3h-1.3zM495 534.5h1.3v1.3h-1.3zM538.5 483.5h1.3v1.3h-1.3zM517 512.5h1.3v1.3h-1.3zM501.5 525.5h1.3v1.3h-1.3zM468 548.5h1.3v1.3h-1.3zM469.5 545h1.3v1.3h-1.3zM587.5 441.5h1.3v1.3h-1.3zM499 531.5h1.3v1.3h-1.3zM482.5 550h1.3v1.3h-1.3zM556 474h1.3v1.3h-1.3zM567 465.5h1.3v1.3h-1.3zM530 501.5h1.3v1.3h-1.3zM522.5 502h1.3v1.3h-1.3zM541.5 491h1.3v1.3h-1.3zM495.5 535.5h1.3v1.3h-1.3zM534 488.5h1.3v1.3h-1.3zM489 533.5h1.3v1.3h-1.3zM525 502.5h1.3v1.3h-1.3zM478 545.5h1.3v1.3h-1.3zM504.5 528.5h1.3v1.3h-1.3zM490 527h1.3v1.3h-1.3zM512 509.5h1.3v1.3h-1.3zM528 501h1.3v1.3h-1.3zM578 455.5h1.3v1.3h-1.3zM512.5 516.5h1.3v1.3h-1.3zM491.5 537.5h1.3v1.3h-1.3zM498.5 529h1.3v1.3h-1.3zM469.5 544h1.3v1.3h-1.3zM486.5 530.5h1.3v1.3h-1.3zM525.5 504.5h1.3v1.3h-1.3zM497 536h1.3v1.3h-1.3zM492.5 535h1.3v1.3h-1.3zM508.5 512h1.3v1.3h-1.3zM528.5 503.5h1.3v1.3h-1.3zM519.5 509.5h1.3v1.3h-1.3zM523.5 509.5h1.3v1.3h-1.3zM479.5 539.5h1.3v1.3h-1.3zM475 542h1.3v1.3h-1.3zM494 526.5h1.3v1.3h-1.3zM457.5 556.5h1.3v1.3h-1.3zM541.5 487.5h1.3v1.3h-1.3zM533 498h1.3v1.3h-1.3zM536.5 487.5h1.3v1.3h-1.3zM496.5 536h1.3v1.3h-1.3zM549.5 476.5h1.3v1.3h-1.3zM483 533.5h1.3v1.3h-1.3zM535 494h1.3v1.3h-1.3zM473.5 544h1.3v1.3h-1.3zM621.5 412.5h1.3v1.3h-1.3zM480 536.5h1.3v1.3h-1.3zM483.5 546.5h1.3v1.3h-1.3zM479 555h1.3v1.3h-1.3zM525 505h1.3v1.3h-1.3zM598.5 434h1.3v1.3h-1.3zM546.5 480.5h1.3v1.3h-1.3zM480.5 542h1.3v1.3h-1.3zM506.5 516.5h1.3v1.3h-1.3zM531 500h1.3v1.3h-1.3zM485.5 549h1.3v1.3h-1.3zM540.5 493h1.3v1.3h-1.3zM485 538h1.3v1.3h-1.3zM558.5 470h1.3v1.3h-1.3zM541.5 484.5h1.3v1.3h-1.3zM498.5 523.5h1.3v1.3h-1.3zM571 460h1.3v1.3h-1.3zM622 414h1.3v1.3h-1.3zM495.5 525h1.3v1.3h-1.3zM469.5 559.5h1.3v1.3h-1.3zM540 487h1.3v1.3h-1.3zM514.5 520h1.3v1.3h-1.3zM499.5 521h1.3v1.3h-1.3zM489 530.5h1.3v1.3h-1.3zM531.5 500h1.3v1.3h-1.3zM469 558.5h1.3v1.3h-1.3zM576.5 459h1.3v1.3h-1.3zM503.5 524.5h1.3v1.3h-1.3zM516 515.5h1.3v1.3h-1.3zM517.5 506h1.3v1.3h-1.3zM505 514.5h1.3v1.3h-1.3zM556.5 476h1.3v1.3h-1.3zM526 505h1.3v1.3h-1.3zM482 542h1.3v1.3h-1.3zM598.5 440h1.3v1.3h-1.3zM572 460.5h1.3v1.3h-1.3zM497 532h1.3v1.3h-1.3zM562 468.5h1.3v1.3h-1.3zM478.5 546.5h1.3v1.3h-1.3zM535.5 488h1.3v1.3h-1.3zM518.5 512.5h1.3v1.3h-1.3zM528 500.5h1.3v1.3h-1.3zM562 470.5h1.3v1.3h-1.3zM509.5 512.5h1.3v1.3h-1.3zM506.5 527h1.3v1.3h-1.3zM487 528.5h1.3v1.3h-1.3zM488 541h1.3v1.3h-1.3zM576 457.5h1.3v1.3h-1.3zM503 527h1.3v1.3h-1.3zM521.5 502h1.3v1.3h-1.3zM544 485.5h1.3v1.3h-1.3zM536.5 491.5h1.3v1.3h-1.3zM517.5 511h1.3v1.3h-1.3zM471 548.5h1.3v1.3h-1.3zM479 535.5h1.3v1.3h-1.3zM564 462.5h1.3v1.3h-1.3zM528 500h1.3v1.3h-1.3zM566 470.5h1.3v1.3h-1.3zM500.5 529.5h1.3v1.3h-1.3zM476 552h1.3v1.3h-1.3zM558.5 469h1.3v1.3h-1.3zM506 522h1.3v1.3h-1.3zM583.5 448.5h1.3v1.3h-1.3zM600 435h1.3v1.3h-1.3zM504 519.5h1.3v1.3h-1.3zM500.5 530h1.3v1.3h-1.3zM486 539h1.3v1.3h-1.3zM472 556.5h1.3v1.3h-1.3zM550.5 474.5h1.3v1.3h-1.3zM488.5 532h1.3v1.3h-1.3zM482 541h1.3v1.3h-1.3zM505.5 529.5h1.3v1.3h-1.3zM506.5 524.5h1.3v1.3h-1.3zM492.5 526.5h1.3v1.3h-1.3zM500 520.5h1.3v1.3h-1.3zM538 490.5h1.3v1.3h-1.3zM492.5 537.5h1.3v1.3h-1.3zM508.5 527.5h1.3v1.3h-1.3zM477 551h1.3v1.3h-1.3zM538.5 488h1.3v1.3h-1.3zM519.5 509h1.3v1.3h-1.3zM574.5 454h1.3v1.3h-1.3zM473.5 551.5h1.3v1.3h-1.3zM505.5 527h1.3v1.3h-1.3zM576.5 454.5h1.3v1.3h-1.3zM527.5 504.5h1.3v1.3h-1.3zM472.5 543h1.3v1.3h-1.3zM518.5 507h1.3v1.3h-1.3zM464 557.5h1.3v1.3h-1.3zM523 511.5h1.3v1.3h-1.3zM526.5 499h1.3v1.3h-1.3zM463.5 558.5h1.3v1.3h-1.3zM518.5 510.5h1.3v1.3h-1.3zM532.5 495h1.3v1.3h-1.3zM498 525.5h1.3v1.3h-1.3zM512 518h1.3v1.3h-1.3zM527.5 504h1.3v1.3h-1.3zM517.5 507h1.3v1.3h-1.3zM618 417.5h1.3v1.3h-1.3zM459 555.5h1.3v1.3h-1.3zM533.5 496.5h1.3v1.3h-1.3zM555 474h1.3v1.3h-1.3zM584.5 447.5h1.3v1.3h-1.3zM520 509.5h1.3v1.3h-1.3zM531 495h1.3v1.3h-1.3zM515.5 517h1.3v1.3h-1.3zM568 460.5h1.3v1.3h-1.3zM555 477.5h1.3v1.3h-1.3zM504.5 527.5h1.3v1.3h-1.3zM523.5 504h1.3v1.3h-1.3zM510 517h1.3v1.3h-1.3zM495 540h1.3v1.3h-1.3zM555.5 475.5h1.3v1.3h-1.3zM517.5 502.5h1.3v1.3h-1.3zM470 556h1.3v1.3h-1.3zM507 516h1.3v1.3h-1.3zM526 496.5h1.3v1.3h-1.3zM486 531h1.3v1.3h-1.3zM537 495.5h1.3v1.3h-1.3zM530.5 493.5h1.3v1.3h-1.3zM570 459.5h1.3v1.3h-1.3zM480.5 549h1.3v1.3h-1.3zM575.5 452.5h1.3v1.3h-1.3zM535 496h1.3v1.3h-1.3zM530.5 495.5h1.3v1.3h-1.3zM481.5 533h1.3v1.3h-1.3zM546.5 484.5h1.3v1.3h-1.3zM501.5 519.5h1.3v1.3h-1.3zM577.5 459.5h1.3v1.3h-1.3zM492.5 528.5h1.3v1.3h-1.3zM463 560.5h1.3v1.3h-1.3zM546.5 486h1.3v1.3h-1.3zM480.5 548.5h1.3v1.3h-1.3zM545.5 489.5h1.3v1.3h-1.3zM555.5 474h1.3v1.3h-1.3zM600.5 434.5h1.3v1.3h-1.3zM470.5 549h1.3v1.3h-1.3zM599.5 433.5h1.3v1.3h-1.3zM529 497h1.3v1.3h-1.3zM577 451h1.3v1.3h-1.3zM492.5 531h1.3v1.3h-1.3zM501 524.5h1.3v1.3h-1.3zM525 500.5h1.3v1.3h-1.3zM487.5 546h1.3v1.3h-1.3zM495 526.5h1.3v1.3h-1.3zM502.5 517h1.3v1.3h-1.3zM509.5 513h1.3v1.3h-1.3zM496 538h1.3v1.3h-1.3zM487.5 529h1.3v1.3h-1.3zM461.5 553.5h1.3v1.3h-1.3zM522.5 501h1.3v1.3h-1.3zM596 437h1.3v1.3h-1.3zM586 446h1.3v1.3h-1.3zM586 448.5h1.3v1.3h-1.3zM500 528.5h1.3v1.3h-1.3zM511 520.5h1.3v1.3h-1.3zM575.5 458h1.3v1.3h-1.3zM518.5 507.5h1.3v1.3h-1.3zM519.5 506h1.3v1.3h-1.3zM479.5 539h1.3v1.3h-1.3zM605 431.5h1.3v1.3h-1.3zM487 538h1.3v1.3h-1.3zM470 558.5h1.3v1.3h-1.3zM500.5 517h1.3v1.3h-1.3zM588 445.5h1.3v1.3h-1.3zM489.5 529.5h1.3v1.3h-1.3zM615.5 422h1.3v1.3h-1.3zM502.5 520h1.3v1.3h-1.3zM535.5 497.5h1.3v1.3h-1.3zM524 501.5h1.3v1.3h-1.3zM570 462h1.3v1.3h-1.3zM479.5 547h1.3v1.3h-1.3zM491 533h1.3v1.3h-1.3zM612 420.5h1.3v1.3h-1.3zM584 449h1.3v1.3h-1.3zM504.5 513.5h1.3v1.3h-1.3zM470.5 543h1.3v1.3h-1.3zM554 478.5h1.3v1.3h-1.3zM517.5 517h1.3v1.3h-1.3zM473.5 544.5h1.3v1.3h-1.3zM483 543.5h1.3v1.3h-1.3zM491.5 538.5h1.3v1.3h-1.3zM514.5 512.5h1.3v1.3h-1.3zM514 507h1.3v1.3h-1.3zM495.5 536.5h1.3v1.3h-1.3zM465.5 563.5h1.3v1.3h-1.3zM596.5 437.5h1.3v1.3h-1.3zM505.5 517.5h1.3v1.3h-1.3zM491.5 527.5h1.3v1.3h-1.3zM526.5 491.5h1.3v1.3h-1.3zM637 398h1.3v1.3h-1.3zM595 438.5h1.3v1.3h-1.3zM499.5 518.5h1.3v1.3h-1.3zM486 543h1.3v1.3h-1.3zM496 533h1.3v1.3h-1.3zM533.5 494h1.3v1.3h-1.3zM494 522h1.3v1.3h-1.3zM505 526h1.3v1.3h-1.3zM546 489.5h1.3v1.3h-1.3zM604 431h1.3v1.3h-1.3zM518 510h1.3v1.3h-1.3zM533 493.5h1.3v1.3h-1.3zM530.5 492.5h1.3v1.3h-1.3zM540.5 487h1.3v1.3h-1.3zM590.5 441h1.3v1.3h-1.3zM524.5 502h1.3v1.3h-1.3zM558.5 473h1.3v1.3h-1.3zM524 505h1.3v1.3h-1.3zM579 451.5h1.3v1.3h-1.3zM522 511.5h1.3v1.3h-1.3zM618.5 419.5h1.3v1.3h-1.3zM514 517h1.3v1.3h-1.3zM566.5 463h1.3v1.3h-1.3zM482.5 544h1.3v1.3h-1.3zM507.5 520h1.3v1.3h-1.3zM475.5 556.5h1.3v1.3h-1.3zM482 540.5h1.3v1.3h-1.3zM503 523.5h1.3v1.3h-1.3zM532.5 493.5h1.3v1.3h-1.3zM537 491h1.3v1.3h-1.3zM500 522.5h1.3v1.3h-1.3zM606.5 430h1.3v1.3h-1.3zM497.5 531h1.3v1.3h-1.3zM532.5 499.5h1.3v1.3h-1.3zM512 515.5h1.3v1.3h-1.3zM464 562h1.3v1.3h-1.3zM612 418.5h1.3v1.3h-1.3zM519 507.5h1.3v1.3h-1.3zM545.5 481.5h1.3v1.3h-1.3zM486.5 536.5h1.3v1.3h-1.3zM500 521h1.3v1.3h-1.3zM541.5 486.5h1.3v1.3h-1.3zM514.5 514.5h1.3v1.3h-1.3zM494.5 537.5h1.3v1.3h-1.3zM480 536h1.3v1.3h-1.3zM509 511h1.3v1.3h-1.3zM587.5 444h1.3v1.3h-1.3zM561 465h1.3v1.3h-1.3zM484 530.5h1.3v1.3h-1.3zM493.5 522.5h1.3v1.3h-1.3zM493.5 526.5h1.3v1.3h-1.3zM515.5 512h1.3v1.3h-1.3zM527.5 500h1.3v1.3h-1.3zM590.5 438h1.3v1.3h-1.3zM513 511h1.3v1.3h-1.3zM557 475.5h1.3v1.3h-1.3zM543 489h1.3v1.3h-1.3zM569.5 458h1.3v1.3h-1.3zM521 503h1.3v1.3h-1.3zM517.5 505.5h1.3v1.3h-1.3zM524 509.5h1.3v1.3h-1.3zM557.5 471.5h1.3v1.3h-1.3zM554 474.5h1.3v1.3h-1.3zM494.5 539h1.3v1.3h-1.3zM530.5 502.5h1.3v1.3h-1.3zM464.5 551.5h1.3v1.3h-1.3zM573 457.5h1.3v1.3h-1.3zM527.5 499h1.3v1.3h-1.3zM548 484.5h1.3v1.3h-1.3zM581.5 450h1.3v1.3h-1.3zM496.5 526.5h1.3v1.3h-1.3zM496 527.5h1.3v1.3h-1.3zM497.5 522h1.3v1.3h-1.3zM461 558h1.3v1.3h-1.3zM498 537h1.3v1.3h-1.3zM522 509.5h1.3v1.3h-1.3zM599 434.5h1.3v1.3h-1.3zM474.5 540h1.3v1.3h-1.3zM509.5 514h1.3v1.3h-1.3zM486 530.5h1.3v1.3h-1.3zM530.5 497h1.3v1.3h-1.3zM485 536.5h1.3v1.3h-1.3zM486.5 543h1.3v1.3h-1.3zM524 500h1.3v1.3h-1.3zM493.5 535.5h1.3v1.3h-1.3zM590 442h1.3v1.3h-1.3zM490.5 531.5h1.3v1.3h-1.3zM573 456.5h1.3v1.3h-1.3zM515 516h1.3v1.3h-1.3zM566 464h1.3v1.3h-1.3zM471 558.5h1.3v1.3h-1.3zM531 500.5h1.3v1.3h-1.3zM503.5 527h1.3v1.3h-1.3zM591.5 441h1.3v1.3h-1.3zM613.5 422h1.3v1.3h-1.3zM508 521.5h1.3v1.3h-1.3zM510 517.5h1.3v1.3h-1.3zM506 521h1.3v1.3h-1.3zM536.5 492h1.3v1.3h-1.3zM580 452h1.3v1.3h-1.3zM582 450h1.3v1.3h-1.3zM581.5 452h1.3v1.3h-1.3zM517.5 518.5h1.3v1.3h-1.3zM506.5 515.5h1.3v1.3h-1.3zM545 490h1.3v1.3h-1.3z" fill="#c6c6c6"/>
<path d="M456.5 547h1.4v1.4h-1.4zM453.5 549.5h1.4v1.4h-1.4zM439.5 567h1.4v1.4h-1.4zM442.5 560.5h1.4v1.4h-1.4zM457 537.5h1.4v1.4h-1.4zM459.5 542h1.4v1.4h-1.4zM450.5 559.5h1.4v1.4h-1.4zM464 545h1.4v1.4h-1.4zM466.5 541h1.4v1.4h-1.4zM428.5 556.5h1.4v1.4h-1.4zM446 556.5h1.4v1.4h-1.4zM443.5 541h1.4v1.4h-1.4zM453 555.5h1.4v1.4h-1.4zM477 510h1.4v1.4h-1.4zM440 539h1.4v1.4h-1.4zM440.5 556h1.4v1.4h-1.4zM457.5 547h1.4v1.4h-1.4zM438.5 556h1.4v1.4h-1.4zM445 555h1.4v1.4h-1.4zM461.5 546h1.4v1.4h-1.4zM465 532h1.4v1.4h-1.4zM467.5 517h1.4v1.4h-1.4zM462 549h1.4v1.4h-1.4zM446.5 553.5h1.4v1.4h-1.4zM448.5 537.5h1.4v1.4h-1.4zM463.5 515h1.4v1.4h-1.4zM444.5 562.5h1.4v1.4h-1.4zM457.5 532.5h1.4v1.4h-1.4zM443 563h1.4v1.4h-1.4zM460.5 549.5h1.4v1.4h-1.4zM457.5 538h1.4v1.4h-1.4zM435 568h1.4v1.4h-1.4zM444.5 547.5h1.4v1.4h-1.4zM444 554h1.4v1.4h-1.4zM458.5 542.5h1.4v1.4h-1.4zM446 551h1.4v1.4h-1.4zM431.5 576h1.4v1.4h-1.4zM448.5 553h1.4v1.4h-1.4zM451.5 549.5h1.4v1.4h-1.4zM435.5 553.5h1.4v1.4h-1.4zM463.5 546.5h1.4v1.4h-1.4zM462 535h1.4v1.4h-1.4zM433.5 567.5h1.4v1.4h-1.4zM450 558.5h1.4v1.4h-1.4zM427.5 560h1.4v1.4h-1.4zM439 568.5h1.4v1.4h-1.4zM434.5 561.5h1.4v1.4h-1.4zM447 542h1.4v1.4h-1.4zM450.5 556h1.4v1.4h-1.4zM451 541.5h1.4v1.4h-1.4zM443 566.5h1.4v1.4h-1.4zM443 562h1.4v1.4h-1.4zM454 554h1.4v1.4h-1.4zM443 555h1.4v1.4h-1.4zM465.5 529.5h1.4v1.4h-1.4zM447.5 560h1.4v1.4h-1.4zM447 556.5h1.4v1.4h-1.4zM456 549.5h1.4v1.4h-1.4zM445 549.5h1.4v1.4h-1.4zM460 535.5h1.4v1.4h-1.4zM458.5 546h1.4v1.4h-1.4zM452.5 550.5h1.4v1.4h-1.4zM436 567h1.4v1.4h-1.4zM447.5 546.5h1.4v1.4h-1.4zM446.5 562.5h1.4v1.4h-1.4zM452 556h1.4v1.4h-1.4zM451.5 557h1.4v1.4h-1.4zM446.5 532h1.4v1.4h-1.4zM448 555.5h1.4v1.4h-1.4zM447.5 547.5h1.4v1.4h-1.4zM439.5 566h1.4v1.4h-1.4zM446.5 559.5h1.4v1.4h-1.4zM441.5 565.5h1.4v1.4h-1.4zM449 556h1.4v1.4h-1.4zM434.5 562.5h1.4v1.4h-1.4zM469 536h1.4v1.4h-1.4zM461 542.5h1.4v1.4h-1.4zM452.5 553.5h1.4v1.4h-1.4zM443 550.5h1.4v1.4h-1.4zM454.5 545h1.4v1.4h-1.4zM445 563.5h1.4v1.4h-1.4zM460.5 545h1.4v1.4h-1.4zM450 542.5h1.4v1.4h-1.4zM448.5 558h1.4v1.4h-1.4zM426.5 580h1.4v1.4h-1.4zM440 564h1.4v1.4h-1.4zM452 553.5h1.4v1.4h-1.4zM435.5 573h1.4v1.4h-1.4zM446.5 560.5h1.4v1.4h-1.4zM458.5 542h1.4v1.4h-1.4zM465 524.5h1.4v1.4h-1.4zM433 543h1.4v1.4h-1.4zM449 551.5h1.4v1.4h-1.4zM455.5 551h1.4v1.4h-1.4zM431 569.5h1.4v1.4h-1.4zM462.5 540.5h1.4v1.4h-1.4zM447.5 549.5h1.4v1.4h-1.4zM466.5 535h1.4v1.4h-1.4zM448 552h1.4v1.4h-1.4zM450.5 558h1.4v1.4h-1.4zM437 572h1.4v1.4h-1.4zM457 551h1.4v1.4h-1.4zM452 546h1.4v1.4h-1.4zM441 563.5h1.4v1.4h-1.4zM455.5 553h1.4v1.4h-1.4zM443.5 542.5h1.4v1.4h-1.4zM467 540h1.4v1.4h-1.4zM455 550h1.4v1.4h-1.4zM449 559h1.4v1.4h-1.4zM447 557h1.4v1.4h-1.4zM469 519.5h1.4v1.4h-1.4zM450 545.5h1.4v1.4h-1.4zM454 555.5h1.4v1.4h-1.4zM437.5 569.5h1.4v1.4h-1.4zM457.5 552.5h1.4v1.4h-1.4zM450 543h1.4v1.4h-1.4zM440.5 563h1.4v1.4h-1.4zM438 538h1.4v1.4h-1.4zM460.5 540h1.4v1.4h-1.4zM449 555.5h1.4v1.4h-1.4zM456 544h1.4v1.4h-1.4zM457 549h1.4v1.4h-1.4zM466 533h1.4v1.4h-1.4zM464 542.5h1.4v1.4h-1.4zM444 544h1.4v1.4h-1.4zM446 548.5h1.4v1.4h-1.4zM426.5 578h1.4v1.4h-1.4zM449 547h1.4v1.4h-1.4zM452 538.5h1.4v1.4h-1.4zM431 554.5h1.4v1.4h-1.4zM448.5 528.5h1.4v1.4h-1.4zM449 552.5h1.4v1.4h-1.4zM450.5 561h1.4v1.4h-1.4zM436 573h1.4v1.4h-1.4zM448.5 561.5h1.4v1.4h-1.4zM472 536h1.4v1.4h-1.4zM447.5 551h1.4v1.4h-1.4zM442.5 554h1.4v1.4h-1.4zM445.5 561h1.4v1.4h-1.4zM465 539.5h1.4v1.4h-1.4zM433.5 562h1.4v1.4h-1.4zM469.5 523.5h1.4v1.4h-1.4zM442.5 559.5h1.4v1.4h-1.4zM454.5 526.5h1.4v1.4h-1.4zM457 549.5h1.4v1.4h-1.4zM439 568h1.4v1.4h-1.4zM445 545.5h1.4v1.4h-1.4zM457.5 525h1.4v1.4h-1.4zM431 572.5h1.4v1.4h-1.4zM453.5 551.5h1.4v1.4h-1.4zM435.5 562.5h1.4v1.4h-1.4zM454 538.5h1.4v1.4h-1.4zM448 541h1.4v1.4h-1.4zM458 540.5h1.4v1.4h-1.4zM450.5 555.5h1.4v1.4h-1.4zM461 535.5h1.4v1.4h-1.4zM449.5 558.5h1.4v1.4h-1.4zM441 565h1.4v1.4h-1.4zM427 581.5h1.4v1.4h-1.4zM448 556.5h1.4v1.4h-1.4zM435.5 561.5h1.4v1.4h-1.4zM442.5 560h1.4v1.4h-1.4zM430.5 576.5h1.4v1.4h-1.4zM427 580.5h1.4v1.4h-1.4zM448.5 555h1.4v1.4h-1.4zM451 557.5h1.4v1.4h-1.4zM471 540h1.4v1.4h-1.4zM462.5 546h1.4v1.4h-1.4zM436.5 572.5h1.4v1.4h-1.4zM458 536.5h1.4v1.4h-1.4zM445.5 558h1.4v1.4h-1.4zM428 562.5h1.4v1.4h-1.4zM454.5 552.5h1.4v1.4h-1.4zM439.5 558h1.4v1.4h-1.4zM436 558.5h1.4v1.4h-1.4zM437 569h1.4v1.4h-1.4zM447.5 554h1.4v1.4h-1.4zM444 560.5h1.4v1.4h-1.4zM444 561.5h1.4v1.4h-1.4zM448 557h1.4v1.4h-1.4zM455.5 547h1.4v1.4h-1.4zM441 569.5h1.4v1.4h-1.4zM442 567h1.4v1.4h-1.4zM449.5 558h1.4v1.4h-1.4zM452 548.5h1.4v1.4h-1.4zM455 548.5h1.4v1.4h-1.4zM464.5 544.5h1.4v1.4h-1.4zM426 556h1.4v1.4h-1.4zM460.5 548h1.4v1.4h-1.4zM452.5 553h1.4v1.4h-1.4zM460.5 548.5h1.4v1.4h-1.4zM438 568.5h1.4v1.4h-1.4zM450 554h1.4v1.4h-1.4zM464.5 530h1.4v1.4h-1.4zM465.5 537.5h1.4v1.4h-1.4zM462 545h1.4v1.4h-1.4zM438.5 559h1.4v1.4h-1.4zM447.5 561.5h1.4v1.4h-1.4zM426 580h1.4v1.4h-1.4zM444 564.5h1.4v1.4h-1.4zM434 571.5h1.4v1.4h-1.4zM445 561.5h1.4v1.4h-1.4zM444.5 564.5h1.4v1.4h-1.4zM454 545.5h1.4v1.4h-1.4zM455.5 555.5h1.4v1.4h-1.4zM453 538.5h1.4v1.4h-1.4zM453 553h1.4v1.4h-1.4zM451.5 539.5h1.4v1.4h-1.4zM466.5 544.5h1.4v1.4h-1.4zM446 556h1.4v1.4h-1.4zM438 541h1.4v1.4h-1.4zM449.5 551h1.4v1.4h-1.4zM457.5 541h1.4v1.4h-1.4zM468.5 540h1.4v1.4h-1.4zM445.5 554h1.4v1.4h-1.4zM458 548h1.4v1.4h-1.4zM446 559.5h1.4v1.4h-1.4zM458 526.5h1.4v1.4h-1.4zM435 571.5h1.4v1.4h-1.4zM453.5 552.5h1.4v1.4h-1.4zM455.5 541h1.4v1.4h-1.4zM428 575h1.4v1.4h-1.4zM446 552.5h1.4v1.4h-1.4zM437.5 564h1.4v1.4h-1.4zM450 557h1.4v1.4h-1.4zM449.5 555h1.4v1.4h-1.4zM456 528h1.4v1.4h-1.4zM451.5 545h1.4v1.4h-1.4zM455.5 548.5h1.4v1.4h-1.4zM446 554h1.4v1.4h-1.4zM456.5 541h1.4v1.4h-1.4zM435 556.5h1.4v1.4h-1.4zM456.5 545h1.4v1.4h-1.4zM441.5 556.5h1.4v1.4h-1.4zM445.5 560.5h1.4v1.4h-1.4zM451 551h1.4v1.4h-1.4zM452 557.5h1.4v1.4h-1.4zM460 546h1.4v1.4h-1.4zM444 558h1.4v1.4h-1.4zM452 555h1.4v1.4h-1.4zM436 568h1.4v1.4h-1.4zM433 575h1.4v1.4h-1.4zM466.5 545h1.4v1.4h-1.4zM447 549h1.4v1.4h-1.4zM456.5 551.5h1.4v1.4h-1.4zM449.5 560h1.4v1.4h-1.4zM433.5 571.5h1.4v1.4h-1.4zM458.5 549h1.4v1.4h-1.4zM457.5 552h1.4v1.4h-1.4zM458.5 539.5h1.4v1.4h-1.4zM466.5 543h1.4v1.4h-1.4zM446.5 561.5h1.4v1.4h-1.4zM450 556h1.4v1.4h-1.4zM441.5 567h1.4v1.4h-1.4zM444.5 557h1.4v1.4h-1.4zM440.5 564.5h1.4v1.4h-1.4zM439.5 560.5h1.4v1.4h-1.4zM442.5 562h1.4v1.4h-1.4zM440 567.5h1.4v1.4h-1.4zM442 560h1.4v1.4h-1.4zM432.5 573h1.4v1.4h-1.4zM439.5 558.5h1.4v1.4h-1.4zM446 564h1.4v1.4h-1.4zM452.5 542.5h1.4v1.4h-1.4zM460 518h1.4v1.4h-1.4zM457.5 554h1.4v1.4h-1.4zM446.5 556.5h1.4v1.4h-1.4zM444 539.5h1.4v1.4h-1.4zM445.5 544.5h1.4v1.4h-1.4zM447.5 559.5h1.4v1.4h-1.4zM435.5 574h1.4v1.4h-1.4zM454.5 552h1.4v1.4h-1.4zM448.5 556h1.4v1.4h-1.4zM446 535.5h1.4v1.4h-1.4zM438 556h1.4v1.4h-1.4zM462.5 545h1.4v1.4h-1.4zM466 546h1.4v1.4h-1.4zM436.5 561.5h1.4v1.4h-1.4zM468 541h1.4v1.4h-1.4zM456.5 546h1.4v1.4h-1.4zM429.5 579.5h1.4v1.4h-1.4zM449.5 559h1.4v1.4h-1.4zM460 548h1.4v1.4h-1.4zM448 562h1.4v1.4h-1.4zM460.5 539.5h1.4v1.4h-1.4zM451 552.5h1.4v1.4h-1.4zM460.5 549h1.4v1.4h-1.4zM471 537.5h1.4v1.4h-1.4zM438.5 557.5h1.4v1.4h-1.4zM450.5 554.5h1.4v1.4h-1.4zM438 568h1.4v1.4h-1.4zM427 568h1.4v1.4h-1.4zM437.5 564.5h1.4v1.4h-1.4zM453 556h1.4v1.4h-1.4zM458 547h1.4v1.4h-1.4zM455.5 542.5h1.4v1.4h-1.4zM451.5 553h1.4v1.4h-1.4zM447 562.5h1.4v1.4h-1.4zM439.5 565.5h1.4v1.4h-1.4zM448.5 557.5h1.4v1.4h-1.4zM445 562.5h1.4v1.4h-1.4zM425.5 582h1.4v1.4h-1.4zM460 528h1.4v1.4h-1.4zM443 560.5h1.4v1.4h-1.4zM432.5 577h1.4v1.4h-1.4zM454.5 549h1.4v1.4h-1.4zM452.5 547h1.4v1.4h-1.4zM468.5 538.5h1.4v1.4h-1.4zM442.5 563.5h1.4v1.4h-1.4zM438.5 562h1.4v1.4h-1.4zM460 538h1.4v1.4h-1.4zM444 565.5h1.4v1.4h-1.4zM461 538.5h1.4v1.4h-1.4zM454 539h1.4v1.4h-1.4zM430.5 579h1.4v1.4h-1.4zM435.5 565.5h1.4v1.4h-1.4zM434.5 570h1.4v1.4h-1.4zM463 541h1.4v1.4h-1.4zM456.5 553h1.4v1.4h-1.4zM454.5 554.5h1.4v1.4h-1.4zM434 568.5h1.4v1.4h-1.4zM451.5 552h1.4v1.4h-1.4zM429 577.5h1.4v1.4h-1.4zM449 560.5h1.4v1.4h-1.4zM447.5 562h1.4v1.4h-1.4zM460.5 550.5h1.4v1.4h-1.4zM454 543.5h1.4v1.4h-1.4zM436.5 570.5h1.4v1.4h-1.4zM447.5 554.5h1.4v1.4h-1.4zM435 567.5h1.4v1.4h-1.4zM443.5 555.5h1.4v1.4h-1.4zM440.5 560.5h1.4v1.4h-1.4zM481 530h1.4v1.4h-1.4zM440 569.5h1.4v1.4h-1.4zM442 556.5h1.4v1.4h-1.4zM449 551h1.4v1.4h-1.4zM470 534h1.4v1.4h-1.4zM436.5 561h1.4v1.4h-1.4zM462.5 542h1.4v1.4h-1.4zM438.5 561h1.4v1.4h-1.4zM443.5 563.5h1.4v1.4h-1.4zM470 539h1.4v1.4h-1.4zM429 578.5h1.4v1.4h-1.4zM431.5 559.5h1.4v1.4h-1.4zM427 574h1.4v1.4h-1.4zM438 571h1.4v1.4h-1.4zM448 560.5h1.4v1.4h-1.4zM435.5 563.5h1.4v1.4h-1.4zM452 554h1.4v1.4h-1.4zM450.5 555h1.4v1.4h-1.4zM455 547h1.4v1.4h-1.4zM445.5 560h1.4v1.4h-1.4zM440.5 568h1.4v1.4h-1.4zM461 540.5h1.4v1.4h-1.4zM460.5 522h1.4v1.4h-1.4zM438 558h1.4v1.4h-1.4zM449 560h1.4v1.4h-1.4zM447.5 563h1.4v1.4h-1.4zM435.5 572h1.4v1.4h-1.4zM442.5 566h1.4v1.4h-1.4zM428.5 574h1.4v1.4h-1.4zM438 565h1.4v1.4h-1.4zM472.5 522.5h1.4v1.4h-1.4zM432 562h1.4v1.4h-1.4zM456 526.5h1.4v1.4h-1.4zM461 531h1.4v1.4h-1.4zM470.5 537h1.4v1.4h-1.4zM455 549.5h1.4v1.4h-1.4zM459 549.5h1.4v1.4h-1.4zM450.5 556.5h1.4v1.4h-1.4zM438.5 570h1.4v1.4h-1.4zM451 549.5h1.4v1.4h-1.4zM433.5 569h1.4v1.4h-1.4zM468.5 519.5h1.4v1.4h-1.4zM445.5 562.5h1.4v1.4h-1.4zM444 563h1.4v1.4h-1.4zM459.5 541h1.4v1.4h-1.4zM440 564.5h1.4v1.4h-1.4zM463.5 538.5h1.4v1.4h-1.4zM439.5 559h1.4v1.4h-1.4zM449 547.5h1.4v1.4h-1.4zM442 568h1.4v1.4h-1.4zM460.5 528h1.4v1.4h-1.4zM457 550h1.4v1.4h-1.4zM449 546.5h1.4v1.4h-1.4zM446.5 558h1.4v1.4h-1.4zM432.5 570h1.4v1.4h-1.4zM444.5 557.5h1.4v1.4h-1.4zM445 560h1.4v1.4h-1.4zM459 537.5h1.4v1.4h-1.4zM476 535h1.4v1.4h-1.4zM449 561h1.4v1.4h-1.4zM477 530.5h1.4v1.4h-1.4zM447.5 538.5h1.4v1.4h-1.4zM461.5 528h1.4v1.4h-1.4zM462 533.5h1.4v1.4h-1.4zM428 568.5h1.4v1.4h-1.4zM468.5 534.5h1.4v1.4h-1.4zM435.5 574.5h1.4v1.4h-1.4zM447 558h1.4v1.4h-1.4zM440.5 569h1.4v1.4h-1.4zM434.5 563.5h1.4v1.4h-1.4zM444 542.5h1.4v1.4h-1.4zM465.5 534.5h1.4v1.4h-1.4zM460.5 529h1.4v1.4h-1.4zM453.5 541.5h1.4v1.4h-1.4zM454 554.5h1.4v1.4h-1.4zM458.5 544h1.4v1.4h-1.4zM457 531.5h1.4v1.4h-1.4zM436.5 563h1.4v1.4h-1.4zM431.5 578h1.4v1.4h-1.4zM460 537h1.4v1.4h-1.4zM454.5 532.5h1.4v1.4h-1.4zM467.5 540.5h1.4v1.4h-1.4zM449.5 557h1.4v1.4h-1.4zM446.5 543.5h1.4v1.4h-1.4zM426.5 575.5h1.4v1.4h-1.4zM452 555.5h1.4v1.4h-1.4zM466 546.5h1.4v1.4h-1.4zM446.5 538.5h1.4v1.4h-1.4zM458 523h1.4v1.4h-1.4zM458 539.5h1.4v1.4h-1.4zM430 577.5h1.4v1.4h-1.4zM452 551h1.4v1.4h-1.4zM435.5 563h1.4v1.4h-1.4zM450.5 545.5h1.4v1.4h-1.4zM455 542h1.4v1.4h-1.4zM445.5 556.5h1.4v1.4h-1.4zM448 558.5h1.4v1.4h-1.4zM461 547.5h1.4v1.4h-1.4zM472 520h1.4v1.4h-1.4zM437 561.5h1.4v1.4h-1.4zM444 543.5h1.4v1.4h-1.4zM440 562h1.4v1.4h-1.4zM436 570h1.4v1.4h-1.4zM454 546h1.4v1.4h-1.4zM441.5 558.5h1.4v1.4h-1.4zM461.5 541h1.4v1.4h-1.4zM462 541.5h1.4v1.4h-1.4zM447 553.5h1.4v1.4h-1.4zM436.5 566.5h1.4v1.4h-1.4zM449.5 552h1.4v1.4h-1.4zM448 549h1.4v1.4h-1.4zM441 549h1.4v1.4h-1.4zM463 543h1.4v1.4h-1.4zM446.5 557.5h1.4v1.4h-1.4zM436 563.5h1.4v1.4h-1.4zM431.5 564h1.4v1.4h-1.4zM461 550.5h1.4v1.4h-1.4zM465 535h1.4v1.4h-1.4zM449.5 548.5h1.4v1.4h-1.4zM431 572h1.4v1.4h-1.4zM441 566h1.4v1.4h-1.4zM451.5 546.5h1.4v1.4h-1.4zM442.5 555.5h1.4v1.4h-1.4zM446 543.5h1.4v1.4h-1.4zM454 523.5h1.4v1.4h-1.4zM431 573h1.4v1.4h-1.4zM442.5 564.5h1.4v1.4h-1.4zM435.5 564h1.4v1.4h-1.4zM448.5 543.5h1.4v1.4h-1.4zM455.5 545.5h1.4v1.4h-1.4zM446.5 559h1.4v1.4h-1.4zM436.5 567h1.4v1.4h-1.4zM442 545.5h1.4v1.4h-1.4zM442 553h1.4v1.4h-1.4zM452 556.5h1.4v1.4h-1.4zM455.5 541.5h1.4v1.4h-1.4zM437 568h1.4v1.4h-1.4zM435 575h1.4v1.4h-1.4zM430.5 572h1.4v1.4h-1.4zM457 553.5h1.4v1.4h-1.4zM450 551.5h1.4v1.4h-1.4zM437 559h1.4v1.4h-1.4zM455.5 547.5h1.4v1.4h-1.4zM443 562.5h1.4v1.4h-1.4zM437 571h1.4v1.4h-1.4zM449.5 535.5h1.4v1.4h-1.4zM450 533.5h1.4v1.4h-1.4zM445 555.5h1.4v1.4h-1.4zM445.5 550h1.4v1.4h-1.4zM446.5 560h1.4v1.4h-1.4zM443.5 566h1.4v1.4h-1.4zM430.5 575h1.4v1.4h-1.4zM442 558h1.4v1.4h-1.4zM442 564.5h1.4v1.4h-1.4zM444.5 559.5h1.4v1.4h-1.4zM437.5 560.5h1.4v1.4h-1.4zM428.5 573.5h1.4v1.4h-1.4zM440.5 569.5h1.4v1.4h-1.4zM448.5 546h1.4v1.4h-1.4zM450 560h1.4v1.4h-1.4zM460.5 542.5h1.4v1.4h-1.4zM464.5 541.5h1.4v1.4h-1.4zM442.5 554.5h1.4v1.4h-1.4zM448 561h1.4v1.4h-1.4zM442.5 550.5h1.4v1.4h-1.4zM448.5 555.5h1.4v1.4h-1.4zM455 553h1.4v1.4h-1.4zM440.5 564h1.4v1.4h-1.4zM442 566h1.4v1.4h-1.4zM458 552.5h1.4v1.4h-1.4zM451 559.5h1.4v1.4h-1.4zM458 543.5h1.4v1.4h-1.4zM443.5 557.5h1.4v1.4h-1.4zM462 549.5h1.4v1.4h-1.4zM444 541.5h1.4v1.4h-1.4zM451.5 548.5h1.4v1.4h-1.4zM437.5 557h1.4v1.4h-1.4zM467 537h1.4v1.4h-1.4zM466 538.5h1.4v1.4h-1.4zM445 563h1.4v1.4h-1.4zM432.5 560.5h1.4v1.4h-1.4zM448.5 558.5h1.4v1.4h-1.4zM440 561h1.4v1.4h-1.4zM447 563h1.4v1.4h-1.4zM457.5 544.5h1.4v1.4h-1.4zM447 560h1.4v1.4h-1.4zM440.5 541.5h1.4v1.4h-1.4zM449 544.5h1.4v1.4h-1.4zM446.5 561h1.4v1.4h-1.4zM444 567h1.4v1.4h-1.4zM456.5 555h1.4v1.4h-1.4zM426.5 578.5h1.4v1.4h-1.4zM465.5 534h1.4v1.4h-1.4zM450.5 554h1.4v1.4h-1.4zM435 565h1.4v1.4h-1.4zM453 544h1.4v1.4h-1.4zM449 559.5h1.4v1.4h-1.4zM460.5 550h1.4v1.4h-1.4zM457.5 551.5h1.4v1.4h-1.4zM446.5 554.5h1.4v1.4h-1.4zM454.5 523.5h1.4v1.4h-1.4zM464.5 521.5h1.4v1.4h-1.4zM464.5 543.5h1.4v1.4h-1.4zM449 557.5h1.4v1.4h-1.4zM456 549h1.4v1.4h-1.4zM450.5 539h1.4v1.4h-1.4zM426 571.5h1.4v1.4h-1.4zM444 545h1.4v1.4h-1.4zM442 562h1.4v1.4h-1.4zM446 536.5h1.4v1.4h-1.4zM447 560.5h1.4v1.4h-1.4zM457 550.5h1.4v1.4h-1.4zM450.5 549.5h1.4v1.4h-1.4zM439.5 557h1.4v1.4h-1.4zM452 558.5h1.4v1.4h-1.4zM450.5 545h1.4v1.4h-1.4zM454.5 537.5h1.4v1.4h-1.4zM461.5 545h1.4v1.4h-1.4zM433.5 574.5h1.4v1.4h-1.4zM507 508h1.4v1.4h-1.4zM512.5 489.5h1.4v1.4h-1.4zM486 519.5h1.4v1.4h-1.4zM578 441h1.4v1.4h-1.4zM488.5 524.5h1.4v1.4h-1.4zM512 500h1.4v1.4h-1.4zM531.5 484.5h1.4v1.4h-1.4zM499 511.5h1.4v1.4h-1.4zM577 440h1.4v1.4h-1.4zM478 527.5h1.4v1.4h-1.4zM486.5 526.5h1.4v1.4h-1.4zM474 532h1.4v1.4h-1.4zM528.5 473h1.4v1.4h-1.4zM512.5 476.5h1.4v1.4h-1.4zM523 482h1.4v1.4h-1.4zM494 520.5h1.4v1.4h-1.4zM473 538.5h1.4v1.4h-1.4zM484 529h1.4v1.4h-1.4zM501.5 507.5h1.4v1.4h-1.4zM475.5 537h1.4v1.4h-1.4zM479 533.5h1.4v1.4h-1.4zM480 530.5h1.4v1.4h-1.4zM498.5 510h1.4v1.4h-1.4zM480.5 524.5h1.4v1.4h-1.4zM499.5 512.5h1.4v1.4h-1.4zM489 523h1.4v1.4h-1.4zM537.5 480h1.4v1.4h-1.4zM543 474.5h1.4v1.4h-1.4zM481.5 526h1.4v1.4h-1.4zM473.5 536h1.4v1.4h-1.4zM513.5 500.5h1.4v1.4h-1.4zM482 530.5h1.4v1.4h-1.4zM509 505h1.4v1.4h-1.4zM518.5 482h1.4v1.4h-1.4zM519 492h1.4v1.4h-1.4zM612.5 403.5h1.4v1.4h-1.4zM499.5 502h1.4v1.4h-1.4zM471 540.5h1.4v1.4h-1.4zM600.5 407.5h1.4v1.4h-1.4zM472 539.5h1.4v1.4h-1.4zM498.5 512h1.4v1.4h-1.4zM500.5 497.5h1.4v1.4h-1.4zM512 501h1.4v1.4h-1.4zM544.5 465.5h1.4v1.4h-1.4zM508.5 505.5h1.4v1.4h-1.4zM479 518.5h1.4v1.4h-1.4zM473.5 539h1.4v1.4h-1.4zM515 499.5h1.4v1.4h-1.4zM503.5 505h1.4v1.4h-1.4zM490.5 523.5h1.4v1.4h-1.4zM596 425h1.4v1.4h-1.4zM476 530.5h1.4v1.4h-1.4zM475.5 527h1.4v1.4h-1.4zM486 524.5h1.4v1.4h-1.4zM514.5 496.5h1.4v1.4h-1.4zM580 433.5h1.4v1.4h-1.4zM498 508.5h1.4v1.4h-1.4zM521.5 494.5h1.4v1.4h-1.4zM486 525h1.4v1.4h-1.4zM590.5 427.5h1.4v1.4h-1.4zM502.5 511.5h1.4v1.4h-1.4zM523.5 492h1.4v1.4h-1.4zM573 434.5h1.4v1.4h-1.4zM473 539.5h1.4v1.4h-1.4zM501 512.5h1.4v1.4h-1.4zM499 515.5h1.4v1.4h-1.4zM502.5 509h1.4v1.4h-1.4zM478 527h1.4v1.4h-1.4zM494.5 518h1.4v1.4h-1.4zM494 517.5h1.4v1.4h-1.4zM607 414h1.4v1.4h-1.4zM472.5 539.5h1.4v1.4h-1.4zM476.5 532.5h1.4v1.4h-1.4zM534 481.5h1.4v1.4h-1.4zM505.5 495.5h1.4v1.4h-1.4zM487.5 522.5h1.4v1.4h-1.4zM473 529h1.4v1.4h-1.4zM563 456.5h1.4v1.4h-1.4zM482.5 528h1.4v1.4h-1.4zM559 455.5h1.4v1.4h-1.4zM491 518.5h1.4v1.4h-1.4zM521 486.5h1.4v1.4h-1.4zM532 479h1.4v1.4h-1.4zM507 491h1.4v1.4h-1.4zM490 517.5h1.4v1.4h-1.4zM547 459.5h1.4v1.4h-1.4zM570 445.5h1.4v1.4h-1.4zM490 522.5h1.4v1.4h-1.4zM556.5 456h1.4v1.4h-1.4zM506.5 507.5h1.4v1.4h-1.4zM489.5 513h1.4v1.4h-1.4zM528.5 488.5h1.4v1.4h-1.4zM518.5 495h1.4v1.4h-1.4zM478.5 531.5h1.4v1.4h-1.4zM599 413.5h1.4v1.4h-1.4zM504 508.5h1.4v1.4h-1.4zM487 523h1.4v1.4h-1.4zM494 508.5h1.4v1.4h-1.4zM559 460h1.4v1.4h-1.4zM486.5 523.5h1.4v1.4h-1.4zM482 528.5h1.4v1.4h-1.4zM480.5 530h1.4v1.4h-1.4zM481.5 517.5h1.4v1.4h-1.4zM484.5 528.5h1.4v1.4h-1.4zM532 480.5h1.4v1.4h-1.4zM610 413h1.4v1.4h-1.4zM526 488.5h1.4v1.4h-1.4zM617.5 393.5h1.4v1.4h-1.4zM550 462.5h1.4v1.4h-1.4zM479.5 530.5h1.4v1.4h-1.4zM568 442.5h1.4v1.4h-1.4zM481 526h1.4v1.4h-1.4zM478.5 532.5h1.4v1.4h-1.4zM475 526.5h1.4v1.4h-1.4zM573.5 442.5h1.4v1.4h-1.4zM497.5 504.5h1.4v1.4h-1.4zM477.5 534.5h1.4v1.4h-1.4zM474.5 533.5h1.4v1.4h-1.4zM496 501h1.4v1.4h-1.4zM512.5 460.5h1.4v1.4h-1.4zM496 498.5h1.4v1.4h-1.4zM477.5 535h1.4v1.4h-1.4zM483 527.5h1.4v1.4h-1.4zM486 522h1.4v1.4h-1.4zM498 504.5h1.4v1.4h-1.4zM488.5 505.5h1.4v1.4h-1.4zM481.5 525.5h1.4v1.4h-1.4zM496.5 518h1.4v1.4h-1.4zM500.5 506h1.4v1.4h-1.4z" fill="#b3432b"/>
<path d="M454.5 583h1.4v1.4h-1.4zM465 569h1.4v1.4h-1.4zM456.5 581.5h1.4v1.4h-1.4zM472.5 563.5h1.4v1.4h-1.4zM456.5 585h1.4v1.4h-1.4zM456.5 577.5h1.4v1.4h-1.4zM452.5 584h1.4v1.4h-1.4zM469 571.5h1.4v1.4h-1.4zM459.5 584h1.4v1.4h-1.4zM466.5 567h1.4v1.4h-1.4zM452.5 581.5h1.4v1.4h-1.4zM458 577h1.4v1.4h-1.4zM463.5 579h1.4v1.4h-1.4zM461 572.5h1.4v1.4h-1.4zM462.5 572h1.4v1.4h-1.4zM449 589h1.4v1.4h-1.4zM462 573.5h1.4v1.4h-1.4zM451.5 586h1.4v1.4h-1.4zM454 582.5h1.4v1.4h-1.4zM452.5 584.5h1.4v1.4h-1.4zM455 582h1.4v1.4h-1.4zM460 574.5h1.4v1.4h-1.4zM453.5 581.5h1.4v1.4h-1.4zM464.5 571.5h1.4v1.4h-1.4zM452.5 585h1.4v1.4h-1.4zM456 584.5h1.4v1.4h-1.4zM458 576.5h1.4v1.4h-1.4zM459.5 574h1.4v1.4h-1.4zM459.5 578.5h1.4v1.4h-1.4zM470.5 564.5h1.4v1.4h-1.4zM451.5 581.5h1.4v1.4h-1.4zM465 579.5h1.4v1.4h-1.4zM477 557.5h1.4v1.4h-1.4zM462 578h1.4v1.4h-1.4zM459.5 581h1.4v1.4h-1.4zM457 577h1.4v1.4h-1.4zM459.5 580.5h1.4v1.4h-1.4zM463.5 570.5h1.4v1.4h-1.4zM463 580.5h1.4v1.4h-1.4zM453 585h1.4v1.4h-1.4zM458.5 575h1.4v1.4h-1.4zM447.5 592h1.4v1.4h-1.4zM444 590.5h1.4v1.4h-1.4zM463.5 574h1.4v1.4h-1.4zM457.5 580.5h1.4v1.4h-1.4zM462.5 574.5h1.4v1.4h-1.4zM467 567.5h1.4v1.4h-1.4zM454.5 587.5h1.4v1.4h-1.4zM446 586.5h1.4v1.4h-1.4zM451 586h1.4v1.4h-1.4zM466 571h1.4v1.4h-1.4zM471 568.5h1.4v1.4h-1.4zM459.5 583.5h1.4v1.4h-1.4zM454 584h1.4v1.4h-1.4zM469.5 568h1.4v1.4h-1.4zM467.5 569h1.4v1.4h-1.4zM458.5 585h1.4v1.4h-1.4zM462.5 573.5h1.4v1.4h-1.4zM457 583h1.4v1.4h-1.4zM473 574h1.4v1.4h-1.4zM465 571h1.4v1.4h-1.4zM456 577.5h1.4v1.4h-1.4zM459.5 576h1.4v1.4h-1.4zM461.5 577.5h1.4v1.4h-1.4zM464.5 574.5h1.4v1.4h-1.4zM452 582h1.4v1.4h-1.4zM467.5 578h1.4v1.4h-1.4zM462 581h1.4v1.4h-1.4zM471 563h1.4v1.4h-1.4zM447.5 585.5h1.4v1.4h-1.4zM453 582h1.4v1.4h-1.4zM462 574.5h1.4v1.4h-1.4zM457 577.5h1.4v1.4h-1.4zM442.5 591h1.4v1.4h-1.4zM447 587h1.4v1.4h-1.4zM456.5 582.5h1.4v1.4h-1.4zM460.5 577.5h1.4v1.4h-1.4zM458.5 575.5h1.4v1.4h-1.4zM464.5 582h1.4v1.4h-1.4zM453 580h1.4v1.4h-1.4zM466.5 569h1.4v1.4h-1.4zM464.5 570.5h1.4v1.4h-1.4zM458 583.5h1.4v1.4h-1.4zM463.5 571h1.4v1.4h-1.4zM469 574h1.4v1.4h-1.4zM456 579.5h1.4v1.4h-1.4zM463 572.5h1.4v1.4h-1.4zM459.5 581.5h1.4v1.4h-1.4zM459 578.5h1.4v1.4h-1.4zM465 570h1.4v1.4h-1.4zM473.5 562.5h1.4v1.4h-1.4zM467 569h1.4v1.4h-1.4zM448.5 585h1.4v1.4h-1.4zM464 586.5h1.4v1.4h-1.4zM453 589.5h1.4v1.4h-1.4zM443 593h1.4v1.4h-1.4zM459.5 575.5h1.4v1.4h-1.4zM451.5 584h1.4v1.4h-1.4zM467.5 567h1.4v1.4h-1.4zM465 585.5h1.4v1.4h-1.4zM463 573h1.4v1.4h-1.4zM451 588h1.4v1.4h-1.4zM454.5 590h1.4v1.4h-1.4zM461.5 580h1.4v1.4h-1.4zM450.5 582h1.4v1.4h-1.4zM466 572h1.4v1.4h-1.4zM449.5 588h1.4v1.4h-1.4zM460 587h1.4v1.4h-1.4zM456.5 578h1.4v1.4h-1.4zM461 574.5h1.4v1.4h-1.4zM460 574h1.4v1.4h-1.4zM452.5 589.5h1.4v1.4h-1.4zM448 586.5h1.4v1.4h-1.4zM454.5 578.5h1.4v1.4h-1.4zM449 583.5h1.4v1.4h-1.4zM463 575.5h1.4v1.4h-1.4zM440.5 592h1.4v1.4h-1.4zM469.5 566h1.4v1.4h-1.4zM455.5 579h1.4v1.4h-1.4zM457 579h1.4v1.4h-1.4zM456 583.5h1.4v1.4h-1.4zM461 573h1.4v1.4h-1.4zM459 583h1.4v1.4h-1.4zM451 585.5h1.4v1.4h-1.4zM461.5 574h1.4v1.4h-1.4zM458 576h1.4v1.4h-1.4zM451 583h1.4v1.4h-1.4zM461 578.5h1.4v1.4h-1.4zM454 585h1.4v1.4h-1.4zM468 566h1.4v1.4h-1.4zM450 590.5h1.4v1.4h-1.4zM447.5 589.5h1.4v1.4h-1.4zM474 565.5h1.4v1.4h-1.4zM441.5 590.5h1.4v1.4h-1.4zM461 574h1.4v1.4h-1.4zM457 585h1.4v1.4h-1.4zM445 587.5h1.4v1.4h-1.4zM447 586h1.4v1.4h-1.4zM446 589h1.4v1.4h-1.4zM453 585.5h1.4v1.4h-1.4zM463.5 572h1.4v1.4h-1.4zM463.5 571.5h1.4v1.4h-1.4zM457.5 578h1.4v1.4h-1.4zM443.5 589h1.4v1.4h-1.4zM460.5 573h1.4v1.4h-1.4zM462.5 577.5h1.4v1.4h-1.4zM465 572.5h1.4v1.4h-1.4zM451.5 587h1.4v1.4h-1.4zM468.5 568h1.4v1.4h-1.4zM463 571.5h1.4v1.4h-1.4zM457 578h1.4v1.4h-1.4zM458.5 577.5h1.4v1.4h-1.4zM468 571h1.4v1.4h-1.4zM458 579.5h1.4v1.4h-1.4zM467 568.5h1.4v1.4h-1.4zM453 584h1.4v1.4h-1.4zM457.5 576h1.4v1.4h-1.4zM471.5 567h1.4v1.4h-1.4zM454 581.5h1.4v1.4h-1.4zM458 585h1.4v1.4h-1.4zM454.5 581.5h1.4v1.4h-1.4zM459 578h1.4v1.4h-1.4zM449.5 587h1.4v1.4h-1.4zM471 566h1.4v1.4h-1.4zM464 570h1.4v1.4h-1.4zM458 579h1.4v1.4h-1.4zM459.5 579h1.4v1.4h-1.4zM444.5 589h1.4v1.4h-1.4zM469 565h1.4v1.4h-1.4zM461 576h1.4v1.4h-1.4zM455.5 583.5h1.4v1.4h-1.4zM467.5 567.5h1.4v1.4h-1.4zM454.5 581h1.4v1.4h-1.4zM451.5 583.5h1.4v1.4h-1.4zM463 570.5h1.4v1.4h-1.4zM458 592h1.4v1.4h-1.4zM460 590h1.4v1.4h-1.4zM457.5 576.5h1.4v1.4h-1.4zM455.5 592.5h1.4v1.4h-1.4zM471 572.5h1.4v1.4h-1.4zM454.5 582h1.4v1.4h-1.4zM464 571.5h1.4v1.4h-1.4zM462 572h1.4v1.4h-1.4zM443 592.5h1.4v1.4h-1.4zM456 580h1.4v1.4h-1.4zM461 589h1.4v1.4h-1.4zM457 576.5h1.4v1.4h-1.4zM466.5 570h1.4v1.4h-1.4zM471 564.5h1.4v1.4h-1.4zM457 576h1.4v1.4h-1.4zM476 566h1.4v1.4h-1.4zM453.5 583h1.4v1.4h-1.4zM455.5 581.5h1.4v1.4h-1.4zM466 569h1.4v1.4h-1.4zM439 592.5h1.4v1.4h-1.4zM448 584.5h1.4v1.4h-1.4zM477 563.5h1.4v1.4h-1.4zM444.5 591h1.4v1.4h-1.4zM453 592h1.4v1.4h-1.4zM460.5 572.5h1.4v1.4h-1.4zM456 587h1.4v1.4h-1.4zM453 581.5h1.4v1.4h-1.4zM467.5 573h1.4v1.4h-1.4zM454 579.5h1.4v1.4h-1.4zM460.5 574h1.4v1.4h-1.4zM464 575.5h1.4v1.4h-1.4zM449.5 593.5h1.4v1.4h-1.4zM461.5 575h1.4v1.4h-1.4zM470.5 567h1.4v1.4h-1.4zM459.5 576.5h1.4v1.4h-1.4zM468.5 573h1.4v1.4h-1.4zM465.5 585h1.4v1.4h-1.4zM455.5 581h1.4v1.4h-1.4zM470 570h1.4v1.4h-1.4zM456 579h1.4v1.4h-1.4zM463 571h1.4v1.4h-1.4zM462.5 571h1.4v1.4h-1.4zM444.5 588h1.4v1.4h-1.4zM451.5 587.5h1.4v1.4h-1.4zM471 565.5h1.4v1.4h-1.4zM452 585h1.4v1.4h-1.4zM468 572h1.4v1.4h-1.4zM461.5 572h1.4v1.4h-1.4zM450.5 588h1.4v1.4h-1.4zM459.5 578h1.4v1.4h-1.4zM452 582.5h1.4v1.4h-1.4zM462 576h1.4v1.4h-1.4zM458 577.5h1.4v1.4h-1.4zM461 580.5h1.4v1.4h-1.4zM469.5 566.5h1.4v1.4h-1.4zM454 581h1.4v1.4h-1.4zM459 576h1.4v1.4h-1.4zM446.5 586.5h1.4v1.4h-1.4zM460.5 578h1.4v1.4h-1.4zM477 566.5h1.4v1.4h-1.4zM458 575h1.4v1.4h-1.4zM461.5 589h1.4v1.4h-1.4zM453 582.5h1.4v1.4h-1.4zM458.5 592h1.4v1.4h-1.4zM455.5 584h1.4v1.4h-1.4zM466.5 568h1.4v1.4h-1.4zM457.5 577h1.4v1.4h-1.4zM452.5 581h1.4v1.4h-1.4zM472.5 568.5h1.4v1.4h-1.4zM446.5 589h1.4v1.4h-1.4zM465 585h1.4v1.4h-1.4zM554 488h1.4v1.4h-1.4zM483 555h1.4v1.4h-1.4zM485.5 551h1.4v1.4h-1.4zM537.5 502h1.4v1.4h-1.4zM477.5 566.5h1.4v1.4h-1.4zM482 556h1.4v1.4h-1.4zM506 533.5h1.4v1.4h-1.4zM515 525h1.4v1.4h-1.4zM497.5 542.5h1.4v1.4h-1.4zM544 497.5h1.4v1.4h-1.4zM617 431.5h1.4v1.4h-1.4zM484.5 552h1.4v1.4h-1.4zM540.5 499.5h1.4v1.4h-1.4zM501.5 535.5h1.4v1.4h-1.4z" fill="#3a4fa0"/>
<clipPath id="cc"><rect x="414.6" y="355.7" width="269.4" height="248.50000000000006"/></clipPath>
<g clip-path="url(#cc)"><path d="M393.4 614.2L706.9 324.1M393.4 634.3L706.9 344.3" stroke="#8dd086" stroke-width="1.15" stroke-dasharray="4.2 2.1" fill="none"/></g>
<path d="M414.6 355.7H684.0V604.2" stroke="#111" stroke-width="1.3" fill="none"/>
<path d="M414.6 355.09999999999997V604.2H684.6" stroke="#000" stroke-width="1.5" fill="none"/>
<path d="M430.3 604.2v-2M430.3 355.7v2M414.6 590.1h2M684.0 590.1h-2M467.2 604.2v-2M467.2 355.7v2M414.6 556.0h2M684.0 556.0h-2M504.0 604.2v-2M504.0 355.7v2M414.6 521.9h2M684.0 521.9h-2M540.9 604.2v-2M540.9 355.7v2M414.6 487.8h2M684.0 487.8h-2M577.8 604.2v-2M577.8 355.7v2M414.6 453.6h2M684.0 453.6h-2M614.7 604.2v-2M614.7 355.7v2M414.6 419.5h2M684.0 419.5h-2M651.6 604.2v-2M651.6 355.7v2M414.6 385.4h2M684.0 385.4h-2" stroke="#444" stroke-width="1" fill="none"/>
<text transform="translate(409.3 593.9) scale(0.88 1)" font-size="12" font-weight="bold" text-anchor="end" font-family="Liberation Sans, sans-serif">-8</text>
<text transform="translate(430.5 617.4) scale(0.88 1)" font-size="12" font-weight="bold" text-anchor="middle" font-family="Liberation Sans, sans-serif">-8</text>
<text transform="translate(409.3 559.8) scale(0.88 1)" font-size="12" font-weight="bold" text-anchor="end" font-family="Liberation Sans, sans-serif">-6</text>
<text transform="translate(467.4 617.4) scale(0.88 1)" font-size="12" font-weight="bold" text-anchor="middle" font-family="Liberation Sans, sans-serif">-6</text>
<text transform="translate(409.3 525.7) scale(0.88 1)" font-size="12" font-weight="bold" text-anchor="end" font-family="Liberation Sans, sans-serif">-4</text>
<text transform="translate(504.2 617.4) scale(0.88 1)" font-size="12" font-weight="bold" text-anchor="middle" font-family="Liberation Sans, sans-serif">-4</text>
<text transform="translate(409.3 491.6) scale(0.88 1)" font-size="12" font-weight="bold" text-anchor="end" font-family="Liberation Sans, sans-serif">-2</text>
<text transform="translate(541.1 617.4) scale(0.88 1)" font-size="12" font-weight="bold" text-anchor="middle" font-family="Liberation Sans, sans-serif">-2</text>
<text transform="translate(409.3 457.4) scale(0.88 1)" font-size="12" font-weight="bold" text-anchor="end" font-family="Liberation Sans, sans-serif">0</text>
<text transform="translate(577.8 617.4) scale(0.88 1)" font-size="12" font-weight="bold" text-anchor="middle" font-family="Liberation Sans, sans-serif">0</text>
<text transform="translate(409.3 423.3) scale(0.88 1)" font-size="12" font-weight="bold" text-anchor="end" font-family="Liberation Sans, sans-serif">2</text>
<text transform="translate(614.7 617.4) scale(0.88 1)" font-size="12" font-weight="bold" text-anchor="middle" font-family="Liberation Sans, sans-serif">2</text>
<text transform="translate(409.3 389.2) scale(0.88 1)" font-size="12" font-weight="bold" text-anchor="end" font-family="Liberation Sans, sans-serif">4</text>
<text transform="translate(651.6 617.4) scale(0.88 1)" font-size="12" font-weight="bold" text-anchor="middle" font-family="Liberation Sans, sans-serif">4</text></svg>
</body></html>
